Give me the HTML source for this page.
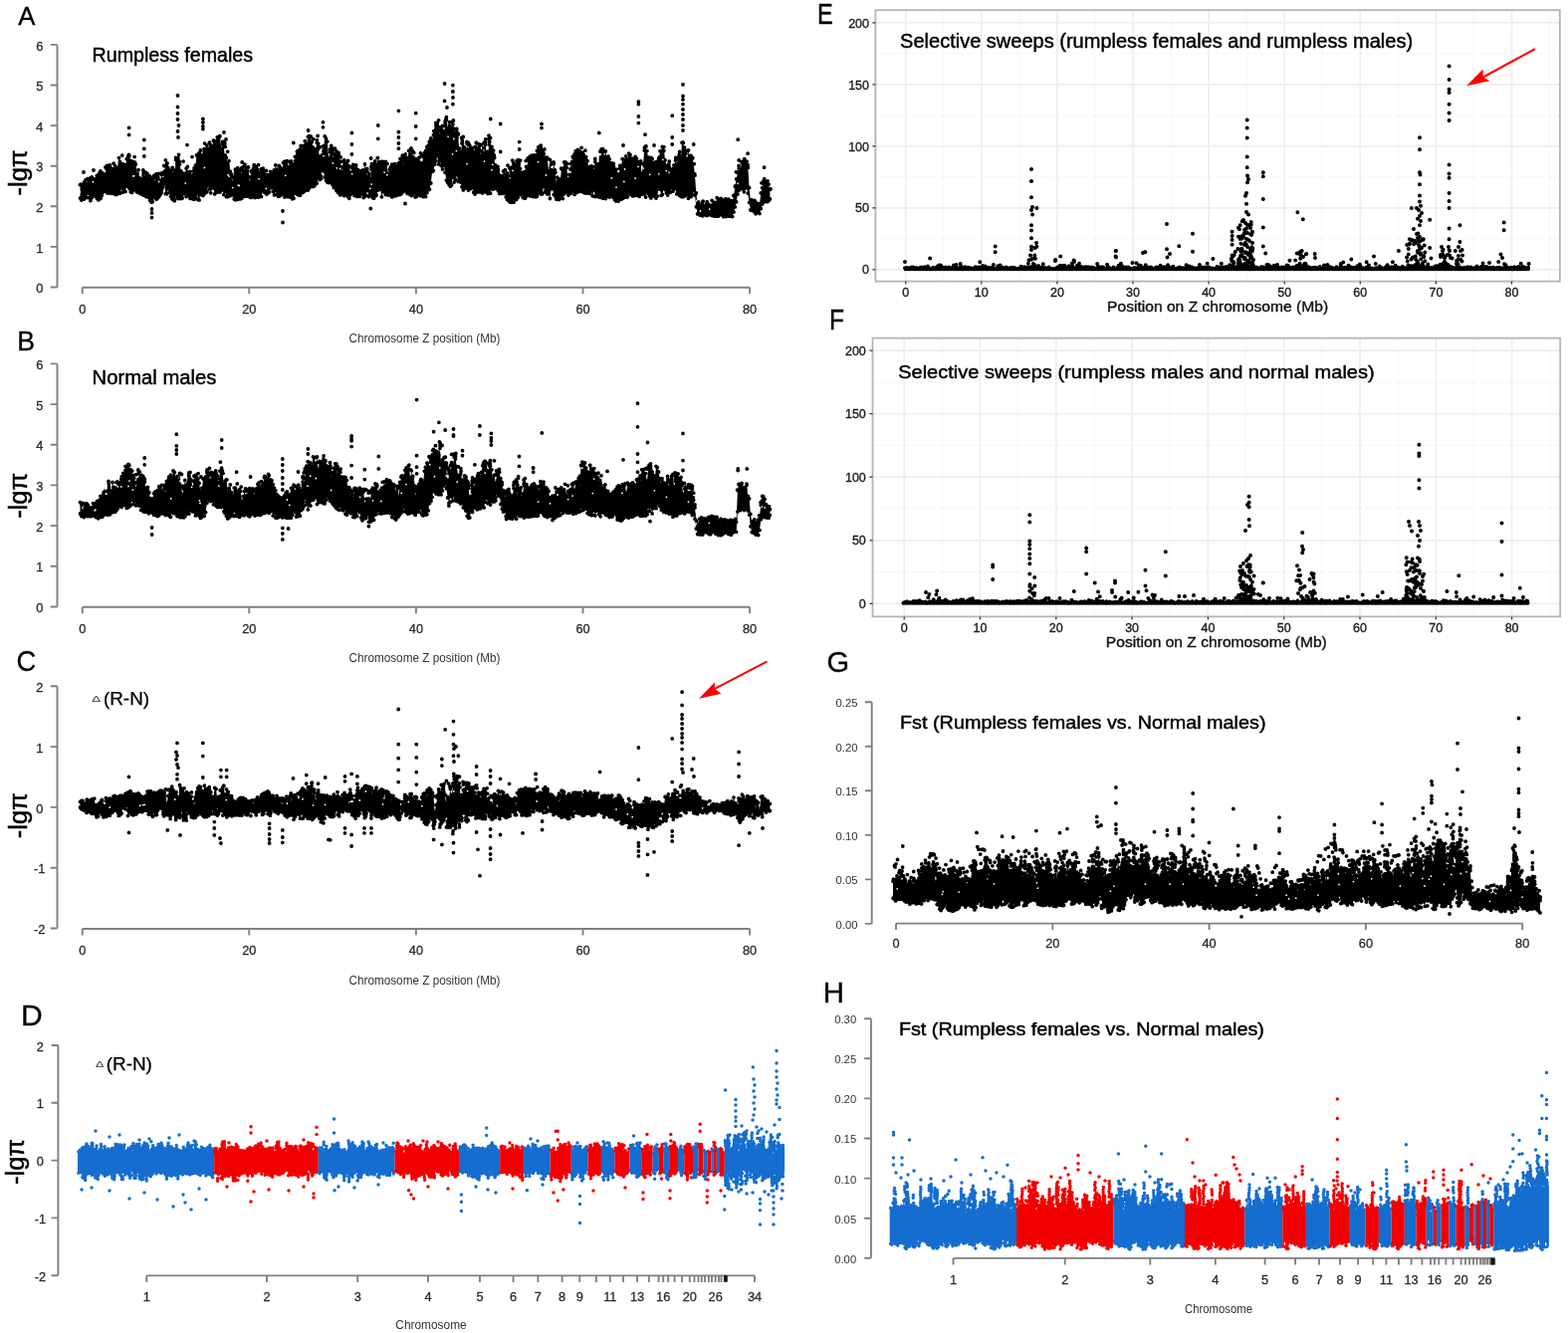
<!DOCTYPE html><html><head><meta charset="utf-8"><style>html,body{margin:0;padding:0;background:#fff}svg{display:block}text{font-family:"Liberation Sans",Arial,sans-serif}</style></head><body>
<svg width="1575" height="1339" viewBox="0 0 1575 1339">
<rect width="1575" height="1339" fill="#fff"/>
<text transform="translate(18.3 24.8) scale(0.971 1)" font-size="26.5" fill="#000" stroke="#000" stroke-width="0.3">A</text>
<text transform="translate(17.3 352.1) scale(0.982 1)" font-size="27.1" fill="#000" stroke="#000" stroke-width="0.3">B</text>
<text transform="translate(16.4 674.1) scale(0.906 1)" font-size="30.1" fill="#000" stroke="#000" stroke-width="0.3">C</text>
<text transform="translate(21 1029.5) scale(1.015 1)" font-size="29.6" fill="#000" stroke="#000" stroke-width="0.3">D</text>
<text transform="translate(821 23.5) scale(0.824 1)" font-size="28.6" fill="#000" stroke="#000" stroke-width="0.3">E</text>
<text transform="translate(832.9 330.5) scale(0.839 1)" font-size="29.4" fill="#000" stroke="#000" stroke-width="0.3">F</text>
<text transform="translate(830.5 675.4) scale(0.997 1)" font-size="29.2" fill="#000" stroke="#000" stroke-width="0.3">G</text>
<text transform="translate(826.8 1006.7) scale(0.997 1)" font-size="29.6" fill="#000" stroke="#000" stroke-width="0.3">H</text>
<path d="M57.5 44.9V288.5M57.5 44.9H50.7M57.5 85.5H50.7M57.5 126.1H50.7M57.5 166.7H50.7M57.5 207.3H50.7M57.5 247.9H50.7M57.5 288.5H50.7" stroke="#808080" stroke-width="1.9" fill="none"/><text x="39.8" y="50.5" font-size="12.8" fill="#2a2a2a" text-anchor="middle" stroke="#2a2a2a" stroke-width="0.3">6</text><text x="39.8" y="91.1" font-size="12.8" fill="#2a2a2a" text-anchor="middle" stroke="#2a2a2a" stroke-width="0.3">5</text><text x="39.8" y="131.7" font-size="12.8" fill="#2a2a2a" text-anchor="middle" stroke="#2a2a2a" stroke-width="0.3">4</text><text x="39.8" y="172.3" font-size="12.8" fill="#2a2a2a" text-anchor="middle" stroke="#2a2a2a" stroke-width="0.3">3</text><text x="39.8" y="212.9" font-size="12.8" fill="#2a2a2a" text-anchor="middle" stroke="#2a2a2a" stroke-width="0.3">2</text><text x="39.8" y="253.5" font-size="12.8" fill="#2a2a2a" text-anchor="middle" stroke="#2a2a2a" stroke-width="0.3">1</text><text x="39.8" y="294.1" font-size="12.8" fill="#2a2a2a" text-anchor="middle" stroke="#2a2a2a" stroke-width="0.3">0</text><path d="M82.7 288.8H753.1M82.7 288.8V295.3M250.3 288.8V295.3M417.9 288.8V295.3M585.5 288.8V295.3M753.1 288.8V295.3" stroke="#808080" stroke-width="1.9" fill="none"/><text x="82.7" y="314.6" font-size="12.8" fill="#2a2a2a" text-anchor="middle" stroke="#2a2a2a" stroke-width="0.3">0</text><text x="250.3" y="314.6" font-size="12.8" fill="#2a2a2a" text-anchor="middle" stroke="#2a2a2a" stroke-width="0.3">20</text><text x="417.9" y="314.6" font-size="12.8" fill="#2a2a2a" text-anchor="middle" stroke="#2a2a2a" stroke-width="0.3">40</text><text x="585.5" y="314.6" font-size="12.8" fill="#2a2a2a" text-anchor="middle" stroke="#2a2a2a" stroke-width="0.3">60</text><text x="753.1" y="314.6" font-size="12.8" fill="#2a2a2a" text-anchor="middle" stroke="#2a2a2a" stroke-width="0.3">80</text><text x="426.5" y="344.1" font-size="12.5" fill="#333" text-anchor="middle" textLength="152" lengthAdjust="spacingAndGlyphs">Chromosome Z position (Mb)</text><text transform="translate(27 173.5) rotate(-90)" font-size="25.5" text-anchor="middle" fill="#000" stroke="#000" stroke-width="0.5">-lgπ</text><polygon points="80.5,185.6 81.8,185.5 83.1,185.4 84.4,183.1 85.7,184 87,185.2 88.3,179.6 89.6,182 90.9,181.7 92.2,178 93.5,179.5 94.8,182.6 96.1,179.8 97.4,179.3 98.7,178.4 100,178.3 101.3,172.7 102.6,176.5 103.9,174.1 105.2,178.3 106.5,169 107.8,166.6 109.1,166.5 110.4,165.8 111.7,168.9 113,171.3 114.3,169.8 115.6,169.3 116.9,174.1 118.2,168.5 119.5,158.6 120.8,165.1 122.1,167.6 123.4,164.6 124.7,165.6 126,165.7 127.3,159.7 128.6,157.1 129.9,156.5 131.2,161.3 132.5,163.4 133.8,162.5 135.1,168.8 136.4,165.1 137.7,174.6 139,170.7 140.3,178.9 141.6,183.1 142.9,181.2 144.2,179.2 145.5,178.2 146.8,173.4 148.1,174.6 149.4,179.9 150.7,177.2 152,179.4 153.3,182.1 154.6,176.6 155.9,184.3 157.2,181.9 158.5,177.7 159.8,174.4 161.1,181.4 162.4,175.6 163.7,180 165,174.9 166.3,160.8 167.6,165.1 168.9,168.3 170.2,173.8 171.5,174.6 172.8,170.7 174.1,174.9 175.4,175.1 176.7,160.5 178,164.2 179.3,161.4 180.6,165.1 181.9,172 183.2,177.1 184.5,177.1 185.8,176.9 187.1,169.1 188.4,172.8 189.7,173.6 191,172.4 192.3,176.1 193.6,176.4 194.9,174.4 196.2,168.9 197.5,155.9 198.8,157.6 200.1,156.5 201.4,151 202.7,155.8 204,157.4 205.3,155.2 206.6,156.4 207.9,151.7 209.2,152.7 210.5,143.2 211.8,145.9 213.1,147.1 214.4,141.2 215.7,147.7 217,145.2 218.3,137.8 219.6,138.6 220.9,136.7 222.2,149.3 223.5,145.1 224.8,146.6 226.1,161.6 227.4,166.8 228.7,165 230,161.6 231.3,172.2 232.6,177.9 233.9,185.6 235.2,183 236.5,178.6 237.8,179.2 239.1,174.2 240.4,176.7 241.7,178.9 243,171.4 244.3,167.6 245.6,172.3 246.9,174.2 248.2,171.8 249.5,167.9 250.8,183.4 252.1,171.9 253.4,173.8 254.7,178 256,182.5 257.3,178.6 258.6,181.3 259.9,173.1 261.2,174.2 262.5,170.3 263.8,169.8 265.1,173.1 266.4,178.1 267.7,183.7 269,179 270.3,175.9 271.6,178 272.9,181.7 274.2,175.8 275.5,174.9 276.8,165.9 278.1,173.3 279.4,170.8 280.7,166.9 282,168.6 283.3,172.8 284.6,163.5 285.9,162.4 287.2,163.8 288.5,161.8 289.8,167.9 291.1,163 292.4,163.3 293.7,165.9 295,165.2 296.3,161.6 297.6,160.7 298.9,154.8 300.2,152.7 301.5,149.8 302.8,146.7 304.1,154.4 305.4,149.1 306.7,145.3 308,144.8 309.3,137.3 310.6,136.7 311.9,137.7 313.2,142.7 314.5,148.1 315.8,160 317.1,155.8 318.4,152 319.7,149.8 321,157.2 322.3,158.4 323.6,155.7 324.9,152.2 326.2,136.8 327.5,139.1 328.8,142.1 330.1,159.5 331.4,152.6 332.7,146.7 334,154.9 335.3,160.9 336.6,157.6 337.9,151.9 339.2,154.5 340.5,156.1 341.8,162.7 343.1,167.9 344.4,174.4 345.7,172 347,167.4 348.3,163.6 349.6,161.5 350.9,167.3 352.2,173.4 353.5,168 354.8,165.4 356.1,170 357.4,168.5 358.7,170.8 360,171.4 361.3,173.7 362.6,175.8 363.9,171.2 365.2,176.7 366.5,165 367.8,170.5 369.1,177.9 370.4,176.8 371.7,183.4 373,170.2 374.3,167.7 375.6,167.5 376.9,164.8 378.2,165.6 379.5,158.7 380.8,163.2 382.1,163.1 383.4,165.1 384.7,162.3 386,163.3 387.3,162.4 388.6,164.5 389.9,174.4 391.2,173.8 392.5,170.8 393.8,165.1 395.1,165.9 396.4,167.5 397.7,168.9 399,167.2 400.3,163.8 401.6,163.2 402.9,159.8 404.2,158.8 405.5,166.3 406.8,163 408.1,163.4 409.4,161.7 410.7,151.4 412,154.9 413.3,150.7 414.6,157.4 415.9,159 417.2,168.6 418.5,177.1 419.8,162.2 421.1,158.1 422.4,163.4 423.7,166.9 425,157.3 426.3,153.7 427.6,151.4 428.9,147.5 430.2,146.5 431.5,150 432.8,139 434.1,141.7 435.4,135.7 436.7,135.8 438,129.1 439.3,123.3 440.6,120.8 441.9,136.4 443.2,132.8 444.5,132.1 445.8,133.8 447.1,126.7 448.4,120.5 449.7,140.2 451,140.1 452.3,144.6 453.6,136.6 454.9,124.8 456.2,129.5 457.5,136.7 458.8,137.9 460.1,135.2 461.4,152 462.7,154.2 464,143.9 465.3,137.4 466.6,148.2 467.9,154.3 469.2,144.5 470.5,153 471.8,146.1 473.1,148.5 474.4,152.5 475.7,153.9 477,147.7 478.3,143.4 479.6,149.9 480.9,153.3 482.2,158.4 483.5,151.8 484.8,152.9 486.1,154.4 487.4,145.6 488.7,152.4 490,153.4 491.3,145.2 492.6,138.6 493.9,158.6 495.2,156.8 496.5,158.8 497.8,171.6 499.1,174.9 500.4,175.9 501.7,178.5 503,180.4 504.3,180.3 505.6,171.9 506.9,178.9 508.2,177 509.5,173.9 510.8,177 512.1,181.5 513.4,176.5 514.7,161.1 516,164.3 517.3,169.4 518.6,166.8 519.9,166.7 521.2,166.1 522.5,169.3 523.8,175.9 525.1,175.9 526.4,178.2 527.7,174.3 529,173 530.3,159.2 531.6,158.6 532.9,157 534.2,156.2 535.5,157.6 536.8,156.4 538.1,156 539.4,151.4 540.7,147.9 542,147.5 543.3,149 544.6,154.2 545.9,157.1 547.2,161.3 548.5,161.2 549.8,159 551.1,172.1 552.4,160.4 553.7,170.7 555,171.9 556.3,164.6 557.6,173.6 558.9,185.7 560.2,182.3 561.5,184.3 562.8,180.1 564.1,170.1 565.4,169.5 566.7,162.9 568,162.8 569.3,168.5 570.6,180.1 571.9,175.4 573.2,175.6 574.5,168.2 575.8,158.7 577.1,154.8 578.4,158.5 579.7,154.5 581,153 582.3,152 583.6,155.1 584.9,158.8 586.2,155.2 587.5,157.8 588.8,168.8 590.1,161.6 591.4,170.2 592.7,167.4 594,166.8 595.3,167.4 596.6,171.4 597.9,162.4 599.2,165.1 600.5,169.8 601.8,167.5 603.1,163.4 604.4,152.7 605.7,152.5 607,157.4 608.3,152 609.6,159.1 610.9,157.2 612.2,159.9 613.5,164.3 614.8,166.9 616.1,170.1 617.4,172.5 618.7,175.7 620,177.8 621.3,178 622.6,169.2 623.9,169.5 625.2,159.7 626.5,163.9 627.8,166.9 629.1,165.2 630.4,160.3 631.7,154.1 633,155.4 634.3,159.3 635.6,159.9 636.9,160.7 638.2,157.5 639.5,159.5 640.8,162.6 642.1,169 643.4,164.8 644.7,174.5 646,164.6 647.3,151.2 648.6,147 649.9,151.6 651.2,159 652.5,161.9 653.8,161.1 655.1,159.4 656.4,163.8 657.7,163.5 659,166.5 660.3,170.9 661.6,161.8 662.9,157.4 664.2,156.1 665.5,156.7 666.8,151.5 668.1,160.8 669.4,166.5 670.7,169.6 672,176.2 673.3,169.8 674.6,171.8 675.9,172.1 677.2,166.8 678.5,161.1 679.8,165.2 681.1,159.2 682.4,166.4 683.7,162.7 685,143.3 686.3,143.5 687.6,150.9 688.9,154.5 690.2,164.8 691.5,151 692.8,157.5 694.1,156.5 695.4,159.3 696.7,164.7 698,176.2 699.3,194 700.6,205.6 701.9,206.1 703.2,207.2 704.5,205.4 705.8,203 707.1,209.2 708.4,207.6 709.7,205 711,207.8 712.3,206 713.6,207.2 714.9,206.9 716.2,207.8 717.5,203.5 718.8,203.9 720.1,203.2 721.4,200.1 722.7,200.5 724,202.1 725.3,200.9 726.6,203 727.9,201.5 729.2,200 730.5,202.3 731.8,201.3 733.1,201.9 734.4,201.6 735.7,202.5 737,196.4 738.3,187.5 739.6,179.9 740.9,173.3 742.2,169.3 743.5,172.5 744.8,162.7 746.1,163.8 747.4,160.3 748.7,161.5 750,165.1 751.3,168.4 752.6,188.5 753.9,202.3 755.2,201 756.5,202.6 757.8,201.6 759.1,203.5 760.4,208.4 761.7,207.5 763,204.7 764.3,193.9 765.6,188.7 766.9,184 768.2,181.8 769.5,185.5 770.8,187.4 772.1,190.7 773.4,190.4 773.4,200 772.1,201.6 770.8,202.7 769.5,202.3 768.2,202.5 766.9,203.3 765.6,205.2 764.3,209.5 763,214.6 761.7,213.2 760.4,212.5 759.1,214.8 757.8,213.1 756.5,211.1 755.2,211.4 753.9,211 752.6,203.4 751.3,194.2 750,188.5 748.7,189 747.4,192.8 746.1,189.5 744.8,186.8 743.5,184.5 742.2,185.6 740.9,195 739.6,202.9 738.3,207.9 737,213 735.7,217.6 734.4,217.3 733.1,217.2 731.8,217.1 730.5,216.3 729.2,217.5 727.9,217.3 726.6,217.5 725.3,215.8 724,214.7 722.7,216 721.4,217.2 720.1,216.6 718.8,217.2 717.5,217.2 716.2,215.1 714.9,216.5 713.6,214.5 712.3,214.9 711,216.3 709.7,216.6 708.4,215.6 707.1,214.8 705.8,216.9 704.5,214.8 703.2,216.2 701.9,214.9 700.6,214.9 699.3,207.8 698,196 696.7,191.5 695.4,195.8 694.1,197.6 692.8,196.5 691.5,199.3 690.2,195.5 688.9,193.5 687.6,197 686.3,197.5 685,197.8 683.7,194.3 682.4,191 681.1,192.1 679.8,194.9 678.5,189.7 677.2,189.2 675.9,192.2 674.6,188.6 673.3,193.3 672,192.4 670.7,196.1 669.4,193.8 668.1,190.6 666.8,189 665.5,195.3 664.2,196.4 662.9,190.2 661.6,187.3 660.3,197 659,199.1 657.7,194.1 656.4,196.1 655.1,197 653.8,198.9 652.5,196.8 651.2,194.5 649.9,189.9 648.6,198.1 647.3,195.1 646,193.8 644.7,195.2 643.4,195 642.1,197.4 640.8,196.3 639.5,196 638.2,196.2 636.9,196.7 635.6,196.9 634.3,195.7 633,194.9 631.7,193.3 630.4,197.8 629.1,198.2 627.8,197.8 626.5,198.7 625.2,199.6 623.9,200.2 622.6,200.1 621.3,202.1 620,201.4 618.7,201.9 617.4,200.6 616.1,198.3 614.8,195.8 613.5,194.4 612.2,195.2 610.9,194.3 609.6,197.4 608.3,199.5 607,199.2 605.7,199.2 604.4,198.5 603.1,197.8 601.8,198 600.5,197.3 599.2,196.9 597.9,197.5 596.6,190.8 595.3,196.9 594,191.5 592.7,194.4 591.4,192.3 590.1,194.1 588.8,190.4 587.5,193.9 586.2,193.2 584.9,192.5 583.6,190.8 582.3,192.3 581,192.3 579.7,193.2 578.4,193.7 577.1,195.4 575.8,191.9 574.5,189.5 573.2,191.5 571.9,192.9 570.6,190.4 569.3,192.7 568,193 566.7,194.9 565.4,199.5 564.1,199.2 562.8,198.1 561.5,200.6 560.2,198.9 558.9,200.2 557.6,196.9 556.3,195.4 555,189.6 553.7,189.7 552.4,199.5 551.1,194.6 549.8,192.3 548.5,191.2 547.2,193 545.9,187.4 544.6,194.9 543.3,195.1 542,192.7 540.7,193.9 539.4,197.3 538.1,197.8 536.8,196.9 535.5,197.6 534.2,195.7 532.9,194.1 531.6,196.2 530.3,195.4 529,196.8 527.7,199 526.4,199.1 525.1,198.2 523.8,194.3 522.5,195.5 521.2,194.5 519.9,192.9 518.6,200.6 517.3,199.2 516,203.2 514.7,202.3 513.4,203.3 512.1,203 510.8,201.5 509.5,200.5 508.2,197.9 506.9,194 505.6,192.7 504.3,194.4 503,192.7 501.7,194.6 500.4,191.7 499.1,187.4 497.8,189.4 496.5,189.2 495.2,184.6 493.9,186 492.6,194.2 491.3,193.9 490,194.5 488.7,193 487.4,192.4 486.1,192.6 484.8,193.9 483.5,193.1 482.2,192.8 480.9,192.8 479.6,192.5 478.3,193.3 477,195.1 475.7,193.2 474.4,188.2 473.1,186.7 471.8,188.9 470.5,191.1 469.2,189.2 467.9,186.1 466.6,188.9 465.3,190.9 464,187.7 462.7,183 461.4,181.1 460.1,182.3 458.8,175.6 457.5,180.2 456.2,183 454.9,175.4 453.6,185.9 452.3,187.2 451,185.5 449.7,183.3 448.4,181.2 447.1,173.3 445.8,166.1 444.5,170.1 443.2,166.5 441.9,161.5 440.6,164.9 439.3,156.6 438,161.7 436.7,165.2 435.4,171.3 434.1,172.4 432.8,184 431.5,190.2 430.2,187.9 428.9,193.7 427.6,197.6 426.3,197.1 425,197.5 423.7,195.2 422.4,196.7 421.1,193.4 419.8,195.4 418.5,197.3 417.2,198.1 415.9,193.5 414.6,195.6 413.3,196.5 412,195.5 410.7,193 409.4,194.4 408.1,193.1 406.8,191.6 405.5,191.3 404.2,193 402.9,194.9 401.6,195.6 400.3,195.7 399,195.9 397.7,196.7 396.4,195.4 395.1,197.1 393.8,197.9 392.5,196.2 391.2,194.8 389.9,196.1 388.6,193.8 387.3,195.5 386,192.7 384.7,192.5 383.4,197.8 382.1,188.5 380.8,187.8 379.5,191.1 378.2,196.1 376.9,194 375.6,199.2 374.3,198.7 373,196.6 371.7,195.8 370.4,197.5 369.1,191.3 367.8,196.3 366.5,197.3 365.2,198.5 363.9,194.8 362.6,195.2 361.3,197.3 360,197 358.7,197.4 357.4,194 356.1,196.6 354.8,193.9 353.5,191 352.2,195.5 350.9,199.3 349.6,197.7 348.3,195.8 347,193.9 345.7,196.7 344.4,195.1 343.1,192.8 341.8,195.9 340.5,194 339.2,193.1 337.9,191.3 336.6,188.5 335.3,188.6 334,185.5 332.7,180.8 331.4,181.8 330.1,183.5 328.8,183 327.5,181.3 326.2,177.9 324.9,171.9 323.6,170.5 322.3,176.8 321,180.4 319.7,175.4 318.4,184.1 317.1,184.7 315.8,186.8 314.5,187.4 313.2,187.4 311.9,187.4 310.6,188.9 309.3,191.1 308,187.7 306.7,191.3 305.4,192.2 304.1,193.4 302.8,193.9 301.5,196.2 300.2,196.1 298.9,195.4 297.6,193.6 296.3,194 295,199.2 293.7,199.8 292.4,197.7 291.1,198.1 289.8,195.3 288.5,197.6 287.2,196.9 285.9,198 284.6,194.8 283.3,193.6 282,196.1 280.7,197 279.4,197.2 278.1,195.6 276.8,191.7 275.5,195.9 274.2,192.4 272.9,188.2 271.6,188.9 270.3,193 269,194.1 267.7,195.1 266.4,193.5 265.1,192.9 263.8,191.6 262.5,197.4 261.2,197.5 259.9,198 258.6,197.8 257.3,197.8 256,198.6 254.7,197.5 253.4,196.8 252.1,198.4 250.8,197.8 249.5,195 248.2,197.2 246.9,195.8 245.6,197.2 244.3,197.4 243,199 241.7,199.8 240.4,197.1 239.1,200.3 237.8,200.1 236.5,200.8 235.2,200 233.9,195.9 232.6,195.2 231.3,196.3 230,197.2 228.7,197.5 227.4,197.7 226.1,192.2 224.8,195.6 223.5,189.8 222.2,191.3 220.9,193.1 219.6,192.1 218.3,193.1 217,192.4 215.7,194.9 214.4,189 213.1,188.4 211.8,193.8 210.5,189.9 209.2,186.1 207.9,192.8 206.6,190.8 205.3,194.7 204,196.6 202.7,193.1 201.4,194.5 200.1,200.9 198.8,200.5 197.5,190.5 196.2,195.9 194.9,200.4 193.6,198.6 192.3,199.4 191,199.3 189.7,196.5 188.4,196.6 187.1,197.5 185.8,193.3 184.5,194.7 183.2,199 181.9,199.6 180.6,198.5 179.3,199.6 178,198.9 176.7,195.7 175.4,201.7 174.1,200.8 172.8,199.8 171.5,197.2 170.2,193.1 168.9,189.4 167.6,194.8 166.3,194.7 165,183.6 163.7,185.2 162.4,190.8 161.1,195.6 159.8,197.4 158.5,199.1 157.2,200.2 155.9,197.7 154.6,198.6 153.3,202.8 152,203.1 150.7,201.5 149.4,198.4 148.1,194.5 146.8,197.6 145.5,196.5 144.2,196 142.9,195.4 141.6,194.8 140.3,193 139,193.5 137.7,190 136.4,191.7 135.1,190 133.8,190.7 132.5,193.4 131.2,192.7 129.9,189.3 128.6,187.6 127.3,184.4 126,192.5 124.7,192.2 123.4,193 122.1,188.9 120.8,194 119.5,194.4 118.2,194.3 116.9,195.5 115.6,195.2 114.3,194.6 113,194.2 111.7,191 110.4,188.6 109.1,193.1 107.8,193.9 106.5,192.3 105.2,191.4 103.9,192.8 102.6,193.5 101.3,199.1 100,200.1 98.7,200.8 97.4,199.3 96.1,197.6 94.8,196.2 93.5,196.8 92.2,198.7 90.9,201.6 89.6,198.7 88.3,194.1 87,198.5 85.7,198.3 84.4,200 83.1,199.2 81.8,201 80.5,199.1" fill="#000"/><path d="M80.5 185.6h0M80.5 199.1h0M80.4 185.6h0M81.8 185.5h0M81.8 201h0M81.4 185.3h0M83.1 185.4h0M83.1 199.2h0M84.4 183.1h0M84.4 200h0M85.7 184h0M85.7 198.3h0M85.9 180.9h0M87 185.2h0M87 198.5h0M87.2 185.2h0M88.3 179.6h0M88.3 194.1h0M87.8 179.6h0M89.6 182h0M89.6 198.7h0M90.9 181.7h0M90.9 201.6h0M90.7 178.9h0M90.3 180.9h0M92.2 178h0M92.2 198.7h0M93.5 179.5h0M93.5 196.8h0M92.9 179.4h0M94.8 182.6h0M94.8 196.2h0M96.1 179.8h0M96.1 197.6h0M97.4 179.3h0M97.4 199.3h0M97.3 176.5h0M98.7 178.4h0M98.7 200.8h0M98.9 175.6h0M98.1 178.4h0M100 178.3h0M100 200.1h0M99.9 175.5h0M100.1 173.5h0M101.3 172.7h0M101.3 199.1h0M100.9 171.9h0M102.6 176.5h0M102.6 193.5h0M102.3 196.3h0M103.9 174.1h0M103.9 192.8h0M105.2 178.3h0M105.2 191.4h0M105.7 176.7h0M106.5 169h0M106.5 192.3h0M105.9 167.8h0M107.8 166.6h0M107.8 193.9h0M107.5 166.5h0M109.1 166.5h0M109.1 193.1h0M109.1 166.3h0M110.4 165.8h0M110.4 188.6h0M110.1 191.4h0M110.1 194.2h0M111.7 168.9h0M111.7 191h0M111.7 193.8h0M113 171.3h0M113 194.2h0M112.4 170.2h0M114.3 169.8h0M114.3 194.6h0M114.1 164.2h0M115.6 169.3h0M115.6 195.2h0M115.5 166.5h0M116.9 174.1h0M116.9 195.5h0M116.7 171.3h0M116.4 173.3h0M118.2 168.5h0M118.2 194.3h0M119.5 158.6h0M119.5 194.4h0M120.8 165.1h0M120.8 194h0M120.4 162.3h0M120.4 165h0M122.1 167.6h0M122.1 188.9h0M122.7 156.1h0M123.4 164.6h0M123.4 193h0M123.4 164.6h0M124.7 165.6h0M124.7 192.2h0M126 165.7h0M126 192.5h0M127.3 159.7h0M127.3 184.4h0M127.6 187.2h0M128.6 157.1h0M128.6 187.6h0M129.9 156.5h0M129.9 189.3h0M129.4 155.4h0M131.2 161.3h0M131.2 192.7h0M132.5 163.4h0M132.5 193.4h0M133.8 162.5h0M133.8 190.7h0M135.1 168.8h0M135.1 190h0M135.5 163.2h0M135.1 157.6h0M135.6 165.3h0M136.4 165.1h0M136.4 191.7h0M137.7 174.6h0M137.7 190h0M137.6 192.8h0M137.2 174.4h0M139 170.7h0M139 193.5h0M140.3 178.9h0M140.3 193h0M141.6 183.1h0M141.6 194.8h0M141.7 179.7h0M142.9 181.2h0M142.9 195.4h0M142.5 181h0M144.2 179.2h0M144.2 196h0M144.1 176.4h0M144.1 173.6h0M143.8 170.8h0M144.2 173.8h0M145.5 178.2h0M145.5 196.5h0M144.9 172.8h0M146.8 173.4h0M146.8 197.6h0M146.3 173.3h0M148.1 174.6h0M148.1 194.5h0M148.4 197.3h0M149.4 179.9h0M149.4 198.4h0M149.5 179.9h0M150.7 177.2h0M150.7 201.5h0M150.1 177.1h0M152 179.4h0M152 203.1h0M152.4 179.2h0M153.3 182.1h0M153.3 202.8h0M152.9 181.8h0M154.6 176.6h0M154.6 198.6h0M155.1 176.2h0M155.9 184.3h0M155.9 197.7h0M155.8 178.7h0M155.8 175.9h0M156.4 184.1h0M157.2 181.9h0M157.2 200.2h0M157.5 179.1h0M157.1 174.7h0M158.5 177.7h0M158.5 199.1h0M159.8 174.4h0M159.8 197.4h0M161.1 181.4h0M161.1 195.6h0M162.4 175.6h0M162.4 190.8h0M162.1 193.6h0M162.5 173.8h0M163.7 180h0M163.7 185.2h0M163.6 188h0M165 174.9h0M165 183.6h0M165.2 172.1h0M164.8 166.5h0M166.3 160.8h0M166.3 194.7h0M167.6 165.1h0M167.6 194.8h0M168 163.9h0M168.9 168.3h0M168.9 189.4h0M170.2 173.8h0M170.2 193.1h0M169.9 171h0M171.5 174.6h0M171.5 197.2h0M171.6 171.8h0M172.8 170.7h0M172.8 199.8h0M173.3 168.3h0M174.1 174.9h0M174.1 200.8h0M173.8 169.8h0M175.4 175.1h0M175.4 201.7h0M175.9 171.7h0M176.7 160.5h0M176.7 195.7h0M176.6 158.5h0M178 164.2h0M178 198.9h0M178.1 159.9h0M179.3 161.4h0M179.3 199.6h0M178.9 158.6h0M179.6 155.3h0M180.6 165.1h0M180.6 198.5h0M180.2 162.3h0M181.9 172h0M181.9 199.6h0M183.2 177.1h0M183.2 199h0M184.5 177.1h0M184.5 194.7h0M184.3 174.3h0M184.1 162.1h0M185.8 176.9h0M185.8 193.3h0M186.1 174.1h0M187.1 169.1h0M187.1 197.5h0M187.4 169.1h0M188.4 172.8h0M188.4 196.6h0M188.4 167.5h0M189.7 173.6h0M189.7 196.5h0M191 172.4h0M191 199.3h0M192.3 176.1h0M192.3 199.4h0M193.6 176.4h0M193.6 198.6h0M194.9 174.4h0M194.9 200.4h0M194.5 171.6h0M195.1 168.8h0M196.2 168.9h0M196.2 195.9h0M196.4 166.1h0M196.2 198.7h0M196.5 166.1h0M197.5 155.9h0M197.5 190.5h0M197.4 193.3h0M198.8 157.6h0M198.8 200.5h0M199.1 154.8h0M199.1 154.9h0M200.1 156.5h0M200.1 200.9h0M200 153.7h0M201.4 151h0M201.4 194.5h0M202.7 155.8h0M202.7 193.1h0M202.8 195.9h0M202.2 155.7h0M204 157.4h0M204 196.6h0M205.3 155.2h0M205.3 194.7h0M205.1 152.4h0M205 149.6h0M205.6 144.1h0M206.6 156.4h0M206.6 190.8h0M206.4 153.6h0M206.6 150.8h0M206.8 193.6h0M207.9 151.7h0M207.9 192.8h0M208.2 148.9h0M207.8 146.1h0M209.2 152.7h0M209.2 186.1h0M209.5 149.5h0M210.5 143.2h0M210.5 189.9h0M210.3 143.4h0M211.8 145.9h0M211.8 193.8h0M213.1 147.1h0M213.1 188.4h0M214.4 141.2h0M214.4 189h0M214.5 141.2h0M215.7 147.7h0M215.7 194.9h0M215.8 144.9h0M215.6 143h0M217 145.2h0M217 192.4h0M217.2 141.6h0M218.3 137.8h0M218.3 193.1h0M218.4 138.2h0M219.6 138.6h0M219.6 192.1h0M219.9 138.6h0M220.9 136.7h0M220.9 193.1h0M220.6 136.7h0M222.2 149.3h0M222.2 191.3h0M223.5 145.1h0M223.5 189.8h0M223.5 142.3h0M223.9 143.6h0M224.8 146.6h0M224.8 195.6h0M224.6 143.8h0M225 142.3h0M226.1 161.6h0M226.1 192.2h0M226.2 156h0M226.2 147.6h0M225.8 144.8h0M225.7 143.3h0M227.4 166.8h0M227.4 197.7h0M227.7 164h0M227.4 158.4h0M228.7 165h0M228.7 197.5h0M228.7 152.3h0M230 161.6h0M230 197.2h0M231.3 172.2h0M231.3 196.3h0M232.6 177.9h0M232.6 195.2h0M232.6 175.1h0M232.6 176.9h0M233.9 185.6h0M233.9 195.9h0M234.1 182.8h0M235.2 183h0M235.2 200h0M235.3 180.2h0M235.4 177.4h0M235.4 179.7h0M236.5 178.6h0M236.5 200.8h0M236.8 175.8h0M236.5 173h0M236.3 170.2h0M237.8 179.2h0M237.8 200.1h0M237.8 176.4h0M237.9 170.8h0M237.7 179h0M239.1 174.2h0M239.1 200.3h0M238.8 168.6h0M239.4 173.5h0M240.4 176.7h0M240.4 197.1h0M240.2 173.9h0M240.6 171.1h0M241.7 178.9h0M241.7 199.8h0M242.1 176h0M243 171.4h0M243 199h0M242.8 168.6h0M243.2 163h0M244.3 167.6h0M244.3 197.4h0M245.6 172.3h0M245.6 197.2h0M245.8 166.7h0M246 165.2h0M246.9 174.2h0M246.9 195.8h0M246.7 171.4h0M247 168.6h0M248.2 171.8h0M248.2 197.2h0M249.5 167.9h0M249.5 195h0M250.8 183.4h0M250.8 197.8h0M250.7 177.8h0M252.1 171.9h0M252.1 198.4h0M253.4 173.8h0M253.4 196.8h0M254.7 178h0M254.7 197.5h0M255.1 175.2h0M254.6 172.4h0M254.4 169.6h0M255.1 166.8h0M255.2 165.6h0M256 182.5h0M256 198.6h0M256.4 179.7h0M255.8 176.9h0M256.2 174.1h0M255.8 168.5h0M256.2 182.5h0M257.3 178.6h0M257.3 197.8h0M257 175.8h0M257 173h0M257.6 170.2h0M257.3 167.4h0M257.5 178.1h0M258.6 181.3h0M258.6 197.8h0M258.9 175.7h0M258.3 172.9h0M258.5 170.1h0M259.1 172.8h0M259.9 173.1h0M259.9 198h0M259.6 165.6h0M261.2 174.2h0M261.2 197.5h0M262.5 170.3h0M262.5 197.4h0M262.2 170h0M263.8 169.8h0M263.8 191.6h0M264.2 169.1h0M265.1 173.1h0M265.1 192.9h0M264.7 171.7h0M266.4 178.1h0M266.4 193.5h0M266.7 175.9h0M267.7 183.7h0M267.7 195.1h0M267.3 180.9h0M267.4 171.5h0M269 179h0M269 194.1h0M268.5 175.6h0M270.3 175.9h0M270.3 193h0M271.6 178h0M271.6 188.9h0M272 175.2h0M271.5 172.4h0M272.9 181.7h0M272.9 188.2h0M272.7 178.9h0M272.9 181.6h0M274.2 175.8h0M274.2 192.4h0M274.4 173h0M274.4 175h0M275.5 174.9h0M275.5 195.9h0M275.3 170.9h0M276.8 165.9h0M276.8 191.7h0M276.7 165.9h0M278.1 173.3h0M278.1 195.6h0M278.2 170.1h0M279.4 170.8h0M279.4 197.2h0M280.7 166.9h0M280.7 197h0M280.2 166.5h0M282 168.6h0M282 196.1h0M283.3 172.8h0M283.3 193.6h0M283.5 170h0M284.6 163.5h0M284.6 194.8h0M284.5 163.5h0M285.9 162.4h0M285.9 198h0M285.7 162.5h0M287.2 163.8h0M287.2 196.9h0M288.5 161.8h0M288.5 197.6h0M288.3 161.6h0M289.8 167.9h0M289.8 195.3h0M291.1 163h0M291.1 198.1h0M292.4 163.3h0M292.4 197.7h0M292.1 162h0M293.7 165.9h0M293.7 199.8h0M295 165.2h0M295 199.2h0M296.3 161.6h0M296.3 194h0M296.3 157.3h0M297.6 160.7h0M297.6 193.6h0M298.1 158h0M298.9 154.8h0M298.9 195.4h0M298.4 152.1h0M300.2 152.7h0M300.2 196.1h0M300.1 151.1h0M301.5 149.8h0M301.5 196.2h0M301.6 149.7h0M302.8 146.7h0M302.8 193.9h0M302.2 146.4h0M304.1 154.4h0M304.1 193.4h0M304.3 151.6h0M304.7 153.8h0M305.4 149.1h0M305.4 192.2h0M305.3 146.3h0M305.8 149h0M306.7 145.3h0M306.7 191.3h0M306.3 141.7h0M308 144.8h0M308 187.7h0M309.3 137.3h0M309.3 191.1h0M310.6 136.7h0M310.6 188.9h0M311.9 137.7h0M311.9 187.4h0M312.3 137.2h0M313.2 142.7h0M313.2 187.4h0M314.5 148.1h0M314.5 187.4h0M314.8 139.7h0M315.8 160h0M315.8 186.8h0M315.9 157.2h0M315.4 154.4h0M315.7 151.6h0M316.1 159.9h0M317.1 155.8h0M317.1 184.7h0M316.7 153h0M317 150.2h0M318.4 152h0M318.4 184.1h0M318.7 149.2h0M318.3 143.6h0M318.4 140.8h0M319.7 149.8h0M319.7 175.4h0M319.5 147h0M319.7 144.2h0M319.4 178.2h0M319.1 136.5h0M321 157.2h0M321 180.4h0M321.5 147.7h0M322.3 158.4h0M322.3 176.8h0M322.6 179.6h0M323.6 155.7h0M323.6 170.5h0M324.9 152.2h0M324.9 171.9h0M325.2 149.4h0M324.9 146.6h0M326.2 136.8h0M326.2 177.9h0M327.5 139.1h0M327.5 181.3h0M328.8 142.1h0M328.8 183h0M330.1 159.5h0M330.1 183.5h0M331.4 152.6h0M331.4 181.8h0M331.5 150h0M332.7 146.7h0M332.7 180.8h0M332.5 183.6h0M332.8 146.3h0M334 154.9h0M334 185.5h0M334 152.1h0M334.2 149.3h0M335.3 160.9h0M335.3 188.6h0M335.4 159.8h0M336.6 157.6h0M336.6 188.5h0M336.9 154.8h0M336.5 149.2h0M337.9 151.9h0M337.9 191.3h0M339.2 154.5h0M339.2 193.1h0M339.3 153.8h0M340.5 156.1h0M340.5 194h0M340.1 153.3h0M341.8 162.7h0M341.8 195.9h0M342.2 157.9h0M343.1 167.9h0M343.1 192.8h0M342.5 162.2h0M344.4 174.4h0M344.4 195.1h0M344.5 168.1h0M345.7 172h0M345.7 196.7h0M345.8 169.2h0M345.5 166.4h0M346 163.6h0M345.8 160.8h0M347 167.4h0M347 193.9h0M347 164.6h0M346.6 167.4h0M348.3 163.6h0M348.3 195.8h0M349.6 161.5h0M349.6 197.7h0M350.9 167.3h0M350.9 199.3h0M350.8 167h0M352.2 173.4h0M352.2 195.5h0M352.5 167.8h0M353.5 168h0M353.5 191h0M353 167.6h0M354.8 165.4h0M354.8 193.9h0M354.9 165.7h0M356.1 170h0M356.1 196.6h0M357.4 168.5h0M357.4 194h0M357.7 166h0M358.7 170.8h0M358.7 197.4h0M359.3 170.4h0M360 171.4h0M360 197h0M359.6 171.1h0M361.3 173.7h0M361.3 197.3h0M361.7 171.7h0M362.6 175.8h0M362.6 195.2h0M362.2 173h0M363.9 171.2h0M363.9 194.8h0M364.5 170.8h0M365.2 176.7h0M365.2 198.5h0M365.1 173.9h0M365.5 171.1h0M366.5 165h0M366.5 197.3h0M367.8 170.5h0M367.8 196.3h0M369.1 177.9h0M369.1 191.3h0M368.9 172.3h0M368.8 169.5h0M369.6 177.5h0M370.4 176.8h0M370.4 197.5h0M370.9 174.4h0M371.7 183.4h0M371.7 195.8h0M371.8 179.6h0M373 170.2h0M373 196.6h0M372.9 167.4h0M373.4 164.6h0M372.6 159h0M374.3 167.7h0M374.3 198.7h0M374.6 164.9h0M375.6 167.5h0M375.6 199.2h0M376.9 164.8h0M376.9 194h0M376.7 162h0M377.1 196.8h0M378.2 165.6h0M378.2 196.1h0M379.5 158.7h0M379.5 191.1h0M379.2 158.6h0M380.8 163.2h0M380.8 187.8h0M381 190.6h0M382.1 163.1h0M382.1 188.5h0M382.4 162.5h0M383.4 165.1h0M383.4 197.8h0M383.5 162.3h0M383.7 164.3h0M384.7 162.3h0M384.7 192.5h0M386 163.3h0M386 192.7h0M387.3 162.4h0M387.3 195.5h0M388.6 164.5h0M388.6 193.8h0M389 164.5h0M389.9 174.4h0M389.9 196.1h0M391.2 173.8h0M391.2 194.8h0M391.6 170.2h0M392.5 170.8h0M392.5 196.2h0M392.3 168h0M392.5 168.7h0M393.8 165.1h0M393.8 197.9h0M395.1 165.9h0M395.1 197.1h0M395.6 165.9h0M396.4 167.5h0M396.4 195.4h0M396.6 164.7h0M397.7 168.9h0M397.7 196.7h0M397.9 168.2h0M399 167.2h0M399 195.9h0M399.1 167h0M400.3 163.8h0M400.3 195.7h0M401.6 163.2h0M401.6 195.6h0M402.1 159.4h0M402.9 159.8h0M402.9 194.9h0M404.2 158.8h0M404.2 193h0M404.3 156.2h0M405.5 166.3h0M405.5 191.3h0M405.3 160.7h0M405.6 158.6h0M406.8 163h0M406.8 191.6h0M406.7 160.2h0M406.5 157.4h0M407.2 155h0M408.1 163.4h0M408.1 193.1h0M408.1 159.8h0M409.4 161.7h0M409.4 194.4h0M409.9 158.4h0M410.7 151.4h0M410.7 193h0M411.2 151.4h0M412 154.9h0M412 195.5h0M413.3 150.7h0M413.3 196.5h0M413 148.8h0M414.6 157.4h0M414.6 195.6h0M414.6 151.7h0M415.9 159h0M415.9 193.5h0M415.8 153.4h0M417.2 168.6h0M417.2 198.1h0M417.3 165.8h0M417.5 163h0M417.5 160.2h0M418.5 177.1h0M418.5 197.3h0M418.3 174.3h0M418.8 171.5h0M418.7 168.7h0M418.7 165.9h0M418.6 163.1h0M418.8 160.3h0M419.8 162.2h0M419.8 195.4h0M419.7 159.4h0M419.5 160.7h0M421.1 158.1h0M421.1 193.4h0M421.3 158.1h0M422.4 163.4h0M422.4 196.7h0M422.4 153.8h0M423.7 166.9h0M423.7 195.2h0M423.7 164.1h0M423.8 156.5h0M425 157.3h0M425 197.5h0M425.2 155.7h0M426.3 153.7h0M426.3 197.1h0M427.6 151.4h0M427.6 197.6h0M428.9 147.5h0M428.9 193.7h0M429 147.6h0M430.2 146.5h0M430.2 187.9h0M430.5 190.7h0M431.5 150h0M431.5 190.2h0M431.4 144.4h0M431.3 142.1h0M432.8 139h0M432.8 184h0M434.1 141.7h0M434.1 172.4h0M435.4 135.7h0M435.4 171.3h0M435.8 131.6h0M436.7 135.8h0M436.7 165.2h0M436.6 133h0M438 129.1h0M438 161.7h0M437.9 126.3h0M437.9 123.5h0M439.3 123.3h0M439.3 156.6h0M440.6 120.8h0M440.6 164.9h0M441.9 136.4h0M441.9 161.5h0M442.1 130.8h0M443.2 132.8h0M443.2 166.5h0M443.1 130h0M442.6 127.6h0M444.5 132.1h0M444.5 170.1h0M444.6 126.5h0M444.9 131.4h0M445.8 133.8h0M445.8 166.1h0M447.1 126.7h0M447.1 173.3h0M447.5 123.9h0M447.5 121.1h0M447 122.7h0M448.4 120.5h0M448.4 181.2h0M448.4 117.7h0M448.1 119h0M449.7 140.2h0M449.7 183.3h0M449.3 134.6h0M449.9 131.8h0M449.5 129h0M451 140.1h0M451 185.5h0M451 128.9h0M451.3 126.1h0M452.3 144.6h0M452.3 187.2h0M452.7 141.8h0M452.2 139h0M452.2 136.2h0M452.6 133.4h0M451.7 122.7h0M453.6 136.6h0M453.6 185.9h0M453.6 133.8h0M453.4 131h0M453.9 128.2h0M453.2 131.2h0M454.9 124.8h0M454.9 175.4h0M455 122h0M454.9 178.2h0M455.4 121h0M456.2 129.5h0M456.2 183h0M457.5 136.7h0M457.5 180.2h0M457.2 133.9h0M458.8 137.9h0M458.8 175.6h0M458.4 135.1h0M458.8 132.3h0M458.8 129.5h0M460.1 135.2h0M460.1 182.3h0M460.3 134.5h0M461.4 152h0M461.4 181.1h0M461.2 148.9h0M462.7 154.2h0M462.7 183h0M464 143.9h0M464 187.7h0M464.3 141.1h0M463.6 138.3h0M464.5 143.3h0M465.3 137.4h0M465.3 190.9h0M466.6 148.2h0M466.6 188.9h0M467.9 154.3h0M467.9 186.1h0M468 151.5h0M469.2 144.5h0M469.2 189.2h0M468.9 142.6h0M470.5 153h0M470.5 191.1h0M470.3 150.2h0M470.2 143.1h0M471.8 146.1h0M471.8 188.9h0M471.3 145.1h0M473.1 148.5h0M473.1 186.7h0M472.8 189.5h0M474.4 152.5h0M474.4 188.2h0M474.2 149.7h0M474.6 148.9h0M475.7 153.9h0M475.7 193.2h0M476.1 153.6h0M477 147.7h0M477 195.1h0M478.3 143.4h0M478.3 193.3h0M478.7 143.4h0M479.6 149.9h0M479.6 192.5h0M479.2 149.5h0M480.9 153.3h0M480.9 192.8h0M481.1 147.7h0M481.2 144.9h0M481.4 150h0M482.2 158.4h0M482.2 192.8h0M482.1 156.3h0M483.5 151.8h0M483.5 193.1h0M483.5 145.5h0M484.8 152.9h0M484.8 193.9h0M486.1 154.4h0M486.1 192.6h0M485.8 148.8h0M486.2 143.2h0M487.4 145.6h0M487.4 192.4h0M487.7 142.8h0M487.8 140h0M487.3 144.5h0M488.7 152.4h0M488.7 193h0M490 153.4h0M490 194.5h0M489.7 152.7h0M491.3 145.2h0M491.3 193.9h0M491.7 142.4h0M490.9 139.6h0M491 136.2h0M492.6 138.6h0M492.6 194.2h0M493.9 158.6h0M493.9 186h0M493.7 153h0M493.8 150.2h0M494 147.4h0M494 188.8h0M495.2 156.8h0M495.2 184.6h0M495 154h0M495.6 151.2h0M495.3 187.4h0M494.9 190.2h0M494.9 155.6h0M496.5 158.8h0M496.5 189.2h0M496.4 156h0M496.7 158.4h0M497.8 171.6h0M497.8 189.4h0M497.6 168.8h0M497.6 166h0M499.1 174.9h0M499.1 187.4h0M498.8 172.1h0M498.8 173.5h0M500.4 175.9h0M500.4 191.7h0M500.3 173.1h0M500.4 170.3h0M500 167.5h0M501.7 178.5h0M501.7 194.6h0M501.3 175.7h0M503 180.4h0M503 192.7h0M502.5 177.3h0M504.3 180.3h0M504.3 194.4h0M504.3 177.5h0M504 176.6h0M505.6 171.9h0M505.6 192.7h0M506.9 178.9h0M506.9 194h0M507.4 170.7h0M508.2 177h0M508.2 197.9h0M507.7 175.1h0M509.5 173.9h0M509.5 200.5h0M510 166.1h0M510.8 177h0M510.8 201.5h0M512.1 181.5h0M512.1 203h0M511.8 169.1h0M513.4 176.5h0M513.4 203.3h0M513.3 173.7h0M513.1 170.9h0M513.8 168.1h0M514.7 161.1h0M514.7 202.3h0M516 164.3h0M516 203.2h0M515.6 163.3h0M517.3 169.4h0M517.3 199.2h0M517.2 166.6h0M517.1 167.6h0M518.6 166.8h0M518.6 200.6h0M519.1 161.4h0M519.9 166.7h0M519.9 192.9h0M519.6 163.9h0M520.2 195.7h0M520.2 198.5h0M520.4 161.8h0M521.2 166.1h0M521.2 194.5h0M521.5 163.3h0M520.6 160.7h0M522.5 169.3h0M522.5 195.5h0M522.7 161.1h0M523.8 175.9h0M523.8 194.3h0M523.8 173.1h0M525.1 175.9h0M525.1 198.2h0M526.4 178.2h0M526.4 199.1h0M526.2 175.4h0M526.8 172.6h0M527.7 174.3h0M527.7 199h0M528.2 161.6h0M529 173h0M529 196.8h0M529.3 170.2h0M528.6 167.4h0M530.3 159.2h0M530.3 195.4h0M530 159.1h0M531.6 158.6h0M531.6 196.2h0M531.7 157.9h0M532.9 157h0M532.9 194.1h0M532.6 196.9h0M533.3 156.7h0M534.2 156.2h0M534.2 195.7h0M535.5 157.6h0M535.5 197.6h0M536.1 156.6h0M536.8 156.4h0M536.8 196.9h0M536.7 155.8h0M538.1 156h0M538.1 197.8h0M539.4 151.4h0M539.4 197.3h0M540.7 147.9h0M540.7 193.9h0M542 147.5h0M542 192.7h0M541.9 147.2h0M543.3 149h0M543.3 195.1h0M543.2 146.2h0M542.9 149h0M544.6 154.2h0M544.6 194.9h0M545 151.4h0M545.1 152.3h0M545.9 157.1h0M545.9 187.4h0M546.3 154.3h0M547.2 161.3h0M547.2 193h0M547.6 158.5h0M546.9 150h0M548.5 161.2h0M548.5 191.2h0M549.8 159h0M549.8 192.3h0M549.8 195.1h0M549.4 158.1h0M551.1 172.1h0M551.1 194.6h0M552.4 160.4h0M552.4 199.5h0M553.7 170.7h0M553.7 189.7h0M553.7 165.1h0M554.2 163.7h0M555 171.9h0M555 189.6h0M554.7 171.7h0M556.3 164.6h0M556.3 195.4h0M556.1 162.9h0M557.6 173.6h0M557.6 196.9h0M557.5 170.8h0M557.9 173.3h0M558.9 185.7h0M558.9 200.2h0M558.9 185.4h0M560.2 182.3h0M560.2 198.9h0M560.5 179.5h0M559.8 178.1h0M561.5 184.3h0M561.5 200.6h0M562.8 180.1h0M562.8 198.1h0M564.1 170.1h0M564.1 199.2h0M563.7 169.1h0M565.4 169.5h0M565.4 199.5h0M566.7 162.9h0M566.7 194.9h0M568 162.8h0M568 193h0M569.3 168.5h0M569.3 192.7h0M569.7 164.5h0M570.6 180.1h0M570.6 190.4h0M570.9 196h0M571.9 175.4h0M571.9 192.9h0M573.2 175.6h0M573.2 191.5h0M573 170h0M573.3 164.4h0M573.3 194.3h0M574.5 168.2h0M574.5 189.5h0M574.7 162.6h0M575.8 158.7h0M575.8 191.9h0M575.3 157.3h0M577.1 154.8h0M577.1 195.4h0M578.4 158.5h0M578.4 193.7h0M578.4 155.7h0M578.2 151.8h0M579.7 154.5h0M579.7 193.2h0M579.2 151.4h0M581 153h0M581 192.3h0M580.5 150.4h0M582.3 152h0M582.3 192.3h0M583.6 155.1h0M583.6 190.8h0M584.1 148.3h0M584.9 158.8h0M584.9 192.5h0M584.5 156h0M585.1 153.2h0M586.2 155.2h0M586.2 193.2h0M587.5 157.8h0M587.5 193.9h0M587.9 151.2h0M588.8 168.8h0M588.8 190.4h0M588.9 166h0M588.8 160.4h0M588.7 157.6h0M588.5 164.5h0M590.1 161.6h0M590.1 194.1h0M591.4 170.2h0M591.4 192.3h0M592.7 167.4h0M592.7 194.4h0M594 166.8h0M594 191.5h0M595.3 167.4h0M595.3 196.9h0M596.6 171.4h0M596.6 190.8h0M597.9 162.4h0M597.9 197.5h0M597.8 159.5h0M599.2 165.1h0M599.2 196.9h0M600.5 169.8h0M600.5 197.3h0M601.8 167.5h0M601.8 198h0M601.7 164.7h0M602.4 165.6h0M603.1 163.4h0M603.1 197.8h0M603.3 160.6h0M603.5 157.8h0M602.9 152.2h0M604.4 152.7h0M604.4 198.5h0M604.1 149.9h0M603.9 151.7h0M605.7 152.5h0M605.7 199.2h0M605.6 149.7h0M605.5 150.8h0M607 157.4h0M607 199.2h0M608.3 152h0M608.3 199.5h0M608 152.2h0M609.6 159.1h0M609.6 197.4h0M609.6 158.8h0M610.9 157.2h0M610.9 194.3h0M611 157.1h0M612.2 159.9h0M612.2 195.2h0M612.2 198h0M613.5 164.3h0M613.5 194.4h0M613.7 197.2h0M613.9 164h0M614.8 166.9h0M614.8 195.8h0M615.1 164.1h0M614.2 165.9h0M616.1 170.1h0M616.1 198.3h0M616.5 167.3h0M616.3 164.5h0M617.4 172.5h0M617.4 200.6h0M618.7 175.7h0M618.7 201.9h0M618.5 172.9h0M619.1 170.1h0M620 177.8h0M620 201.4h0M620 175h0M621.3 178h0M621.3 202.1h0M621.2 175.2h0M621.7 176.9h0M622.6 169.2h0M622.6 200.1h0M622.7 166.4h0M623.9 169.5h0M623.9 200.2h0M623.6 166.7h0M623.9 167.1h0M625.2 159.7h0M625.2 199.6h0M625.5 159.8h0M626.5 163.9h0M626.5 198.7h0M627.8 166.9h0M627.8 197.8h0M628.1 161.7h0M629.1 165.2h0M629.1 198.2h0M629 162.4h0M629 159.6h0M628.8 156.8h0M629 159.5h0M630.4 160.3h0M630.4 197.8h0M631.7 154.1h0M631.7 193.3h0M633 155.4h0M633 194.9h0M632.9 155.4h0M634.3 159.3h0M634.3 195.7h0M634.8 159.2h0M635.6 159.9h0M635.6 196.9h0M635.5 159.7h0M636.9 160.7h0M636.9 196.7h0M638.2 157.5h0M638.2 196.2h0M638.3 157.6h0M639.5 159.5h0M639.5 196h0M639.5 159.5h0M640.8 162.6h0M640.8 196.3h0M642.1 169h0M642.1 197.4h0M642.3 166.2h0M642.1 163.4h0M642.2 167.7h0M643.4 164.8h0M643.4 195h0M643.6 162h0M644.7 174.5h0M644.7 195.2h0M646 164.6h0M646 193.8h0M647.3 151.2h0M647.3 195.1h0M647.5 148.2h0M648.6 147h0M648.6 198.1h0M649 147h0M649.9 151.6h0M649.9 189.9h0M650.2 192.7h0M651.2 159h0M651.2 194.5h0M651.6 158.1h0M652.5 161.9h0M652.5 196.8h0M652.2 161.9h0M653.8 161.1h0M653.8 198.9h0M654.1 158.5h0M655.1 159.4h0M655.1 197h0M656.4 163.8h0M656.4 196.1h0M657.7 163.5h0M657.7 194.1h0M657.9 196.9h0M657.9 162.8h0M659 166.5h0M659 199.1h0M659.1 163.7h0M658.4 164.6h0M660.3 170.9h0M660.3 197h0M660.2 168.1h0M660.3 165.3h0M660.4 162.5h0M659.8 167.8h0M661.6 161.8h0M661.6 187.3h0M661.7 159h0M661.6 160.1h0M662.9 157.4h0M662.9 190.2h0M663 151.8h0M664.2 156.1h0M664.2 196.4h0M664.2 153.3h0M665.5 156.7h0M665.5 195.3h0M665.5 153.9h0M665.5 151.1h0M665.3 147.4h0M666.8 151.5h0M666.8 189h0M666.9 147.6h0M668.1 160.8h0M668.1 190.6h0M669.4 166.5h0M669.4 193.8h0M670.7 169.6h0M670.7 196.1h0M672 176.2h0M672 192.4h0M672.2 170.6h0M672.3 167.8h0M671.9 165h0M672.3 162.2h0M673.3 169.8h0M673.3 193.3h0M674.6 171.8h0M674.6 188.6h0M674.1 170.3h0M675.9 172.1h0M675.9 192.2h0M676.2 169.3h0M675.7 171.3h0M677.2 166.8h0M677.2 189.2h0M677 166h0M678.5 161.1h0M678.5 189.7h0M678.8 158.3h0M679.8 165.2h0M679.8 194.9h0M680 158.4h0M681.1 159.2h0M681.1 192.1h0M681.1 194.9h0M682.4 166.4h0M682.4 191h0M682.3 163.6h0M682.2 160.8h0M682.4 158h0M682.2 155.2h0M682.6 152.4h0M682.5 193.8h0M682.8 196.6h0M683.7 162.7h0M683.7 194.3h0M683.6 159.9h0M683.7 197.1h0M683.4 160.6h0M685 143.3h0M685 197.8h0M685.3 143.3h0M686.3 143.5h0M686.3 197.5h0M685.8 142.9h0M687.6 150.9h0M687.6 197h0M687.6 148.1h0M688.9 154.5h0M688.9 193.5h0M688.7 151.7h0M689 196.3h0M688.7 153.9h0M690.2 164.8h0M690.2 195.5h0M690 162h0M690.1 159.2h0M691.5 151h0M691.5 199.3h0M691.1 151.2h0M692.8 157.5h0M692.8 196.5h0M694.1 156.5h0M694.1 197.6h0M693.6 156.4h0M695.4 159.3h0M695.4 195.8h0M695.9 158.6h0M696.7 164.7h0M696.7 191.5h0M697.2 164.7h0M698 176.2h0M698 196h0M697.8 174.8h0M699.3 194h0M699.3 207.8h0M700.6 205.6h0M700.6 214.9h0M700.7 202.8h0M701.2 205.4h0M701.9 206.1h0M701.9 214.9h0M701.6 202.9h0M703.2 207.2h0M703.2 216.2h0M704.5 205.4h0M704.5 214.8h0M704.8 205.4h0M705.8 203h0M705.8 216.9h0M706.2 202.1h0M707.1 209.2h0M707.1 214.8h0M706.7 206.4h0M708.4 207.6h0M708.4 215.6h0M709.7 205h0M709.7 216.6h0M710.2 202.6h0M711 207.8h0M711 216.3h0M710.7 207.4h0M712.3 206h0M712.3 214.9h0M711.8 205.1h0M713.6 207.2h0M713.6 214.5h0M714.9 206.9h0M714.9 216.5h0M715.1 201.3h0M716.2 207.8h0M716.2 215.1h0M716.1 205.1h0M717.5 203.5h0M717.5 217.2h0M718.8 203.9h0M718.8 217.2h0M720.1 203.2h0M720.1 216.6h0M720.2 198.7h0M721.4 200.1h0M721.4 217.2h0M722.7 200.5h0M722.7 216h0M722.8 200.1h0M724 202.1h0M724 214.7h0M724.1 199.3h0M725.3 200.9h0M725.3 215.8h0M725.4 200.6h0M726.6 203h0M726.6 217.5h0M727.9 201.5h0M727.9 217.3h0M729.2 200h0M729.2 217.5h0M728.8 199.9h0M730.5 202.3h0M730.5 216.3h0M730.2 202h0M731.8 201.3h0M731.8 217.1h0M731.8 200.2h0M733.1 201.9h0M733.1 217.2h0M733.3 201.6h0M734.4 201.6h0M734.4 217.3h0M735 201.6h0M735.7 202.5h0M735.7 217.6h0M736.1 202.4h0M737 196.4h0M737 213h0M736.8 196.3h0M738.3 187.5h0M738.3 207.9h0M738.5 186.8h0M739.6 179.9h0M739.6 202.9h0M739.4 172.8h0M740.9 173.3h0M740.9 195h0M742.2 169.3h0M742.2 185.6h0M742.1 166.5h0M742.2 160.9h0M742.4 188.4h0M742.1 191.2h0M743.5 172.5h0M743.5 184.5h0M743.1 190.1h0M744.8 162.7h0M744.8 186.8h0M745 189.6h0M746.1 163.8h0M746.1 189.5h0M747.4 160.3h0M747.4 192.8h0M747.8 159.7h0M748.7 161.5h0M748.7 189h0M750 165.1h0M750 188.5h0M750.1 162.3h0M751.3 168.4h0M751.3 194.2h0M751.1 165.6h0M752.6 188.5h0M752.6 203.4h0M753.9 202.3h0M753.9 211h0M754.2 201.1h0M755.2 201h0M755.2 211.4h0M756.5 202.6h0M756.5 211.1h0M756.6 202.5h0M757.8 201.6h0M757.8 213.1h0M757.9 201.3h0M759.1 203.5h0M759.1 214.8h0M759.2 203.2h0M760.4 208.4h0M760.4 212.5h0M760.2 205.6h0M760.7 205.3h0M761.7 207.5h0M761.7 213.2h0M761.7 204.7h0M763 204.7h0M763 214.6h0M764.3 193.9h0M764.3 209.5h0M765.6 188.7h0M765.6 205.2h0M765 183.8h0M766.9 184h0M766.9 203.3h0M766.6 182.5h0M768.2 181.8h0M768.2 202.5h0M767.7 179.7h0M769.5 185.5h0M769.5 202.3h0M769.7 182.9h0M770.8 187.4h0M770.8 202.7h0M770.6 184.6h0M771 181.8h0M772.1 190.7h0M772.1 201.6h0M772.1 185.1h0M773.4 190.4h0M773.4 200h0M774 189.7h0" stroke="#000" stroke-width="3.8" stroke-linecap="round" fill="none"/><path d="M80.4 192.8h0M93.4 182.7h0M133.8 176.9h0M134.6 176.6h0M159.5 182.5h0M186.3 184.2h0M205.3 168.4h0M229 175.7h0M230.1 177.1h0M233.7 188.6h0M239.4 186.2h0M240.2 186.5h0M260.1 179.6h0M267.3 189.4h0M286.7 176.3h0M325.1 156.6h0M334.3 163.9h0M338.3 168.8h0M341.6 169.4h0M353.6 174.6h0M371.9 189.3h0M373.1 185.1h0M386.1 173.1h0M388.9 175.7h0M454.6 154.8h0M455.7 139.5h0M458.4 151.6h0M469 164.6h0M486.5 162.1h0M493.9 170.7h0M494.8 165.3h0M515 171.4h0M540.5 162.7h0M548.4 176h0M614.4 178.9h0M619 188.2h0M626.8 182.5h0M627.5 170h0M638.1 179h0M641 167.3h0M646.2 169.1h0M652.7 175.3h0M661.8 174.6h0M665.8 160.4h0M669.2 171.6h0M699.7 201.7h0M703.5 212h0M712.7 210.1h0M741.1 184.3h0" stroke="#fff" stroke-width="1.8" stroke-linecap="round" fill="none"/><path d="M84 173h0M94 171h0M129.6 128.4h0M129.6 135.4h0M144.8 140.5h0M144.8 149.4h0M144.8 157h0M152.5 210h0M152.5 214h0M152.5 218.6h0M178.5 96h0M178.5 107.5h0M178.5 114h0M178.5 120h0M179.5 126h0M178.5 132h0M179 138h0M188 145.6h0M193 157.6h0M203.9 119.5h0M203.9 123h0M203.9 127h0M203.9 129.7h0M225 133h0M227 140h0M284 212h0M284 223.5h0M294.8 143.5h0M309.6 131h0M324.5 122.8h0M324.5 127.8h0M353.4 133.5h0M353.4 145h0M353.4 155h0M372.3 209.5h0M379.8 126h0M379.8 139.3h0M400.4 111.3h0M400.4 132.7h0M400.4 138h0M400.4 144h0M400.4 149.2h0M407 204.5h0M417.7 113.7h0M417.7 127h0M417.7 139.3h0M446.6 84h0M446.6 101.4h0M454.9 85.7h0M454.9 92h0M455 98h0M454.9 104.7h0M449 108h0M492.8 119.5h0M502.7 124.5h0M502.7 152.5h0M521.7 142.6h0M521.7 150h0M544 124.5h0M544 128.6h0M601.8 133.5h0M626 146h0M641.4 102.2h0M641.4 104.7h0M641.4 117h0M641.4 123.6h0M648 135.2h0M657 146h0M675.2 116.2h0M675.2 138h0M675.2 145h0M686 84.9h0M686 96.4h0M686 100h0M686 104.7h0M686 110h0M686 115h0M686 120h0M686 126h0M686 131h0M696.7 145h0M741.2 140.2h0M751.1 154.2h0M767.6 168.2h0" stroke="#000" stroke-width="3.8" stroke-linecap="round" fill="none"/>
<text x="92.6" y="62" font-size="19.5" fill="#000" textLength="161.5" lengthAdjust="spacingAndGlyphs" stroke="#000" stroke-width="0.45">Rumpless females</text>
<path d="M57.5 365.4V609.5M57.5 365.4H50.7M57.5 406.1H50.7M57.5 446.8H50.7M57.5 487.4H50.7M57.5 528.1H50.7M57.5 568.8H50.7M57.5 609.5H50.7" stroke="#808080" stroke-width="1.9" fill="none"/><text x="39.8" y="371" font-size="12.8" fill="#2a2a2a" text-anchor="middle" stroke="#2a2a2a" stroke-width="0.3">6</text><text x="39.8" y="411.7" font-size="12.8" fill="#2a2a2a" text-anchor="middle" stroke="#2a2a2a" stroke-width="0.3">5</text><text x="39.8" y="452.4" font-size="12.8" fill="#2a2a2a" text-anchor="middle" stroke="#2a2a2a" stroke-width="0.3">4</text><text x="39.8" y="493" font-size="12.8" fill="#2a2a2a" text-anchor="middle" stroke="#2a2a2a" stroke-width="0.3">3</text><text x="39.8" y="533.7" font-size="12.8" fill="#2a2a2a" text-anchor="middle" stroke="#2a2a2a" stroke-width="0.3">2</text><text x="39.8" y="574.4" font-size="12.8" fill="#2a2a2a" text-anchor="middle" stroke="#2a2a2a" stroke-width="0.3">1</text><text x="39.8" y="615.1" font-size="12.8" fill="#2a2a2a" text-anchor="middle" stroke="#2a2a2a" stroke-width="0.3">0</text><path d="M82.7 609.8H753.1M82.7 609.8V616.3M250.3 609.8V616.3M417.9 609.8V616.3M585.5 609.8V616.3M753.1 609.8V616.3" stroke="#808080" stroke-width="1.9" fill="none"/><text x="82.7" y="635.6" font-size="12.8" fill="#2a2a2a" text-anchor="middle" stroke="#2a2a2a" stroke-width="0.3">0</text><text x="250.3" y="635.6" font-size="12.8" fill="#2a2a2a" text-anchor="middle" stroke="#2a2a2a" stroke-width="0.3">20</text><text x="417.9" y="635.6" font-size="12.8" fill="#2a2a2a" text-anchor="middle" stroke="#2a2a2a" stroke-width="0.3">40</text><text x="585.5" y="635.6" font-size="12.8" fill="#2a2a2a" text-anchor="middle" stroke="#2a2a2a" stroke-width="0.3">60</text><text x="753.1" y="635.6" font-size="12.8" fill="#2a2a2a" text-anchor="middle" stroke="#2a2a2a" stroke-width="0.3">80</text><text x="426.5" y="665.1" font-size="12.5" fill="#333" text-anchor="middle" textLength="152" lengthAdjust="spacingAndGlyphs">Chromosome Z position (Mb)</text><text transform="translate(27 497.9) rotate(-90)" font-size="25.5" text-anchor="middle" fill="#000" stroke="#000" stroke-width="0.5">-lgπ</text><polygon points="80.5,504.6 81.8,506.7 83.1,505.4 84.4,512.4 85.7,509.2 87,511.2 88.3,507.2 89.6,510.1 90.9,510 92.2,509.8 93.5,505.7 94.8,507.2 96.1,505.8 97.4,503.6 98.7,505 100,502.3 101.3,500.4 102.6,500.5 103.9,500.8 105.2,493.3 106.5,507.2 107.8,493.6 109.1,491.9 110.4,496.4 111.7,496.1 113,484.5 114.3,489.4 115.6,493.6 116.9,490.2 118.2,484.6 119.5,486.1 120.8,485 122.1,484.3 123.4,478.5 124.7,477.3 126,472.3 127.3,474.3 128.6,472 129.9,467.6 131.2,476.5 132.5,481.5 133.8,482.9 135.1,486 136.4,490.3 137.7,484.2 139,481.5 140.3,474.1 141.6,482.5 142.9,482.9 144.2,484.3 145.5,484.1 146.8,493.1 148.1,494.9 149.4,495.7 150.7,500.7 152,502.6 153.3,500.9 154.6,495.7 155.9,494 157.2,494.7 158.5,492.3 159.8,488.7 161.1,495.9 162.4,495.9 163.7,494.8 165,491 166.3,495.6 167.6,492 168.9,492.9 170.2,482.4 171.5,477.2 172.8,480.1 174.1,473 175.4,474.6 176.7,480.1 178,481.1 179.3,486.2 180.6,475.5 181.9,487.9 183.2,496.7 184.5,491.2 185.8,482.4 187.1,489.1 188.4,486.5 189.7,483.4 191,474.5 192.3,482.6 193.6,489.7 194.9,483.8 196.2,484.7 197.5,484.8 198.8,481.2 200.1,485.3 201.4,494.1 202.7,493 204,480.9 205.3,481.8 206.6,478.8 207.9,474.7 209.2,486.6 210.5,485.4 211.8,482.1 213.1,481.9 214.4,480.9 215.7,485.9 217,478.5 218.3,480.9 219.6,485 220.9,473.2 222.2,473 223.5,475.7 224.8,486.3 226.1,486 227.4,481.9 228.7,494.4 230,493.4 231.3,486.9 232.6,494.6 233.9,498.2 235.2,490.1 236.5,493 237.8,496.6 239.1,493.2 240.4,492 241.7,493.4 243,503.5 244.3,498.6 245.6,493.3 246.9,499.1 248.2,497.3 249.5,492.2 250.8,490.6 252.1,491.5 253.4,496.5 254.7,499.1 256,493.3 257.3,491.9 258.6,493.3 259.9,494.1 261.2,490.1 262.5,492.1 263.8,490.4 265.1,485.6 266.4,487.6 267.7,486.7 269,480.4 270.3,477.6 271.6,482 272.9,483.2 274.2,486.7 275.5,490.5 276.8,492.9 278.1,497 279.4,498.2 280.7,499.3 282,503.9 283.3,503 284.6,500.4 285.9,498.6 287.2,495 288.5,496.8 289.8,498.7 291.1,496.8 292.4,490.5 293.7,493.6 295,487.2 296.3,494.3 297.6,501.9 298.9,496.9 300.2,501.2 301.5,501.1 302.8,496.1 304.1,492.6 305.4,486.1 306.7,473.5 308,471 309.3,463.8 310.6,467.8 311.9,467.2 313.2,468.7 314.5,458.9 315.8,459.8 317.1,467.9 318.4,459.3 319.7,471.6 321,463.4 322.3,466.3 323.6,465.9 324.9,461.2 326.2,469.5 327.5,470.5 328.8,469.5 330.1,471.1 331.4,475.9 332.7,479.7 334,476.3 335.3,470.2 336.6,465.8 337.9,465.8 339.2,482.6 340.5,474 341.8,474.4 343.1,485.6 344.4,484.8 345.7,482.3 347,479.4 348.3,482.4 349.6,489.8 350.9,494.7 352.2,498.5 353.5,499.7 354.8,501.6 356.1,490.5 357.4,490.7 358.7,493.1 360,493.2 361.3,490.1 362.6,494.2 363.9,491.7 365.2,494.1 366.5,506.5 367.8,501.2 369.1,502.1 370.4,503.6 371.7,504.3 373,494.6 374.3,490.7 375.6,491.5 376.9,486 378.2,489.6 379.5,494.1 380.8,494 382.1,492.7 383.4,490.4 384.7,489.9 386,483.8 387.3,488.8 388.6,487.2 389.9,489.6 391.2,485.8 392.5,484.7 393.8,486.1 395.1,487.9 396.4,488 397.7,496.6 399,505.1 400.3,498.7 401.6,490 402.9,479.2 404.2,478.5 405.5,478.4 406.8,472.3 408.1,469.8 409.4,469.4 410.7,467.4 412,480.2 413.3,472.8 414.6,486.9 415.9,487.3 417.2,499.4 418.5,492.5 419.8,488.1 421.1,485.8 422.4,482.8 423.7,482.5 425,485.6 426.3,473.3 427.6,472.5 428.9,465.2 430.2,467.5 431.5,459.4 432.8,459.3 434.1,457 435.4,451.4 436.7,459.1 438,455.8 439.3,456.6 440.6,456.7 441.9,450.3 443.2,467 444.5,461.9 445.8,460.3 447.1,467.6 448.4,470.7 449.7,490.6 451,475.7 452.3,475.7 453.6,467.5 454.9,467.8 456.2,459.2 457.5,461 458.8,468.6 460.1,477.3 461.4,477.7 462.7,476.3 464,481.9 465.3,482.2 466.6,478.2 467.9,484.7 469.2,493.9 470.5,490.4 471.8,499.6 473.1,498.5 474.4,494 475.7,490.7 477,484.2 478.3,482.9 479.6,478.5 480.9,476.9 482.2,482.1 483.5,474.3 484.8,467.7 486.1,464.9 487.4,463.5 488.7,465.1 490,478 491.3,467.8 492.6,468.2 493.9,471.8 495.2,480.8 496.5,477.3 497.8,485.1 499.1,476.5 500.4,477.4 501.7,474.3 503,483.4 504.3,486.8 505.6,492.6 506.9,495.9 508.2,501.1 509.5,498.1 510.8,499.9 512.1,502 513.4,503 514.7,499 516,490.3 517.3,492 518.6,485 519.9,498.5 521.2,497.6 522.5,495.9 523.8,499.7 525.1,496.2 526.4,487.5 527.7,493 529,487 530.3,491 531.6,495.7 532.9,496.1 534.2,492.7 535.5,494.8 536.8,488.8 538.1,494.8 539.4,493.1 540.7,494.5 542,488.7 543.3,486.4 544.6,486.3 545.9,489.7 547.2,490.8 548.5,490.2 549.8,493.2 551.1,493.4 552.4,500.3 553.7,500.7 555,498.1 556.3,498.1 557.6,500.6 558.9,499.6 560.2,492.6 561.5,493.2 562.8,491.3 564.1,491.7 565.4,493.6 566.7,497.5 568,496.3 569.3,500 570.6,493.5 571.9,494.8 573.2,491.6 574.5,486.5 575.8,486.7 577.1,492.4 578.4,484.2 579.7,485.6 581,488.6 582.3,489.4 583.6,467.5 584.9,464.2 586.2,468.9 587.5,465 588.8,470.1 590.1,473.9 591.4,476 592.7,467.5 594,471 595.3,471.4 596.6,470.8 597.9,475.5 599.2,478.8 600.5,479.9 601.8,489.7 603.1,488.1 604.4,490.1 605.7,492.4 607,489.9 608.3,492.6 609.6,497.4 610.9,496.3 612.2,499.4 613.5,496.5 614.8,502.2 616.1,494.1 617.4,494 618.7,496.2 620,489.1 621.3,487.9 622.6,491.3 623.9,492.8 625.2,486.7 626.5,489 627.8,486.9 629.1,495.5 630.4,485.1 631.7,488.3 633,489.5 634.3,490.9 635.6,484.9 636.9,486.6 638.2,488.3 639.5,481.9 640.8,486.9 642.1,492.2 643.4,487.3 644.7,471.8 646,475.6 647.3,482.2 648.6,475.6 649.9,483.5 651.2,471.4 652.5,475.6 653.8,471.4 655.1,482.6 656.4,483.7 657.7,483 659,468.3 660.3,469.6 661.6,474 662.9,481.4 664.2,487.1 665.5,484 666.8,487.7 668.1,490.1 669.4,492 670.7,492.4 672,490.6 673.3,487.8 674.6,481.1 675.9,477.5 677.2,488.9 678.5,483.2 679.8,478.7 681.1,475.9 682.4,486.4 683.7,485.2 685,487.6 686.3,496.5 687.6,491.1 688.9,492.3 690.2,497.3 691.5,501 692.8,495.4 694.1,490.5 695.4,491.3 696.7,502.6 698,510 699.3,522.9 700.6,529 701.9,526 703.2,522.5 704.5,519.8 705.8,521 707.1,521.5 708.4,522.5 709.7,522.5 711,520.6 712.3,519.3 713.6,520 714.9,518.5 716.2,519 717.5,519.8 718.8,519.5 720.1,519.5 721.4,523 722.7,528.3 724,521.5 725.3,524.6 726.6,524.8 727.9,524.6 729.2,523 730.5,528 731.8,525.3 733.1,522.6 734.4,524.5 735.7,525.1 737,523.8 738.3,525 739.6,524.3 740.9,492.5 742.2,486.5 743.5,492.1 744.8,488.9 746.1,489.9 747.4,492.7 748.7,491.4 750,487.6 751.3,498.3 752.6,500.9 753.9,516.4 755.2,524 756.5,526.5 757.8,521.8 759.1,524.6 760.4,525.3 761.7,522.1 763,518.4 764.3,507.5 765.6,505.6 766.9,500.2 768.2,501.3 769.5,506.6 770.8,510.6 772.1,508.9 773.4,511.7 773.4,517.6 772.1,520.3 770.8,520.2 769.5,519 768.2,519.7 766.9,519.4 765.6,519.1 764.3,521.8 763,532.6 761.7,537.6 760.4,536.2 759.1,537 757.8,535.5 756.5,535.1 755.2,534.7 753.9,528.8 752.6,517.1 751.3,513.1 750,511.5 748.7,508.5 747.4,512.6 746.1,510.4 744.8,511.5 743.5,512.5 742.2,510.8 740.9,514.1 739.6,534.3 738.3,533.9 737,534.5 735.7,535.2 734.4,537.3 733.1,535.9 731.8,536.6 730.5,534.8 729.2,533.3 727.9,535.5 726.6,535.8 725.3,536.9 724,537.7 722.7,536.1 721.4,537.6 720.1,536 718.8,536.1 717.5,534 716.2,533.8 714.9,534.9 713.6,536.8 712.3,536.5 711,535.6 709.7,533.7 708.4,534.5 707.1,534 705.8,537 704.5,536 703.2,536.9 701.9,536.5 700.6,536.5 699.3,531.1 698,521.3 696.7,516.5 695.4,517.6 694.1,514.8 692.8,514.4 691.5,513.5 690.2,511.6 688.9,511.5 687.6,515.9 686.3,514.8 685,512.4 683.7,515.4 682.4,512.8 681.1,515.8 679.8,518.1 678.5,517.9 677.2,517.9 675.9,519.3 674.6,515.8 673.3,513.4 672,516 670.7,514.7 669.4,514.9 668.1,513.6 666.8,514.4 665.5,510.8 664.2,509.4 662.9,508.5 661.6,505.3 660.3,504.3 659,507.8 657.7,507.6 656.4,510.5 655.1,515.9 653.8,509.4 652.5,513.3 651.2,509.4 649.9,513.9 648.6,518.1 647.3,514.6 646,518.2 644.7,518 643.4,518.3 642.1,517.4 640.8,516 639.5,516.3 638.2,517.6 636.9,517.7 635.6,519.1 634.3,519.1 633,517.8 631.7,520 630.4,519.8 629.1,517.8 627.8,518.4 626.5,520.4 625.2,521.9 623.9,523.1 622.6,520.5 621.3,522.4 620,519.1 618.7,515.6 617.4,516.4 616.1,516 614.8,516.3 613.5,517.8 612.2,519.6 610.9,516.3 609.6,517.6 608.3,517.2 607,513.5 605.7,512.1 604.4,514.5 603.1,518.8 601.8,516.4 600.5,512.9 599.2,513.3 597.9,517.9 596.6,512.8 595.3,517.2 594,517.7 592.7,516 591.4,516.5 590.1,515.5 588.8,510.5 587.5,508.7 586.2,509.4 584.9,510 583.6,508.5 582.3,514 581,514.4 579.7,512 578.4,515.7 577.1,515 575.8,516.3 574.5,514.7 573.2,514.1 571.9,515.1 570.6,515.1 569.3,514.9 568,513.2 566.7,512.3 565.4,515.4 564.1,512.3 562.8,517.6 561.5,516.8 560.2,518.4 558.9,517.5 557.6,520.1 556.3,520.4 555,522.6 553.7,518.5 552.4,513.3 551.1,518.7 549.8,519.6 548.5,514.5 547.2,515.7 545.9,516.7 544.6,514.8 543.3,514.4 542,513.5 540.7,512.4 539.4,518.3 538.1,518 536.8,518.3 535.5,516 534.2,518.7 532.9,518.5 531.6,519 530.3,519 529,518.8 527.7,517 526.4,520 525.1,518.8 523.8,517.8 522.5,518.5 521.2,518.1 519.9,515.7 518.6,521.2 517.3,518.6 516,518.8 514.7,521.2 513.4,520.9 512.1,518.7 510.8,517.6 509.5,516.9 508.2,518.7 506.9,513.2 505.6,514.2 504.3,511.2 503,506.5 501.7,495.9 500.4,497.7 499.1,495.2 497.8,500.1 496.5,503.9 495.2,501.2 493.9,503 492.6,507.1 491.3,505.4 490,505.7 488.7,500.4 487.4,504.3 486.1,509.9 484.8,509.4 483.5,507.7 482.2,510.9 480.9,505.3 479.6,509.1 478.3,510.6 477,507 475.7,508.6 474.4,511.7 473.1,513.8 471.8,520 470.5,520.2 469.2,518.3 467.9,513 466.6,510.6 465.3,509.8 464,505.5 462.7,506.1 461.4,504.6 460.1,501.5 458.8,503.6 457.5,494.5 456.2,495.1 454.9,503 453.6,499 452.3,498.5 451,505.2 449.7,500 448.4,490.7 447.1,485.8 445.8,487.9 444.5,492.9 443.2,496.8 441.9,496.6 440.6,496.8 439.3,495.6 438,496 436.7,493.4 435.4,493.5 434.1,499.4 432.8,500.4 431.5,505.7 430.2,512.9 428.9,516.8 427.6,517.1 426.3,516.9 425,517.9 423.7,516.6 422.4,510.3 421.1,514.2 419.8,511.5 418.5,514.5 417.2,517.4 415.9,515.4 414.6,512.6 413.3,514.9 412,512.6 410.7,515.9 409.4,516 408.1,514.3 406.8,513.7 405.5,509.7 404.2,513.7 402.9,515.2 401.6,516.9 400.3,518.8 399,519.7 397.7,522 396.4,520.8 395.1,516.6 393.8,519.6 392.5,515.8 391.2,514 389.9,514.8 388.6,515.1 387.3,514.6 386,515.4 384.7,513.8 383.4,515.9 382.1,513 380.8,510.8 379.5,512.8 378.2,516.4 376.9,517.1 375.6,522.2 374.3,522.6 373,523.3 371.7,524.4 370.4,524.3 369.1,514.2 367.8,517.8 366.5,517.4 365.2,521.2 363.9,522.8 362.6,520.1 361.3,514.7 360,512 358.7,518.5 357.4,518 356.1,519.7 354.8,519.4 353.5,515.6 352.2,515.7 350.9,514.6 349.6,513.2 348.3,517.2 347,516.2 345.7,510.3 344.4,512.8 343.1,511.9 341.8,508.1 340.5,512.2 339.2,511.5 337.9,510.5 336.6,508.8 335.3,507.5 334,505.7 332.7,503.7 331.4,503.1 330.1,500.1 328.8,497.7 327.5,502.6 326.2,505.9 324.9,505.5 323.6,504.8 322.3,499.1 321,504.6 319.7,500.8 318.4,506.5 317.1,498.5 315.8,500.8 314.5,502.2 313.2,499.9 311.9,508 310.6,507.5 309.3,511.9 308,504 306.7,500.1 305.4,508.3 304.1,510.9 302.8,512.4 301.5,518.2 300.2,518.6 298.9,517.8 297.6,519 296.3,514.5 295,513.1 293.7,517.4 292.4,520.2 291.1,520.2 289.8,517.3 288.5,520.4 287.2,519.7 285.9,518.1 284.6,519.7 283.3,519.8 282,518.6 280.7,516.8 279.4,519.8 278.1,520.2 276.8,520 275.5,514.8 274.2,518.1 272.9,513.4 271.6,510.2 270.3,515.4 269,514.4 267.7,514.2 266.4,515 265.1,515.6 263.8,514.6 262.5,516.7 261.2,517.4 259.9,514.4 258.6,517 257.3,517.1 256,518.1 254.7,516.5 253.4,514.7 252.1,516.8 250.8,518.8 249.5,518.1 248.2,512.1 246.9,516.2 245.6,517.7 244.3,517.6 243,515.8 241.7,517.9 240.4,519.4 239.1,517.4 237.8,518.4 236.5,517.7 235.2,512.9 233.9,517.4 232.6,515.8 231.3,518.8 230,520 228.7,520.9 227.4,518.4 226.1,515.7 224.8,513.8 223.5,508.6 222.2,509.6 220.9,507.3 219.6,509.3 218.3,509.3 217,508 215.7,506.3 214.4,506.8 213.1,502.9 211.8,503.6 210.5,502.8 209.2,501.3 207.9,505.3 206.6,514.7 205.3,518.3 204,518.2 202.7,519.6 201.4,520.4 200.1,518.1 198.8,517.2 197.5,513.2 196.2,512.3 194.9,511.7 193.6,513.9 192.3,512.5 191,512.4 189.7,513.3 188.4,516.2 187.1,515.3 185.8,518.8 184.5,519.9 183.2,514.9 181.9,519.6 180.6,519.6 179.3,517.9 178,518.6 176.7,515.9 175.4,512.7 174.1,515.7 172.8,513.5 171.5,519.4 170.2,518.6 168.9,515.6 167.6,516.9 166.3,517.5 165,516.3 163.7,515.9 162.4,514.5 161.1,515.7 159.8,517.5 158.5,518.5 157.2,517.9 155.9,516.6 154.6,517.2 153.3,515.5 152,514.3 150.7,513.7 149.4,515.8 148.1,513 146.8,511.2 145.5,514.3 144.2,513.9 142.9,512.1 141.6,512.4 140.3,508 139,507.4 137.7,507.6 136.4,507.8 135.1,503.6 133.8,506.4 132.5,502.1 131.2,507.7 129.9,509 128.6,509.7 127.3,510.4 126,506.9 124.7,507.4 123.4,505.5 122.1,509.5 120.8,508.3 119.5,507.6 118.2,510.9 116.9,512.8 115.6,514.3 114.3,513.8 113,514.7 111.7,515 110.4,516.8 109.1,516.9 107.8,514.5 106.5,514.8 105.2,516.5 103.9,517.8 102.6,519.4 101.3,519.1 100,519.4 98.7,520.8 97.4,516.7 96.1,519.6 94.8,518.1 93.5,516.7 92.2,518.4 90.9,518.5 89.6,517.1 88.3,518.7 87,517.8 85.7,517.8 84.4,519.6 83.1,518.6 81.8,518.6 80.5,516" fill="#000"/><path d="M80.5 504.6h0M80.5 516h0M81.8 506.7h0M81.8 518.6h0M83.1 505.4h0M83.1 518.6h0M84.4 512.4h0M84.4 519.6h0M85.7 509.2h0M85.7 517.8h0M85.5 506.4h0M86.3 508.1h0M87 511.2h0M87 517.8h0M86.8 505.6h0M86.9 511h0M88.3 507.2h0M88.3 518.7h0M89.6 510.1h0M89.6 517.1h0M90.9 510h0M90.9 518.5h0M92.2 509.8h0M92.2 518.4h0M93.5 505.7h0M93.5 516.7h0M94.8 507.2h0M94.8 518.1h0M94.6 506.7h0M96.1 505.8h0M96.1 519.6h0M97.4 503.6h0M97.4 516.7h0M97.7 503.5h0M98.7 505h0M98.7 520.8h0M100 502.3h0M100 519.4h0M101.3 500.4h0M101.3 519.1h0M101 498.3h0M102.6 500.5h0M102.6 519.4h0M103.9 500.8h0M103.9 517.8h0M103.9 498h0M104 495.2h0M105.2 493.3h0M105.2 516.5h0M106.5 507.2h0M106.5 514.8h0M106.5 504.4h0M106.1 501.6h0M106.5 498.8h0M106.1 502.3h0M107.8 493.6h0M107.8 514.5h0M108 517.3h0M108.2 493.6h0M109.1 491.9h0M109.1 516.9h0M109.5 489.1h0M109.2 486.3h0M109 483.5h0M110.4 496.4h0M110.4 516.8h0M110.1 492.2h0M111.7 496.1h0M111.7 515h0M112.2 493.8h0M113 484.5h0M113 514.7h0M114.3 489.4h0M114.3 513.8h0M115.6 493.6h0M115.6 514.3h0M115.6 493.3h0M116.9 490.2h0M116.9 512.8h0M116.9 484.6h0M118.2 484.6h0M118.2 510.9h0M117.9 483.8h0M119.5 486.1h0M119.5 507.6h0M120.8 485h0M120.8 508.3h0M122.1 484.3h0M122.1 509.5h0M121.8 481.5h0M122.3 478.7h0M123.4 478.5h0M123.4 505.5h0M123.8 475.5h0M124.7 477.3h0M124.7 507.4h0M124.2 476.8h0M126 472.3h0M126 506.9h0M126.1 468.4h0M127.3 474.3h0M127.3 510.4h0M127.4 471.5h0M128.6 472h0M128.6 509.7h0M128.4 469.2h0M128.9 466.4h0M129.9 467.6h0M129.9 509h0M129.6 466.9h0M131.2 476.5h0M131.2 507.7h0M131.2 473.7h0M131.3 471.8h0M132.5 481.5h0M132.5 502.1h0M132.5 478.7h0M132.8 473.1h0M133.8 482.9h0M133.8 506.4h0M134 477.3h0M135.1 486h0M135.1 503.6h0M134.7 480.4h0M136.4 490.3h0M136.4 507.8h0M136.4 484.7h0M136.6 476.8h0M137.7 484.2h0M137.7 507.6h0M139 481.5h0M139 507.4h0M139.1 475.9h0M139.1 473.1h0M138.8 471.8h0M140.3 474.1h0M140.3 508h0M141.6 482.5h0M141.6 512.4h0M141.4 479.7h0M142.9 482.9h0M142.9 512.1h0M142.9 480.1h0M142.6 477.3h0M144.2 484.3h0M144.2 513.9h0M144 481.5h0M143.9 478.7h0M145.5 484.1h0M145.5 514.3h0M145.4 481.2h0M146.8 493.1h0M146.8 511.2h0M146.5 490.3h0M147.2 514h0M147 493h0M148.1 494.9h0M148.1 513h0M148.3 492.1h0M148.4 489.3h0M149.4 495.7h0M149.4 515.8h0M149.9 494.7h0M150.7 500.7h0M150.7 513.7h0M150.3 500.4h0M152 502.6h0M152 514.3h0M151.7 501.5h0M153.3 500.9h0M153.3 515.5h0M153.6 500.9h0M154.6 495.7h0M154.6 517.2h0M154.8 495.7h0M155.9 494h0M155.9 516.6h0M156.4 494h0M157.2 494.7h0M157.2 517.9h0M158.5 492.3h0M158.5 518.5h0M159.8 488.7h0M159.8 517.5h0M161.1 495.9h0M161.1 515.7h0M161.2 493.1h0M161 490.3h0M162.4 495.9h0M162.4 514.5h0M162.3 493.1h0M162.4 487.5h0M162.8 495h0M163.7 494.8h0M163.7 515.9h0M165 491h0M165 516.3h0M165.1 487.5h0M166.3 495.6h0M166.3 517.5h0M167.6 492h0M167.6 516.9h0M167.4 489.2h0M167.3 486.4h0M167.4 483.6h0M168.9 492.9h0M168.9 515.6h0M169 490.1h0M169.2 487.3h0M169.3 484.5h0M169.2 481.7h0M170.2 482.4h0M170.2 518.6h0M169.9 479.6h0M169.8 478.9h0M171.5 477.2h0M171.5 519.4h0M172.8 480.1h0M172.8 513.5h0M174.1 473h0M174.1 515.7h0M174 473h0M175.4 474.6h0M175.4 512.7h0M176.7 480.1h0M176.7 515.9h0M178 481.1h0M178 518.6h0M178.2 478.3h0M179.3 486.2h0M179.3 517.9h0M179.3 483.4h0M179.4 483.7h0M180.6 475.5h0M180.6 519.6h0M181.9 487.9h0M181.9 519.6h0M182.5 476.5h0M183.2 496.7h0M183.2 514.9h0M183.5 517.7h0M183.6 489.6h0M184.5 491.2h0M184.5 519.9h0M184.1 488.4h0M185.8 482.4h0M185.8 518.8h0M187.1 489.1h0M187.1 515.3h0M187.3 487.5h0M188.4 486.5h0M188.4 516.2h0M188.8 485.5h0M189.7 483.4h0M189.7 513.3h0M189.9 480.6h0M189.6 477.8h0M189.7 475h0M189.9 516.1h0M191 474.5h0M191 512.4h0M192.3 482.6h0M192.3 512.5h0M191.7 481.7h0M193.6 489.7h0M193.6 513.9h0M194.9 483.8h0M194.9 511.7h0M194.9 478.2h0M195.4 483.5h0M196.2 484.7h0M196.2 512.3h0M196 481.9h0M196.3 515.1h0M196.4 517.9h0M196.8 477.2h0M197.5 484.8h0M197.5 513.2h0M197.3 479.2h0M197.5 479.4h0M198.8 481.2h0M198.8 517.2h0M199.1 475.6h0M200.1 485.3h0M200.1 518.1h0M199.6 484.9h0M201.4 494.1h0M201.4 520.4h0M201.9 479h0M202.7 493h0M202.7 519.6h0M202.9 490.2h0M204 480.9h0M204 518.2h0M205.3 481.8h0M205.3 518.3h0M206.6 478.8h0M206.6 514.7h0M207.9 474.7h0M207.9 505.3h0M208.1 471.9h0M207.7 473.3h0M209.2 486.6h0M209.2 501.3h0M208.9 483.8h0M208.9 481h0M209.1 478.2h0M208.6 474.2h0M210.5 485.4h0M210.5 502.8h0M210.4 470.5h0M211.8 482.1h0M211.8 503.6h0M211.4 476.5h0M212.3 474.4h0M213.1 481.9h0M213.1 502.9h0M213.3 479.1h0M212.7 476.3h0M214.4 480.9h0M214.4 506.8h0M214.2 475.3h0M215.7 485.9h0M215.7 506.3h0M215.7 483.1h0M216 480.3h0M215.7 477.5h0M215.7 474.7h0M215.5 482.7h0M217 478.5h0M217 508h0M217.2 475.7h0M216.7 472.9h0M218.3 480.9h0M218.3 509.3h0M218.5 478.1h0M219.6 485h0M219.6 509.3h0M220.9 473.2h0M220.9 507.3h0M221.4 464.2h0M222.2 473h0M222.2 509.6h0M222.6 470.2h0M222.1 473h0M223.5 475.7h0M223.5 508.6h0M223.4 472.9h0M224.1 475.6h0M224.8 486.3h0M224.8 513.8h0M226.1 486h0M226.1 515.7h0M226 483.2h0M227.4 481.9h0M227.4 518.4h0M227.9 481.8h0M228.7 494.4h0M228.7 520.9h0M230 493.4h0M230 520h0M229.8 490.6h0M231.3 486.9h0M231.3 518.8h0M232.6 494.6h0M232.6 515.8h0M233.9 498.2h0M233.9 517.4h0M235.2 490.1h0M235.2 512.9h0M234.8 518.5h0M236.5 493h0M236.5 517.7h0M236.4 490.2h0M237.8 496.6h0M237.8 518.4h0M238.1 493.8h0M238.3 485.9h0M239.1 493.2h0M239.1 517.4h0M240.4 492h0M240.4 519.4h0M241.7 493.4h0M241.7 517.9h0M242.2 489.1h0M243 503.5h0M243 515.8h0M244.3 498.6h0M244.3 517.6h0M245.6 493.3h0M245.6 517.7h0M246.9 499.1h0M246.9 516.2h0M246.6 490.9h0M248.2 497.3h0M248.2 512.1h0M248.4 514.9h0M247.6 493.3h0M249.5 492.2h0M249.5 518.1h0M249.2 491.8h0M250.8 490.6h0M250.8 518.8h0M250.4 490.6h0M252.1 491.5h0M252.1 516.8h0M253.4 496.5h0M253.4 514.7h0M253.7 493.7h0M253.8 490.9h0M254.7 499.1h0M254.7 516.5h0M256 493.3h0M256 518.1h0M257.3 491.9h0M257.3 517.1h0M257 491.1h0M258.6 493.3h0M258.6 517h0M258.7 490.5h0M258.9 486.4h0M259.9 494.1h0M259.9 514.4h0M259.9 491.3h0M259.7 488.5h0M259.6 485.5h0M261.2 490.1h0M261.2 517.4h0M261 484.5h0M260.6 490h0M262.5 492.1h0M262.5 516.7h0M262.6 489.3h0M262.8 483.7h0M263.8 490.4h0M263.8 514.6h0M263.4 487.6h0M265.1 485.6h0M265.1 515.6h0M265.4 479.7h0M266.4 487.6h0M266.4 515h0M266.7 484.8h0M266.8 482h0M266.3 479.2h0M265.8 478.4h0M267.7 486.7h0M267.7 514.2h0M267.4 483.9h0M267.8 480.2h0M269 480.4h0M269 514.4h0M269.5 476.4h0M270.3 477.6h0M270.3 515.4h0M271.6 482h0M271.6 510.2h0M271.6 513h0M272.9 483.2h0M272.9 513.4h0M273 482.6h0M274.2 486.7h0M274.2 518.1h0M275.5 490.5h0M275.5 514.8h0M275.4 490.3h0M276.8 492.9h0M276.8 520h0M278.1 497h0M278.1 520.2h0M278.2 497h0M279.4 498.2h0M279.4 519.8h0M280.7 499.3h0M280.7 516.8h0M282 503.9h0M282 518.6h0M281.8 501.1h0M283.3 503h0M283.3 519.8h0M283.5 500.2h0M283.8 500.2h0M284.6 500.4h0M284.6 519.7h0M285.9 498.6h0M285.9 518.1h0M285.8 498h0M287.2 495h0M287.2 519.7h0M287.4 494.8h0M288.5 496.8h0M288.5 520.4h0M288.5 493.8h0M289.8 498.7h0M289.8 517.3h0M291.1 496.8h0M291.1 520.2h0M292.4 490.5h0M292.4 520.2h0M293.7 493.6h0M293.7 517.4h0M293.4 490.8h0M295 487.2h0M295 513.1h0M295 487.4h0M296.3 494.3h0M296.3 514.5h0M296.6 488.5h0M297.6 501.9h0M297.6 519h0M297.3 499.1h0M297.9 496.3h0M297.9 493.5h0M298.9 496.9h0M298.9 517.8h0M299.1 494.1h0M298.6 491.3h0M298.7 488.5h0M300.2 501.2h0M300.2 518.6h0M300.6 498.4h0M300.6 495.6h0M300.1 492.8h0M300.4 490h0M299.8 487.2h0M299.7 501.1h0M301.5 501.1h0M301.5 518.2h0M301.6 495.5h0M301.8 492.7h0M302.8 496.1h0M302.8 512.4h0M304.1 492.6h0M304.1 510.9h0M304.2 489.8h0M304.4 487h0M304.1 484.2h0M304.2 478.6h0M304 479.8h0M305.4 486.1h0M305.4 508.3h0M305 480.5h0M305.2 474.9h0M306.7 473.5h0M306.7 500.1h0M306.4 470.7h0M306.3 472.4h0M308 471h0M308 504h0M307.8 468.2h0M307.7 506.8h0M308.4 468.9h0M309.3 463.8h0M309.3 511.9h0M309.1 463.6h0M310.6 467.8h0M310.6 507.5h0M311.9 467.2h0M311.9 508h0M312 464.9h0M313.2 468.7h0M313.2 499.9h0M312.8 502.7h0M314.5 458.9h0M314.5 502.2h0M315.8 459.8h0M315.8 500.8h0M316.3 459.4h0M317.1 467.9h0M317.1 498.5h0M317.4 465.1h0M316.7 466.9h0M318.4 459.3h0M318.4 506.5h0M318.5 458.9h0M319.7 471.6h0M319.7 500.8h0M320 503.6h0M320.2 464.2h0M321 463.4h0M321 504.6h0M322.3 466.3h0M322.3 499.1h0M322.5 501.9h0M322.2 463.9h0M323.6 465.9h0M323.6 504.8h0M324.9 461.2h0M324.9 505.5h0M325.1 457.8h0M326.2 469.5h0M326.2 505.9h0M326.4 466.7h0M326.5 463.9h0M327.5 470.5h0M327.5 502.6h0M327.7 467.7h0M327 463h0M328.8 469.5h0M328.8 497.7h0M330.1 471.1h0M330.1 500.1h0M330 468.8h0M331.4 475.9h0M331.4 503.1h0M331.3 473.1h0M331.7 470.3h0M331.5 464.7h0M331.9 468h0M332.7 479.7h0M332.7 503.7h0M334 476.3h0M334 505.7h0M334 474.4h0M335.3 470.2h0M335.3 507.5h0M336.6 465.8h0M336.6 508.8h0M337.9 465.8h0M337.9 510.5h0M339.2 482.6h0M339.2 511.5h0M339.3 479.8h0M339.4 477h0M339 471.4h0M339.1 468.6h0M338.7 482.6h0M340.5 474h0M340.5 512.2h0M341.8 474.4h0M341.8 508.1h0M342.1 471.2h0M343.1 485.6h0M343.1 511.9h0M343.1 482.8h0M342.7 479h0M344.4 484.8h0M344.4 512.8h0M343.8 479.4h0M345.7 482.3h0M345.7 510.3h0M345.4 479.5h0M347 479.4h0M347 516.2h0M346.5 479.4h0M348.3 482.4h0M348.3 517.2h0M349.6 489.8h0M349.6 513.2h0M350.9 494.7h0M350.9 514.6h0M350.8 491.9h0M350.8 489.6h0M352.2 498.5h0M352.2 515.7h0M351.9 492h0M353.5 499.7h0M353.5 515.6h0M353.9 496.9h0M353.4 494.4h0M354.8 501.6h0M354.8 519.4h0M354.7 493.1h0M356.1 490.5h0M356.1 519.7h0M357.4 490.7h0M357.4 518h0M357.6 490.7h0M358.7 493.1h0M358.7 518.5h0M360 493.2h0M360 512h0M361.3 490.1h0M361.3 514.7h0M361.4 490.6h0M362.6 494.2h0M362.6 520.1h0M363.9 491.7h0M363.9 522.8h0M365.2 494.1h0M365.2 521.2h0M365.8 491.4h0M366.5 506.5h0M366.5 517.4h0M367.8 501.2h0M367.8 517.8h0M367.8 520.6h0M367.7 491.9h0M369.1 502.1h0M369.1 514.2h0M368.9 517h0M370.4 503.6h0M370.4 524.3h0M370.2 500.8h0M370.3 495.2h0M370 493.3h0M371.7 504.3h0M371.7 524.4h0M373 494.6h0M373 523.3h0M373.3 491.8h0M372.7 494.6h0M374.3 490.7h0M374.3 522.6h0M374.4 490.1h0M375.6 491.5h0M375.6 522.2h0M376.9 486h0M376.9 517.1h0M378.2 489.6h0M378.2 516.4h0M378.2 486.3h0M379.5 494.1h0M379.5 512.8h0M378.9 488h0M380.8 494h0M380.8 510.8h0M382.1 492.7h0M382.1 513h0M381.9 515.8h0M383.4 490.4h0M383.4 515.9h0M384.7 489.9h0M384.7 513.8h0M384.3 484.3h0M386 483.8h0M386 515.4h0M387.3 488.8h0M387.3 514.6h0M388.6 487.2h0M388.6 515.1h0M388.9 484.4h0M388.5 481.6h0M389.9 489.6h0M389.9 514.8h0M389.8 486.8h0M390 489.6h0M391.2 485.8h0M391.2 514h0M391.6 483h0M391.5 485.6h0M392.5 484.7h0M392.5 515.8h0M393.8 486.1h0M393.8 519.6h0M395.1 487.9h0M395.1 516.6h0M395.7 487h0M396.4 488h0M396.4 520.8h0M395.8 487.6h0M397.7 496.6h0M397.7 522h0M398 495.1h0M399 505.1h0M399 519.7h0M399.1 502.3h0M399.4 499.5h0M398.7 496.7h0M398.6 493.9h0M399.1 491.1h0M398.7 488.3h0M400.3 498.7h0M400.3 518.8h0M400.4 489.7h0M401.6 490h0M401.6 516.9h0M401.7 487.2h0M401.6 484.4h0M402.9 479.2h0M402.9 515.2h0M402.9 478.9h0M404.2 478.5h0M404.2 513.7h0M403.7 477.8h0M405.5 478.4h0M405.5 509.7h0M406.8 472.3h0M406.8 513.7h0M406.8 472.3h0M408.1 469.8h0M408.1 514.3h0M409.4 469.4h0M409.4 516h0M409.9 469h0M410.7 467.4h0M410.7 515.9h0M410.9 467.1h0M412 480.2h0M412 512.6h0M412.4 471.8h0M413.3 472.8h0M413.3 514.9h0M414.6 486.9h0M414.6 512.6h0M414.6 484.1h0M414.2 481.3h0M414.8 478.5h0M415.9 487.3h0M415.9 515.4h0M417.2 499.4h0M417.2 517.4h0M417.1 493.8h0M417 491h0M417.5 498.4h0M418.5 492.5h0M418.5 514.5h0M418.6 489.7h0M419.8 488.1h0M419.8 511.5h0M419.4 514.3h0M421.1 485.8h0M421.1 514.2h0M422.4 482.8h0M422.4 510.3h0M422.9 481.4h0M423.7 482.5h0M423.7 516.6h0M425 485.6h0M425 517.9h0M424.9 484.7h0M426.3 473.3h0M426.3 516.9h0M427.6 472.5h0M427.6 517.1h0M427.5 469.7h0M427.4 469.5h0M428.9 465.2h0M428.9 516.8h0M429.1 465.1h0M430.2 467.5h0M430.2 512.9h0M431.5 459.4h0M431.5 505.7h0M431 458.6h0M432.8 459.3h0M432.8 500.4h0M433 503.2h0M432.8 458.8h0M434.1 457h0M434.1 499.4h0M434.6 452.4h0M435.4 451.4h0M435.4 493.5h0M436.7 459.1h0M436.7 493.4h0M436.4 456.3h0M436.9 453.5h0M438 455.8h0M438 496h0M437.6 453h0M437.5 447.7h0M439.3 456.6h0M439.3 495.6h0M439.3 453.8h0M439.4 456.6h0M440.6 456.7h0M440.6 496.8h0M441.9 450.3h0M441.9 496.6h0M442 447.5h0M442.1 444.7h0M441.4 443.9h0M443.2 467h0M443.2 496.8h0M442.9 464.2h0M444.5 461.9h0M444.5 492.9h0M444.1 447.5h0M445.8 460.3h0M445.8 487.9h0M446.3 459.4h0M447.1 467.6h0M447.1 485.8h0M447.3 464.8h0M447.4 459.2h0M448.4 470.7h0M448.4 490.7h0M448.2 467.9h0M448.5 465.1h0M449.7 490.6h0M449.7 500h0M450.1 487.8h0M449.6 485h0M449.9 482.2h0M450.3 489.8h0M451 475.7h0M451 505.2h0M451 472.9h0M450.7 470.1h0M450.9 508h0M451.4 474.4h0M452.3 475.7h0M452.3 498.5h0M452.2 472.9h0M452.5 467.3h0M452.7 504.1h0M451.9 474.9h0M453.6 467.5h0M453.6 499h0M453.6 464.7h0M453.6 456.4h0M454.9 467.8h0M454.9 503h0M456.2 459.2h0M456.2 495.1h0M455.8 456.2h0M457.5 461h0M457.5 494.5h0M457.7 458.2h0M457.9 455.4h0M457.2 497.3h0M457.7 500.1h0M457.8 502.9h0M458.8 468.6h0M458.8 503.6h0M460.1 477.3h0M460.1 501.5h0M460.4 468.9h0M461.4 477.7h0M461.4 504.6h0M461.9 477.7h0M462.7 476.3h0M462.7 506.1h0M463 473.5h0M462.9 470.7h0M464 481.9h0M464 505.5h0M465.3 482.2h0M465.3 509.8h0M466.6 478.2h0M466.6 510.6h0M466.9 477.9h0M467.9 484.7h0M467.9 513h0M468.3 481.9h0M468 479.1h0M469.2 493.9h0M469.2 518.3h0M468.9 491.1h0M468.8 488.3h0M468.8 485.5h0M469.6 483.7h0M470.5 490.4h0M470.5 520.2h0M470.9 487.6h0M470.3 484.8h0M471.8 499.6h0M471.8 520h0M473.1 498.5h0M473.1 513.8h0M474.4 494h0M474.4 511.7h0M474.3 491.2h0M474.3 488.4h0M474.2 485.6h0M474.2 482.8h0M474.6 480h0M474.6 514.5h0M475.7 490.7h0M475.7 508.6h0M475.6 483.5h0M477 484.2h0M477 507h0M477.3 481.4h0M477.1 509.8h0M478.3 482.9h0M478.3 510.6h0M479.6 478.5h0M479.6 509.1h0M479.3 511.9h0M480 477.5h0M480.9 476.9h0M480.9 505.3h0M480.7 508.1h0M480.9 510.9h0M480.4 475.7h0M482.2 482.1h0M482.2 510.9h0M482.2 479.2h0M483.5 474.3h0M483.5 507.7h0M484.8 467.7h0M484.8 509.4h0M486.1 464.9h0M486.1 509.9h0M485.6 465h0M487.4 463.5h0M487.4 504.3h0M486.9 463.5h0M488.7 465.1h0M488.7 500.4h0M490 478h0M490 505.7h0M489.8 475.2h0M489.6 472.7h0M491.3 467.8h0M491.3 505.4h0M491.4 465h0M492.6 468.2h0M492.6 507.1h0M492.4 465.4h0M492.5 462.6h0M493.9 471.8h0M493.9 503h0M495.2 480.8h0M495.2 501.2h0M495.1 504h0M496.5 477.3h0M496.5 503.9h0M496.5 462.8h0M497.8 485.1h0M497.8 500.1h0M497.8 502.9h0M497.4 477h0M499.1 476.5h0M499.1 495.2h0M498.6 473h0M500.4 477.4h0M500.4 497.7h0M501.7 474.3h0M501.7 495.9h0M501.4 471.5h0M502.1 498.7h0M503 483.4h0M503 506.5h0M502.9 480.6h0M502.7 480.9h0M504.3 486.8h0M504.3 511.2h0M504.2 484.6h0M505.6 492.6h0M505.6 514.2h0M506.9 495.9h0M506.9 513.2h0M507.4 493.6h0M508.2 501.1h0M508.2 518.7h0M508.6 521.5h0M509.5 498.1h0M509.5 516.9h0M509.9 495.3h0M509.9 492.5h0M509.9 519.7h0M509.5 493.3h0M510.8 499.9h0M510.8 517.6h0M510.6 497.1h0M511.1 494.3h0M511 491.5h0M511 520.4h0M510.8 493h0M512.1 502h0M512.1 518.7h0M512.3 499.2h0M511.7 496.4h0M513.4 503h0M513.4 520.9h0M513.3 500.2h0M513.4 497.4h0M514.7 499h0M514.7 521.2h0M514.6 498.6h0M516 490.3h0M516 518.8h0M515.9 487.5h0M516.2 484.4h0M517.3 492h0M517.3 518.6h0M518.6 485h0M518.6 521.2h0M518.4 482.2h0M519.1 484.5h0M519.9 498.5h0M519.9 515.7h0M519.7 492.9h0M519.9 490.1h0M519.9 487.3h0M520.4 480.5h0M521.2 497.6h0M521.2 518.1h0M521.4 494.8h0M520.8 492h0M520.7 478.7h0M522.5 495.9h0M522.5 518.5h0M522.5 493.1h0M522.6 495.2h0M523.8 499.7h0M523.8 517.8h0M523.4 489.9h0M525.1 496.2h0M525.1 518.8h0M526.4 487.5h0M526.4 520h0M526.5 484.7h0M526.1 481.9h0M526.2 486h0M527.7 493h0M527.7 517h0M527.9 490.2h0M527.8 487.4h0M527.4 480.7h0M529 487h0M529 518.8h0M528.9 486.6h0M530.3 491h0M530.3 519h0M529.8 489.8h0M531.6 495.7h0M531.6 519h0M531.9 492.9h0M531.9 490.1h0M532.9 496.1h0M532.9 518.5h0M534.2 492.7h0M534.2 518.7h0M534.3 489.9h0M534.3 487.1h0M533.8 488.4h0M535.5 494.8h0M535.5 516h0M535.8 492h0M535.7 494.4h0M536.8 488.8h0M536.8 518.3h0M536.4 486h0M537 487.2h0M538.1 494.8h0M538.1 518h0M538.1 492h0M538.3 489.2h0M539.4 493.1h0M539.4 518.3h0M539.2 490.3h0M539.1 490.7h0M540.7 494.5h0M540.7 512.4h0M540.4 488.9h0M540.9 515.2h0M540.4 518h0M542 488.7h0M542 513.5h0M541.9 488.4h0M543.3 486.4h0M543.3 514.4h0M542.9 483.6h0M543.4 485.8h0M544.6 486.3h0M544.6 514.8h0M544.6 486h0M545.9 489.7h0M545.9 516.7h0M545.9 486.9h0M546.1 484.1h0M547.2 490.8h0M547.2 515.7h0M547.2 518.5h0M548.5 490.2h0M548.5 514.5h0M548.3 517.3h0M548.6 489.9h0M549.8 493.2h0M549.8 519.6h0M549.8 491.1h0M551.1 493.4h0M551.1 518.7h0M552.4 500.3h0M552.4 513.3h0M552.6 516.1h0M552.1 499.9h0M553.7 500.7h0M553.7 518.5h0M555 498.1h0M555 522.6h0M556.3 498.1h0M556.3 520.4h0M557.6 500.6h0M557.6 520.1h0M557.2 497.8h0M557.9 489.9h0M558.9 499.6h0M558.9 517.5h0M558.7 496.8h0M559.1 494h0M560.2 492.6h0M560.2 518.4h0M560 491.6h0M561.5 493.2h0M561.5 516.8h0M561.6 493.1h0M562.8 491.3h0M562.8 517.6h0M563 490.7h0M564.1 491.7h0M564.1 512.3h0M563.8 489.8h0M565.4 493.6h0M565.4 515.4h0M566.7 497.5h0M566.7 512.3h0M566.7 494.7h0M566.7 491.9h0M568 496.3h0M568 513.2h0M567.5 486.3h0M569.3 500h0M569.3 514.9h0M569.8 499h0M570.6 493.5h0M570.6 515.1h0M570.4 487.8h0M571.9 494.8h0M571.9 515.1h0M571.5 493.6h0M573.2 491.6h0M573.2 514.1h0M574.5 486.5h0M574.5 514.7h0M575.8 486.7h0M575.8 516.3h0M576.2 485.2h0M577.1 492.4h0M577.1 515h0M578.4 484.2h0M578.4 515.7h0M579.7 485.6h0M579.7 512h0M581 488.6h0M581 514.4h0M581.2 485.8h0M581 483h0M581.2 480.2h0M581.3 484.2h0M582.3 489.4h0M582.3 514h0M582.3 483.8h0M582 481h0M582.7 478.2h0M582.3 489.3h0M583.6 467.5h0M583.6 508.5h0M584.9 464.2h0M584.9 510h0M584.9 512.8h0M585.2 464.5h0M586.2 468.9h0M586.2 509.4h0M586.6 466.1h0M585.9 512.2h0M586.7 468.9h0M587.5 465h0M587.5 508.7h0M587.2 511.5h0M588.8 470.1h0M588.8 510.5h0M590.1 473.9h0M590.1 515.5h0M591.4 476h0M591.4 516.5h0M592.7 467.5h0M592.7 516h0M592.8 467.5h0M594 471h0M594 517.7h0M595.3 471.4h0M595.3 517.2h0M596.6 470.8h0M596.6 512.8h0M596.8 470.6h0M597.9 475.5h0M597.9 517.9h0M599.2 478.8h0M599.2 513.3h0M599 476h0M600.5 479.9h0M600.5 512.9h0M601 475.2h0M601.8 489.7h0M601.8 516.4h0M602.1 485.5h0M603.1 488.1h0M603.1 518.8h0M603.2 485.3h0M602.8 482.5h0M604.4 490.1h0M604.4 514.5h0M604 487.3h0M604 477.8h0M605.7 492.4h0M605.7 512.1h0M605.7 514.9h0M607 489.9h0M607 513.5h0M608.3 492.6h0M608.3 517.2h0M607.9 486.9h0M609.6 497.4h0M609.6 517.6h0M609.5 495.5h0M610.9 496.3h0M610.9 516.3h0M610.7 493.5h0M612.2 499.4h0M612.2 519.6h0M613.5 496.5h0M613.5 517.8h0M614 496.1h0M614.8 502.2h0M614.8 516.3h0M614.6 499.4h0M614.9 496.6h0M615 519.1h0M614.3 502.2h0M616.1 494.1h0M616.1 516h0M617.4 494h0M617.4 516.4h0M617.2 493.9h0M618.7 496.2h0M618.7 515.6h0M618.7 493.4h0M618.3 491.9h0M620 489.1h0M620 519.1h0M620.1 521.9h0M621.3 487.9h0M621.3 522.4h0M622.6 491.3h0M622.6 520.5h0M623.9 492.8h0M623.9 523.1h0M624.1 488.3h0M625.2 486.7h0M625.2 521.9h0M626.5 489h0M626.5 520.4h0M627.8 486.9h0M627.8 518.4h0M627.9 486h0M629.1 495.5h0M629.1 517.8h0M630.4 485.1h0M630.4 519.8h0M631.7 488.3h0M631.7 520h0M631.9 488.2h0M633 489.5h0M633 517.8h0M633.3 486.7h0M634.3 490.9h0M634.3 519.1h0M634.1 488.1h0M634.6 485.3h0M635.6 484.9h0M635.6 519.1h0M636.9 486.6h0M636.9 517.7h0M638.2 488.3h0M638.2 517.6h0M638.7 488.3h0M639.5 481.9h0M639.5 516.3h0M639.7 481.6h0M640.8 486.9h0M640.8 516h0M640.6 482.9h0M642.1 492.2h0M642.1 517.4h0M641.9 489.4h0M642.1 483.8h0M642.3 481h0M641.5 481h0M643.4 487.3h0M643.4 518.3h0M643.4 484.5h0M643.1 478.9h0M643.2 477.8h0M644.7 471.8h0M644.7 518h0M646 475.6h0M646 518.2h0M645.9 472.8h0M646.2 472h0M647.3 482.2h0M647.3 514.6h0M647 479.4h0M646.9 476.6h0M647.1 471.4h0M648.6 475.6h0M648.6 518.1h0M649 470.7h0M649.9 483.5h0M649.9 513.9h0M650.2 516.7h0M651.2 471.4h0M651.2 509.4h0M651 469.1h0M652.5 475.6h0M652.5 513.3h0M652.7 472.8h0M652.5 470h0M652.1 467.2h0M652.2 470.5h0M653.8 471.4h0M653.8 509.4h0M653.6 468.6h0M653.5 465.8h0M655.1 482.6h0M655.1 515.9h0M655.3 479.8h0M655 477h0M655.2 474.2h0M656.4 483.7h0M656.4 510.5h0M656.8 480.9h0M656.6 478.1h0M656.9 477.7h0M657.7 483h0M657.7 507.6h0M657.4 480.2h0M659 468.3h0M659 507.8h0M659.1 510.6h0M660.3 469.6h0M660.3 504.3h0M661.6 474h0M661.6 505.3h0M662.9 481.4h0M662.9 508.5h0M662.8 480.6h0M664.2 487.1h0M664.2 509.4h0M664.3 512.2h0M665.5 484h0M665.5 510.8h0M665 480.7h0M666.8 487.7h0M666.8 514.4h0M666.9 484.9h0M668.1 490.1h0M668.1 513.6h0M668.4 487.3h0M669.4 492h0M669.4 514.9h0M669.1 489.2h0M669.5 486.4h0M670.7 492.4h0M670.7 514.7h0M670.4 489.6h0M670.6 484h0M670.8 481.2h0M670.6 478.4h0M672 490.6h0M672 516h0M673.3 487.8h0M673.3 513.4h0M673.3 485h0M673.7 482.2h0M673.2 516.2h0M674.6 481.1h0M674.6 515.8h0M674.6 478.3h0M675.9 477.5h0M675.9 519.3h0M675.9 476.3h0M677.2 488.9h0M677.2 517.9h0M678.5 483.2h0M678.5 517.9h0M678.7 480.4h0M678.4 477.6h0M678.2 474.8h0M679.8 478.7h0M679.8 518.1h0M681.1 475.9h0M681.1 515.8h0M682.4 486.4h0M682.4 512.8h0M682.5 483.6h0M682.1 480.8h0M682.6 515.6h0M683.7 485.2h0M683.7 515.4h0M683.5 482.4h0M684 479.5h0M685 487.6h0M685 512.4h0M684.8 484.8h0M684.6 485h0M686.3 496.5h0M686.3 514.8h0M686.3 496.3h0M687.6 491.1h0M687.6 515.9h0M687.4 485.5h0M688.9 492.3h0M688.9 511.5h0M688.7 489.5h0M689.3 514.3h0M688.3 489.8h0M690.2 497.3h0M690.2 511.6h0M689.8 494.5h0M691.5 501h0M691.5 513.5h0M691.8 498.2h0M691.7 495.4h0M691.4 489.8h0M691.4 487h0M692.8 495.4h0M692.8 514.4h0M692.6 489.8h0M692.7 487h0M692.3 495h0M694.1 490.5h0M694.1 514.8h0M694.5 487.4h0M695.4 491.3h0M695.4 517.6h0M695.5 488.5h0M696.7 502.6h0M696.7 516.5h0M696.4 499.8h0M696.7 495.2h0M698 510h0M698 521.3h0M698 507h0M699.3 522.9h0M699.3 531.1h0M700.6 529h0M700.6 536.5h0M701.9 526h0M701.9 536.5h0M703.2 522.5h0M703.2 536.9h0M702.8 521.2h0M704.5 519.8h0M704.5 536h0M705.8 521h0M705.8 537h0M707.1 521.5h0M707.1 534h0M707.5 520.8h0M708.4 522.5h0M708.4 534.5h0M708.7 521.7h0M709.7 522.5h0M709.7 533.7h0M711 520.6h0M711 535.6h0M711.2 519.8h0M712.3 519.3h0M712.3 536.5h0M713.6 520h0M713.6 536.8h0M714.9 518.5h0M714.9 534.9h0M715.2 518.7h0M716.2 519h0M716.2 533.8h0M716 519h0M717.5 519.8h0M717.5 534h0M718.8 519.5h0M718.8 536.1h0M720.1 519.5h0M720.1 536h0M721.4 523h0M721.4 537.6h0M721 523h0M722.7 528.3h0M722.7 536.1h0M722.9 525.5h0M724 521.5h0M724 537.7h0M724.2 521.4h0M725.3 524.6h0M725.3 536.9h0M725 522.5h0M726.6 524.8h0M726.6 535.8h0M726.2 523.4h0M727.9 524.6h0M727.9 535.5h0M727.8 521.8h0M729.2 523h0M729.2 533.3h0M729.7 522.6h0M730.5 528h0M730.5 534.8h0M730.8 525.2h0M731.8 525.3h0M731.8 536.6h0M733.1 522.6h0M733.1 535.9h0M733.3 522.6h0M734.4 524.5h0M734.4 537.3h0M734 522.4h0M735.7 525.1h0M735.7 535.2h0M735.6 523.3h0M737 523.8h0M737 534.5h0M737.4 522.6h0M738.3 525h0M738.3 533.9h0M737.9 522.2h0M738.7 521.4h0M739.6 524.3h0M739.6 534.3h0M740.9 492.5h0M740.9 514.1h0M740.6 492.2h0M742.2 486.5h0M742.2 510.8h0M742 486.4h0M743.5 492.1h0M743.5 512.5h0M743.6 489.3h0M744.8 488.9h0M744.8 511.5h0M745.1 486.1h0M745 485.5h0M746.1 489.9h0M746.1 510.4h0M747.4 492.7h0M747.4 512.6h0M747.7 492.6h0M748.7 491.4h0M748.7 508.5h0M748.2 489.7h0M750 487.6h0M750 511.5h0M750 486.1h0M751.3 498.3h0M751.3 513.1h0M752.6 500.9h0M752.6 517.1h0M753.9 516.4h0M753.9 528.8h0M755.2 524h0M755.2 534.7h0M756.5 526.5h0M756.5 535.1h0M757.8 521.8h0M757.8 535.5h0M757.7 521.9h0M759.1 524.6h0M759.1 537h0M760.4 525.3h0M760.4 536.2h0M760.5 525.2h0M761.7 522.1h0M761.7 537.6h0M763 518.4h0M763 532.6h0M762.6 517.8h0M764.3 507.5h0M764.3 521.8h0M764.1 504.7h0M764.5 507.3h0M765.6 505.6h0M765.6 519.1h0M765.6 502.8h0M765.7 498.5h0M766.9 500.2h0M766.9 519.4h0M766.7 498.6h0M768.2 501.3h0M768.2 519.7h0M769.5 506.6h0M769.5 519h0M770.8 510.6h0M770.8 520.2h0M772.1 508.9h0M772.1 520.3h0M772.6 508.8h0M773.4 511.7h0M773.4 517.6h0" stroke="#000" stroke-width="3.8" stroke-linecap="round" fill="none"/><path d="M82.9 510.1h0M95.1 512.8h0M95.9 512.1h0M118.3 488.8h0M121.8 488.9h0M129 488.4h0M130 483.1h0M133.4 492.1h0M171.7 500.9h0M181.1 483.2h0M192.6 489.3h0M200.4 502.9h0M201 505.4h0M219.9 488.1h0M288.4 502h0M290.7 507.4h0M308.9 488.2h0M311.7 478.2h0M317.2 480.5h0M332.6 492.5h0M361.6 499.3h0M374.5 502.8h0M382.9 503.5h0M403.1 495.4h0M407.9 486.6h0M431.7 466.7h0M436.5 478.7h0M441.8 469.9h0M448.2 478.1h0M459.2 484.2h0M487.2 475.1h0M540.7 504.1h0M552.4 505.8h0M560.1 497h0M570.6 501.6h0M575 498.1h0M584.8 470.2h0M595.3 495.6h0M596.7 481.1h0M624.9 495.2h0M657.4 492.8h0M669.5 499.4h0M691.5 504.1h0M699.2 526.1h0M712.4 525.3h0M765.2 509.1h0M768.2 509.9h0" stroke="#fff" stroke-width="1.8" stroke-linecap="round" fill="none"/><path d="M145.2 460h0M145.2 466.8h0M152.6 530h0M152.6 537h0M177.3 436.2h0M177.3 447.8h0M177.3 452h0M177.3 456h0M222.7 442h0M222.7 450h0M237.6 474.2h0M251.6 479h0M283.8 461h0M283.8 467h0M283.8 473h0M283.8 480h0M283.8 486h0M283.8 492h0M283.8 530.3h0M283.8 536h0M283.8 541.9h0M289.6 531h0M299.5 474h0M309.4 451h0M309.4 456h0M353.1 437.9h0M353.1 441h0M353.1 442.8h0M353.1 448.6h0M353.1 467.6h0M353.1 480h0M366.3 471.7h0M366.3 481.6h0M370.4 528.7h0M380.3 458.5h0M380.3 470.9h0M418.6 401.6h0M418.6 457.7h0M418.6 469.2h0M418.6 475.8h0M435.6 433.7h0M440.9 424.3h0M447.2 432h0M455.5 431h0M455.5 437h0M455.5 438h0M464.5 452.7h0M464.5 457.7h0M476.9 466.8h0M481.9 428h0M481.9 437h0M493.4 435.4h0M493.4 440h0M493.4 443h0M493.4 447h0M521.5 458.5h0M521.5 468.4h0M535.5 470h0M544.3 434.9h0M535.7 470h0M535.7 474.2h0M610 473.4h0M626 461.8h0M640.5 405.2h0M640.5 428.8h0M640.5 456h0M640.5 464.3h0M640.5 474.2h0M650.5 444.5h0M653 523.7h0M686 435.4h0M686 462.6h0M686 472.5h0M741.2 470.9h0M741.2 472.5h0M750.3 470.9h0" stroke="#000" stroke-width="3.8" stroke-linecap="round" fill="none"/>
<text x="92.6" y="386.4" font-size="19.5" fill="#000" textLength="124.8" lengthAdjust="spacingAndGlyphs" stroke="#000" stroke-width="0.45">Normal males</text>
<path d="M57.5 689.3V932.5M57.5 689.3H50.7M57.5 750.1H50.7M57.5 810.9H50.7M57.5 871.7H50.7M57.5 932.5H50.7" stroke="#808080" stroke-width="1.9" fill="none"/><text x="39.8" y="694.9" font-size="12.8" fill="#2a2a2a" text-anchor="middle" stroke="#2a2a2a" stroke-width="0.3">2</text><text x="39.8" y="755.7" font-size="12.8" fill="#2a2a2a" text-anchor="middle" stroke="#2a2a2a" stroke-width="0.3">1</text><text x="39.8" y="816.5" font-size="12.8" fill="#2a2a2a" text-anchor="middle" stroke="#2a2a2a" stroke-width="0.3">0</text><text x="39.8" y="877.3" font-size="12.8" fill="#2a2a2a" text-anchor="middle" stroke="#2a2a2a" stroke-width="0.3">-1</text><text x="39.8" y="938.1" font-size="12.8" fill="#2a2a2a" text-anchor="middle" stroke="#2a2a2a" stroke-width="0.3">-2</text><path d="M82.7 933H753.1M82.7 933V939.5M250.3 933V939.5M417.9 933V939.5M585.5 933V939.5M753.1 933V939.5" stroke="#808080" stroke-width="1.9" fill="none"/><text x="82.7" y="959.2" font-size="12.8" fill="#2a2a2a" text-anchor="middle" stroke="#2a2a2a" stroke-width="0.3">0</text><text x="250.3" y="959.2" font-size="12.8" fill="#2a2a2a" text-anchor="middle" stroke="#2a2a2a" stroke-width="0.3">20</text><text x="417.9" y="959.2" font-size="12.8" fill="#2a2a2a" text-anchor="middle" stroke="#2a2a2a" stroke-width="0.3">40</text><text x="585.5" y="959.2" font-size="12.8" fill="#2a2a2a" text-anchor="middle" stroke="#2a2a2a" stroke-width="0.3">60</text><text x="753.1" y="959.2" font-size="12.8" fill="#2a2a2a" text-anchor="middle" stroke="#2a2a2a" stroke-width="0.3">80</text><text x="426.5" y="989.1" font-size="12.5" fill="#333" text-anchor="middle" textLength="152" lengthAdjust="spacingAndGlyphs">Chromosome Z position (Mb)</text><text transform="translate(27 819.3) rotate(-90)" font-size="25.5" text-anchor="middle" fill="#000" stroke="#000" stroke-width="0.5">-lgπ</text><polygon points="80.5,805.5 81.8,804.5 83.1,804.5 84.4,808.2 85.7,808.2 87,806 88.3,803.8 89.6,805.2 90.9,803.8 92.2,803 93.5,803.1 94.8,802.2 96.1,810.8 97.4,808.4 98.7,808.7 100,806.7 101.3,806.9 102.6,804.9 103.9,811.7 105.2,809.8 106.5,804.5 107.8,802.5 109.1,802.4 110.4,803.3 111.7,805.5 113,803.9 114.3,808.2 115.6,802.1 116.9,805.7 118.2,806.4 119.5,805.4 120.8,802.3 122.1,802 123.4,799.6 124.7,800.6 126,797.5 127.3,799.4 128.6,798.8 129.9,798.3 131.2,794.9 132.5,801 133.8,800.9 135.1,800.6 136.4,798 137.7,800.9 139,799.8 140.3,800.7 141.6,801.1 142.9,801.5 144.2,802.4 145.5,803.1 146.8,799.1 148.1,795.2 149.4,794.9 150.7,797.9 152,797.8 153.3,799.3 154.6,797.7 155.9,799.9 157.2,804.2 158.5,802 159.8,797.4 161.1,797.7 162.4,795.9 163.7,798.2 165,796.4 166.3,792.8 167.6,807.4 168.9,799.5 170.2,793.2 171.5,807.7 172.8,801.4 174.1,799 175.4,799.3 176.7,798.5 178,800.4 179.3,803.7 180.6,788.6 181.9,794.1 183.2,796.1 184.5,792.1 185.8,800 187.1,798.4 188.4,799.9 189.7,808.4 191,806.4 192.3,800.1 193.6,805.5 194.9,809.5 196.2,803.7 197.5,798.2 198.8,791.9 200.1,789.9 201.4,790.7 202.7,795.6 204,797.6 205.3,789.2 206.6,792.6 207.9,795.2 209.2,797.9 210.5,793.5 211.8,795.9 213.1,800.1 214.4,801.3 215.7,791.4 217,792.5 218.3,803.2 219.6,800.5 220.9,800 222.2,794.3 223.5,791.2 224.8,789.2 226.1,803.6 227.4,792.8 228.7,795.4 230,798.9 231.3,803.9 232.6,805.2 233.9,804.6 235.2,807.6 236.5,805.9 237.8,807.2 239.1,806.3 240.4,802.2 241.7,801.4 243,801.6 244.3,801.6 245.6,804.1 246.9,803.6 248.2,806.7 249.5,810.8 250.8,810.5 252.1,807.4 253.4,803.8 254.7,809.2 256,805.5 257.3,803.5 258.6,801 259.9,802.3 261.2,806.1 262.5,801.8 263.8,799.6 265.1,797.9 266.4,797.9 267.7,795.8 269,794.8 270.3,796.5 271.6,801.4 272.9,799.3 274.2,802.1 275.5,808.1 276.8,807.5 278.1,803.7 279.4,804.4 280.7,802.2 282,804.7 283.3,809.2 284.6,805 285.9,808.6 287.2,806.4 288.5,804.1 289.8,804.4 291.1,806.3 292.4,806.4 293.7,800.6 295,805.1 296.3,809.8 297.6,800.8 298.9,803.6 300.2,804 301.5,798.5 302.8,794 304.1,794.8 305.4,796.3 306.7,799.4 308,795.1 309.3,790.9 310.6,790.9 311.9,793.9 313.2,794.9 314.5,800.9 315.8,795.9 317.1,804.6 318.4,800.3 319.7,799.5 321,806.3 322.3,804.2 323.6,803.9 324.9,798.9 326.2,802.2 327.5,805.3 328.8,802 330.1,801.8 331.4,800.4 332.7,801.7 334,803.8 335.3,798.1 336.6,800.8 337.9,802.7 339.2,799.5 340.5,804.7 341.8,805.9 343.1,802.6 344.4,798.7 345.7,802.1 347,798.4 348.3,799.2 349.6,801.8 350.9,809.2 352.2,807.7 353.5,807.8 354.8,807.4 356.1,803.6 357.4,799.2 358.7,799.9 360,795.9 361.3,797.7 362.6,800.2 363.9,799.6 365.2,793 366.5,789.6 367.8,789.6 369.1,793.4 370.4,790.5 371.7,790.7 373,793.8 374.3,799.6 375.6,802.2 376.9,805.1 378.2,802.4 379.5,798.2 380.8,794.8 382.1,793.8 383.4,793.2 384.7,799.2 386,804.7 387.3,796.6 388.6,795.5 389.9,795.7 391.2,798.4 392.5,801.5 393.8,805.8 395.1,804.9 396.4,807.3 397.7,807.9 399,805.4 400.3,804.5 401.6,805.2 402.9,810.8 404.2,805.7 405.5,809.1 406.8,804 408.1,800 409.4,804.4 410.7,801.1 412,797.7 413.3,797.7 414.6,802.5 415.9,806.2 417.2,800.7 418.5,801.2 419.8,808.5 421.1,805.5 422.4,806.8 423.7,800.9 425,800.4 426.3,799.8 427.6,802.8 428.9,796.6 430.2,800.5 431.5,797.4 432.8,793.5 434.1,799.3 435.4,799.8 436.7,815.6 438,808.4 439.3,801.6 440.6,798.4 441.9,797.6 443.2,788.3 444.5,796.4 445.8,795.7 447.1,798.1 448.4,810.5 449.7,808.8 451,802.5 452.3,792.6 453.6,801.2 454.9,789.8 456.2,782.9 457.5,787.9 458.8,785.3 460.1,789.9 461.4,787 462.7,801.3 464,801.1 465.3,793.8 466.6,792.9 467.9,786.6 469.2,786.3 470.5,786.9 471.8,795.9 473.1,793.1 474.4,791.1 475.7,792.1 477,796.1 478.3,800.7 479.6,799.4 480.9,801.7 482.2,802.6 483.5,805.1 484.8,804 486.1,798.5 487.4,800.3 488.7,803 490,805.6 491.3,801.6 492.6,806.5 493.9,811.8 495.2,801.4 496.5,798 497.8,799 499.1,800.4 500.4,794.3 501.7,800.6 503,800.3 504.3,802.1 505.6,801.7 506.9,801.5 508.2,801.7 509.5,798.8 510.8,802.3 512.1,802.7 513.4,806.3 514.7,806 516,804 517.3,804.6 518.6,811.9 519.9,810.6 521.2,798.9 522.5,798.5 523.8,793.1 525.1,794.1 526.4,793.5 527.7,791.4 529,795.7 530.3,794.3 531.6,798 532.9,798 534.2,799.3 535.5,800 536.8,792.9 538.1,796.9 539.4,799.1 540.7,798.5 542,796.4 543.3,797.2 544.6,796.4 545.9,792.4 547.2,793.1 548.5,796.1 549.8,799.5 551.1,797.9 552.4,799 553.7,798.2 555,804.6 556.3,803.4 557.6,805 558.9,806.6 560.2,802.9 561.5,806.6 562.8,800 564.1,794.2 565.4,794.7 566.7,798.8 568,804 569.3,804.2 570.6,799 571.9,798 573.2,802 574.5,799.4 575.8,798.3 577.1,801.1 578.4,800 579.7,796.9 581,799.1 582.3,803 583.6,801.9 584.9,805.6 586.2,801.5 587.5,795 588.8,796.7 590.1,798.6 591.4,798.1 592.7,799.7 594,800.5 595.3,797.4 596.6,797.5 597.9,797.2 599.2,801.3 600.5,796.9 601.8,805.9 603.1,807.8 604.4,805.4 605.7,803.2 607,804.7 608.3,806.3 609.6,802 610.9,799.7 612.2,802.5 613.5,799.7 614.8,799.2 616.1,803.8 617.4,803.9 618.7,802.5 620,802.2 621.3,799 622.6,799.4 623.9,803.1 625.2,803.7 626.5,809.5 627.8,811.3 629.1,814.1 630.4,810.6 631.7,808.4 633,810 634.3,813.8 635.6,814.8 636.9,808.4 638.2,811.6 639.5,810.7 640.8,814.1 642.1,818.6 643.4,815 644.7,813.8 646,814.9 647.3,808.9 648.6,801.7 649.9,802.9 651.2,803.5 652.5,802.6 653.8,808.6 655.1,805.8 656.4,808 657.7,806 659,811.1 660.3,806.5 661.6,806.3 662.9,807 664.2,808.4 665.5,810.9 666.8,811 668.1,800.5 669.4,801.3 670.7,803.9 672,802.1 673.3,810.5 674.6,804.2 675.9,801.2 677.2,800.1 678.5,803.5 679.8,803.9 681.1,802.9 682.4,804.7 683.7,804.9 685,803.3 686.3,802.7 687.6,805.7 688.9,808.1 690.2,796 691.5,803.5 692.8,805.6 694.1,799.3 695.4,794.9 696.7,801.7 698,796.5 699.3,799.1 700.6,800.6 701.9,807 703.2,806.7 704.5,808.1 705.8,807.8 707.1,809 708.4,806.9 709.7,806.6 711,810.9 712.3,811.1 713.6,810.7 714.9,811.8 716.2,810.4 717.5,810.7 718.8,808.7 720.1,808 721.4,808.3 722.7,809.6 724,812 725.3,812.3 726.6,809.1 727.9,806.7 729.2,806.2 730.5,807.4 731.8,806.6 733.1,808 734.4,807.8 735.7,808.2 737,801.1 738.3,808.1 739.6,810.7 740.9,812.1 742.2,804.8 743.5,809.9 744.8,806 746.1,807.3 747.4,806.1 748.7,806 750,804 751.3,802.6 752.6,806 753.9,801.9 755.2,803.4 756.5,808.5 757.8,805.6 759.1,812.7 760.4,808.9 761.7,806.2 763,814.7 764.3,800.4 765.6,802.7 766.9,809.1 768.2,805.5 769.5,805 770.8,804.6 772.1,807.4 773.4,807.3 773.4,814.5 772.1,814.6 770.8,813.3 769.5,816.1 768.2,813.4 766.9,814.1 765.6,815.1 764.3,811.8 763,817.6 761.7,819 760.4,817 759.1,818.6 757.8,818.9 756.5,821.3 755.2,814.3 753.9,816.4 752.6,819.7 751.3,816 750,816.5 748.7,815.5 747.4,816.7 746.1,819.6 744.8,818 743.5,820.5 742.2,819.1 740.9,821.5 739.6,817.5 738.3,815.7 737,818.1 735.7,815.4 734.4,816.1 733.1,814 731.8,816 730.5,814.9 729.2,815.7 727.9,817 726.6,815.7 725.3,814 724,813.8 722.7,814.4 721.4,813.2 720.1,812.6 718.8,814.8 717.5,816.3 716.2,814.2 714.9,812.7 713.6,813.4 712.3,814.6 711,814.2 709.7,813.7 708.4,813.2 707.1,814.8 705.8,816.4 704.5,815.5 703.2,815.2 701.9,814.7 700.6,817.7 699.3,815.8 698,816.9 696.7,813.7 695.4,813.3 694.1,809.7 692.8,810.8 691.5,807.1 690.2,807.5 688.9,808.1 687.6,809.8 686.3,813.5 685,812.7 683.7,813.8 682.4,813.9 681.1,812.6 679.8,815.1 678.5,819.5 677.2,819.6 675.9,814.8 674.6,819.5 673.3,815.5 672,814.8 670.7,820.2 669.4,821.7 668.1,820.6 666.8,822.9 665.5,825.4 664.2,819.3 662.9,819.3 661.6,824.9 660.3,825.7 659,829.7 657.7,826.4 656.4,831.3 655.1,831.1 653.8,826.1 652.5,828.9 651.2,830.4 649.9,826.7 648.6,826.3 647.3,826.3 646,827.9 644.7,830.3 643.4,829.6 642.1,825.5 640.8,828 639.5,827 638.2,831.9 636.9,831.1 635.6,827.6 634.3,828.5 633,831.2 631.7,831.2 630.4,826.3 629.1,823.7 627.8,825.9 626.5,823.9 625.2,827.6 623.9,826.8 622.6,822.6 621.3,821 620,822.8 618.7,823.4 617.4,821.9 616.1,820 614.8,820.4 613.5,820.7 612.2,820.5 610.9,817 609.6,815.2 608.3,816.1 607,818 605.7,815.4 604.4,816.5 603.1,815.2 601.8,813.7 600.5,814.7 599.2,813.8 597.9,812.9 596.6,811.3 595.3,813.3 594,816.1 592.7,814.2 591.4,814 590.1,814.4 588.8,815.4 587.5,818 586.2,819.2 584.9,816 583.6,817 582.3,817.2 581,817 579.7,816.4 578.4,816.4 577.1,812.5 575.8,817.4 574.5,816.4 573.2,818.2 571.9,821.9 570.6,822.4 569.3,821.1 568,817.7 566.7,817.7 565.4,817.4 564.1,821.2 562.8,817.7 561.5,816.2 560.2,816.9 558.9,814.3 557.6,816.6 556.3,815.7 555,813.8 553.7,809.3 552.4,808.9 551.1,807.7 549.8,808 548.5,807.5 547.2,811.7 545.9,816.3 544.6,812.3 543.3,814.1 542,814.6 540.7,812.8 539.4,813.6 538.1,811.6 536.8,809.7 535.5,809.9 534.2,810.8 532.9,815.7 531.6,815.9 530.3,816.3 529,819.4 527.7,818.1 526.4,818.5 525.1,817.1 523.8,816.1 522.5,814.9 521.2,810.6 519.9,811.4 518.6,818.6 517.3,818.5 516,815.4 514.7,813.5 513.4,815.5 512.1,814 510.8,814.4 509.5,815.3 508.2,821.3 506.9,820 505.6,818.5 504.3,818.9 503,819 501.7,819.7 500.4,815.9 499.1,818.2 497.8,821.2 496.5,819.6 495.2,817.2 493.9,820.2 492.6,812.8 491.3,817.1 490,814 488.7,812.7 487.4,819.8 486.1,819.5 484.8,822.5 483.5,815.8 482.2,816 480.9,815.2 479.6,815.8 478.3,819.1 477,814.9 475.7,811.3 474.4,818 473.1,815.8 471.8,812.1 470.5,815.6 469.2,822.7 467.9,821.1 466.6,816.9 465.3,815.7 464,821.7 462.7,823.3 461.4,828.1 460.1,823.1 458.8,825.2 457.5,818.1 456.2,822 454.9,826.3 453.6,819.2 452.3,819.8 451,828.3 449.7,831 448.4,830.9 447.1,820.8 445.8,823.9 444.5,825.7 443.2,824.9 441.9,819.7 440.6,821.1 439.3,820.4 438,816.3 436.7,822.5 435.4,823.7 434.1,823.1 432.8,820.9 431.5,820.5 430.2,822.7 428.9,828.2 427.6,827.7 426.3,817.9 425,816.1 423.7,819.9 422.4,819.4 421.1,819.2 419.8,816.9 418.5,819.2 417.2,816.9 415.9,818.3 414.6,817 413.3,820.9 412,821.7 410.7,817.4 409.4,817.8 408.1,816.2 406.8,814.9 405.5,813.5 404.2,814.5 402.9,811.5 401.6,817.6 400.3,823.3 399,821.7 397.7,816.4 396.4,817.9 395.1,816.7 393.8,811.9 392.5,818.5 391.2,816.9 389.9,815.5 388.6,817.4 387.3,817.6 386,821.4 384.7,817.7 383.4,822 382.1,819.9 380.8,820.2 379.5,817.2 378.2,817.5 376.9,819 375.6,816.3 374.3,813.6 373,816.5 371.7,814.6 370.4,813.7 369.1,813 367.8,814.5 366.5,815.9 365.2,815 363.9,810.3 362.6,813.1 361.3,817 360,816.5 358.7,816.2 357.4,819.4 356.1,820.2 354.8,818.8 353.5,815.7 352.2,815 350.9,813.6 349.6,814.8 348.3,811.9 347,812.9 345.7,813.3 344.4,815.6 343.1,814.8 341.8,815.1 340.5,817.1 339.2,818.4 337.9,813.1 336.6,813.9 335.3,814.1 334,817.7 332.7,820.4 331.4,820 330.1,815.2 328.8,817.7 327.5,817.3 326.2,822.1 324.9,826.8 323.6,819.9 322.3,825.7 321,822.2 319.7,819.5 318.4,817.4 317.1,816.8 315.8,815.1 314.5,819.2 313.2,820.6 311.9,821.2 310.6,822.1 309.3,819.4 308,820.1 306.7,816.8 305.4,814.7 304.1,816.6 302.8,816.9 301.5,822 300.2,818.1 298.9,817.7 297.6,818.1 296.3,817.8 295,823.2 293.7,818.8 292.4,818.7 291.1,813.4 289.8,815.9 288.5,818 287.2,812.3 285.9,816.2 284.6,816.4 283.3,813.8 282,815.6 280.7,814.7 279.4,814.5 278.1,814.7 276.8,815.7 275.5,814.7 274.2,810.3 272.9,808.5 271.6,810.8 270.3,809.1 269,817.6 267.7,813.6 266.4,813.8 265.1,814.7 263.8,815.6 262.5,814.4 261.2,814.2 259.9,815 258.6,815.4 257.3,818.8 256,815.9 254.7,813.9 253.4,815.1 252.1,813.9 250.8,814.1 249.5,816.3 248.2,818.7 246.9,815.2 245.6,815.5 244.3,815.9 243,816.2 241.7,814 240.4,816.1 239.1,817.8 237.8,815.9 236.5,815.1 235.2,816.1 233.9,816.8 232.6,814.2 231.3,814.5 230,816.2 228.7,814.2 227.4,815.2 226.1,816.5 224.8,812.7 223.5,813.5 222.2,814.4 220.9,813.1 219.6,814.6 218.3,810.7 217,815 215.7,813.3 214.4,817.4 213.1,811.9 211.8,812.1 210.5,813.4 209.2,816.6 207.9,817.7 206.6,819.7 205.3,820.7 204,819.4 202.7,818 201.4,816 200.1,816.8 198.8,813.1 197.5,813.5 196.2,815.5 194.9,815.9 193.6,821 192.3,820.8 191,817.6 189.7,813.3 188.4,813.5 187.1,818.5 185.8,823.6 184.5,821.1 183.2,819.4 181.9,813.5 180.6,813 179.3,817.8 178,819 176.7,815.1 175.4,815.3 174.1,816.2 172.8,812.2 171.5,814.2 170.2,813.3 168.9,816 167.6,815.8 166.3,815.5 165,814.2 163.7,809.6 162.4,812 161.1,810.7 159.8,812.3 158.5,814 157.2,815.8 155.9,815.9 154.6,815.5 153.3,820.3 152,815.1 150.7,814 149.4,815.3 148.1,812.4 146.8,811.2 145.5,812.6 144.2,813.9 142.9,815.7 141.6,814.4 140.3,815.3 139,813 137.7,811.5 136.4,809.5 135.1,814.1 133.8,813.2 132.5,818.4 131.2,815.9 129.9,816.4 128.6,814 127.3,809.2 126,809.9 124.7,807.7 123.4,811.3 122.1,817 120.8,815.8 119.5,813.8 118.2,813.4 116.9,813.6 115.6,814.2 114.3,810.8 113,813.4 111.7,813.4 110.4,819.2 109.1,818.8 107.8,819.5 106.5,820.4 105.2,819.3 103.9,820.8 102.6,815.5 101.3,816.5 100,816 98.7,819.9 97.4,818 96.1,818.2 94.8,817.1 93.5,816.2 92.2,817.4 90.9,816.1 89.6,815.1 88.3,811.5 87,813.6 85.7,813.7 84.4,814 83.1,813.3 81.8,812.7 80.5,811" fill="#000"/><path d="M80.5 805.5h0M80.5 811h0M81.8 804.5h0M81.8 812.7h0M82 804.4h0M83.1 804.5h0M83.1 813.3h0M84.4 808.2h0M84.4 814h0M85.7 808.2h0M85.7 813.7h0M85.5 807.5h0M87 806h0M87 813.6h0M87.3 803.2h0M87 816.4h0M88.3 803.8h0M88.3 811.5h0M89.6 805.2h0M89.6 815.1h0M90.9 803.8h0M90.9 816.1h0M92.2 803h0M92.2 817.4h0M92.4 802.9h0M93.5 803.1h0M93.5 816.2h0M93.3 802.9h0M94.8 802.2h0M94.8 817.1h0M94.3 802.4h0M96.1 810.8h0M96.1 818.2h0M95.9 808.9h0M97.4 808.4h0M97.4 818h0M97 820.8h0M98.7 808.7h0M98.7 819.9h0M100 806.7h0M100 816h0M101.3 806.9h0M101.3 816.5h0M101.6 804.1h0M102.6 804.9h0M102.6 815.5h0M102.7 818.3h0M102.4 803.4h0M103.9 811.7h0M103.9 820.8h0M103.5 808.9h0M105.2 809.8h0M105.2 819.3h0M106.5 804.5h0M106.5 820.4h0M106.4 801.7h0M107.8 802.5h0M107.8 819.5h0M109.1 802.4h0M109.1 818.8h0M110.4 803.3h0M110.4 819.2h0M110.6 802.2h0M111.7 805.5h0M111.7 813.4h0M111.9 816.2h0M113 803.9h0M113 813.4h0M112.9 816.2h0M113 802.9h0M114.3 808.2h0M114.3 810.8h0M114.4 805.4h0M114.1 802.6h0M114 799.8h0M115.6 802.1h0M115.6 814.2h0M115.5 799.3h0M116.9 805.7h0M116.9 813.6h0M118.2 806.4h0M118.2 813.4h0M118.5 803.6h0M117.9 800.8h0M118.4 816.2h0M119.5 805.4h0M119.5 813.8h0M119.7 802.6h0M119.8 799.8h0M119.4 816.6h0M119.2 819.4h0M119.9 802.6h0M120.8 802.3h0M120.8 815.8h0M120.4 799.5h0M120.8 818.6h0M121.1 802.1h0M122.1 802h0M122.1 817h0M122 799.2h0M122.3 800.6h0M123.4 799.6h0M123.4 811.3h0M124.7 800.6h0M124.7 807.7h0M126 797.5h0M126 809.9h0M125.8 812.7h0M127.3 799.4h0M127.3 809.2h0M127.4 796.6h0M127.5 799.4h0M128.6 798.8h0M128.6 814h0M128.9 796h0M128.5 819.6h0M129.9 798.3h0M129.9 816.4h0M129.6 796.5h0M131.2 794.9h0M131.2 815.9h0M130.9 794.6h0M132.5 801h0M132.5 818.4h0M132.4 800.2h0M133.8 800.9h0M133.8 813.2h0M133.9 816h0M134.1 818.8h0M133.8 797.6h0M135.1 800.6h0M135.1 814.1h0M135.1 797.8h0M134.9 816.9h0M134.6 800.5h0M136.4 798h0M136.4 809.5h0M136.6 812.3h0M136.4 815.1h0M136.6 817.9h0M137.7 800.9h0M137.7 811.5h0M137.5 798.1h0M137.5 814.3h0M137.5 817.1h0M137.3 800.6h0M139 799.8h0M139 813h0M138.9 797h0M139.4 799.8h0M140.3 800.7h0M140.3 815.3h0M140 797.9h0M141.6 801.1h0M141.6 814.4h0M142.9 801.5h0M142.9 815.7h0M142.4 800.2h0M144.2 802.4h0M144.2 813.9h0M144.7 802.1h0M145.5 803.1h0M145.5 812.6h0M145.3 800.3h0M146.8 799.1h0M146.8 811.2h0M146.7 814h0M148.1 795.2h0M148.1 812.4h0M149.4 794.9h0M149.4 815.3h0M149.2 818.1h0M150.7 797.9h0M150.7 814h0M150.7 795.1h0M152 797.8h0M152 815.1h0M151.6 795h0M151.9 817.9h0M153.3 799.3h0M153.3 820.3h0M152.8 798.1h0M154.6 797.7h0M154.6 815.5h0M155.1 796.1h0M155.9 799.9h0M155.9 815.9h0M156 818.7h0M156.1 797.5h0M157.2 804.2h0M157.2 815.8h0M157 801.4h0M157.5 818.6h0M156.9 803.9h0M158.5 802h0M158.5 814h0M158.5 799.2h0M158.7 795.9h0M159.8 797.4h0M159.8 812.3h0M159.9 796.3h0M161.1 797.7h0M161.1 810.7h0M160.7 794.9h0M160.6 794.5h0M162.4 795.9h0M162.4 812h0M162 794.2h0M163.7 798.2h0M163.7 809.6h0M163.8 795.4h0M163.6 812.4h0M164 815.2h0M164 818h0M165 796.4h0M165 814.2h0M164.6 817h0M164.8 819.8h0M166.3 792.8h0M166.3 815.5h0M166.6 818.3h0M167.6 807.4h0M167.6 815.8h0M168.9 799.5h0M168.9 816h0M168.8 818.8h0M168.9 793.5h0M170.2 793.2h0M170.2 813.3h0M169.9 816.1h0M170.3 818.9h0M171.5 807.7h0M171.5 814.2h0M171.6 804.9h0M171.7 799.3h0M171.5 796.5h0M171.8 793.7h0M171.7 817h0M171.2 819.8h0M171.1 822.6h0M171 802.5h0M172.8 801.4h0M172.8 812.2h0M172.8 798.6h0M172.4 795.8h0M172.7 790.2h0M172.7 815h0M172.8 817.8h0M172.2 798.6h0M174.1 799h0M174.1 816.2h0M174.4 796.2h0M173.9 793.4h0M175.4 799.3h0M175.4 815.3h0M175.7 818.1h0M175.5 796.4h0M176.7 798.5h0M176.7 815.1h0M177 795.7h0M177 817.9h0M176.5 820.7h0M176.6 823.5h0M177.1 796.1h0M178 800.4h0M178 819h0M179.3 803.7h0M179.3 817.8h0M179.7 800.9h0M178.9 820.6h0M179 801.6h0M180.6 788.6h0M180.6 813h0M180.3 815.8h0M180.8 818.6h0M180.7 821.4h0M180.5 788.7h0M181.9 794.1h0M181.9 813.5h0M181.5 791.6h0M183.2 796.1h0M183.2 819.4h0M184.5 792.1h0M184.5 821.1h0M184.4 823.9h0M185 791.8h0M185.8 800h0M185.8 823.6h0M186 797.2h0M185.7 799.6h0M187.1 798.4h0M187.1 818.5h0M187.4 795.6h0M186.9 821.3h0M187.3 824.1h0M187.7 798.2h0M188.4 799.9h0M188.4 813.5h0M189.7 808.4h0M189.7 813.3h0M190.1 805.6h0M189.5 802.8h0M189.8 800h0M189.6 797.2h0M189.9 816.1h0M191 806.4h0M191 817.6h0M190.8 803.6h0M191 800.8h0M192.3 800.1h0M192.3 820.8h0M192.4 795.9h0M193.6 805.5h0M193.6 821h0M194.9 809.5h0M194.9 815.9h0M194.5 818.7h0M194.7 821.5h0M196.2 803.7h0M196.2 815.5h0M196.2 800.9h0M196.5 818.3h0M196.4 821.1h0M197.5 798.2h0M197.5 813.5h0M197.8 795.4h0M197.9 816.3h0M197.6 796.5h0M198.8 791.9h0M198.8 813.1h0M199.1 815.9h0M198.8 818.7h0M198.8 791.6h0M200.1 789.9h0M200.1 816.8h0M201.4 790.7h0M201.4 816h0M202.7 795.6h0M202.7 818h0M202.5 794.1h0M204 797.6h0M204 819.4h0M203.8 794.8h0M203.5 797.5h0M205.3 789.2h0M205.3 820.7h0M206.6 792.6h0M206.6 819.7h0M207.9 795.2h0M207.9 817.7h0M208.2 792.4h0M207.6 820.5h0M209.2 797.9h0M209.2 816.6h0M209.5 819.4h0M210.5 793.5h0M210.5 813.4h0M210.2 790.7h0M210.7 816.2h0M210.5 793.5h0M211.8 795.9h0M211.8 812.1h0M211.7 814.9h0M212 817.7h0M213.1 800.1h0M213.1 811.9h0M214.4 801.3h0M214.4 817.4h0M214.1 800.7h0M215.7 791.4h0M215.7 813.3h0M217 792.5h0M217 815h0M216.6 817.8h0M218.3 803.2h0M218.3 810.7h0M218.4 816.3h0M218.4 819.1h0M219.6 800.5h0M219.6 814.6h0M219.5 817.4h0M220.9 800h0M220.9 813.1h0M221.2 793.8h0M222.2 794.3h0M222.2 814.4h0M223.5 791.2h0M223.5 813.5h0M223.8 819.1h0M224.8 789.2h0M224.8 812.7h0M225 815.5h0M224.9 818.3h0M224.8 789.4h0M226.1 803.6h0M226.1 816.5h0M226.3 800.8h0M225.7 798h0M226.1 800.2h0M227.4 792.8h0M227.4 815.2h0M227 818h0M227.8 820.8h0M228.7 795.4h0M228.7 814.2h0M229.2 795.4h0M230 798.9h0M230 816.2h0M229.7 819h0M231.3 803.9h0M231.3 814.5h0M231.6 817.3h0M231.7 800.5h0M232.6 805.2h0M232.6 814.2h0M232.9 802.4h0M232.6 799.6h0M232.4 817h0M232.9 819.8h0M233.9 804.6h0M233.9 816.8h0M235.2 807.6h0M235.2 816.1h0M235.5 804.8h0M235.4 818.9h0M235.5 806.2h0M236.5 805.9h0M236.5 815.1h0M237.8 807.2h0M237.8 815.9h0M238 818.7h0M239.1 806.3h0M239.1 817.8h0M239.2 803.5h0M240.4 802.2h0M240.4 816.1h0M240.2 818.9h0M241.7 801.4h0M241.7 814h0M241.5 816.8h0M241.2 802.2h0M243 801.6h0M243 816.2h0M243 819h0M244.3 801.6h0M244.3 815.9h0M244.2 801.6h0M245.6 804.1h0M245.6 815.5h0M246.9 803.6h0M246.9 815.2h0M246.9 818h0M246.7 803h0M248.2 806.7h0M248.2 818.7h0M249.5 810.8h0M249.5 816.3h0M249.8 808h0M249.6 805.2h0M249.3 809.4h0M250.8 810.5h0M250.8 814.1h0M250.7 807.7h0M251.2 804.6h0M252.1 807.4h0M252.1 813.9h0M252.4 804.6h0M251.9 819.5h0M252.2 807h0M253.4 803.8h0M253.4 815.1h0M254.7 809.2h0M254.7 813.9h0M256 805.5h0M256 815.9h0M257.3 803.5h0M257.3 818.8h0M256.7 803.3h0M258.6 801h0M258.6 815.4h0M259.9 802.3h0M259.9 815h0M260.4 802.2h0M261.2 806.1h0M261.2 814.2h0M261.7 803.8h0M262.5 801.8h0M262.5 814.4h0M262.5 799h0M263.8 799.6h0M263.8 815.6h0M263.5 818.4h0M263.4 797.8h0M265.1 797.9h0M265.1 814.7h0M264.8 817.5h0M265.1 796.9h0M266.4 797.9h0M266.4 813.8h0M266.3 796.3h0M267.7 795.8h0M267.7 813.6h0M269 794.8h0M269 817.6h0M270.3 796.5h0M270.3 809.1h0M270.3 811.9h0M270.7 814.7h0M270.5 817.5h0M271.6 801.4h0M271.6 810.8h0M271.4 813.6h0M271.9 816.4h0M271.4 819.2h0M272 799.3h0M272.9 799.3h0M272.9 808.5h0M273.2 811.3h0M274.2 802.1h0M274.2 810.3h0M273.9 799.3h0M274.5 813.1h0M274.1 799.5h0M275.5 808.1h0M275.5 814.7h0M275.5 805.3h0M275.8 802.5h0M276.8 807.5h0M276.8 815.7h0M278.1 803.7h0M278.1 814.7h0M278.4 800.9h0M278 799.3h0M279.4 804.4h0M279.4 814.5h0M279.3 817.3h0M278.9 804.4h0M280.7 802.2h0M280.7 814.7h0M282 804.7h0M282 815.6h0M283.3 809.2h0M283.3 813.8h0M283 801.9h0M284.6 805h0M284.6 816.4h0M284.4 802.2h0M284.8 804.7h0M285.9 808.6h0M285.9 816.2h0M286.2 819h0M287.2 806.4h0M287.2 812.3h0M287.1 803.6h0M287.3 815.1h0M287.7 800.2h0M288.5 804.1h0M288.5 818h0M288.3 820.8h0M289.8 804.4h0M289.8 815.9h0M289.6 802.2h0M291.1 806.3h0M291.1 813.4h0M291 803.5h0M291.2 816.2h0M290.8 819h0M291.3 800h0M292.4 806.4h0M292.4 818.7h0M292.2 796.9h0M293.7 800.6h0M293.7 818.8h0M295 805.1h0M295 823.2h0M295.1 802.3h0M294.9 799.5h0M295.3 804.6h0M296.3 809.8h0M296.3 817.8h0M296.4 807h0M296.1 804.2h0M296.1 801.4h0M295.9 798.6h0M296.5 820.6h0M297.6 800.8h0M297.6 818.1h0M298.9 803.6h0M298.9 817.7h0M299.1 797.2h0M300.2 804h0M300.2 818.1h0M301.5 798.5h0M301.5 822h0M301.6 795.7h0M302.8 794h0M302.8 816.9h0M304.1 794.8h0M304.1 816.6h0M303.9 792h0M304.3 822.2h0M305.4 796.3h0M305.4 814.7h0M305.4 793.5h0M305.2 817.5h0M305.2 820.3h0M305.6 795.6h0M306.7 799.4h0M306.7 816.8h0M306.9 796.6h0M306.4 793.8h0M306.8 819.6h0M308 795.1h0M308 820.1h0M307.7 787.2h0M309.3 790.9h0M309.3 819.4h0M309.1 822.2h0M310.6 790.9h0M310.6 822.1h0M310.4 790.7h0M311.9 793.9h0M311.9 821.2h0M311.5 791.1h0M313.2 794.9h0M313.2 820.6h0M313 792.1h0M313.1 789.3h0M313 786.5h0M313.6 823.4h0M313.5 786.2h0M314.5 800.9h0M314.5 819.2h0M314.7 822h0M314.6 799.1h0M315.8 795.9h0M315.8 815.1h0M315.7 793.1h0M315.6 817.9h0M316.1 820.7h0M317.1 804.6h0M317.1 816.8h0M317.1 819.6h0M318.4 800.3h0M318.4 817.4h0M318.7 797.5h0M319.7 799.5h0M319.7 819.5h0M319.7 796.7h0M319.7 793.9h0M319.5 787.2h0M321 806.3h0M321 822.2h0M321 803.5h0M321.2 800.7h0M320.6 802h0M322.3 804.2h0M322.3 825.7h0M321.9 801.4h0M322.5 798.6h0M323.6 803.9h0M323.6 819.9h0M323.5 801.1h0M323.9 822.7h0M324.9 798.9h0M324.9 826.8h0M326.2 802.2h0M326.2 822.1h0M326.1 799.4h0M326.1 800.6h0M327.5 805.3h0M327.5 817.3h0M327.5 802.5h0M328.8 802h0M328.8 817.7h0M328.4 799.2h0M328.5 801.6h0M330.1 801.8h0M330.1 815.2h0M329.9 818h0M331.4 800.4h0M331.4 820h0M332.7 801.7h0M332.7 820.4h0M334 803.8h0M334 817.7h0M333.7 801h0M334.3 820.5h0M333.5 801.9h0M335.3 798.1h0M335.3 814.1h0M335.5 816.9h0M335.4 819.7h0M336.6 800.8h0M336.6 813.9h0M337.9 802.7h0M337.9 813.1h0M338.5 802.7h0M339.2 799.5h0M339.2 818.4h0M339 795.6h0M340.5 804.7h0M340.5 817.1h0M340.7 819.9h0M341.8 805.9h0M341.8 815.1h0M341.7 801.5h0M343.1 802.6h0M343.1 814.8h0M344.4 798.7h0M344.4 815.6h0M344 798.7h0M345.7 802.1h0M345.7 813.3h0M345.8 799.3h0M346 796.5h0M347 798.4h0M347 812.9h0M348.3 799.2h0M348.3 811.9h0M348.7 814.7h0M349.6 801.8h0M349.6 814.8h0M349.8 799h0M349.2 801.1h0M350.9 809.2h0M350.9 813.6h0M350.9 803.6h0M351.4 797.2h0M352.2 807.7h0M352.2 815h0M352.2 802.1h0M352 799.3h0M352 796.5h0M351.8 793.1h0M353.5 807.8h0M353.5 815.7h0M353.3 802.2h0M353.8 799.4h0M353.6 818.5h0M354.8 807.4h0M354.8 818.8h0M356.1 803.6h0M356.1 820.2h0M357.4 799.2h0M357.4 819.4h0M357.2 822.2h0M358.7 799.9h0M358.7 816.2h0M358.9 797.1h0M360 795.9h0M360 816.5h0M359.9 819.3h0M359.5 791.2h0M361.3 797.7h0M361.3 817h0M360.7 794.6h0M362.6 800.2h0M362.6 813.1h0M362.4 797.4h0M362.7 794.6h0M363.9 799.6h0M363.9 810.3h0M363.5 796.8h0M364.3 813.1h0M364.1 792.2h0M365.2 793h0M365.2 815h0M365.5 817.8h0M366.5 789.6h0M366.5 815.9h0M366.8 818.7h0M366.3 821.5h0M367.8 789.6h0M367.8 814.5h0M368 817.3h0M367.5 820.1h0M367.9 789.4h0M369.1 793.4h0M369.1 813h0M370.4 790.5h0M370.4 813.7h0M370.4 790.5h0M371.7 790.7h0M371.7 814.6h0M373 793.8h0M373 816.5h0M373 819.3h0M372.9 822.1h0M373.4 791.8h0M374.3 799.6h0M374.3 813.6h0M374.2 816.4h0M375.6 802.2h0M375.6 816.3h0M375.2 799.4h0M375.3 796.6h0M376.1 795.1h0M376.9 805.1h0M376.9 819h0M376.6 802.3h0M377.2 793.9h0M378.2 802.4h0M378.2 817.5h0M378 799.6h0M378 796.8h0M378.1 791.2h0M378.5 820.3h0M377.9 799.4h0M379.5 798.2h0M379.5 817.2h0M379.5 795.4h0M380.8 794.8h0M380.8 820.2h0M382.1 793.8h0M382.1 819.9h0M383.4 793.2h0M383.4 822h0M383.2 793h0M384.7 799.2h0M384.7 817.7h0M384.7 796.4h0M384.8 793.6h0M384.6 820.5h0M384.6 793.8h0M386 804.7h0M386 821.4h0M387.3 796.6h0M387.3 817.6h0M388.6 795.5h0M388.6 817.4h0M388.7 820.2h0M388.2 794.9h0M389.9 795.7h0M389.9 815.5h0M391.2 798.4h0M391.2 816.9h0M391.8 798.3h0M392.5 801.5h0M392.5 818.5h0M392.6 801.5h0M393.8 805.8h0M393.8 811.9h0M394 814.7h0M393.5 817.5h0M393.8 801.4h0M395.1 804.9h0M395.1 816.7h0M394.8 802.1h0M394.9 799.3h0M396.4 807.3h0M396.4 817.9h0M396.9 806.1h0M397.7 807.9h0M397.7 816.4h0M397.5 805.1h0M397.3 802.3h0M397.4 819.2h0M399 805.4h0M399 821.7h0M399.5 803.9h0M400.3 804.5h0M400.3 823.3h0M401.6 805.2h0M401.6 817.6h0M401.8 820.4h0M401.3 823.2h0M401.8 805.2h0M402.9 810.8h0M402.9 811.5h0M403.2 817.1h0M404.2 805.7h0M404.2 814.5h0M404 805.6h0M405.5 809.1h0M405.5 813.5h0M405.1 809h0M406.8 804h0M406.8 814.9h0M406.5 801.2h0M406.8 798.4h0M408.1 800h0M408.1 816.2h0M407.9 819h0M409.4 804.4h0M409.4 817.8h0M409.4 803h0M410.7 801.1h0M410.7 817.4h0M412 797.7h0M412 821.7h0M413.3 797.7h0M413.3 820.9h0M413.2 797.7h0M414.6 802.5h0M414.6 817h0M415.9 806.2h0M415.9 818.3h0M416.2 800.6h0M415.8 805h0M417.2 800.7h0M417.2 816.9h0M417.8 800.5h0M418.5 801.2h0M418.5 819.2h0M418.3 801h0M419.8 808.5h0M419.8 816.9h0M419.8 819.7h0M420.3 805.2h0M421.1 805.5h0M421.1 819.2h0M422.4 806.8h0M422.4 819.4h0M423.7 800.9h0M423.7 819.9h0M423.9 822.7h0M424.2 800.7h0M425 800.4h0M425 816.1h0M425.2 797.6h0M426.3 799.8h0M426.3 817.9h0M426.1 797h0M426.4 820.7h0M426.3 823.5h0M426.2 826.3h0M426.7 797.4h0M427.6 802.8h0M427.6 827.7h0M427.4 797.2h0M428 796.9h0M428.9 796.6h0M428.9 828.2h0M429 793.8h0M430.2 800.5h0M430.2 822.7h0M430.6 825.5h0M431.5 797.4h0M431.5 820.5h0M431.6 794.6h0M431.2 791.8h0M432.8 793.5h0M432.8 820.9h0M432.6 793.1h0M434.1 799.3h0M434.1 823.1h0M434.5 796.5h0M435.4 799.8h0M435.4 823.7h0M435.7 826.5h0M435.2 829.3h0M435.7 832.1h0M436.7 815.6h0M436.7 822.5h0M436.9 825.3h0M436.4 828.1h0M438 808.4h0M438 816.3h0M438 800h0M438.1 819.1h0M439.3 801.6h0M439.3 820.4h0M439.4 798.8h0M440.6 798.4h0M440.6 821.1h0M440.9 795.6h0M440.6 792.8h0M441.9 797.6h0M441.9 819.7h0M441.7 822.5h0M442.2 828.1h0M441.8 830.9h0M443.2 788.3h0M443.2 824.9h0M442.9 827.7h0M444.5 796.4h0M444.5 825.7h0M444.9 789.5h0M445.8 795.7h0M445.8 823.9h0M445.5 792.9h0M445.5 790.1h0M446.1 787.3h0M447.1 798.1h0M447.1 820.8h0M448.4 810.5h0M448.4 830.9h0M448.6 807.7h0M448.4 784.4h0M449.7 808.8h0M449.7 831h0M449.8 806h0M449.8 803.2h0M449.5 800.4h0M451 802.5h0M451 828.3h0M450.9 831.1h0M450.6 787.1h0M452.3 792.6h0M452.3 819.8h0M451.9 789.8h0M452.2 822.6h0M452.4 825.4h0M452.1 828.2h0M452.4 831h0M452.1 790.9h0M453.6 801.2h0M453.6 819.2h0M453.2 822h0M453.5 824.8h0M454 827.6h0M453.6 798.4h0M454.9 789.8h0M454.9 826.3h0M454.9 787h0M455.2 829.1h0M455.1 834.7h0M454.9 837.5h0M456.2 782.9h0M456.2 822h0M456 780.1h0M455.8 777.3h0M455.8 824.8h0M457.5 787.9h0M457.5 818.1h0M457.6 785.1h0M457.1 820.9h0M457.4 823.7h0M457.8 826.5h0M457.4 829.3h0M457.7 832.1h0M458.8 785.3h0M458.8 825.2h0M459 782.5h0M459.1 779.7h0M460.1 789.9h0M460.1 823.1h0M461.4 787h0M461.4 828.1h0M461.4 830.9h0M461.5 780.2h0M462.7 801.3h0M462.7 823.3h0M462.1 790.8h0M464 801.1h0M464 821.7h0M463.8 798.3h0M463.8 824.5h0M465.3 793.8h0M465.3 815.7h0M465.5 788.2h0M465.1 785.4h0M465.8 787.7h0M466.6 792.9h0M466.6 816.9h0M467.9 786.6h0M467.9 821.1h0M467.8 823.9h0M467.5 786.6h0M469.2 786.3h0M469.2 822.7h0M469.1 825.5h0M470.5 786.9h0M470.5 815.6h0M470.6 818.4h0M470.3 824h0M471 786.9h0M471.8 795.9h0M471.8 812.1h0M471.9 793.1h0M471.7 790.3h0M472.3 795.1h0M473.1 793.1h0M473.1 815.8h0M473.2 818.6h0M474.4 791.1h0M474.4 818h0M475.7 792.1h0M475.7 811.3h0M475.7 814.1h0M475.4 816.9h0M477 796.1h0M477 814.9h0M477.1 817.7h0M477.1 790.1h0M478.3 800.7h0M478.3 819.1h0M477.9 821.9h0M479.6 799.4h0M479.6 815.8h0M479.5 818.6h0M479.9 821.4h0M479.1 791.8h0M480.9 801.7h0M480.9 815.2h0M480.9 798.9h0M480.8 796.1h0M480.8 820.8h0M481.4 796.6h0M482.2 802.6h0M482.2 816h0M482.1 818.8h0M482.4 821.6h0M483.5 805.1h0M483.5 815.8h0M483.5 802.3h0M483.9 796.7h0M483.2 818.6h0M483.2 821.4h0M484.8 804h0M484.8 822.5h0M484.8 801.2h0M484.5 798.4h0M484.4 795.6h0M486.1 798.5h0M486.1 819.5h0M486 792.3h0M487.4 800.3h0M487.4 819.8h0M487.4 797.5h0M487.1 794.7h0M487.5 822.6h0M488.7 803h0M488.7 812.7h0M488.4 815.5h0M489.1 791.8h0M490 805.6h0M490 814h0M489.7 802.8h0M489.6 797.2h0M490.1 816.8h0M491.3 801.6h0M491.3 817.1h0M491.3 819.9h0M492.6 806.5h0M492.6 812.8h0M492.6 815.6h0M493 821.2h0M493.2 799.3h0M493.9 811.8h0M493.9 820.2h0M493.5 809h0M494 823h0M495.2 801.4h0M495.2 817.2h0M495.6 820h0M494.9 822.8h0M496.5 798h0M496.5 819.6h0M497.1 797.9h0M497.8 799h0M497.8 821.2h0M497.9 798.7h0M499.1 800.4h0M499.1 818.2h0M498.6 799.7h0M500.4 794.3h0M500.4 815.9h0M501.7 800.6h0M501.7 819.7h0M501.9 822.5h0M501.8 795.9h0M503 800.3h0M503 819h0M502.9 800.2h0M504.3 802.1h0M504.3 818.9h0M503.8 795.2h0M505.6 801.7h0M505.6 818.5h0M505.2 798.9h0M505.6 796.1h0M505.6 801.4h0M506.9 801.5h0M506.9 820h0M508.2 801.7h0M508.2 821.3h0M508 799.3h0M509.5 798.8h0M509.5 815.3h0M509.8 818.1h0M509.1 820.9h0M510.8 802.3h0M510.8 814.4h0M510.9 817.2h0M511.1 820h0M510.7 801.2h0M512.1 802.7h0M512.1 814h0M512.1 816.8h0M512.4 819.6h0M512.3 802.4h0M513.4 806.3h0M513.4 815.5h0M514.7 806h0M514.7 813.5h0M514.5 803.2h0M516 804h0M516 815.4h0M517.3 804.6h0M517.3 818.5h0M517.1 801.5h0M518.6 811.9h0M518.6 818.6h0M518.2 811.5h0M519.9 810.6h0M519.9 811.4h0M519.9 807.8h0M520.1 805h0M520.3 802.2h0M519.5 796.6h0M521.2 798.9h0M521.2 810.6h0M521.5 796.1h0M521.1 813.4h0M520.7 797.9h0M522.5 798.5h0M522.5 814.9h0M522.2 794.5h0M523.8 793.1h0M523.8 816.1h0M524.1 818.9h0M523.2 793.2h0M525.1 794.1h0M525.1 817.1h0M524.9 793.3h0M526.4 793.5h0M526.4 818.5h0M525.9 793.2h0M527.7 791.4h0M527.7 818.1h0M528.2 791.8h0M529 795.7h0M529 819.4h0M530.3 794.3h0M530.3 816.3h0M531.6 798h0M531.6 815.9h0M531.2 795.2h0M531.6 792.4h0M532 818.7h0M532.1 797.7h0M532.9 798h0M532.9 815.7h0M533 795.2h0M533.3 792.9h0M534.2 799.3h0M534.2 810.8h0M534 796.5h0M535.5 800h0M535.5 809.9h0M535.3 797.2h0M535.4 812.7h0M535.9 815.5h0M535.2 794.7h0M536.8 792.9h0M536.8 809.7h0M536.4 792.8h0M538.1 796.9h0M538.1 811.6h0M539.4 799.1h0M539.4 813.6h0M539.7 790.7h0M540.7 798.5h0M540.7 812.8h0M542 796.4h0M542 814.6h0M542.1 796.2h0M543.3 797.2h0M543.3 814.1h0M544.6 796.4h0M544.6 812.3h0M545.9 792.4h0M545.9 816.3h0M547.2 793.1h0M547.2 811.7h0M547.7 790.7h0M548.5 796.1h0M548.5 807.5h0M548.5 810.3h0M548.9 813.1h0M548.9 815.9h0M548.5 794.7h0M549.8 799.5h0M549.8 808h0M550.2 796.7h0M550 793.9h0M550 792.6h0M551.1 797.9h0M551.1 807.7h0M550.9 797.9h0M552.4 799h0M552.4 808.9h0M552.5 811.7h0M552.1 814.5h0M552.6 798.2h0M553.7 798.2h0M553.7 809.3h0M553.4 812.1h0M553.7 814.9h0M555 804.6h0M555 813.8h0M555.3 801.8h0M554.7 798.7h0M556.3 803.4h0M556.3 815.7h0M556.3 800.6h0M556 818.5h0M557.6 805h0M557.6 816.6h0M557.6 802.2h0M558 803h0M558.9 806.6h0M558.9 814.3h0M559 817.1h0M558.7 804.2h0M560.2 802.9h0M560.2 816.9h0M560.6 800.1h0M560.6 801.6h0M561.5 806.6h0M561.5 816.2h0M561.4 819h0M561.6 797.2h0M562.8 800h0M562.8 817.7h0M564.1 794.2h0M564.1 821.2h0M564.7 794.6h0M565.4 794.7h0M565.4 817.4h0M565.4 820.2h0M566.7 798.8h0M566.7 817.7h0M566.6 795.6h0M568 804h0M568 817.7h0M568.1 801.2h0M568.2 820.5h0M567.8 804h0M569.3 804.2h0M569.3 821.1h0M569.2 801.4h0M570.6 799h0M570.6 822.4h0M571.9 798h0M571.9 821.9h0M571.5 797.3h0M573.2 802h0M573.2 818.2h0M573 799.2h0M574.5 799.4h0M574.5 816.4h0M575.8 798.3h0M575.8 817.4h0M575.7 820.2h0M575.9 796.5h0M577.1 801.1h0M577.1 812.5h0M578.4 800h0M578.4 816.4h0M578.1 796.2h0M579.7 796.9h0M579.7 816.4h0M581 799.1h0M581 817h0M580.8 796.3h0M582.3 803h0M582.3 817.2h0M582.4 800.2h0M582.4 797.4h0M583.6 801.9h0M583.6 817h0M583.3 796.5h0M584.9 805.6h0M584.9 816h0M584.6 818.8h0M585 804.7h0M586.2 801.5h0M586.2 819.2h0M586.1 798.7h0M587.5 795h0M587.5 818h0M588.8 796.7h0M588.8 815.4h0M590.1 798.6h0M590.1 814.4h0M590.5 817.2h0M590.2 797.7h0M591.4 798.1h0M591.4 814h0M591.3 816.8h0M591.5 798.1h0M592.7 799.7h0M592.7 814.2h0M592.8 817h0M592.9 795.4h0M594 800.5h0M594 816.1h0M594.2 818.9h0M594 799.8h0M595.3 797.4h0M595.3 813.3h0M595.1 816.1h0M595 818.9h0M596.6 797.5h0M596.6 811.3h0M596.6 814.1h0M596.9 797.1h0M597.9 797.2h0M597.9 812.9h0M597.6 818.5h0M599.2 801.3h0M599.2 813.8h0M598.8 816.6h0M598.8 800h0M600.5 796.9h0M600.5 814.7h0M601.8 805.9h0M601.8 813.7h0M602.2 804.2h0M603.1 807.8h0M603.1 815.2h0M603.6 807.7h0M604.4 805.4h0M604.4 816.5h0M604.4 802.6h0M604.6 799.8h0M605.7 803.2h0M605.7 815.4h0M607 804.7h0M607 818h0M607.1 801.9h0M607.3 799.1h0M606.6 820.8h0M608.3 806.3h0M608.3 816.1h0M608.4 803.5h0M608.1 800.7h0M609.6 802h0M609.6 815.2h0M609.8 818h0M609.8 802h0M610.9 799.7h0M610.9 817h0M610.9 799.5h0M612.2 802.5h0M612.2 820.5h0M612.1 802.5h0M613.5 799.7h0M613.5 820.7h0M614.8 799.2h0M614.8 820.4h0M614.3 799.1h0M616.1 803.8h0M616.1 820h0M616.2 803.3h0M617.4 803.9h0M617.4 821.9h0M617.8 803.7h0M618.7 802.5h0M618.7 823.4h0M620 802.2h0M620 822.8h0M621.3 799h0M621.3 821h0M622.6 799.4h0M622.6 822.6h0M622.6 799.8h0M623.9 803.1h0M623.9 826.8h0M623.8 801.7h0M625.2 803.7h0M625.2 827.6h0M626.5 809.5h0M626.5 823.9h0M626.3 806.7h0M626.3 826.7h0M627.8 811.3h0M627.8 825.9h0M629.1 814.1h0M629.1 823.7h0M629.3 809.3h0M630.4 810.6h0M630.4 826.3h0M630.3 807.8h0M631.7 808.4h0M631.7 831.2h0M631.6 802.5h0M633 810h0M633 831.2h0M632.7 804.4h0M634.3 813.8h0M634.3 828.5h0M633.7 813.3h0M635.6 814.8h0M635.6 827.6h0M636.9 808.4h0M636.9 831.1h0M637 805.6h0M638.2 811.6h0M638.2 831.9h0M639.5 810.7h0M639.5 827h0M639.5 807.9h0M640.8 814.1h0M640.8 828h0M642.1 818.6h0M642.1 825.5h0M642.1 815.8h0M642.3 813h0M641.7 810.2h0M641.8 809h0M643.4 815h0M643.4 829.6h0M643.4 812.2h0M644.7 813.8h0M644.7 830.3h0M645.1 811h0M644.8 808.2h0M646 814.9h0M646 827.9h0M645.8 809.3h0M646.4 813.4h0M647.3 808.9h0M647.3 826.3h0M647.2 829.1h0M647 804.8h0M648.6 801.7h0M648.6 826.3h0M648.3 829.1h0M649.9 802.9h0M649.9 826.7h0M650.2 802.2h0M651.2 803.5h0M651.2 830.4h0M650.9 833.2h0M651.1 803.5h0M652.5 802.6h0M652.5 828.9h0M653.8 808.6h0M653.8 826.1h0M654.1 828.9h0M655.1 805.8h0M655.1 831.1h0M656.4 808h0M656.4 831.3h0M657.7 806h0M657.7 826.4h0M659 811.1h0M659 829.7h0M659.4 808.3h0M660.3 806.5h0M660.3 825.7h0M661.6 806.3h0M661.6 824.9h0M661.5 827.7h0M661.6 805.6h0M662.9 807h0M662.9 819.3h0M662.8 824.9h0M662.8 827.7h0M664.2 808.4h0M664.2 819.3h0M665.5 810.9h0M665.5 825.4h0M665.7 808.1h0M666.8 811h0M666.8 822.9h0M666.9 808.2h0M668.1 800.5h0M668.1 820.6h0M667.8 823.4h0M668.5 800.5h0M669.4 801.3h0M669.4 821.7h0M669.1 824.5h0M669.6 800.7h0M670.7 803.9h0M670.7 820.2h0M670.9 801.1h0M670.6 802.4h0M672 802.1h0M672 814.8h0M671.4 797.8h0M673.3 810.5h0M673.3 815.5h0M673.3 807.7h0M673.4 804.9h0M673.3 802.1h0M673.1 805.3h0M674.6 804.2h0M674.6 819.5h0M674.8 801.4h0M675.9 801.2h0M675.9 814.8h0M675.8 798.4h0M676 817.6h0M676 820.4h0M676.3 823.2h0M676 797.3h0M677.2 800.1h0M677.2 819.6h0M677.5 797.3h0M677.5 797.8h0M678.5 803.5h0M678.5 819.5h0M678.3 800.7h0M678 793.7h0M679.8 803.9h0M679.8 815.1h0M679.4 801.1h0M679.5 817.9h0M680 820.7h0M680.2 802h0M681.1 802.9h0M681.1 812.6h0M681 815.4h0M680.9 818.2h0M680.5 795.9h0M682.4 804.7h0M682.4 813.9h0M682.7 799.1h0M683.7 804.9h0M683.7 813.8h0M683.7 819.4h0M683.6 790.3h0M685 803.3h0M685 812.7h0M684.4 788.8h0M686.3 802.7h0M686.3 813.5h0M685.9 799.9h0M686 797.1h0M686.1 794.3h0M686.2 800.7h0M687.6 805.7h0M687.6 809.8h0M687.8 800.1h0M687.6 797.3h0M687.3 812.6h0M687.5 815.4h0M688.9 808.1h0M688.9 808.1h0M688.7 805.3h0M688.7 802.5h0M688.5 799.7h0M688.9 810.9h0M689.1 816.5h0M688.5 804.3h0M690.2 796h0M690.2 807.5h0M690.2 793.2h0M690.3 813.1h0M691.5 803.5h0M691.5 807.1h0M691.1 800.7h0M691.7 797.9h0M691.3 809.9h0M691.7 812.7h0M691.9 792.8h0M692.8 805.6h0M692.8 810.8h0M692.7 802.8h0M692.5 797.2h0M693 813.6h0M694.1 799.3h0M694.1 809.7h0M694 796.5h0M694.1 812.5h0M694.5 798.5h0M695.4 794.9h0M695.4 813.3h0M696.7 801.7h0M696.7 813.7h0M696.7 816.5h0M696.2 799.9h0M698 796.5h0M698 816.9h0M698.1 794.8h0M699.3 799.1h0M699.3 815.8h0M699.7 797.5h0M700.6 800.6h0M700.6 817.7h0M700.8 800.2h0M701.9 807h0M701.9 814.7h0M701.7 804.2h0M701.7 801.4h0M703.2 806.7h0M703.2 815.2h0M703 801.1h0M703.3 804.2h0M704.5 808.1h0M704.5 815.5h0M704.7 805.3h0M705.8 807.8h0M705.8 816.4h0M705.4 805h0M707.1 809h0M707.1 814.8h0M706.9 806.2h0M707.2 805.4h0M708.4 806.9h0M708.4 813.2h0M708.2 806.8h0M709.7 806.6h0M709.7 813.7h0M710 816.5h0M709.6 806h0M711 810.9h0M711 814.2h0M712.3 811.1h0M712.3 814.6h0M712.9 804.7h0M713.6 810.7h0M713.6 813.4h0M714.9 811.8h0M714.9 812.7h0M714.6 809h0M716.2 810.4h0M716.2 814.2h0M716.6 807.6h0M717.5 810.7h0M717.5 816.3h0M718.8 808.7h0M718.8 814.8h0M719.2 808.4h0M720.1 808h0M720.1 812.6h0M721.4 808.3h0M721.4 813.2h0M722.7 809.6h0M722.7 814.4h0M724 812h0M724 813.8h0M723.9 809.2h0M723.8 808.7h0M725.3 812.3h0M725.3 814h0M725.1 809.5h0M725.4 806.7h0M726.6 809.1h0M726.6 815.7h0M727.9 806.7h0M727.9 817h0M727.8 806.7h0M729.2 806.2h0M729.2 815.7h0M730.5 807.4h0M730.5 814.9h0M730.8 804.6h0M730.8 817.7h0M731.8 806.6h0M731.8 816h0M733.1 808h0M733.1 814h0M733 816.8h0M734.4 807.8h0M734.4 816.1h0M734.7 805h0M734.1 818.9h0M735.7 808.2h0M735.7 815.4h0M735.5 805.4h0M735.4 818.2h0M737 801.1h0M737 818.1h0M738.3 808.1h0M738.3 815.7h0M738 806.6h0M739.6 810.7h0M739.6 817.5h0M739.1 807.5h0M740.9 812.1h0M740.9 821.5h0M740.6 809.3h0M742.2 804.8h0M742.2 819.1h0M742 802h0M742.5 824.7h0M743.5 809.9h0M743.5 820.5h0M743.7 807.1h0M743.4 804.3h0M743.8 823.3h0M743.3 826.1h0M743.1 802.4h0M744.8 806h0M744.8 818h0M744.7 803.2h0M744.9 823.6h0M745.4 798.2h0M746.1 807.3h0M746.1 819.6h0M746 822.4h0M746.5 800h0M747.4 806.1h0M747.4 816.7h0M747.5 819.5h0M747 803.3h0M748.7 806h0M748.7 815.5h0M749 818.3h0M750 804h0M750 816.5h0M750.3 801.2h0M751.3 802.6h0M751.3 816h0M750.7 799.6h0M752.6 806h0M752.6 819.7h0M752.7 803.2h0M753.1 800.8h0M753.9 801.9h0M753.9 816.4h0M753.7 819.2h0M755.2 803.4h0M755.2 814.3h0M755 800.9h0M756.5 808.5h0M756.5 821.3h0M756.4 805.7h0M756.8 802.9h0M756.9 800.1h0M757.8 805.6h0M757.8 818.9h0M757.6 802.8h0M757.6 800h0M757.8 821.7h0M759.1 812.7h0M759.1 818.6h0M759.3 807.1h0M759.4 804.3h0M760.4 808.9h0M760.4 817h0M761.7 806.2h0M761.7 819h0M763 814.7h0M763 817.6h0M764.3 800.4h0M764.3 811.8h0M764.7 814.6h0M765.6 802.7h0M765.6 815.1h0M765.5 817.9h0M765.7 820.7h0M765.9 800h0M766.9 809.1h0M766.9 814.1h0M767 806.3h0M768.2 805.5h0M768.2 813.4h0M768.3 802.7h0M768.7 804.6h0M769.5 805h0M769.5 816.1h0M770.8 804.6h0M770.8 813.3h0M771.2 804.7h0M772.1 807.4h0M772.1 814.6h0M772.1 807.4h0M773.4 807.3h0M773.4 814.5h0" stroke="#000" stroke-width="3.8" stroke-linecap="round" fill="none"/><path d="M110.3 810.9h0M140.8 809.2h0M143.7 808.6h0M145.4 808.4h0M175.7 803h0M227.2 803.6h0M288.4 807.2h0M304 802.7h0M314.6 808.8h0M326.6 808.3h0M361.3 804h0M367.4 794.9h0M384.5 807.9h0M410.4 805.5h0M423.9 809.7h0M448.4 822.5h0M455.9 794.9h0M469.6 794.6h0M499.4 809.3h0M539.1 804.9h0M619 812.9h0M630.3 817.9h0M635.2 820.7h0M665.3 817.4h0M705.7 811.8h0" stroke="#fff" stroke-width="1.8" stroke-linecap="round" fill="none"/><path d="M129.5 780.3h0M129.5 836.4h0M168.3 833.9h0M178 746.4h0M177 755.5h0M178 759h0M177 763h0M178 768h0M179 771.2h0M178 777.8h0M178 782.7h0M181 838.9h0M203.8 746.4h0M203.8 759.6h0M203.8 781h0M215.3 825.6h0M215.3 832h0M215.3 838.9h0M221.9 773.6h0M221.9 780.3h0M221.9 847h0M221 842h0M227.7 773.6h0M227.7 780.3h0M270.6 827.3h0M270.6 832h0M270.6 838h0M270.6 843h0M270.6 847h0M283.8 833.9h0M283.8 841h0M283.8 846.3h0M294.5 781.9h0M307.8 778.6h0M326.7 781h0M331.7 843.8h0M330 843.4h0M346.5 779.9h0M346.5 784.8h0M346.5 831.9h0M346.5 836.8h0M353.1 777.4h0M353.1 838.5h0M353.1 850h0M358.9 779.9h0M358.9 787.3h0M358.9 793.9h0M366 831.9h0M366 836.8h0M373 831.9h0M373 836.8h0M400.2 712.5h0M400.2 747.7h0M400.2 761.7h0M400.2 773.3h0M400.2 785.6h0M418.3 747.7h0M418.3 760.9h0M418.3 775.7h0M418.3 788.1h0M435.6 843.4h0M443.9 769.1h0M443.9 762.5h0M443.9 848.4h0M447.2 732.8h0M455.5 724.6h0M455.5 737.8h0M455.5 747.7h0M456 752h0M455.5 759.2h0M456 765h0M455.5 846.7h0M455.5 856.6h0M460.4 759.2h0M458 750h0M478.6 770h0M478.6 778h0M478.6 789h0M478.6 836h0M480 853.3h0M482 879.7h0M492.6 774h0M492.6 780h0M492.6 787h0M492.6 833h0M492.6 840h0M492.6 852h0M492.6 858h0M492.6 863.2h0M502.5 782.3h0M502.5 838.5h0M511.6 787.3h0M521.5 793.9h0M538 777.4h0M544.6 825h0M544.6 833.5h0M525 836.8h0M538.2 777.4h0M538.2 783h0M602.6 775.4h0M641.4 751h0M641.4 783.2h0M641.4 846.7h0M641.4 850h0M641.4 855h0M641.4 859.9h0M650.5 843h0M650.5 858.3h0M650.5 878.9h0M657 855.8h0M675.2 741.9h0M675.2 785.6h0M675.2 835h0M675.2 840h0M675.2 845h0M685.1 695.2h0M685.1 708.4h0M685.1 718h0M685.1 722h0M685.1 727h0M685.1 732h0M685.1 737h0M685.1 741h0M685.1 746h0M685.1 752.6h0M685.1 762.5h0M685.1 767h0M685.1 772.4h0M686 776h0M696.7 762h0M695 773h0M697 780h0M742.1 755.4h0M742.1 767.5h0M742.1 780h0M742.1 849.2h0M752.8 836.8h0M766 831.9h0" stroke="#000" stroke-width="3.8" stroke-linecap="round" fill="none"/>
<text x="104" y="708" font-size="18" fill="#000" textLength="46" lengthAdjust="spacingAndGlyphs" stroke="#000" stroke-width="0.25">(R-N)</text>
<text transform="translate(92.3 704.5) scale(1.37 1)" font-size="9.7" fill="#333">Δ</text>
<path d="M58.4 1050V1281.2M58.4 1050H51.6M58.4 1107.8H51.6M58.4 1165.6H51.6M58.4 1223.4H51.6M58.4 1281.2H51.6" stroke="#808080" stroke-width="1.9" fill="none"/><text x="40.4" y="1055.6" font-size="12.8" fill="#2a2a2a" text-anchor="middle" stroke="#2a2a2a" stroke-width="0.3">2</text><text x="40.4" y="1113.4" font-size="12.8" fill="#2a2a2a" text-anchor="middle" stroke="#2a2a2a" stroke-width="0.3">1</text><text x="40.4" y="1171.2" font-size="12.8" fill="#2a2a2a" text-anchor="middle" stroke="#2a2a2a" stroke-width="0.3">0</text><text x="40.4" y="1229" font-size="12.8" fill="#2a2a2a" text-anchor="middle" stroke="#2a2a2a" stroke-width="0.3">-1</text><text x="40.4" y="1286.8" font-size="12.8" fill="#2a2a2a" text-anchor="middle" stroke="#2a2a2a" stroke-width="0.3">-2</text>
<path d="M147.3 1281.4H758M147.3 1281.4V1287.9M268 1281.4V1287.9M359.2 1281.4V1287.9M430 1281.4V1287.9M482 1281.4V1287.9M515.6 1281.4V1287.9M540.4 1281.4V1287.9M564.6 1281.4V1287.9M582.3 1281.4V1287.9M598.9 1281.4V1287.9M612.8 1281.4V1287.9M626 1281.4V1287.9M640 1281.4V1287.9M651.9 1281.4V1287.9M661.6 1281.4V1287.9M666.2 1281.4V1287.9M671.2 1281.4V1287.9M677.6 1281.4V1287.9M685 1281.4V1287.9M692.8 1281.4V1287.9M697.5 1281.4V1287.9M701.5 1281.4V1287.9M704.8 1281.4V1287.9M708 1281.4V1287.9M711.9 1281.4V1287.9M715 1281.4V1287.9M718.7 1281.4V1287.9M722 1281.4V1287.9M724.5 1281.4V1287.9M727.8 1281.4V1287.9M728.6 1281.4V1287.9M729.4 1281.4V1287.9M730.2 1281.4V1287.9M758 1281.4V1287.9" stroke="#808080" stroke-width="1.9" fill="none"/><text x="147.3" y="1307.1" font-size="12.8" fill="#2a2a2a" text-anchor="middle" stroke="#2a2a2a" stroke-width="0.3">1</text><text x="268" y="1307.1" font-size="12.8" fill="#2a2a2a" text-anchor="middle" stroke="#2a2a2a" stroke-width="0.3">2</text><text x="359.2" y="1307.1" font-size="12.8" fill="#2a2a2a" text-anchor="middle" stroke="#2a2a2a" stroke-width="0.3">3</text><text x="430" y="1307.1" font-size="12.8" fill="#2a2a2a" text-anchor="middle" stroke="#2a2a2a" stroke-width="0.3">4</text><text x="482" y="1307.1" font-size="12.8" fill="#2a2a2a" text-anchor="middle" stroke="#2a2a2a" stroke-width="0.3">5</text><text x="515.6" y="1307.1" font-size="12.8" fill="#2a2a2a" text-anchor="middle" stroke="#2a2a2a" stroke-width="0.3">6</text><text x="540.4" y="1307.1" font-size="12.8" fill="#2a2a2a" text-anchor="middle" stroke="#2a2a2a" stroke-width="0.3">7</text><text x="564.6" y="1307.1" font-size="12.8" fill="#2a2a2a" text-anchor="middle" stroke="#2a2a2a" stroke-width="0.3">8</text><text x="582.3" y="1307.1" font-size="12.8" fill="#2a2a2a" text-anchor="middle" stroke="#2a2a2a" stroke-width="0.3">9</text><text x="612.8" y="1307.1" font-size="12.8" fill="#2a2a2a" text-anchor="middle" stroke="#2a2a2a" stroke-width="0.3">11</text><text x="640" y="1307.1" font-size="12.8" fill="#2a2a2a" text-anchor="middle" stroke="#2a2a2a" stroke-width="0.3">13</text><text x="666.2" y="1307.1" font-size="12.8" fill="#2a2a2a" text-anchor="middle" stroke="#2a2a2a" stroke-width="0.3">16</text><text x="692.8" y="1307.1" font-size="12.8" fill="#2a2a2a" text-anchor="middle" stroke="#2a2a2a" stroke-width="0.3">20</text><text x="718.7" y="1307.1" font-size="12.8" fill="#2a2a2a" text-anchor="middle" stroke="#2a2a2a" stroke-width="0.3">26</text><text x="758" y="1307.1" font-size="12.8" fill="#2a2a2a" text-anchor="middle" stroke="#2a2a2a" stroke-width="0.3">34</text>
<rect x="727.2" y="1281" width="3.2" height="6.5" fill="#111"/>
<text x="433" y="1334.6" font-size="12.5" fill="#333" text-anchor="middle" textLength="71.3" lengthAdjust="spacingAndGlyphs">Chromosome</text>
<text transform="translate(24 1167) rotate(-90)" font-size="25.5" text-anchor="middle" fill="#000" stroke="#000" stroke-width="0.5">-lgπ</text>
<polygon points="78,1157.1 78.9,1157.1 80.1,1155.2 81.3,1154.9 82.5,1155.5 83.7,1152.5 84.9,1153.2 86.1,1153.7 87.3,1154.2 88.5,1151.6 89.7,1153.2 90.9,1154.5 92.1,1153.4 93.3,1153.7 94.5,1154.7 95.7,1156 96.9,1156.2 98.1,1156.7 99.3,1156.8 100.5,1154.6 101.7,1154.6 102.9,1157.1 104.1,1156.3 105.3,1154.4 106.5,1157.6 107.7,1158.6 108.9,1156.6 110.1,1158.1 111.3,1154.9 112.5,1153.5 113.7,1153.4 114.9,1156.2 116.1,1157.1 117.3,1157.4 118.5,1152.3 119.7,1153 120.9,1155.2 122.1,1151.1 123.3,1152.9 124.5,1152.6 125.7,1155.9 126.9,1156.8 128.1,1155.4 129.3,1156.1 130.5,1156.7 131.7,1156.7 132.9,1157.5 134.1,1153.8 135.3,1153.3 136.5,1153.3 137.7,1154.8 138.9,1156 140.1,1157.1 141.3,1156.1 142.5,1153 143.7,1153.1 144.9,1155.8 146.1,1152.2 147.3,1154.2 148.5,1156.5 149.7,1157.9 150.9,1156.4 152.1,1157.2 153.3,1156 154.5,1153.1 155.7,1154.1 156.9,1157.7 158.1,1157.7 159.3,1157.2 160.5,1157.6 161.7,1153.2 162.9,1155.2 164.1,1153.1 165.3,1156.8 166.5,1156.3 167.7,1154.8 168.9,1153.5 170.1,1154.1 171.3,1153.1 172.5,1154.7 173.7,1153.7 174.9,1154.5 176.1,1156.9 177.3,1155.6 178.5,1155.9 179.7,1155.2 180.9,1155.9 182.1,1156 183.3,1158.6 184.5,1157.4 185.7,1156.5 186.9,1154.7 188.1,1155.8 189.3,1153.1 190.5,1151.7 191.7,1153.6 192.9,1150.5 194.1,1155.3 195.3,1155.3 196.5,1154.9 197.7,1154.9 198.9,1154.5 200.1,1155.6 201.3,1158.3 202.5,1157.4 203.7,1158.4 204.9,1153.7 206.1,1155.8 207.3,1154.2 208.5,1152.7 209.7,1152.4 210.9,1155.5 212.1,1156.2 213.3,1154.6 215.2,1154.6 215.2,1180.2 213.3,1180.2 212.1,1177.8 210.9,1177.1 209.7,1176.6 208.5,1177.4 207.3,1178.4 206.1,1177.7 204.9,1177.9 203.7,1178.2 202.5,1176.7 201.3,1177.8 200.1,1177.3 198.9,1176.6 197.7,1175.5 196.5,1175.2 195.3,1178.5 194.1,1177.4 192.9,1179.1 191.7,1177.6 190.5,1179.9 189.3,1179.1 188.1,1177.5 186.9,1179 185.7,1177 184.5,1178.3 183.3,1179.9 182.1,1175.7 180.9,1177.2 179.7,1179 178.5,1178.8 177.3,1175.5 176.1,1178.1 174.9,1178.8 173.7,1179.6 172.5,1178.7 171.3,1177.8 170.1,1178.1 168.9,1177.9 167.7,1179 166.5,1180 165.3,1178.5 164.1,1176.7 162.9,1177.1 161.7,1178.4 160.5,1176.8 159.3,1177.2 158.1,1177.4 156.9,1178.9 155.7,1176.3 154.5,1176.8 153.3,1176.7 152.1,1178 150.9,1179.1 149.7,1178 148.5,1180.5 147.3,1180.9 146.1,1178.4 144.9,1179.6 143.7,1179.2 142.5,1177.3 141.3,1178.2 140.1,1178.8 138.9,1176.7 137.7,1176.4 136.5,1178.2 135.3,1178 134.1,1177.3 132.9,1175.3 131.7,1172.6 130.5,1175.5 129.3,1172.8 128.1,1174.7 126.9,1175.9 125.7,1177.5 124.5,1175.1 123.3,1176.7 122.1,1182 120.9,1180 119.7,1178.2 118.5,1177.5 117.3,1175.6 116.1,1177.7 114.9,1176.9 113.7,1177.3 112.5,1178.2 111.3,1177.7 110.1,1178.5 108.9,1179.5 107.7,1180 106.5,1179.5 105.3,1181.2 104.1,1178 102.9,1179.1 101.7,1177.4 100.5,1176.6 99.3,1178.2 98.1,1176.7 96.9,1175.9 95.7,1177.8 94.5,1177.5 93.3,1178.4 92.1,1178 90.9,1178.4 89.7,1178.2 88.5,1176.5 87.3,1178.7 86.1,1180.3 84.9,1177.9 83.7,1178.4 82.5,1177.3 81.3,1177.8 80.1,1175.7 78.9,1178.3 78,1178.3" fill="#156dcf"/><path d="M78.9 1157.1h0M78.9 1178.3h0M80.1 1155.2h0M80.1 1175.7h0M81.3 1154.9h0M81.3 1177.8h0M82.5 1155.5h0M82.5 1177.3h0M82.6 1152.9h0M82.8 1182.5h0M83.7 1152.5h0M83.7 1178.4h0M83.5 1181h0M83.9 1183.6h0M84.9 1153.2h0M84.9 1177.9h0M86.1 1153.7h0M86.1 1180.3h0M86.4 1151.1h0M85.7 1182.9h0M85.8 1185.5h0M87.3 1154.2h0M87.3 1178.7h0M87 1149h0M88.5 1151.6h0M88.5 1176.5h0M88.3 1179.1h0M89.7 1153.2h0M89.7 1178.2h0M90.9 1154.5h0M90.9 1178.4h0M92.1 1153.4h0M92.1 1178h0M92.1 1150.8h0M92.2 1148.2h0M92.2 1180.6h0M93.3 1153.7h0M93.3 1178.4h0M92.9 1151.1h0M92.9 1148.5h0M94.5 1154.7h0M94.5 1177.5h0M95.7 1156h0M95.7 1177.8h0M95.5 1180.4h0M95.6 1183h0M96.9 1156.2h0M96.9 1175.9h0M96.8 1153.6h0M97.1 1151h0M97 1178.5h0M98.1 1156.7h0M98.1 1176.7h0M98.2 1179.3h0M97.9 1181.9h0M98.3 1184.5h0M99.3 1156.8h0M99.3 1178.2h0M99 1180.8h0M100.5 1154.6h0M100.5 1176.6h0M101.7 1154.6h0M101.7 1177.4h0M101.8 1152h0M101.4 1149.4h0M102.9 1157.1h0M102.9 1179.1h0M104.1 1156.3h0M104.1 1178h0M105.3 1154.4h0M105.3 1181.2h0M105.1 1151.8h0M106.5 1157.6h0M106.5 1179.5h0M106.4 1155h0M107.7 1158.6h0M107.7 1180h0M107.8 1156h0M108.9 1156.6h0M108.9 1179.5h0M108.7 1154h0M110.1 1158.1h0M110.1 1178.5h0M111.3 1154.9h0M111.3 1177.7h0M112.5 1153.5h0M112.5 1178.2h0M112.6 1180.8h0M112.8 1183.4h0M113.7 1153.4h0M113.7 1177.3h0M113.8 1179.9h0M114.9 1156.2h0M114.9 1176.9h0M114.9 1153.6h0M115.2 1179.5h0M115.1 1182.1h0M114.7 1184.7h0M116.1 1157.1h0M116.1 1177.7h0M115.8 1154.5h0M116.1 1151.9h0M116 1149.3h0M117.3 1157.4h0M117.3 1175.6h0M117.5 1154.8h0M117.6 1152.2h0M118.5 1152.3h0M118.5 1177.5h0M118.6 1149.7h0M119.7 1153h0M119.7 1178.2h0M120.9 1155.2h0M120.9 1180h0M121.1 1152.6h0M121.2 1150h0M122.1 1151.1h0M122.1 1182h0M122.3 1184.6h0M123.3 1152.9h0M123.3 1176.7h0M123.2 1181.9h0M123.4 1184.5h0M124.5 1152.6h0M124.5 1175.1h0M124.9 1150h0M124.9 1177.7h0M125.7 1155.9h0M125.7 1177.5h0M125.8 1180.1h0M126.9 1156.8h0M126.9 1175.9h0M127 1178.5h0M128.1 1155.4h0M128.1 1174.7h0M129.3 1156.1h0M129.3 1172.8h0M129 1153.5h0M129 1178h0M129.6 1180.6h0M130.5 1156.7h0M130.5 1175.5h0M130.5 1154.1h0M130.3 1178.1h0M130.5 1180.7h0M130.6 1183.3h0M131.7 1156.7h0M131.7 1172.6h0M131.6 1154.1h0M132 1151.5h0M131.3 1175.2h0M131.8 1180.4h0M132.9 1157.5h0M132.9 1175.3h0M134.1 1153.8h0M134.1 1177.3h0M134.4 1151.2h0M133.9 1148.6h0M135.3 1153.3h0M135.3 1178h0M134.9 1180.6h0M134.9 1183.2h0M136.5 1153.3h0M136.5 1178.2h0M136.7 1150.7h0M136.4 1180.8h0M136.1 1183.4h0M137.7 1154.8h0M137.7 1176.4h0M137.5 1149.6h0M138.9 1156h0M138.9 1176.7h0M138.9 1153.4h0M138.8 1150.8h0M140.1 1157.1h0M140.1 1178.8h0M140.4 1154.5h0M139.8 1151.9h0M140 1149.3h0M139.8 1181.4h0M140.4 1184h0M141.3 1156.1h0M141.3 1178.2h0M141.3 1180.8h0M142.5 1153h0M142.5 1177.3h0M142.1 1179.9h0M142.3 1182.5h0M142.4 1185.1h0M143.7 1153.1h0M143.7 1179.2h0M144 1150.5h0M143.4 1181.8h0M143.9 1184.4h0M144.9 1155.8h0M144.9 1179.6h0M145.2 1150.6h0M145.1 1148h0M146.1 1152.2h0M146.1 1178.4h0M146 1149.6h0M146.5 1181h0M147.3 1154.2h0M147.3 1180.9h0M147 1151.6h0M147.5 1149h0M147.1 1183.5h0M147.3 1186.1h0M148.5 1156.5h0M148.5 1180.5h0M148.5 1153.9h0M148.6 1151.3h0M149.7 1157.9h0M149.7 1178h0M149.9 1180.6h0M150.9 1156.4h0M150.9 1179.1h0M151.3 1181.7h0M152.1 1157.2h0M152.1 1178h0M152.3 1154.6h0M151.9 1146.8h0M153.3 1156h0M153.3 1176.7h0M153.4 1153.4h0M153.6 1150.8h0M153.2 1179.3h0M154.5 1153.1h0M154.5 1176.8h0M155.7 1154.1h0M155.7 1176.3h0M156.9 1157.7h0M156.9 1178.9h0M158.1 1157.7h0M158.1 1177.4h0M157.7 1155.1h0M157.9 1152.5h0M159.3 1157.2h0M159.3 1177.2h0M159.1 1154.6h0M159 1152h0M159 1149.4h0M160.5 1157.6h0M160.5 1176.8h0M160.1 1155h0M160.6 1152.4h0M161.7 1153.2h0M161.7 1178.4h0M162 1150.6h0M162 1148h0M162.9 1155.2h0M162.9 1177.1h0M162.6 1152.6h0M162.7 1150h0M164.1 1153.1h0M164.1 1176.7h0M165.3 1156.8h0M165.3 1178.5h0M166.5 1156.3h0M166.5 1180h0M166.6 1153.7h0M167.7 1154.8h0M167.7 1179h0M167.4 1181.6h0M167.4 1184.2h0M168.9 1153.5h0M168.9 1177.9h0M168.6 1150.9h0M169 1148.3h0M170.1 1154.1h0M170.1 1178.1h0M170 1151.5h0M170.3 1180.7h0M171.3 1153.1h0M171.3 1177.8h0M172.5 1154.7h0M172.5 1178.7h0M172.2 1152.1h0M172.4 1181.3h0M173.7 1153.7h0M173.7 1179.6h0M174.9 1154.5h0M174.9 1178.8h0M176.1 1156.9h0M176.1 1178.1h0M176.1 1154.3h0M176.1 1180.7h0M177.3 1155.6h0M177.3 1175.5h0M177.3 1153h0M177.2 1150.4h0M178.5 1155.9h0M178.5 1178.8h0M178.8 1181.4h0M178.7 1184h0M179.7 1155.2h0M179.7 1179h0M180.9 1155.9h0M180.9 1177.2h0M182.1 1156h0M182.1 1175.7h0M182.3 1178.3h0M183.3 1158.6h0M183.3 1179.9h0M184.5 1157.4h0M184.5 1178.3h0M184.8 1154.8h0M184.3 1152.2h0M185.7 1156.5h0M185.7 1177h0M186.9 1154.7h0M186.9 1179h0M188.1 1155.8h0M188.1 1177.5h0M188.1 1153.2h0M188.4 1150.6h0M189.3 1153.1h0M189.3 1179.1h0M189.3 1150.5h0M189 1147.9h0M190.5 1151.7h0M190.5 1179.9h0M191.7 1153.6h0M191.7 1177.6h0M191.9 1151h0M192.9 1150.5h0M192.9 1179.1h0M194.1 1155.3h0M194.1 1177.4h0M195.3 1155.3h0M195.3 1178.5h0M196.5 1154.9h0M196.5 1175.2h0M196.3 1152.3h0M196.1 1149.7h0M196.4 1147.1h0M196.3 1177.8h0M197.7 1154.9h0M197.7 1175.5h0M197.3 1149.7h0M198 1178.1h0M198.9 1154.5h0M198.9 1176.6h0M198.8 1179.2h0M200.1 1155.6h0M200.1 1177.3h0M201.3 1158.3h0M201.3 1177.8h0M201.1 1180.4h0M202.5 1157.4h0M202.5 1176.7h0M202.6 1154.8h0M202.4 1152.2h0M203.7 1158.4h0M203.7 1178.2h0M203.4 1155.8h0M203.3 1153.2h0M204.9 1153.7h0M204.9 1177.9h0M206.1 1155.8h0M206.1 1177.7h0M207.3 1154.2h0M207.3 1178.4h0M206.9 1181h0M208.5 1152.7h0M208.5 1177.4h0M209.7 1152.4h0M209.7 1176.6h0M209.3 1179.2h0M210.9 1155.5h0M210.9 1177.1h0M211.2 1152.9h0M210.9 1150.3h0M211 1179.7h0M212.1 1156.2h0M212.1 1177.8h0M212.2 1153.6h0M212.2 1180.4h0M213.3 1154.6h0M213.3 1180.2h0M213.6 1182.8h0" stroke="#156dcf" stroke-width="3.5" stroke-linecap="round" fill="none"/><polygon points="215.2,1158.8 216.1,1158.8 217.3,1158.7 218.5,1156.6 219.7,1157.8 220.9,1154.3 222.1,1154.2 223.3,1152.1 224.5,1150.7 225.7,1154.6 226.9,1155.4 228.1,1156 229.3,1153.1 230.5,1155.8 231.7,1152.2 232.9,1152.3 234.1,1153.8 235.3,1158.1 236.5,1158.6 237.7,1154.8 238.9,1154.3 240.1,1155.1 241.3,1157.4 242.5,1155.4 243.7,1156.3 244.9,1156 246.1,1156.7 247.3,1156 248.5,1154 249.7,1155.5 250.9,1157.6 252.1,1155.6 253.3,1153.4 254.5,1155.8 255.7,1156 256.9,1153.5 258.1,1152 259.3,1154.5 260.5,1154.6 261.7,1158.4 262.9,1156.6 264.1,1156.4 265.3,1156.2 266.5,1154.2 267.7,1155 268.9,1155.5 270.1,1155.8 271.3,1155.6 272.5,1157.9 273.7,1155.7 274.9,1158.5 276.1,1157.4 277.3,1153.8 278.5,1155.4 279.7,1157.1 280.9,1156 282.1,1155.4 283.3,1156.9 284.5,1155.2 285.7,1154.7 286.9,1158.1 288.1,1153.5 289.3,1154.8 290.5,1154.2 291.7,1156.6 292.9,1156.6 294.1,1153.3 295.3,1154.3 296.5,1154 297.7,1154 298.9,1156.7 300.1,1157.8 301.3,1154.2 302.5,1153.5 303.7,1153.9 304.9,1152.4 306.1,1152.8 307.3,1154 308.5,1155.3 309.7,1153 310.9,1154.5 312.1,1156.3 313.3,1159.1 314.5,1157 315.7,1157.5 316.9,1155.1 318.1,1153.5 319.8,1153.5 319.8,1177.2 318.1,1177.2 316.9,1177.4 315.7,1175.4 314.5,1174.9 313.3,1175.9 312.1,1176.9 310.9,1174.8 309.7,1174.6 308.5,1179.1 307.3,1177.7 306.1,1179.6 304.9,1179.4 303.7,1180.6 302.5,1178.5 301.3,1176.6 300.1,1176.9 298.9,1175 297.7,1177.6 296.5,1177.6 295.3,1179.7 294.1,1176.2 292.9,1177.7 291.7,1179.5 290.5,1177.6 289.3,1175.5 288.1,1175.1 286.9,1175.3 285.7,1176.4 284.5,1175.6 283.3,1178.5 282.1,1179.1 280.9,1179.7 279.7,1180 278.5,1179.3 277.3,1178.8 276.1,1177.5 274.9,1179.1 273.7,1179.7 272.5,1179.7 271.3,1178.2 270.1,1180 268.9,1179 267.7,1179.5 266.5,1177.6 265.3,1176.6 264.1,1175.3 262.9,1176.6 261.7,1176 260.5,1176.1 259.3,1176.5 258.1,1174.9 256.9,1175.7 255.7,1177.8 254.5,1176.5 253.3,1178.7 252.1,1178.6 250.9,1177.8 249.7,1178.4 248.5,1178.4 247.3,1178.5 246.1,1176.4 244.9,1178.1 243.7,1177.5 242.5,1178.9 241.3,1178.3 240.1,1181 238.9,1180.3 237.7,1179.4 236.5,1178.3 235.3,1179.8 234.1,1180.7 232.9,1178.4 231.7,1177.2 230.5,1178.1 229.3,1176.3 228.1,1178 226.9,1176.9 225.7,1176.5 224.5,1176.9 223.3,1179.2 222.1,1178.2 220.9,1178.6 219.7,1179.7 218.5,1178.5 217.3,1177.1 216.1,1178.1 215.2,1178.1" fill="#f20000"/><path d="M216.1 1158.8h0M216.1 1178.1h0M215.8 1156.2h0M216 1153.6h0M217.3 1158.7h0M217.3 1177.1h0M216.9 1156.1h0M217.3 1153.5h0M218.5 1156.6h0M218.5 1178.5h0M218.7 1183.7h0M218.6 1186.3h0M219.7 1157.8h0M219.7 1179.7h0M220.9 1154.3h0M220.9 1178.6h0M222.1 1154.2h0M222.1 1178.2h0M222.1 1183.4h0M223.3 1152.1h0M223.3 1179.2h0M223 1149.5h0M223.6 1146.9h0M223.3 1181.8h0M223.4 1184.4h0M224.5 1150.7h0M224.5 1176.9h0M224.4 1148.1h0M225.7 1154.6h0M225.7 1176.5h0M225.3 1152h0M225.3 1149.4h0M225.4 1146.8h0M225.3 1179.1h0M226 1181.7h0M226.9 1155.4h0M226.9 1176.9h0M227 1179.5h0M228.1 1156h0M228.1 1178h0M229.3 1153.1h0M229.3 1176.3h0M229.3 1178.9h0M229.4 1181.5h0M230.5 1155.8h0M230.5 1178.1h0M231.7 1152.2h0M231.7 1177.2h0M231.6 1179.8h0M232.9 1152.3h0M232.9 1178.4h0M234.1 1153.8h0M234.1 1180.7h0M234.3 1183.3h0M234.3 1185.9h0M235.3 1158.1h0M235.3 1179.8h0M235.2 1152.9h0M236.5 1158.6h0M236.5 1178.3h0M236.6 1156h0M236.1 1180.9h0M236.3 1183.5h0M236.2 1186.1h0M237.7 1154.8h0M237.7 1179.4h0M237.5 1152.2h0M237.3 1149.6h0M238.9 1154.3h0M238.9 1180.3h0M239 1151.7h0M238.9 1185.5h0M240.1 1155.1h0M240.1 1181h0M241.3 1157.4h0M241.3 1178.3h0M242.5 1155.4h0M242.5 1178.9h0M243.7 1156.3h0M243.7 1177.5h0M244.9 1156h0M244.9 1178.1h0M246.1 1156.7h0M246.1 1176.4h0M247.3 1156h0M247.3 1178.5h0M248.5 1154h0M248.5 1178.4h0M248.9 1181h0M248.8 1186.2h0M249.7 1155.5h0M249.7 1178.4h0M250.9 1157.6h0M250.9 1177.8h0M250.5 1155h0M250.9 1152.4h0M252.1 1155.6h0M252.1 1178.6h0M253.3 1153.4h0M253.3 1178.7h0M253.5 1181.3h0M254.5 1155.8h0M254.5 1176.5h0M254.6 1153.2h0M255.7 1156h0M255.7 1177.8h0M255.8 1153.4h0M256.9 1153.5h0M256.9 1175.7h0M256.8 1150.9h0M257 1178.3h0M258.1 1152h0M258.1 1174.9h0M259.3 1154.5h0M259.3 1176.5h0M259.7 1151.9h0M259.5 1149.3h0M260.5 1154.6h0M260.5 1176.1h0M261.7 1158.4h0M261.7 1176h0M261.3 1155.8h0M262 1150.6h0M262.1 1148h0M262.9 1156.6h0M262.9 1176.6h0M263.2 1154h0M263.2 1151.4h0M262.8 1179.2h0M264.1 1156.4h0M264.1 1175.3h0M264.5 1153.8h0M265.3 1156.2h0M265.3 1176.6h0M266.5 1154.2h0M266.5 1177.6h0M266.2 1180.2h0M267.7 1155h0M267.7 1179.5h0M268.9 1155.5h0M268.9 1179h0M270.1 1155.8h0M270.1 1180h0M269.9 1153.2h0M271.3 1155.6h0M271.3 1178.2h0M271.6 1153h0M271.7 1180.8h0M272.5 1157.9h0M272.5 1179.7h0M273.7 1155.7h0M273.7 1179.7h0M274 1153.1h0M273.7 1182.3h0M274.9 1158.5h0M274.9 1179.1h0M276.1 1157.4h0M276.1 1177.5h0M277.3 1153.8h0M277.3 1178.8h0M277.3 1151.2h0M278.5 1155.4h0M278.5 1179.3h0M278.5 1152.8h0M278.3 1150.2h0M278.5 1147.6h0M279.7 1157.1h0M279.7 1180h0M279.7 1154.5h0M279.9 1151.9h0M279.7 1149.3h0M280.9 1156h0M280.9 1179.7h0M281.2 1153.4h0M282.1 1155.4h0M282.1 1179.1h0M283.3 1156.9h0M283.3 1178.5h0M284.5 1155.2h0M284.5 1175.6h0M284.5 1178.2h0M285.7 1154.7h0M285.7 1176.4h0M286.9 1158.1h0M286.9 1175.3h0M288.1 1153.5h0M288.1 1175.1h0M287.8 1150.9h0M288 1148.3h0M289.3 1154.8h0M289.3 1175.5h0M288.9 1152.2h0M289.5 1180.7h0M290.5 1154.2h0M290.5 1177.6h0M290.4 1151.6h0M291.7 1156.6h0M291.7 1179.5h0M292 1154h0M292.9 1156.6h0M292.9 1177.7h0M292.7 1154h0M292.6 1151.4h0M292.6 1180.3h0M294.1 1153.3h0M294.1 1176.2h0M295.3 1154.3h0M295.3 1179.7h0M296.5 1154h0M296.5 1177.6h0M296.4 1151.4h0M297.7 1154h0M297.7 1177.6h0M297.3 1151.4h0M297.5 1180.2h0M298.9 1156.7h0M298.9 1175h0M298.7 1177.6h0M298.6 1180.2h0M300.1 1157.8h0M300.1 1176.9h0M300.1 1179.5h0M299.9 1182.1h0M301.3 1154.2h0M301.3 1176.6h0M301 1151.6h0M301.2 1179.2h0M302.5 1153.5h0M302.5 1178.5h0M302.1 1150.9h0M303.7 1153.9h0M303.7 1180.6h0M304.9 1152.4h0M304.9 1179.4h0M306.1 1152.8h0M306.1 1179.6h0M307.3 1154h0M307.3 1177.7h0M307.4 1151.4h0M308.5 1155.3h0M308.5 1179.1h0M309.7 1153h0M309.7 1174.6h0M309.5 1150.4h0M309.7 1147.8h0M309.8 1179.8h0M309.4 1182.4h0M309.4 1185h0M310.9 1154.5h0M310.9 1174.8h0M310.5 1151.9h0M311 1149.3h0M312.1 1156.3h0M312.1 1176.9h0M312.3 1153.7h0M311.7 1151.1h0M312.1 1148.5h0M313.3 1159.1h0M313.3 1175.9h0M313.2 1156.5h0M313.4 1178.5h0M313.6 1181.1h0M314.5 1157h0M314.5 1174.9h0M314.8 1151.8h0M314.5 1149.2h0M314.4 1177.5h0M314.1 1180.1h0M315.7 1157.5h0M315.7 1175.4h0M316.9 1155.1h0M316.9 1177.4h0M316.8 1152.5h0M318.1 1153.5h0M318.1 1177.2h0" stroke="#f20000" stroke-width="3.5" stroke-linecap="round" fill="none"/><polygon points="319.8,1155.9 320.7,1155.9 321.9,1153 323.1,1152.9 324.3,1157.4 325.5,1155.1 326.7,1154.5 327.9,1156.8 329.1,1155.7 330.3,1156.7 331.5,1155.1 332.7,1153.9 333.9,1152.4 335.1,1155.4 336.3,1158.2 337.5,1159.5 338.7,1158.2 339.9,1158.6 341.1,1154.5 342.3,1155.5 343.5,1155.5 344.7,1155.8 345.9,1154.8 347.1,1157.6 348.3,1158.1 349.5,1156.3 350.7,1153.9 351.9,1157.2 353.1,1155 354.3,1152.9 355.5,1154.3 356.7,1151.3 357.9,1154 359.1,1154.3 360.3,1153.4 361.5,1151.9 362.7,1152.4 363.9,1152.1 365.1,1154 366.3,1156.2 367.5,1157.2 368.7,1156 369.9,1155.6 371.1,1154.3 372.3,1157 373.5,1155 374.7,1153.5 375.9,1157.8 377.1,1155.5 378.3,1154.6 379.5,1159 380.7,1159.1 381.9,1156.1 383.1,1156.3 384.3,1157.8 385.5,1157.1 386.7,1155 387.9,1150.6 389.1,1156.8 390.3,1155.3 391.5,1153.6 392.7,1153.3 393.9,1152.4 395.1,1153.4 396.6,1153.4 396.6,1176.4 395.1,1176.4 393.9,1175.4 392.7,1175.6 391.5,1178 390.3,1177.9 389.1,1177.8 387.9,1177.7 386.7,1177.5 385.5,1179.2 384.3,1178.2 383.1,1179 381.9,1179.1 380.7,1177.6 379.5,1176.7 378.3,1176.6 377.1,1177.5 375.9,1177.4 374.7,1178.6 373.5,1176.6 372.3,1176.1 371.1,1176.2 369.9,1180 368.7,1179.4 367.5,1175.9 366.3,1177.5 365.1,1177.4 363.9,1176.8 362.7,1177.3 361.5,1178.1 360.3,1175.1 359.1,1175.5 357.9,1176.6 356.7,1177.4 355.5,1178.6 354.3,1179.7 353.1,1178.7 351.9,1180.2 350.7,1179.1 349.5,1174.9 348.3,1173.3 347.1,1176.1 345.9,1177.9 344.7,1177.9 343.5,1178.5 342.3,1178.1 341.1,1177.3 339.9,1174.9 338.7,1175.7 337.5,1175.7 336.3,1174.4 335.1,1175 333.9,1174.9 332.7,1175.5 331.5,1177 330.3,1175.9 329.1,1174.6 327.9,1174.9 326.7,1176.1 325.5,1175 324.3,1176.6 323.1,1176.4 321.9,1177.6 320.7,1176.2 319.8,1176.2" fill="#156dcf"/><path d="M320.7 1155.9h0M320.7 1176.2h0M320.7 1153.3h0M320.9 1178.8h0M321.9 1153h0M321.9 1177.6h0M323.1 1152.9h0M323.1 1176.4h0M324.3 1157.4h0M324.3 1176.6h0M325.5 1155.1h0M325.5 1175h0M325.2 1149.9h0M325.2 1147.3h0M325.2 1177.6h0M325.7 1180.2h0M325.6 1182.8h0M326.7 1154.5h0M326.7 1176.1h0M326.8 1178.7h0M326.3 1181.3h0M326.7 1183.9h0M327.9 1156.8h0M327.9 1174.9h0M327.7 1154.2h0M327.9 1151.6h0M328.1 1177.5h0M328.2 1180.1h0M327.6 1182.7h0M328.2 1185.3h0M329.1 1155.7h0M329.1 1174.6h0M330.3 1156.7h0M330.3 1175.9h0M331.5 1155.1h0M331.5 1177h0M332.7 1153.9h0M332.7 1175.5h0M333.9 1152.4h0M333.9 1174.9h0M334 1149.8h0M334.2 1177.5h0M333.8 1180.1h0M335.1 1155.4h0M335.1 1175h0M335.3 1152.8h0M335 1150.2h0M335.1 1177.6h0M335.4 1180.2h0M334.9 1182.8h0M336.3 1158.2h0M336.3 1174.4h0M336 1155.6h0M335.9 1153h0M336.2 1177h0M336 1179.6h0M337.5 1159.5h0M337.5 1175.7h0M337.6 1156.9h0M337.6 1154.3h0M337.7 1151.7h0M337.8 1149.1h0M337.6 1180.9h0M338.7 1158.2h0M338.7 1175.7h0M338.3 1155.6h0M338.9 1178.3h0M339.9 1158.6h0M339.9 1174.9h0M339.9 1156h0M339.7 1153.4h0M339.9 1150.8h0M339.5 1148.2h0M339.6 1177.5h0M341.1 1154.5h0M341.1 1177.3h0M342.3 1155.5h0M342.3 1178.1h0M343.5 1155.5h0M343.5 1178.5h0M344.7 1155.8h0M344.7 1177.9h0M345.9 1154.8h0M345.9 1177.9h0M345.7 1180.5h0M345.6 1183.1h0M345.8 1185.7h0M347.1 1157.6h0M347.1 1176.1h0M347.2 1178.7h0M346.9 1181.3h0M348.3 1158.1h0M348.3 1173.3h0M348.4 1175.9h0M348.2 1178.5h0M349.5 1156.3h0M349.5 1174.9h0M349.8 1177.5h0M350.7 1153.9h0M350.7 1179.1h0M350.8 1151.3h0M350.4 1148.7h0M350.4 1181.7h0M350.7 1184.3h0M350.5 1186.9h0M351.9 1157.2h0M351.9 1180.2h0M351.5 1154.6h0M351.7 1152h0M351.6 1149.4h0M353.1 1155h0M353.1 1178.7h0M352.7 1152.4h0M353.2 1149.8h0M354.3 1152.9h0M354.3 1179.7h0M354.5 1150.3h0M354.1 1147.7h0M354.1 1182.3h0M355.5 1154.3h0M355.5 1178.6h0M356.7 1151.3h0M356.7 1177.4h0M357.9 1154h0M357.9 1176.6h0M359.1 1154.3h0M359.1 1175.5h0M359.3 1180.7h0M359.1 1185.9h0M360.3 1153.4h0M360.3 1175.1h0M360.1 1177.7h0M360.7 1180.3h0M360.3 1182.9h0M361.5 1151.9h0M361.5 1178.1h0M362.7 1152.4h0M362.7 1177.3h0M363 1179.9h0M362.5 1182.5h0M363.9 1152.1h0M363.9 1176.8h0M363.9 1149.5h0M363.9 1146.9h0M365.1 1154h0M365.1 1177.4h0M365 1151.4h0M365.3 1148.8h0M366.3 1156.2h0M366.3 1177.5h0M367.5 1157.2h0M367.5 1175.9h0M368.7 1156h0M368.7 1179.4h0M369 1153.4h0M369.9 1155.6h0M369.9 1180h0M371.1 1154.3h0M371.1 1176.2h0M371.2 1151.7h0M370.8 1149.1h0M372.3 1157h0M372.3 1176.1h0M372.2 1154.4h0M372.3 1151.8h0M372.2 1178.7h0M373.5 1155h0M373.5 1176.6h0M373.5 1152.4h0M373.6 1179.2h0M374.7 1153.5h0M374.7 1178.6h0M375.9 1157.8h0M375.9 1177.4h0M375.8 1155.2h0M376.2 1180h0M377.1 1155.5h0M377.1 1177.5h0M376.8 1152.9h0M377.4 1150.3h0M378.3 1154.6h0M378.3 1176.6h0M377.9 1152h0M378.6 1149.4h0M379.5 1159h0M379.5 1176.7h0M379.7 1156.4h0M379.6 1181.9h0M380.7 1159.1h0M380.7 1177.6h0M380.3 1180.2h0M381 1182.8h0M381.9 1156.1h0M381.9 1179.1h0M383.1 1156.3h0M383.1 1179h0M384.3 1157.8h0M384.3 1178.2h0M384.4 1155.2h0M385.5 1157.1h0M385.5 1179.2h0M386.7 1155h0M386.7 1177.5h0M387.9 1150.6h0M387.9 1177.7h0M389.1 1156.8h0M389.1 1177.8h0M389.4 1154.2h0M388.7 1180.4h0M390.3 1155.3h0M390.3 1177.9h0M390.1 1152.7h0M391.5 1153.6h0M391.5 1178h0M391.5 1180.6h0M392.7 1153.3h0M392.7 1175.6h0M393.9 1152.4h0M393.9 1175.4h0M395.1 1153.4h0M395.1 1176.4h0M395.2 1148.2h0M395.3 1179h0" stroke="#156dcf" stroke-width="3.5" stroke-linecap="round" fill="none"/><polygon points="396.6,1156.8 397.5,1156.8 398.7,1153.3 399.9,1151.7 401.1,1154 402.3,1153.9 403.5,1155 404.7,1153.9 405.9,1159.3 407.1,1154.3 408.3,1153.4 409.5,1153.6 410.7,1154.9 411.9,1152.8 413.1,1154.7 414.3,1152.9 415.5,1151.4 416.7,1151 417.9,1152.8 419.1,1152.4 420.3,1152.8 421.5,1151.7 422.7,1150.8 423.9,1156.7 425.1,1157.1 426.3,1158.8 427.5,1156.9 428.7,1154.9 429.9,1154.6 431.1,1156.4 432.3,1155.8 433.5,1155.3 434.7,1156.3 435.9,1153.2 437.1,1154.8 438.3,1153.8 439.5,1155.4 440.7,1153.5 441.9,1155.6 443.1,1153.8 444.3,1157.8 445.5,1157.1 446.7,1154.3 447.9,1156 449.1,1153 450.3,1157.2 451.5,1160.7 452.7,1158 453.9,1157.2 455.1,1154.2 456.3,1154.5 457.5,1154.2 458.7,1155.9 459.9,1157.3 461,1157.3 461,1179.9 459.9,1179.9 458.7,1180.3 457.5,1179.4 456.3,1177 455.1,1175.2 453.9,1174.4 452.7,1173 451.5,1174.8 450.3,1175.6 449.1,1178.8 447.9,1177.9 446.7,1179.8 445.5,1179 444.3,1181 443.1,1179.9 441.9,1177 440.7,1177 439.5,1176.7 438.3,1173.8 437.1,1175.7 435.9,1177.8 434.7,1176.2 433.5,1176.8 432.3,1179.6 431.1,1179.5 429.9,1177 428.7,1178 427.5,1176.9 426.3,1174.9 425.1,1173.9 423.9,1174.3 422.7,1174.4 421.5,1178.3 420.3,1181.2 419.1,1179.5 417.9,1180.1 416.7,1179.7 415.5,1180.1 414.3,1179.1 413.1,1179.2 411.9,1176.6 410.7,1176.4 409.5,1178.5 408.3,1176.1 407.1,1177.3 405.9,1180 404.7,1179.3 403.5,1176.7 402.3,1176.9 401.1,1176.7 399.9,1177.7 398.7,1176.4 397.5,1176.6 396.6,1176.6" fill="#f20000"/><path d="M397.5 1156.8h0M397.5 1176.6h0M398.7 1153.3h0M398.7 1176.4h0M398.7 1150.7h0M399 1148.1h0M399.9 1151.7h0M399.9 1177.7h0M400 1149.1h0M401.1 1154h0M401.1 1176.7h0M401.1 1151.4h0M402.3 1153.9h0M402.3 1176.9h0M402.5 1179.5h0M403.5 1155h0M403.5 1176.7h0M403.1 1152.4h0M404.7 1153.9h0M404.7 1179.3h0M405.9 1159.3h0M405.9 1180h0M405.6 1182.6h0M407.1 1154.3h0M407.1 1177.3h0M407.2 1151.7h0M408.3 1153.4h0M408.3 1176.1h0M409.5 1153.6h0M409.5 1178.5h0M410.7 1154.9h0M410.7 1176.4h0M410.9 1152.3h0M411.9 1152.8h0M411.9 1176.6h0M412.2 1150.2h0M413.1 1154.7h0M413.1 1179.2h0M414.3 1152.9h0M414.3 1179.1h0M413.9 1181.7h0M413.9 1184.3h0M415.5 1151.4h0M415.5 1180.1h0M415.3 1148.8h0M415.5 1182.7h0M416.7 1151h0M416.7 1179.7h0M417.9 1152.8h0M417.9 1180.1h0M417.9 1182.7h0M417.8 1185.3h0M419.1 1152.4h0M419.1 1179.5h0M420.3 1152.8h0M420.3 1181.2h0M421.5 1151.7h0M421.5 1178.3h0M421.2 1180.9h0M422.7 1150.8h0M422.7 1174.4h0M422.7 1177h0M423.9 1156.7h0M423.9 1174.3h0M424 1176.9h0M423.6 1179.5h0M425.1 1157.1h0M425.1 1173.9h0M425 1179.1h0M426.3 1158.8h0M426.3 1174.9h0M426 1177.5h0M425.9 1180.1h0M426.4 1182.7h0M426.7 1185.3h0M427.5 1156.9h0M427.5 1176.9h0M427.3 1154.3h0M428.7 1154.9h0M428.7 1178h0M428.6 1152.3h0M428.3 1149.7h0M429.1 1147.1h0M429.9 1154.6h0M429.9 1177h0M430 1179.6h0M431.1 1156.4h0M431.1 1179.5h0M431.3 1182.1h0M432.3 1155.8h0M432.3 1179.6h0M432.6 1182.2h0M433.5 1155.3h0M433.5 1176.8h0M433.4 1152.7h0M433.8 1179.4h0M433.6 1182h0M434.7 1156.3h0M434.7 1176.2h0M434.3 1178.8h0M435.9 1153.2h0M435.9 1177.8h0M435.9 1150.6h0M436.2 1180.4h0M436.3 1183h0M437.1 1154.8h0M437.1 1175.7h0M437 1152.2h0M438.3 1153.8h0M438.3 1173.8h0M439.5 1155.4h0M439.5 1176.7h0M440.7 1153.5h0M440.7 1177h0M441.9 1155.6h0M441.9 1177h0M442.2 1153h0M443.1 1153.8h0M443.1 1179.9h0M443.2 1151.2h0M443.2 1148.6h0M444.3 1157.8h0M444.3 1181h0M444.3 1155.2h0M444.1 1152.6h0M444.3 1150h0M445.5 1157.1h0M445.5 1179h0M445.7 1154.5h0M445.7 1151.9h0M446.7 1154.3h0M446.7 1179.8h0M446.9 1151.7h0M447.9 1156h0M447.9 1177.9h0M449.1 1153h0M449.1 1178.8h0M450.3 1157.2h0M450.3 1175.6h0M449.9 1178.2h0M450.2 1180.8h0M451.5 1160.7h0M451.5 1174.8h0M451.1 1155.5h0M451.8 1150.3h0M452.7 1158h0M452.7 1173h0M453.9 1157.2h0M453.9 1174.4h0M453.9 1177h0M454.1 1179.6h0M455.1 1154.2h0M455.1 1175.2h0M455.4 1151.6h0M456.3 1154.5h0M456.3 1177h0M456 1179.6h0M457.5 1154.2h0M457.5 1179.4h0M457.6 1151.6h0M457.2 1149h0M457.2 1182h0M458.7 1155.9h0M458.7 1180.3h0M459.9 1157.3h0M459.9 1179.9h0" stroke="#f20000" stroke-width="3.5" stroke-linecap="round" fill="none"/><polygon points="461,1154.5 461.9,1154.5 463.1,1154.5 464.3,1154.3 465.5,1152.9 466.7,1155.1 467.9,1156.5 469.1,1157.5 470.3,1153.8 471.5,1155 472.7,1156.7 473.9,1155 475.1,1155.5 476.3,1155.7 477.5,1153.4 478.7,1153.3 479.9,1155.6 481.1,1153.3 482.3,1154.1 483.5,1155.1 484.7,1155.8 485.9,1155.1 487.1,1155.5 488.3,1156.6 489.5,1153.9 490.7,1151.4 491.9,1155 493.1,1152.3 494.3,1150.6 495.5,1153.6 496.7,1154.4 497.9,1152 499.1,1154.6 500.3,1155.5 502.2,1155.5 502.2,1179.3 500.3,1179.3 499.1,1176.8 497.9,1176.1 496.7,1175 495.5,1175.8 494.3,1176.6 493.1,1177.3 491.9,1174.2 490.7,1178.1 489.5,1177.8 488.3,1177.2 487.1,1177.2 485.9,1178.2 484.7,1178 483.5,1179 482.3,1178.6 481.1,1179.7 479.9,1179 478.7,1177.7 477.5,1178.8 476.3,1181.5 475.1,1179.6 473.9,1179.1 472.7,1178.7 471.5,1177.6 470.3,1178.3 469.1,1176.7 467.9,1177.2 466.7,1176.5 465.5,1174.3 464.3,1175.3 463.1,1174.9 461.9,1176.7 461,1176.7" fill="#156dcf"/><path d="M461.9 1154.5h0M461.9 1176.7h0M462.2 1151.9h0M463.1 1154.5h0M463.1 1174.9h0M464.3 1154.3h0M464.3 1175.3h0M464.4 1151.7h0M464.5 1177.9h0M465.5 1152.9h0M465.5 1174.3h0M465.5 1150.3h0M466.7 1155.1h0M466.7 1176.5h0M466.5 1149.9h0M467.9 1156.5h0M467.9 1177.2h0M467.6 1153.9h0M467.9 1151.3h0M469.1 1157.5h0M469.1 1176.7h0M470.3 1153.8h0M470.3 1178.3h0M470.5 1180.9h0M471.5 1155h0M471.5 1177.6h0M472.7 1156.7h0M472.7 1178.7h0M473.9 1155h0M473.9 1179.1h0M473.9 1181.7h0M475.1 1155.5h0M475.1 1179.6h0M475.3 1152.9h0M475.1 1150.3h0M475.2 1182.2h0M476.3 1155.7h0M476.3 1181.5h0M477.5 1153.4h0M477.5 1178.8h0M478.7 1153.3h0M478.7 1177.7h0M478.4 1180.3h0M478.5 1182.9h0M479.9 1155.6h0M479.9 1179h0M480 1181.6h0M479.9 1184.2h0M481.1 1153.3h0M481.1 1179.7h0M481.4 1182.3h0M481 1184.9h0M482.3 1154.1h0M482.3 1178.6h0M483.5 1155.1h0M483.5 1179h0M484.7 1155.8h0M484.7 1178h0M484.9 1153.2h0M485.9 1155.1h0M485.9 1178.2h0M487.1 1155.5h0M487.1 1177.2h0M488.3 1156.6h0M488.3 1177.2h0M488.3 1154h0M488.5 1179.8h0M489.5 1153.9h0M489.5 1177.8h0M490.7 1151.4h0M490.7 1178.1h0M490.5 1180.7h0M490.3 1183.3h0M491.9 1155h0M491.9 1174.2h0M493.1 1152.3h0M493.1 1177.3h0M493.3 1149.7h0M493.2 1179.9h0M494.3 1150.6h0M494.3 1176.6h0M494.3 1148h0M495.5 1153.6h0M495.5 1175.8h0M495.8 1151h0M495.3 1178.4h0M496.7 1154.4h0M496.7 1175h0M496.7 1151.8h0M496.7 1177.6h0M496.5 1180.2h0M497.1 1182.8h0M497.9 1152h0M497.9 1176.1h0M498.2 1178.7h0M497.6 1181.3h0M499.1 1154.6h0M499.1 1176.8h0M500.3 1155.5h0M500.3 1179.3h0" stroke="#156dcf" stroke-width="3.5" stroke-linecap="round" fill="none"/><polygon points="502.2,1151.9 503.1,1151.9 504.3,1151.3 505.5,1154.8 506.7,1154.7 507.9,1157.9 509.1,1158.6 510.3,1158.4 511.5,1157.2 512.7,1153.8 513.9,1154.8 515.1,1153.1 516.3,1155.7 517.5,1156.6 518.7,1159 519.9,1156.7 521.1,1157.9 522.3,1157.8 523.5,1156.4 524.7,1157.3 526.1,1157.3 526.1,1177.7 524.7,1177.7 523.5,1175.4 522.3,1177.5 521.1,1178.1 519.9,1177.3 518.7,1177.2 517.5,1179 516.3,1178.8 515.1,1181 513.9,1178.4 512.7,1175.6 511.5,1177.2 510.3,1176 509.1,1176.9 507.9,1176.9 506.7,1177.3 505.5,1177.6 504.3,1175.9 503.1,1177.8 502.2,1177.8" fill="#f20000"/><path d="M503.1 1151.9h0M503.1 1177.8h0M504.3 1151.3h0M504.3 1175.9h0M505.5 1154.8h0M505.5 1177.6h0M506.7 1154.7h0M506.7 1177.3h0M507 1152.1h0M507.9 1157.9h0M507.9 1176.9h0M507.8 1155.3h0M509.1 1158.6h0M509.1 1176.9h0M509.4 1156h0M509.3 1179.5h0M510.3 1158.4h0M510.3 1176h0M511.5 1157.2h0M511.5 1177.2h0M511.4 1154.6h0M512.7 1153.8h0M512.7 1175.6h0M513.9 1154.8h0M513.9 1178.4h0M515.1 1153.1h0M515.1 1181h0M514.7 1150.5h0M516.3 1155.7h0M516.3 1178.8h0M517.5 1156.6h0M517.5 1179h0M518.7 1159h0M518.7 1177.2h0M518.9 1156.4h0M518.7 1153.8h0M518.8 1151.2h0M518.9 1179.8h0M519.9 1156.7h0M519.9 1177.3h0M521.1 1157.9h0M521.1 1178.1h0M521.2 1155.3h0M521 1152.7h0M521.2 1180.7h0M522.3 1157.8h0M522.3 1177.5h0M522.5 1182.7h0M523.5 1156.4h0M523.5 1175.4h0M524.7 1157.3h0M524.7 1177.7h0M524.6 1154.7h0M524.5 1152.1h0M524.4 1180.3h0M525 1182.9h0M524.7 1185.5h0" stroke="#f20000" stroke-width="3.5" stroke-linecap="round" fill="none"/><polygon points="526.1,1153.3 527,1153.3 528.2,1153.7 529.4,1154.1 530.6,1153.8 531.8,1158.1 533,1155.1 534.2,1156.4 535.4,1157.1 536.6,1152.8 537.8,1153.2 539,1153.2 540.2,1156.4 541.4,1154.5 542.6,1159.1 543.8,1155.7 545,1155.5 546.2,1151.8 547.4,1152.1 548.6,1151.2 549.8,1152.4 551,1151 552.6,1151 552.6,1178.7 551,1178.7 549.8,1178.4 548.6,1178.4 547.4,1179 546.2,1179.3 545,1178.8 543.8,1176.1 542.6,1176.9 541.4,1174.1 540.2,1173.2 539,1175.1 537.8,1175 536.6,1176.3 535.4,1178.5 534.2,1177 533,1177.5 531.8,1178.8 530.6,1177.7 529.4,1177.8 528.2,1176.4 527,1177.5 526.1,1177.5" fill="#156dcf"/><path d="M527 1153.3h0M527 1177.5h0M528.2 1153.7h0M528.2 1176.4h0M528.2 1179h0M528.2 1181.6h0M529.4 1154.1h0M529.4 1177.8h0M530.6 1153.8h0M530.6 1177.7h0M530.6 1151.2h0M531.8 1158.1h0M531.8 1178.8h0M532 1155.5h0M531.6 1152.9h0M531.8 1181.4h0M533 1155.1h0M533 1177.5h0M534.2 1156.4h0M534.2 1177h0M535.4 1157.1h0M535.4 1178.5h0M535.7 1154.5h0M535.1 1151.9h0M535.1 1149.3h0M536.6 1152.8h0M536.6 1176.3h0M537.8 1153.2h0M537.8 1175h0M537.8 1150.6h0M539 1153.2h0M539 1175.1h0M540.2 1156.4h0M540.2 1173.2h0M539.8 1175.8h0M540.4 1178.4h0M541.4 1154.5h0M541.4 1174.1h0M542.6 1159.1h0M542.6 1176.9h0M542.4 1156.5h0M543.8 1155.7h0M543.8 1176.1h0M543.5 1153.1h0M543.8 1178.7h0M544 1183.9h0M545 1155.5h0M545 1178.8h0M546.2 1151.8h0M546.2 1179.3h0M546.2 1181.9h0M546 1184.5h0M547.4 1152.1h0M547.4 1179h0M547.6 1181.6h0M548.6 1151.2h0M548.6 1178.4h0M549.8 1152.4h0M549.8 1178.4h0M551 1151h0M551 1178.7h0" stroke="#156dcf" stroke-width="3.5" stroke-linecap="round" fill="none"/><polygon points="552.6,1155.3 553.5,1155.3 554.7,1159 555.9,1155.8 557.1,1157.8 558.3,1157.9 559.5,1157.2 560.7,1153.4 561.9,1152.7 563.1,1152.2 564.3,1153.5 565.5,1154.1 566.7,1152.2 567.9,1149.6 569.1,1152.5 570.3,1154.5 571.5,1153.3 572.7,1156.3 573.8,1156.3 573.8,1177.5 572.7,1177.5 571.5,1175.4 570.3,1176.8 569.1,1177.9 567.9,1180.1 566.7,1178.2 565.5,1178 564.3,1179.6 563.1,1178.7 561.9,1179.6 560.7,1180.4 559.5,1180.4 558.3,1179.6 557.1,1177.1 555.9,1179.5 554.7,1178 553.5,1179.7 552.6,1179.7" fill="#f20000"/><path d="M553.5 1155.3h0M553.5 1179.7h0M553.6 1182.3h0M553.9 1184.9h0M554.7 1159h0M554.7 1178h0M554.3 1180.6h0M555.9 1155.8h0M555.9 1179.5h0M556.2 1153.2h0M557.1 1157.8h0M557.1 1177.1h0M557.4 1179.7h0M557.3 1182.3h0M558.3 1157.9h0M558.3 1179.6h0M558.4 1182.2h0M559.5 1157.2h0M559.5 1180.4h0M560.7 1153.4h0M560.7 1180.4h0M560.9 1183h0M561.9 1152.7h0M561.9 1179.6h0M563.1 1152.2h0M563.1 1178.7h0M562.8 1149.6h0M563 1181.3h0M563.4 1183.9h0M562.8 1186.5h0M564.3 1153.5h0M564.3 1179.6h0M564.4 1150.9h0M564.4 1182.2h0M565.5 1154.1h0M565.5 1178h0M566.7 1152.2h0M566.7 1178.2h0M567 1149.6h0M567.9 1149.6h0M567.9 1180.1h0M569.1 1152.5h0M569.1 1177.9h0M569.1 1180.5h0M568.8 1183.1h0M570.3 1154.5h0M570.3 1176.8h0M571.5 1153.3h0M571.5 1175.4h0M571.8 1150.7h0M571.1 1148.1h0M572.7 1156.3h0M572.7 1177.5h0M572.9 1153.7h0M573 1151.1h0" stroke="#f20000" stroke-width="3.5" stroke-linecap="round" fill="none"/><polygon points="573.8,1156.3 574.7,1156.3 575.9,1152.2 577.1,1152.5 578.3,1151.4 579.5,1152.7 580.7,1153.6 581.9,1154.4 583.1,1156.6 584.3,1156.7 585.5,1155.7 586.7,1154.8 587.9,1153.3 589.1,1154.3 590.5,1154.3 590.5,1175.3 589.1,1175.3 587.9,1178.1 586.7,1177.7 585.5,1179.1 584.3,1178.1 583.1,1179.7 581.9,1176.7 580.7,1174.6 579.5,1175.5 578.3,1177 577.1,1178.7 575.9,1179.1 574.7,1179.9 573.8,1179.9" fill="#156dcf"/><path d="M574.7 1156.3h0M574.7 1179.9h0M574.8 1182.5h0M574.9 1185.1h0M575.9 1152.2h0M575.9 1179.1h0M576.2 1181.7h0M577.1 1152.5h0M577.1 1178.7h0M577.4 1181.3h0M578.3 1151.4h0M578.3 1177h0M578.7 1179.6h0M579.5 1152.7h0M579.5 1175.5h0M579.3 1178.1h0M580.7 1153.6h0M580.7 1174.6h0M580.9 1177.2h0M581.9 1154.4h0M581.9 1176.7h0M581.8 1151.8h0M583.1 1156.6h0M583.1 1179.7h0M582.7 1154h0M583 1151.4h0M582.9 1182.3h0M584.3 1156.7h0M584.3 1178.1h0M584.1 1180.7h0M584.4 1185.9h0M585.5 1155.7h0M585.5 1179.1h0M585.2 1181.7h0M585.8 1184.3h0M586.7 1154.8h0M586.7 1177.7h0M587.9 1153.3h0M587.9 1178.1h0M589.1 1154.3h0M589.1 1175.3h0M589.3 1151.7h0" stroke="#156dcf" stroke-width="3.5" stroke-linecap="round" fill="none"/><polygon points="590.5,1156.1 591.4,1156.1 592.6,1155.8 593.8,1155.4 595,1153.9 596.2,1153.6 597.4,1151.7 598.6,1154.7 599.8,1154.4 601,1153.4 602.2,1152 604,1152 604,1179.1 602.2,1179.1 601,1179.8 599.8,1176.7 598.6,1177.9 597.4,1176.8 596.2,1179.9 595,1178.4 593.8,1176 592.6,1176.3 591.4,1179.3 590.5,1179.3" fill="#f20000"/><path d="M591.4 1156.1h0M591.4 1179.3h0M592.6 1155.8h0M592.6 1176.3h0M592.2 1153.2h0M592.6 1150.6h0M593.8 1155.4h0M593.8 1176h0M593.7 1152.8h0M593.4 1150.2h0M593.6 1178.6h0M593.7 1181.2h0M593.5 1183.8h0M595 1153.9h0M595 1178.4h0M596.2 1153.6h0M596.2 1179.9h0M597.4 1151.7h0M597.4 1176.8h0M597.3 1149.1h0M598.6 1154.7h0M598.6 1177.9h0M599.8 1154.4h0M599.8 1176.7h0M599.5 1151.8h0M599.7 1149.2h0M601 1153.4h0M601 1179.8h0M601.3 1150.8h0M602.2 1152h0M602.2 1179.1h0" stroke="#f20000" stroke-width="3.5" stroke-linecap="round" fill="none"/><polygon points="604,1153.2 604.9,1153.2 606.1,1154.5 607.3,1154.1 608.5,1154.2 609.7,1152.9 610.9,1153.8 612.1,1153.4 613.3,1153.9 614.5,1154.2 615.7,1156 617.5,1156 617.5,1177.5 615.7,1177.5 614.5,1176.8 613.3,1178.7 612.1,1178.1 610.9,1177.1 609.7,1177.8 608.5,1177.6 607.3,1178.9 606.1,1177.5 604.9,1175.7 604,1175.7" fill="#156dcf"/><path d="M604.9 1153.2h0M604.9 1175.7h0M606.1 1154.5h0M606.1 1177.5h0M605.7 1151.9h0M606.1 1146.7h0M605.7 1182.7h0M606.4 1185.3h0M607.3 1154.1h0M607.3 1178.9h0M607 1151.5h0M607.2 1148.9h0M607.5 1181.5h0M608.5 1154.2h0M608.5 1177.6h0M609.7 1152.9h0M609.7 1177.8h0M609.9 1180.4h0M610.9 1153.8h0M610.9 1177.1h0M610.8 1179.7h0M610.9 1182.3h0M610.8 1184.9h0M612.1 1153.4h0M612.1 1178.1h0M612.3 1150.8h0M611.8 1148.2h0M613.3 1153.9h0M613.3 1178.7h0M614.5 1154.2h0M614.5 1176.8h0M614.8 1179.4h0M615.7 1156h0M615.7 1177.5h0M615.8 1182.7h0" stroke="#156dcf" stroke-width="3.5" stroke-linecap="round" fill="none"/><polygon points="617.5,1155.9 618.4,1155.9 619.6,1158.8 620.8,1158.2 622,1156.6 623.2,1156.3 624.4,1153.7 625.6,1152.4 626.8,1155.9 628,1155.4 629.2,1157.5 630.4,1158.1 631.6,1153.9 632.5,1153.9 632.5,1175.8 631.6,1175.8 630.4,1177.5 629.2,1178.7 628,1179.2 626.8,1179.5 625.6,1175.8 624.4,1177.4 623.2,1177.3 622,1177.7 620.8,1176.6 619.6,1177.5 618.4,1176 617.5,1176" fill="#f20000"/><path d="M618.4 1155.9h0M618.4 1176h0M618.1 1153.3h0M619.6 1158.8h0M619.6 1177.5h0M620.8 1158.2h0M620.8 1176.6h0M620.7 1155.6h0M620.5 1153h0M620.6 1179.2h0M622 1156.6h0M622 1177.7h0M621.6 1154h0M622.1 1151.4h0M621.6 1148.8h0M623.2 1156.3h0M623.2 1177.3h0M623.4 1153.7h0M623.4 1151.1h0M622.8 1179.9h0M624.4 1153.7h0M624.4 1177.4h0M624 1151.1h0M624.7 1180h0M625.6 1152.4h0M625.6 1175.8h0M625.2 1149.8h0M625.7 1178.4h0M626.8 1155.9h0M626.8 1179.5h0M626.9 1150.7h0M626.5 1182.1h0M628 1155.4h0M628 1179.2h0M629.2 1157.5h0M629.2 1178.7h0M630.4 1158.1h0M630.4 1177.5h0M631.6 1153.9h0M631.6 1175.8h0" stroke="#f20000" stroke-width="3.5" stroke-linecap="round" fill="none"/><polygon points="632.5,1150.4 633.4,1150.4 634.6,1152.5 635.8,1152.6 637,1154.8 638.2,1153.5 639.4,1154.1 640.6,1153.4 641.8,1152.7 643,1153.3 644.9,1153.3 644.9,1179.6 643,1179.6 641.8,1181.1 640.6,1179.3 639.4,1177 638.2,1175.8 637,1178 635.8,1177.9 634.6,1175.3 633.4,1175.6 632.5,1175.6" fill="#156dcf"/><path d="M633.4 1150.4h0M633.4 1175.6h0M634.6 1152.5h0M634.6 1175.3h0M634.3 1177.9h0M635.8 1152.6h0M635.8 1177.9h0M635.8 1150h0M637 1154.8h0M637 1178h0M638.2 1153.5h0M638.2 1175.8h0M639.4 1154.1h0M639.4 1177h0M639.4 1148.9h0M639.6 1179.6h0M639.7 1182.2h0M640.6 1153.4h0M640.6 1179.3h0M640.5 1150.8h0M640.3 1148.2h0M640.4 1181.9h0M641.8 1152.7h0M641.8 1181.1h0M642 1150.1h0M643 1153.3h0M643 1179.6h0M643 1148.1h0" stroke="#156dcf" stroke-width="3.5" stroke-linecap="round" fill="none"/><polygon points="644.9,1157 645.8,1157 647,1156.8 648.2,1154.3 649.4,1156.8 650.6,1155.4 651.8,1157.3 653,1152.7 654.2,1151.8 655.6,1151.8 655.6,1175.2 654.2,1175.2 653,1177.3 651.8,1177.4 650.6,1178.5 649.4,1178.7 648.2,1177.5 647,1176.4 645.8,1177 644.9,1177" fill="#f20000"/><path d="M645.8 1157h0M645.8 1177h0M645.4 1154.4h0M645.7 1179.6h0M647 1156.8h0M647 1176.4h0M646.8 1179h0M647 1181.6h0M648.2 1154.3h0M648.2 1177.5h0M647.8 1151.7h0M648 1182.7h0M649.4 1156.8h0M649.4 1178.7h0M650.6 1155.4h0M650.6 1178.5h0M650.6 1152.8h0M650.4 1150.2h0M651.8 1157.3h0M651.8 1177.4h0M653 1152.7h0M653 1177.3h0M653.3 1179.9h0M654.2 1151.8h0M654.2 1175.2h0" stroke="#f20000" stroke-width="3.5" stroke-linecap="round" fill="none"/><polygon points="655.6,1158.6 656.5,1158.6 657.7,1157.1 658.9,1155 660.1,1153.8 661.9,1153.8 661.9,1175.1 660.1,1175.1 658.9,1176 657.7,1179.1 656.5,1178.1 655.6,1178.1" fill="#156dcf"/><path d="M656.5 1158.6h0M656.5 1178.1h0M657.7 1157.1h0M657.7 1179.1h0M657.4 1154.5h0M658 1151.9h0M657.6 1184.3h0M658.9 1155h0M658.9 1176h0M660.1 1153.8h0M660.1 1175.1h0" stroke="#156dcf" stroke-width="3.5" stroke-linecap="round" fill="none"/><polygon points="661.9,1157.2 662.8,1157.2 664,1153.1 665.2,1154.9 666.7,1154.9 666.7,1177.6 665.2,1177.6 664,1176.1 662.8,1178.8 661.9,1178.8" fill="#f20000"/><path d="M662.8 1157.2h0M662.8 1178.8h0M662.5 1154.6h0M664 1153.1h0M664 1176.1h0M664.4 1183.9h0M665.2 1154.9h0M665.2 1177.6h0M665.1 1152.3h0M665 1149.7h0" stroke="#f20000" stroke-width="3.5" stroke-linecap="round" fill="none"/><polygon points="666.7,1156.7 667.6,1156.7 668.8,1154.3 670,1156 671.2,1153.6 672.2,1153.6 672.2,1177 671.2,1177 670,1175.3 668.8,1175.8 667.6,1175.3 666.7,1175.3" fill="#156dcf"/><path d="M667.6 1156.7h0M667.6 1175.3h0M667.8 1154.1h0M667.3 1148.9h0M667.7 1177.9h0M668.8 1154.3h0M668.8 1175.8h0M669.1 1151.7h0M669.1 1149.1h0M670 1156h0M670 1175.3h0M670 1177.9h0M669.9 1180.5h0M669.6 1183.1h0M671.2 1153.6h0M671.2 1177h0M671.4 1179.6h0M671.4 1182.2h0M670.9 1184.8h0" stroke="#156dcf" stroke-width="3.5" stroke-linecap="round" fill="none"/><polygon points="672.2,1151.6 673.1,1151.6 674.3,1153.7 675.5,1150.9 676.7,1152.8 677.9,1153.8 679.1,1152.4 681,1152.4 681,1177.2 679.1,1177.2 677.9,1176.5 676.7,1176 675.5,1174.7 674.3,1176.4 673.1,1175.9 672.2,1175.9" fill="#f20000"/><path d="M673.1 1151.6h0M673.1 1175.9h0M673 1178.5h0M673.2 1181.1h0M674.3 1153.7h0M674.3 1176.4h0M674.3 1179h0M675.5 1150.9h0M675.5 1174.7h0M675.6 1177.3h0M676.7 1152.8h0M676.7 1176h0M676.7 1150.2h0M677 1147.6h0M676.6 1178.6h0M677.9 1153.8h0M677.9 1176.5h0M677.9 1151.2h0M677.6 1148.6h0M677.9 1179.1h0M679.1 1152.4h0M679.1 1177.2h0" stroke="#f20000" stroke-width="3.5" stroke-linecap="round" fill="none"/><polygon points="681,1155.8 681.9,1155.8 683.1,1153.6 684.3,1153.9 685.5,1155.8 687.3,1155.8 687.3,1178.1 685.5,1178.1 684.3,1175.5 683.1,1175.9 681.9,1174.6 681,1174.6" fill="#156dcf"/><path d="M681.9 1155.8h0M681.9 1174.6h0M683.1 1153.6h0M683.1 1175.9h0M684.3 1153.9h0M684.3 1175.5h0M683.9 1151.3h0M684 1178.1h0M684.6 1180.7h0M685.5 1155.8h0M685.5 1178.1h0" stroke="#156dcf" stroke-width="3.5" stroke-linecap="round" fill="none"/><polygon points="687.3,1157.1 688.2,1157.1 689.4,1154.8 690.6,1152.3 691.8,1152.4 693,1154.7 694.2,1153.4 696,1153.4 696,1177.9 694.2,1177.9 693,1178 691.8,1175.6 690.6,1179.7 689.4,1179.6 688.2,1178.6 687.3,1178.6" fill="#f20000"/><path d="M688.2 1157.1h0M688.2 1178.6h0M688 1154.5h0M687.8 1151.9h0M689.4 1154.8h0M689.4 1179.6h0M690.6 1152.3h0M690.6 1179.7h0M690.4 1149.7h0M690.6 1182.3h0M690.3 1184.9h0M691.8 1152.4h0M691.8 1175.6h0M692 1149.8h0M693 1154.7h0M693 1178h0M693.1 1152.1h0M692.8 1149.5h0M694.2 1153.4h0M694.2 1177.9h0M694.5 1183.1h0" stroke="#f20000" stroke-width="3.5" stroke-linecap="round" fill="none"/><polygon points="696,1154.5 696.9,1154.5 698.1,1153 699.3,1151.6 700.5,1151.5 701.6,1151.5 701.6,1175.1 700.5,1175.1 699.3,1177 698.1,1177.2 696.9,1177.6 696,1177.6" fill="#156dcf"/><path d="M696.9 1154.5h0M696.9 1177.6h0M696.6 1151.9h0M697.3 1180.2h0M696.6 1182.8h0M698.1 1153h0M698.1 1177.2h0M697.7 1179.8h0M699.3 1151.6h0M699.3 1177h0M699 1149h0M699.6 1179.6h0M699.1 1182.2h0M700.5 1151.5h0M700.5 1175.1h0M700.8 1148.9h0" stroke="#156dcf" stroke-width="3.5" stroke-linecap="round" fill="none"/><polygon points="701.6,1152.2 702.5,1152.2 703.7,1153.1 704.9,1152.1 706.3,1152.1 706.3,1177.9 704.9,1177.9 703.7,1177.5 702.5,1179.8 701.6,1179.8" fill="#f20000"/><path d="M702.5 1152.2h0M702.5 1179.8h0M702.2 1149.6h0M703.7 1153.1h0M703.7 1177.5h0M703.8 1150.5h0M704.9 1152.1h0M704.9 1177.9h0M704.5 1149.5h0" stroke="#f20000" stroke-width="3.5" stroke-linecap="round" fill="none"/><polygon points="706.3,1155.5 707.2,1155.5 708.4,1157.1 710.3,1157.1 710.3,1176.7 708.4,1176.7 707.2,1176.2 706.3,1176.2" fill="#156dcf"/><path d="M707.2 1155.5h0M707.2 1176.2h0M706.9 1181.4h0M708.4 1157.1h0M708.4 1176.7h0M708.3 1179.3h0M708.5 1181.9h0M708.6 1184.5h0" stroke="#156dcf" stroke-width="3.5" stroke-linecap="round" fill="none"/><polygon points="710.3,1156.4 711.2,1156.4 712.4,1156.9 714.3,1156.9 714.3,1176.9 712.4,1176.9 711.2,1177.3 710.3,1177.3" fill="#f20000"/><path d="M711.2 1156.4h0M711.2 1177.3h0M710.9 1179.9h0M711.1 1185.1h0M712.4 1156.9h0M712.4 1176.9h0" stroke="#f20000" stroke-width="3.5" stroke-linecap="round" fill="none"/><polygon points="714.3,1156.6 715.5,1156.6 716.7,1156.6 716.7,1177 715.5,1177 714.3,1177" fill="#156dcf"/><path d="M715.5 1156.6h0M715.5 1177h0M715.1 1154h0" stroke="#156dcf" stroke-width="3.5" stroke-linecap="round" fill="none"/><polygon points="716.7,1155.8 717.6,1155.8 718.8,1155.2 719.8,1155.2 719.8,1175.8 718.8,1175.8 717.6,1177.6 716.7,1177.6" fill="#f20000"/><path d="M717.6 1155.8h0M717.6 1177.6h0M717.3 1150.6h0M717.8 1148h0M717.2 1180.2h0M718.8 1155.2h0M718.8 1175.8h0M718.5 1152.6h0M718.7 1178.4h0" stroke="#f20000" stroke-width="3.5" stroke-linecap="round" fill="none"/><polygon points="719.8,1154.3 720.7,1154.3 721.9,1155.6 723,1155.6 723,1176.4 721.9,1176.4 720.7,1177.1 719.8,1177.1" fill="#156dcf"/><path d="M720.7 1154.3h0M720.7 1177.1h0M721.9 1155.6h0M721.9 1176.4h0" stroke="#156dcf" stroke-width="3.5" stroke-linecap="round" fill="none"/><polygon points="723,1153.8 723.9,1153.8 725.1,1157.1 726.3,1157.4 727.8,1157.4 727.8,1177.3 726.3,1177.3 725.1,1177.2 723.9,1180.1 723,1180.1" fill="#f20000"/><path d="M723.9 1153.8h0M723.9 1180.1h0M725.1 1157.1h0M725.1 1177.2h0M724.9 1154.5h0M726.3 1157.4h0M726.3 1177.3h0M726.1 1179.9h0" stroke="#f20000" stroke-width="3.5" stroke-linecap="round" fill="none"/><polygon points="727.8,1150.9 728.7,1150.9 729.9,1153.3 731.1,1153.6 732.3,1153.9 733.5,1155.2 734.7,1156.6 735.9,1153.1 737.1,1150 738.3,1151.2 739.5,1151.7 740.7,1154.1 741.9,1157.8 743.1,1152.3 744.3,1152.1 745.5,1150.2 746.7,1148.6 747.9,1153.4 749.1,1154.5 750.3,1155.6 751.5,1151.7 752.7,1156 753.9,1152 755.1,1153.7 756.3,1154.8 757.5,1156.9 758.7,1159.7 759.9,1157.5 761.1,1156.6 762.3,1152.4 763.5,1151.1 764.7,1154.9 765.9,1158.2 767.1,1152.5 768.3,1155.3 769.5,1155.6 770.7,1156.2 771.9,1154.6 773.1,1155.3 774.3,1155.5 775.5,1155.6 776.7,1159.9 777.9,1159.6 779.1,1159.6 780.3,1156.5 781.5,1153.2 782.7,1155.2 783.9,1153.3 785.1,1154.2 786.3,1150.4 788.1,1150.4 788.1,1176.5 786.3,1176.5 785.1,1178.2 783.9,1179.9 782.7,1177.7 781.5,1178.5 780.3,1178.2 779.1,1178.8 777.9,1177.4 776.7,1178.7 775.5,1180.3 774.3,1180.2 773.1,1179.6 771.9,1179.3 770.7,1175.9 769.5,1175.2 768.3,1178.4 767.1,1181.3 765.9,1180.5 764.7,1179.3 763.5,1178.8 762.3,1178.9 761.1,1178.6 759.9,1179.9 758.7,1179.1 757.5,1179.4 756.3,1176.7 755.1,1177.4 753.9,1177.3 752.7,1175.4 751.5,1175.2 750.3,1177.8 749.1,1176.1 747.9,1172.2 746.7,1174.3 745.5,1178.7 744.3,1179.4 743.1,1177.4 741.9,1176.2 740.7,1178.1 739.5,1177.3 738.3,1174 737.1,1176.5 735.9,1177.3 734.7,1178.7 733.5,1174.8 732.3,1176.1 731.1,1177.6 729.9,1176.4 728.7,1177.6 727.8,1177.6" fill="#156dcf"/><path d="M728.7 1150.9h0M728.7 1177.6h0M728.6 1148.3h0M728.3 1145.7h0M728.9 1180.2h0M728.5 1182.8h0M728.7 1185.4h0M729 1188h0M728.8 1190.6h0M729.9 1153.3h0M729.9 1176.4h0M729.6 1150.7h0M730.2 1148.1h0M731.1 1153.6h0M731.1 1177.6h0M731.1 1148.4h0M731.2 1145.8h0M731.1 1143.2h0M731.1 1140.6h0M730.9 1182.8h0M731.1 1185.4h0M731.1 1188h0M730.9 1190.6h0M731 1193.2h0M732.3 1153.9h0M732.3 1176.1h0M732.2 1151.3h0M732.4 1148.7h0M732.1 1146.1h0M732 1140.9h0M732.1 1178.7h0M732.2 1181.3h0M732 1189.1h0M732.2 1191.7h0M732.2 1194.3h0M733.5 1155.2h0M733.5 1174.8h0M734.7 1156.6h0M734.7 1178.7h0M735 1154h0M734.7 1181.3h0M734.4 1183.9h0M735.9 1153.1h0M735.9 1177.3h0M737.1 1150h0M737.1 1176.5h0M737.3 1147.4h0M737.4 1144.8h0M737 1179.1h0M737 1181.7h0M736.8 1186.9h0M738.3 1151.2h0M738.3 1174h0M738.1 1148.6h0M738.6 1146h0M738.1 1143.4h0M738.1 1140.8h0M738 1179.2h0M738.1 1181.8h0M738 1187h0M739.5 1151.7h0M739.5 1177.3h0M739.2 1149.1h0M739.6 1146.5h0M739.4 1143.9h0M739.3 1141.3h0M739.6 1179.9h0M739.2 1182.5h0M739.6 1185.1h0M739.2 1187.7h0M739.7 1190.3h0M739.7 1192.9h0M740.7 1154.1h0M740.7 1178.1h0M741 1151.5h0M740.6 1180.7h0M740.7 1183.3h0M741 1185.9h0M740.7 1188.5h0M741.9 1157.8h0M741.9 1176.2h0M742.3 1152.6h0M741.9 1150h0M742.3 1147.4h0M741.9 1144.8h0M741.6 1142.2h0M742.2 1139.6h0M742 1178.8h0M743.1 1152.3h0M743.1 1177.4h0M743.3 1147.1h0M743.1 1144.5h0M742.7 1180h0M744.3 1152.1h0M744.3 1179.4h0M744.5 1144.3h0M744.6 1182h0M744 1184.6h0M743.9 1189.8h0M744.4 1195h0M745.5 1150.2h0M745.5 1178.7h0M745.8 1147.6h0M745.4 1145h0M745.6 1139.8h0M745.5 1186.5h0M745.4 1189.1h0M746.7 1148.6h0M746.7 1174.3h0M747.9 1153.4h0M747.9 1172.2h0M748 1150.8h0M747.9 1145.6h0M747.6 1143h0M747.6 1140.4h0M747.6 1137.8h0M749.1 1154.5h0M749.1 1176.1h0M749.3 1144.1h0M748.9 1141.5h0M749.5 1138.9h0M748.7 1181.3h0M748.8 1186.5h0M749.2 1189.1h0M750.3 1155.6h0M750.3 1177.8h0M750.4 1180.4h0M750.6 1183h0M750.4 1185.6h0M751.5 1151.7h0M751.5 1175.2h0M751.1 1149.1h0M751.8 1146.5h0M752.7 1156h0M752.7 1175.4h0M752.7 1153.4h0M753 1150.8h0M753 1148.2h0M753.9 1152h0M753.9 1177.3h0M753.5 1179.9h0M754.1 1182.5h0M755.1 1153.7h0M755.1 1177.4h0M754.9 1151.1h0M755.3 1148.5h0M755 1145.9h0M755.2 1143.3h0M755.1 1140.7h0M755.4 1138.1h0M756.3 1154.8h0M756.3 1176.7h0M756.4 1147h0M757.5 1156.9h0M757.5 1179.4h0M757.8 1154.3h0M757.8 1151.7h0M757.5 1149.1h0M757.1 1182h0M757.3 1184.6h0M757.8 1187.2h0M758.7 1159.7h0M758.7 1179.1h0M758.7 1181.7h0M758.4 1184.3h0M759.9 1157.5h0M759.9 1179.9h0M760.1 1154.9h0M760.2 1182.5h0M759.5 1187.7h0M761.1 1156.6h0M761.1 1178.6h0M761.2 1154h0M760.7 1151.4h0M760.8 1143.6h0M760.9 1138.4h0M762.3 1152.4h0M762.3 1178.9h0M761.9 1149.8h0M762.1 1181.5h0M763.5 1151.1h0M763.5 1178.8h0M763.6 1145.9h0M763.4 1143.3h0M764.7 1154.9h0M764.7 1179.3h0M764.5 1152.3h0M765 1149.7h0M764.5 1147.1h0M765.9 1158.2h0M765.9 1180.5h0M765.5 1155.6h0M766 1153h0M766 1150.4h0M766.2 1183.1h0M765.6 1185.7h0M767.1 1152.5h0M767.1 1181.3h0M766.7 1149.9h0M766.9 1147.3h0M767 1144.7h0M767.1 1142.1h0M767.2 1183.9h0M768.3 1155.3h0M768.3 1178.4h0M769.5 1155.6h0M769.5 1175.2h0M769.8 1177.8h0M769.7 1180.4h0M769.2 1183h0M770.7 1156.2h0M770.7 1175.9h0M770.7 1178.5h0M770.5 1181.1h0M771.9 1154.6h0M771.9 1179.3h0M772.2 1181.9h0M773.1 1155.3h0M773.1 1179.6h0M773 1152.7h0M773.4 1150.1h0M773 1147.5h0M774.3 1155.5h0M774.3 1180.2h0M774.3 1152.9h0M774.2 1147.7h0M774.1 1145.1h0M774.6 1142.5h0M774.3 1139.9h0M775.5 1155.6h0M775.5 1180.3h0M775.6 1153h0M775.4 1150.4h0M775.7 1147.8h0M775.6 1142.6h0M775.5 1182.9h0M775.3 1185.5h0M775.3 1188.1h0M775.8 1190.7h0M775.1 1195.9h0M776.7 1159.9h0M776.7 1178.7h0M776.6 1186.5h0M776.9 1189.1h0M777.9 1159.6h0M777.9 1177.4h0M778.1 1157h0M778.1 1154.4h0M777.8 1151.8h0M777.5 1149.2h0M778.2 1146.6h0M777.8 1182.6h0M778.1 1185.2h0M777.6 1187.8h0M779.1 1159.6h0M779.1 1178.8h0M779.3 1157h0M780.3 1156.5h0M780.3 1178.2h0M780.2 1151.3h0M780.3 1180.8h0M780.4 1183.4h0M779.9 1186h0M779.9 1188.6h0M780.5 1191.2h0M780.1 1193.8h0M781.5 1153.2h0M781.5 1178.5h0M781.8 1150.6h0M781.8 1148h0M781.2 1142.8h0M781.4 1140.2h0M781.4 1181.1h0M781.6 1183.7h0M781.2 1186.3h0M782.7 1155.2h0M782.7 1177.7h0M782.9 1152.6h0M782.9 1139.6h0M782.4 1180.3h0M782.4 1185.5h0M783.9 1153.3h0M783.9 1179.9h0M783.5 1150.7h0M783.9 1182.5h0M785.1 1154.2h0M785.1 1178.2h0M785.2 1151.6h0M785 1180.8h0M786.3 1150.4h0M786.3 1176.5h0M786.3 1179.1h0M786.5 1181.7h0M785.9 1189.5h0" stroke="#156dcf" stroke-width="3.5" stroke-linecap="round" fill="none"/><path d="M96 1136h0M110 1142h0M120 1140h0M140 1145h0M150 1144h0M170 1143h0M180 1140h0M195 1146h0M82 1195h0M92 1193h0M110 1196h0M130 1204h0M145 1198h0M158 1205h0M174 1212h0M184 1200h0M192 1214.9h0M186 1208h0M207 1205h0M200 1194h0M335.5 1124h0M335.5 1138h0M350 1146h0M370 1147h0M385 1148h0M336 1195.7h0M340 1192h0M356 1193h0M380 1190h0M463.4 1200h0M463.4 1207.3h0M463.4 1216.4h0M488.7 1133h0M488.7 1140.4h0M478 1192h0M490 1195h0M498 1198h0M529.4 1195.7h0M533 1144h0M540 1146h0M545 1190h0M582.5 1201.4h0M582.5 1209.4h0M582.5 1228.4h0M580 1148h0M610 1148h0M636.5 1141h0M660 1150h0M727.8 1201.4h0M727.8 1214.9h0M728.6 1095h0M739 1104.6h0M739 1110h0M739 1116h0M739 1122h0M739 1126h0M739 1131.6h0M745 1131h0M748 1138h0M756.3 1072h0M757 1084h0M758 1090h0M757 1096h0M758 1102h0M757 1108h0M758 1114h0M757 1120h0M756 1125h0M760 1132h0M762 1136h0M780 1055.4h0M780 1068h0M780 1076h0M780 1082h0M781 1088h0M780 1094h0M781 1100h0M780 1105h0M780 1109h0M783 1112.5h0M783 1124.4h0M778 1130h0M765 1134h0M770 1137h0M750 1136h0M733 1140h0M763.5 1204.6h0M763.5 1209h0M763.5 1215.7h0M763.5 1230h0M776.8 1196h0M777 1202h0M777 1208h0M777 1214h0M777 1220h0M777 1230h0M785 1204h0M735 1195h0M742 1197h0M750 1199h0M756 1198h0M768 1197h0M772 1200h0M786 1196h0" stroke="#156dcf" stroke-width="3.5" stroke-linecap="round" fill="none"/><path d="M252 1131.7h0M252 1138h0M230 1148h0M268 1146h0M280 1147h0M305 1145h0M318 1132.2h0M318 1139.6h0M228 1192h0M252 1207h0M255 1197h0M270 1195h0M290 1196h0M315 1199h0M315 1203h0M305 1192h0M410 1146h0M425 1146h0M440 1147h0M410.6 1195.7h0M413 1200h0M415.5 1204h0M430 1192h0M450 1194h0M512 1148h0M515 1194h0M558.3 1136.3h0M560.3 1136.3h0M560.3 1145h0M560.3 1206h0M556 1198h0M566 1195h0M596 1196h0M600 1149h0M624 1150h0M628 1193h0M646 1198h0M646 1204.6h0M650 1139.5h0M673.8 1139.5h0M673.8 1146h0M673 1203.8h0M673 1196h0M690 1150h0M703.2 1129.2h0M703.2 1136.3h0M710.3 1196h0M710.3 1202h0M710.3 1208h0M717 1147.5h0M724 1196h0" stroke="#f20000" stroke-width="3.5" stroke-linecap="round" fill="none"/>
<text x="106.7" y="1075.2" font-size="18" fill="#000" textLength="46.2" lengthAdjust="spacingAndGlyphs" stroke="#000" stroke-width="0.25">(R-N)</text>
<text transform="translate(96.1 1072.1) scale(1.41 1)" font-size="8.84" fill="#333">Δ</text>
<path d="M947.8 10.2V282.6M1023.9 10.2V282.6M1100 10.2V282.6M1176.1 10.2V282.6M1252.2 10.2V282.6M1328.2 10.2V282.6M1404.4 10.2V282.6M1480.5 10.2V282.6M1556.6 10.2V282.6M879.4 239.8H1566.8M879.4 177.8H1566.8M879.4 115.9H1566.8M879.4 53.9H1566.8" stroke="#f7f7f7" stroke-width="1" fill="none"/><path d="M909.7 10.2V282.6M985.8 10.2V282.6M1061.9 10.2V282.6M1138 10.2V282.6M1214.1 10.2V282.6M1290.2 10.2V282.6M1366.3 10.2V282.6M1442.4 10.2V282.6M1518.5 10.2V282.6M879.4 270.8H1566.8M879.4 208.8H1566.8M879.4 146.9H1566.8M879.4 84.9H1566.8M879.4 22.9H1566.8" stroke="#eeeeee" stroke-width="1.7" fill="none"/><rect x="879.4" y="10.2" width="687.4" height="272.4" fill="none" stroke="#b4b4b4" stroke-width="1.8"/><text x="873" y="275.4" font-size="12.5" fill="#1a1a1a" text-anchor="end" stroke="#1a1a1a" stroke-width="0.35">0</text><text x="873" y="213.4" font-size="12.5" fill="#1a1a1a" text-anchor="end" stroke="#1a1a1a" stroke-width="0.35">50</text><text x="873" y="151.5" font-size="12.5" fill="#1a1a1a" text-anchor="end" stroke="#1a1a1a" stroke-width="0.35">100</text><text x="873" y="89.5" font-size="12.5" fill="#1a1a1a" text-anchor="end" stroke="#1a1a1a" stroke-width="0.35">150</text><text x="873" y="27.5" font-size="12.5" fill="#1a1a1a" text-anchor="end" stroke="#1a1a1a" stroke-width="0.35">200</text><text x="909.7" y="298.1" font-size="12.5" fill="#1a1a1a" text-anchor="middle" stroke="#1a1a1a" stroke-width="0.35">0</text><text x="985.8" y="298.1" font-size="12.5" fill="#1a1a1a" text-anchor="middle" stroke="#1a1a1a" stroke-width="0.35">10</text><text x="1061.9" y="298.1" font-size="12.5" fill="#1a1a1a" text-anchor="middle" stroke="#1a1a1a" stroke-width="0.35">20</text><text x="1138" y="298.1" font-size="12.5" fill="#1a1a1a" text-anchor="middle" stroke="#1a1a1a" stroke-width="0.35">30</text><text x="1214.1" y="298.1" font-size="12.5" fill="#1a1a1a" text-anchor="middle" stroke="#1a1a1a" stroke-width="0.35">40</text><text x="1290.2" y="298.1" font-size="12.5" fill="#1a1a1a" text-anchor="middle" stroke="#1a1a1a" stroke-width="0.35">50</text><text x="1366.3" y="298.1" font-size="12.5" fill="#1a1a1a" text-anchor="middle" stroke="#1a1a1a" stroke-width="0.35">60</text><text x="1442.4" y="298.1" font-size="12.5" fill="#1a1a1a" text-anchor="middle" stroke="#1a1a1a" stroke-width="0.35">70</text><text x="1518.5" y="298.1" font-size="12.5" fill="#1a1a1a" text-anchor="middle" stroke="#1a1a1a" stroke-width="0.35">80</text><path d="M876.4 270.8H879.4M876.4 208.8H879.4M876.4 146.9H879.4M876.4 84.9H879.4M876.4 22.9H879.4M909.7 282.6V285.6M985.8 282.6V285.6M1061.9 282.6V285.6M1138 282.6V285.6M1214.1 282.6V285.6M1290.2 282.6V285.6M1366.3 282.6V285.6M1442.4 282.6V285.6M1518.5 282.6V285.6" stroke="#333" stroke-width="1.2" fill="none"/><text x="1223.1" y="313.3" font-size="14" fill="#111" text-anchor="middle" textLength="222" lengthAdjust="spacingAndGlyphs" stroke="#111" stroke-width="0.35">Position on Z chromosome (Mb)</text>
<text x="904.1" y="47.6" font-size="20" fill="#000" textLength="515" lengthAdjust="spacingAndGlyphs" stroke="#000" stroke-width="0.45">Selective sweeps (rumpless females and rumpless males)</text>
<rect x="909.5" y="269" width="626" height="1.2" fill="#000"/><path d="M909.5 270.2h0M909 269.3h0M909 262.9h0M911 270.2h0M911.2 269h0M912.5 270.2h0M913.3 269.3h0M914 270.2h0M914.3 269.6h0M915.5 270.2h0M914.9 269.1h0M915.7 268.4h0M917 270.2h0M917.3 268.5h0M918.5 270.2h0M918.8 269.3h0M920 270.2h0M920.4 269h0M921.5 270.2h0M921 269.9h0M923 270.2h0M923.7 270h0M924.5 270.2h0M924 268.9h0M926 270.2h0M925.9 269.6h0M925.7 268.4h0M927.5 270.2h0M927.7 269.5h0M929 270.2h0M928.7 268.3h0M930.5 270.2h0M929.8 269.6h0M932 270.2h0M931.4 269.6h0M932 267.5h0M933.5 270.2h0M933.3 270h0M934.1 259.6h0M935 270.2h0M935.6 269.8h0M936.5 270.2h0M937.1 268.8h0M937 268.9h0M938 270.2h0M938.3 270h0M939.5 270.2h0M938.8 270.1h0M941 270.2h0M940.7 268.7h0M941.5 267.8h0M942.5 270.2h0M943.3 269.7h0M943.1 266.6h0M944 270.2h0M944 268.6h0M945.5 270.2h0M945.1 269.2h0M944.8 266.5h0M947 270.2h0M946.8 268.6h0M948.5 270.2h0M948.9 269.9h0M950 270.2h0M949.8 268.6h0M951.5 270.2h0M950.8 269.3h0M953 270.2h0M953.2 268.4h0M954.5 270.2h0M954.1 269.4h0M956 270.2h0M955.3 269.2h0M957.5 270.2h0M957.8 269.3h0M958 266.5h0M959 270.2h0M958.5 269.9h0M960.5 270.2h0M960.2 268.7h0M960.6 266.1h0M962 270.2h0M961.3 269.8h0M963.5 270.2h0M963 269.6h0M965 270.2h0M964.5 268.4h0M964.7 265h0M966.5 270.2h0M966.8 268.6h0M966.3 268.6h0M968 270.2h0M967.8 270.2h0M969.5 270.2h0M969.9 269.1h0M969.5 268.3h0M971 270.2h0M971.4 269.8h0M972.5 270.2h0M972.4 268.8h0M974 270.2h0M974.4 269.8h0M975.5 270.2h0M975.2 269.3h0M977 270.2h0M976.3 269.8h0M978.5 270.2h0M979 269.1h0M980 270.2h0M980 268.3h0M981.5 270.2h0M981 270h0M983 270.2h0M983.4 268.4h0M983.3 268.6h0M984.5 270.2h0M984.2 269.1h0M984.3 263.3h0M986 270.2h0M986.4 269.9h0M986.3 268.8h0M987.5 270.2h0M987.4 270h0M986.9 266.9h0M989 270.2h0M989.7 269.6h0M989.4 267.5h0M990.5 270.2h0M989.9 269.9h0M992 270.2h0M991.6 268.7h0M993.5 270.2h0M993.8 269.1h0M995 270.2h0M995.5 269.9h0M996.5 270.2h0M996.6 268.7h0M998 270.2h0M997.2 270.1h0M997.9 266h0M999.5 270.2h0M999.5 270.1h0M1001 270.2h0M1001.3 270.2h0M1002.5 270.2h0M1002 269.1h0M1002.3 267.3h0M1004 270.2h0M1004.6 269.8h0M1004.7 266.4h0M1005.5 270.2h0M1004.9 270.1h0M1007 270.2h0M1007.1 268.7h0M1008.5 270.2h0M1008.9 269.8h0M1010 270.2h0M1010.5 268.8h0M1011.5 270.2h0M1010.8 268.5h0M1013 270.2h0M1013.2 269.4h0M1014.5 270.2h0M1014.8 269.7h0M1016 270.2h0M1016.6 269.6h0M1015.8 268.7h0M1017.5 270.2h0M1018.2 270h0M1017.1 269h0M1019 270.2h0M1018.9 268.9h0M1020.5 270.2h0M1020.8 270.1h0M1022 270.2h0M1022.1 270h0M1023.5 270.2h0M1023.6 269.9h0M1025 270.2h0M1025.1 269.1h0M1025.5 267.7h0M1026.5 270.2h0M1026.6 268.4h0M1028 270.2h0M1028.6 268.2h0M1029.5 270.2h0M1030 268.4h0M1031 270.2h0M1031.1 269.9h0M1032.5 270.2h0M1033.1 269.3h0M1032.8 264.8h0M1034 270.2h0M1033.4 268.6h0M1034.5 268.8h0M1035.5 270.2h0M1035.4 268.3h0M1037 270.2h0M1037.6 269.4h0M1037.7 268.4h0M1038.5 270.2h0M1038.1 268.5h0M1040 270.2h0M1039.8 268.4h0M1041.5 270.2h0M1041.1 270h0M1043 270.2h0M1042.8 268.6h0M1043.1 267h0M1044.5 270.2h0M1045.2 269.9h0M1046 270.2h0M1045.5 269.5h0M1046.6 268.4h0M1047.5 270.2h0M1047.3 269.7h0M1047.8 265.2h0M1049 270.2h0M1048.5 270.2h0M1050.5 270.2h0M1051.3 270.1h0M1049.8 269h0M1052 270.2h0M1051.6 270h0M1053.5 270.2h0M1053.5 268.6h0M1055 270.2h0M1054.6 269.5h0M1056.5 270.2h0M1057 270h0M1058 270.2h0M1057.2 269.9h0M1059.5 270.2h0M1059.7 269.9h0M1061 270.2h0M1061.2 269.3h0M1060.2 261h0M1062.5 270.2h0M1062.7 270.1h0M1062.9 268.2h0M1064 270.2h0M1063.7 268.3h0M1065.5 270.2h0M1065.7 269h0M1065 266.7h0M1067 270.2h0M1067.2 269.3h0M1067.7 267h0M1068.5 270.2h0M1069.2 270.1h0M1070 270.2h0M1069.5 268.6h0M1069.3 266.8h0M1071.5 270.2h0M1071.4 268.8h0M1073 270.2h0M1073.3 269.4h0M1073.6 267.2h0M1074.5 270.2h0M1074.1 269.3h0M1076 270.2h0M1075.7 268.3h0M1077.5 270.2h0M1076.9 269.5h0M1077.2 266.8h0M1076.9 264.6h0M1079 270.2h0M1079.5 269.2h0M1078.7 261.5h0M1080.5 270.2h0M1079.8 269.5h0M1082 270.2h0M1081.8 268.3h0M1082 266.7h0M1083.5 270.2h0M1083.6 269.7h0M1084 264.8h0M1085 270.2h0M1085.4 269.1h0M1085.5 267.7h0M1086.5 270.2h0M1086.7 269.8h0M1088 270.2h0M1087.6 268.4h0M1089.5 270.2h0M1089.7 268.6h0M1091 270.2h0M1090.7 268.3h0M1092.5 270.2h0M1093.1 268.3h0M1094 270.2h0M1094.5 269h0M1095.5 270.2h0M1096.2 268.4h0M1097 270.2h0M1097.1 268.9h0M1098.5 270.2h0M1098.1 268.8h0M1100 270.2h0M1100.5 270h0M1101.5 270.2h0M1101.1 269.4h0M1103 270.2h0M1102.8 268.3h0M1103.8 268.2h0M1102.2 265.1h0M1104.5 270.2h0M1104.8 268.5h0M1106 270.2h0M1106.7 268.6h0M1107.5 270.2h0M1106.8 268.6h0M1109 270.2h0M1108.4 268.5h0M1110.5 270.2h0M1110.8 270.1h0M1112 270.2h0M1112 269.6h0M1112.1 265.7h0M1113.5 270.2h0M1114 269.6h0M1112.9 268.1h0M1115 270.2h0M1114.5 269.3h0M1116.5 270.2h0M1117.2 269.5h0M1118 270.2h0M1118.6 268.4h0M1119.5 270.2h0M1120.3 269.9h0M1121 270.2h0M1121.3 269.8h0M1122.5 270.2h0M1122.9 268.4h0M1124 270.2h0M1124.3 269.8h0M1123.7 268.3h0M1123.7 266.7h0M1125.5 270.2h0M1125.8 268.4h0M1125.9 264.7h0M1127 270.2h0M1127.3 268.5h0M1127.4 267.4h0M1128.5 270.2h0M1128.6 269.7h0M1128.9 268.5h0M1130 270.2h0M1129.7 269.1h0M1130.7 269h0M1131.5 270.2h0M1131.2 268.6h0M1133 270.2h0M1133.3 268.6h0M1134.5 270.2h0M1134.6 269.6h0M1136 270.2h0M1136.3 269.9h0M1137.5 270.2h0M1137.8 270h0M1137.5 263.9h0M1139 270.2h0M1139.6 269.1h0M1140.5 270.2h0M1140.6 269.4h0M1142 270.2h0M1142.3 269.5h0M1141.5 264.3h0M1143.5 270.2h0M1143.4 270h0M1144 266.6h0M1145 270.2h0M1145.6 270.1h0M1145.1 268.9h0M1146.5 270.2h0M1146.2 268.6h0M1145.8 266.7h0M1148 270.2h0M1148.1 269h0M1149.5 270.2h0M1149.3 269.6h0M1151 270.2h0M1150.8 269.3h0M1150.7 266.2h0M1152.5 270.2h0M1151.9 270h0M1151.9 268h0M1154 270.2h0M1154.7 268.7h0M1155.5 270.2h0M1156.2 268.4h0M1154.9 269h0M1157 270.2h0M1157.1 269.4h0M1158.5 270.2h0M1158.9 270.1h0M1160 270.2h0M1159.9 269.5h0M1161.5 270.2h0M1161.4 268.4h0M1162.3 268.5h0M1163 270.2h0M1163 269.5h0M1164.5 270.2h0M1164.3 269.9h0M1166 270.2h0M1165.4 269.8h0M1165.6 266.7h0M1167.5 270.2h0M1167.4 268.3h0M1169 270.2h0M1169.6 270.1h0M1169.7 268.2h0M1170.5 270.2h0M1170.4 269.1h0M1172 270.2h0M1171.6 269.7h0M1173.5 270.2h0M1173.5 269.5h0M1173.1 266.2h0M1175 270.2h0M1175 268.6h0M1176.5 270.2h0M1176.4 269.9h0M1178 270.2h0M1178.1 270.1h0M1178.4 267.7h0M1179.5 270.2h0M1179.7 270.1h0M1181 270.2h0M1181.1 270h0M1182.5 270.2h0M1182.6 270h0M1184 270.2h0M1183.6 268.9h0M1184.3 247.3h0M1185.5 270.2h0M1185.2 269.7h0M1184.8 268.6h0M1187 270.2h0M1186.9 269.5h0M1188.5 270.2h0M1187.7 269.2h0M1190 270.2h0M1190.2 269.3h0M1191.5 270.2h0M1190.8 269.9h0M1191.6 266.2h0M1193 270.2h0M1192.2 269h0M1194.5 270.2h0M1194.8 269.8h0M1194.7 267.4h0M1196 270.2h0M1196.4 270.1h0M1197.5 270.2h0M1197.3 268.5h0M1199 270.2h0M1198.4 269.3h0M1200.5 270.2h0M1200.7 269.6h0M1202 270.2h0M1202.7 269.2h0M1203.5 270.2h0M1203.5 269.8h0M1205 270.2h0M1204.3 269.1h0M1205 265.9h0M1206.5 270.2h0M1207 269.1h0M1208 270.2h0M1207.6 268.8h0M1209.5 270.2h0M1209.2 269.9h0M1209.1 268.4h0M1211 270.2h0M1210.4 268.7h0M1212.5 270.2h0M1211.8 268.9h0M1212.6 264.7h0M1214 270.2h0M1214.3 268.6h0M1215.5 270.2h0M1215.5 269.3h0M1217 270.2h0M1217.1 269.4h0M1218.5 270.2h0M1218.5 269.8h0M1220 270.2h0M1220.4 269.9h0M1221.5 270.2h0M1222.3 269h0M1223 270.2h0M1223.3 269.6h0M1222.4 268.1h0M1224.5 270.2h0M1224.4 268.6h0M1226 270.2h0M1226 269.5h0M1226.8 264.8h0M1227.5 270.2h0M1227 268.5h0M1229 270.2h0M1229.7 269h0M1229.1 268.5h0M1230.5 270.2h0M1230.8 269.1h0M1232 270.2h0M1231.3 268.6h0M1231.9 268h0M1233.5 270.2h0M1233.9 269.3h0M1235 270.2h0M1235.1 268.8h0M1236.5 270.2h0M1235.8 269.3h0M1237.2 266.5h0M1238 270.2h0M1237.8 269.3h0M1239.5 270.2h0M1239.7 270.1h0M1241 270.2h0M1240.9 268.3h0M1242.5 270.2h0M1243.1 270.2h0M1244 270.2h0M1244.3 269.3h0M1245.5 270.2h0M1245.3 269.8h0M1244.8 260.8h0M1247 270.2h0M1247.3 269.3h0M1246.2 266.3h0M1248.5 270.2h0M1249 269.7h0M1250 270.2h0M1250.1 269.8h0M1251.5 270.2h0M1251.6 269.3h0M1253 270.2h0M1253.3 269.6h0M1252.9 265.3h0M1254.5 270.2h0M1253.9 269.5h0M1254 268.5h0M1256 270.2h0M1255.4 270.2h0M1257.5 270.2h0M1258.1 269.5h0M1259 270.2h0M1258.2 269.7h0M1260.5 270.2h0M1259.9 268.3h0M1262 270.2h0M1262.6 268.4h0M1263.5 270.2h0M1263.4 269.5h0M1265 270.2h0M1264.8 270.1h0M1266.5 270.2h0M1266.8 268.3h0M1268 270.2h0M1268.5 268.3h0M1269.5 270.2h0M1268.7 268.9h0M1269.9 269h0M1271 270.2h0M1271.3 269.7h0M1271.2 254.4h0M1272.5 270.2h0M1273.2 268.6h0M1272.5 266h0M1274 270.2h0M1274.4 268.5h0M1274 265.9h0M1275.5 270.2h0M1275.7 269h0M1276 267.6h0M1277 270.2h0M1276.5 269h0M1278.5 270.2h0M1279.1 268.5h0M1280 270.2h0M1280.7 269.1h0M1279.8 266.8h0M1281.5 270.2h0M1280.7 269.3h0M1283 270.2h0M1283.6 269.2h0M1283 265.9h0M1284.5 270.2h0M1284 269.7h0M1286 270.2h0M1285.4 268.9h0M1287.5 270.2h0M1287.6 268.6h0M1289 270.2h0M1289.5 269.2h0M1289.5 269h0M1290.5 270.2h0M1289.9 268.4h0M1292 270.2h0M1292.5 269.7h0M1293.5 270.2h0M1294 268.3h0M1293.9 267.1h0M1292.7 266.4h0M1295 270.2h0M1294.5 269.8h0M1295.4 261.7h0M1296.5 270.2h0M1296.3 269.8h0M1298 270.2h0M1297.4 268.7h0M1299.5 270.2h0M1298.9 268.4h0M1299.8 268.8h0M1301 270.2h0M1300.6 268.7h0M1300.8 269h0M1301.2 261.4h0M1302.5 270.2h0M1301.9 269.2h0M1302.1 267.6h0M1304 270.2h0M1304.3 269h0M1303.4 267.7h0M1305.5 270.2h0M1305.2 269.7h0M1306.1 267.1h0M1305.6 264.8h0M1307 270.2h0M1306.5 269.8h0M1308.5 270.2h0M1308.5 270.1h0M1310 270.2h0M1309.8 268.2h0M1309.8 266.1h0M1311.5 270.2h0M1311.9 269.2h0M1310.9 264.8h0M1313 270.2h0M1313.2 268.5h0M1313.3 268.5h0M1314.5 270.2h0M1314.5 268.3h0M1314 268.4h0M1316 270.2h0M1315.9 269h0M1317.5 270.2h0M1317.3 269.9h0M1319 270.2h0M1318.4 269.1h0M1320.5 270.2h0M1320.8 268.7h0M1322 270.2h0M1322.8 269.1h0M1323.5 270.2h0M1323.7 269.4h0M1325 270.2h0M1324.6 269.9h0M1326.5 270.2h0M1327.2 269.9h0M1325.8 268h0M1328 270.2h0M1327.7 270h0M1329.5 270.2h0M1329.7 268.4h0M1330 266.6h0M1331 270.2h0M1330.8 269.7h0M1332.5 270.2h0M1332.3 269.7h0M1334 270.2h0M1333.6 268.7h0M1333.4 265.9h0M1335.5 270.2h0M1335.8 269.3h0M1337 270.2h0M1336.2 268.3h0M1338.5 270.2h0M1338.2 269h0M1340 270.2h0M1339.3 269.5h0M1341.5 270.2h0M1341.4 269.5h0M1343 270.2h0M1342.6 268.3h0M1344.5 270.2h0M1345.2 270.1h0M1346 270.2h0M1346 268.9h0M1346.7 265h0M1347.5 270.2h0M1347.7 268.5h0M1346.7 265.8h0M1349 270.2h0M1348.4 269.5h0M1349.2 263.6h0M1350.5 270.2h0M1350.2 268.7h0M1352 270.2h0M1352.3 268.7h0M1353.5 270.2h0M1353.4 268.4h0M1355 270.2h0M1354.3 270.1h0M1354.6 266.8h0M1356.5 270.2h0M1356.5 270h0M1357.3 268.6h0M1357.3 260.5h0M1358 270.2h0M1357.3 269.2h0M1359.5 270.2h0M1359 268.7h0M1361 270.2h0M1360.6 268.9h0M1362.5 270.2h0M1362 269.4h0M1364 270.2h0M1363.7 268.7h0M1363.4 267.3h0M1365.5 270.2h0M1366 268.8h0M1365.9 265.4h0M1367 270.2h0M1367.2 269.6h0M1366.3 267.6h0M1368.5 270.2h0M1368.1 268.8h0M1370 270.2h0M1370.4 270.1h0M1371.5 270.2h0M1370.7 270h0M1373 270.2h0M1372.4 268.4h0M1372.6 263.2h0M1374.5 270.2h0M1374.7 269.7h0M1374.9 266.5h0M1376 270.2h0M1376.8 270.1h0M1377.5 270.2h0M1377 269.5h0M1379 270.2h0M1378.2 269.4h0M1380.5 270.2h0M1380.6 269.8h0M1382 270.2h0M1382.5 269.3h0M1381.7 265h0M1383.5 270.2h0M1382.9 269.4h0M1385 270.2h0M1384.2 269.8h0M1386.5 270.2h0M1386.7 270h0M1385.7 267.5h0M1388 270.2h0M1387.7 269.1h0M1389.5 270.2h0M1389.7 270h0M1391 270.2h0M1391.6 268.4h0M1392.5 270.2h0M1392.7 268.4h0M1394 270.2h0M1393.3 269.6h0M1393.6 266.2h0M1395.5 270.2h0M1395.7 268.7h0M1397 270.2h0M1397.7 269.3h0M1397.3 268.8h0M1398.5 270.2h0M1397.8 268.3h0M1398.9 263.3h0M1400 270.2h0M1400.5 268.5h0M1401.5 270.2h0M1401.3 268.6h0M1401.6 266.7h0M1403 270.2h0M1403.4 269.6h0M1404.5 270.2h0M1403.8 268.6h0M1406 270.2h0M1405.7 269.2h0M1407.5 270.2h0M1406.9 270.2h0M1409 270.2h0M1408.8 268.4h0M1408.7 267.7h0M1410.5 270.2h0M1410 268.9h0M1412 270.2h0M1411.6 270.2h0M1413.5 270.2h0M1413.4 268.6h0M1415 270.2h0M1414.3 269.3h0M1416.5 270.2h0M1417.3 268.8h0M1417.2 267.2h0M1418 270.2h0M1417.4 269.3h0M1419.5 270.2h0M1418.8 268.6h0M1419.6 267.7h0M1421 270.2h0M1420.8 270h0M1422.5 270.2h0M1421.8 269.6h0M1423.3 269h0M1424 270.2h0M1424.7 268.3h0M1423.8 268h0M1425.5 270.2h0M1424.9 268.5h0M1427 270.2h0M1427 268.7h0M1428.5 270.2h0M1428.5 268.4h0M1428.9 266.5h0M1430 270.2h0M1429.7 268.7h0M1430.7 268.1h0M1431.5 270.2h0M1432 268.4h0M1433 270.2h0M1432.5 269.2h0M1434.5 270.2h0M1434.8 268.6h0M1434.3 265.5h0M1436 270.2h0M1436.5 269.1h0M1437.5 270.2h0M1437.3 269.1h0M1437.5 259.4h0M1439 270.2h0M1439 269.5h0M1440.5 270.2h0M1440.5 268.2h0M1440.7 268.7h0M1442 270.2h0M1442.7 270h0M1442.5 267.2h0M1443.5 270.2h0M1443.4 269.2h0M1443.9 267.3h0M1445 270.2h0M1445.4 268.3h0M1446.5 270.2h0M1445.9 269.6h0M1446.7 265.7h0M1448 270.2h0M1448.2 269.6h0M1449.5 270.2h0M1448.9 269.5h0M1449.3 266.8h0M1451 270.2h0M1451.3 270.2h0M1450.4 269h0M1452.5 270.2h0M1453.2 268.4h0M1452.4 264.9h0M1454 270.2h0M1454 268.8h0M1453.9 267.2h0M1455.5 270.2h0M1456.2 270.1h0M1457 270.2h0M1457.5 268.5h0M1457 268h0M1458.5 270.2h0M1458.1 268.2h0M1460 270.2h0M1459.4 268.7h0M1461.5 270.2h0M1461.6 269.5h0M1463 270.2h0M1462.4 270h0M1463.2 268.3h0M1463.3 261.9h0M1464.5 270.2h0M1464.7 269.2h0M1466 270.2h0M1465.5 268.7h0M1466.3 268.7h0M1467.5 270.2h0M1466.9 268.6h0M1469 270.2h0M1468.3 269.9h0M1470.5 270.2h0M1471.3 270.1h0M1470.9 268.8h0M1472 270.2h0M1471.6 269.2h0M1473.5 270.2h0M1473 269.4h0M1474.1 268.2h0M1475 270.2h0M1474.7 270h0M1476.5 270.2h0M1476.9 268.4h0M1478 270.2h0M1477.8 268.6h0M1479.5 270.2h0M1479.1 270.1h0M1481 270.2h0M1481.7 268.9h0M1482.5 270.2h0M1482.9 269.9h0M1484 270.2h0M1483.7 269h0M1483.5 267.5h0M1485.5 270.2h0M1485.4 269.3h0M1487 270.2h0M1487.5 268.3h0M1488.5 270.2h0M1488.5 269.9h0M1488.5 267.7h0M1490 270.2h0M1490 269.4h0M1489.5 264.6h0M1491.5 270.2h0M1491.7 268.9h0M1490.8 268h0M1493 270.2h0M1492.2 270h0M1493.1 267.9h0M1494.5 270.2h0M1494 268.6h0M1496 270.2h0M1496.5 268.8h0M1496 264.1h0M1497.5 270.2h0M1498.1 269.5h0M1499 270.2h0M1499.8 269.3h0M1500.5 270.2h0M1499.8 268.5h0M1502 270.2h0M1501.9 269.6h0M1503.5 270.2h0M1503.8 269.1h0M1505 270.2h0M1505.1 269h0M1505.2 263h0M1506.5 270.2h0M1506.4 268.8h0M1508 270.2h0M1507.5 269.5h0M1509.5 270.2h0M1508.9 269.5h0M1511 270.2h0M1510.9 269.1h0M1511.1 265.3h0M1512.5 270.2h0M1512.6 268.5h0M1512.5 266.2h0M1514 270.2h0M1514.2 269.9h0M1515.5 270.2h0M1515 269.1h0M1517 270.2h0M1516.9 269.8h0M1518.5 270.2h0M1518 268.7h0M1520 270.2h0M1519.4 270.2h0M1521.5 270.2h0M1521.3 268.3h0M1523 270.2h0M1523.2 269.3h0M1524.5 270.2h0M1524.5 269.1h0M1525.2 267.9h0M1526 270.2h0M1525.8 268.5h0M1527.5 270.2h0M1528 269.1h0M1527.7 264.7h0M1529 270.2h0M1529.4 269.3h0M1530.5 270.2h0M1530.3 268.4h0M1529.9 267.9h0M1532 270.2h0M1531.3 268.4h0M1533.5 270.2h0M1533.1 269.8h0M1535 270.2h0M1535 268.8h0M1535.6 264.9h0" stroke="#000" stroke-width="4" stroke-linecap="round" fill="none"/>
<path d="M999.7 247.4h0M999.7 253.2h0M1036 170.1h0M1036 182h0M1036 198.2h0M1037 207.9h0M1036 211h0M1037 215.4h0M1036 226.2h0M1036 231.6h0M1036 239.2h0M1036 247.8h0M1036 251h0M1035 256.5h0M1036 260.8h0M1041.4 209h0M1041.4 247.8h0M1041 244h0M1065.2 257.5h0M1060 262h0M1079 263h0M1121 251.9h0M1121 258.6h0M1120.6 252.1h0M1120.6 257.5h0M1150 253.2h0M1148 254h0M1150.4 253.2h0M1172 225h0M1172 250.3h0M1172.5 258.6h0M1175 255h0M1198 234.8h0M1198 252.8h0M1218.4 260h0M1237.6 232.7h0M1237.6 237h0M1237.6 241h0M1237.6 245.7h0M1237.6 256.5h0M1252.7 120.4h0M1252.7 128.6h0M1252.7 138.5h0M1252.7 157.5h0M1252.7 168.3h0M1253 176.6h0M1254 180h0M1253 183.3h0M1252 194h0M1251 196.8h0M1252 204.8h0M1252 212.9h0M1254 215.6h0M1249 221h0M1251 224h0M1254 226h0M1256 229h0M1250 231h0M1253 234h0M1257 236h0M1249 238h0M1252 240h0M1255 242h0M1258 244h0M1250 246h0M1253 248h0M1256 250h0M1248 252h0M1251 254h0M1254 256h0M1257 258h0M1250 260h0M1253 262h0M1256 264h0M1246 257h0M1259 261h0M1244 262h0M1268.8 173.3h0M1268.8 177.3h0M1268.8 199.9h0M1268.8 228.4h0M1268.8 247.4h0M1303.4 213.3h0M1308.8 220.2h0M1307.7 252h0M1306 256h0M1309 258h0M1320.7 255h0M1321 259h0M1380 257.5h0M1404.9 252h0M1426 138.2h0M1426 150.2h0M1426 173.3h0M1426.5 175.5h0M1426 185.2h0M1426 196.4h0M1426 202.5h0M1427 206.8h0M1423 209h0M1425 211h0M1428 214h0M1426 217h0M1424 219.8h0M1427 222h0M1426 226.2h0M1423 235h0M1426 238h0M1429 241h0M1422 244h0M1425 246h0M1428 249h0M1424 252h0M1427 254.3h0M1417.8 209h0M1420 230h0M1430 257h0M1436.2 220.8h0M1436.2 248.9h0M1455.6 66.5h0M1455.6 79.9h0M1455.6 89.8h0M1455.6 93h0M1455.6 104.7h0M1455.6 113.5h0M1455.6 120.9h0M1455.6 165.4h0M1455.6 174.4h0M1455.6 178.7h0M1455.6 193.9h0M1455.6 202h0M1455.6 209h0M1455.6 229.5h0M1455.6 240.3h0M1455 248h0M1456 252h0M1454 256h0M1457 259h0M1466.4 226.2h0M1466.4 243h0M1465 248h0M1467 252h0M1448 248h0M1449 252h0M1447 256h0M1451 259h0M1510.7 223.4h0M1510.7 231.2h0M1507.5 255.4h0M1509 259h0M1244.1 266.7h0M1256.7 222.9h0M1253.7 255.6h0M1258.9 261h0M1253.8 267.9h0M1247.5 250.3h0M1256.9 267.4h0M1251.9 245.8h0M1248.7 236.8h0M1251.2 260.3h0M1258 251.4h0M1246.5 244.7h0M1247.1 249.7h0M1243.6 267.6h0M1247.7 222.2h0M1244 228.7h0M1248.3 267.7h0M1251.9 229.7h0M1247.6 257.3h0M1245.9 267.1h0M1246.3 252.4h0M1256.7 225.6h0M1250.5 264.8h0M1244 237.7h0M1257.7 259.9h0M1243.4 250h0M1257.7 233.7h0M1255.4 255.3h0M1253.9 241.1h0M1247.7 239.6h0M1258.9 266.7h0M1258.3 249.5h0M1244.1 265.5h0M1245.8 240.1h0M1249.5 235.1h0M1251.5 234h0M1244.4 260.2h0M1249.7 259.3h0M1247.7 266.3h0M1251.3 253.3h0M1253.1 267.9h0M1243.8 267.9h0M1245.7 263.9h0M1256.1 235.2h0M1248.9 266.6h0M1256.5 256.7h0M1257.7 252.4h0M1247.4 255.9h0M1243.6 264.7h0M1253.3 254.6h0M1245.7 226.2h0M1246.3 256.7h0M1255.9 259.4h0M1250.4 258.7h0M1257.4 248.2h0M1250.9 224.1h0M1245.4 261.2h0M1250.7 266.1h0M1257.9 232.8h0M1244.9 230.2h0M1243.9 261h0M1253.4 254.6h0M1258.3 264.5h0M1244.1 265.9h0M1254.3 263h0M1253.2 226.4h0M1247.5 267.1h0M1247.2 237.3h0M1250.8 244h0M1256.1 252.3h0M1421.1 267.6h0M1413.2 246.1h0M1424.6 265.6h0M1426.8 255.8h0M1418 240.9h0M1415.9 240.2h0M1424 238.9h0M1426.9 267.8h0M1418.8 258.9h0M1420.2 242.8h0M1420.3 241.8h0M1426.1 248.1h0M1414.7 255.5h0M1429.8 240.3h0M1413.7 262.6h0M1424.6 267.7h0M1414.8 249.9h0M1423.8 264.1h0M1420.1 267.8h0M1417.5 260.5h0M1431.3 253.5h0M1424.5 264.4h0M1424 253.7h0M1431.3 262.2h0M1424.7 266.9h0M1422.9 268h0M1413.1 258.6h0M1417.9 267.8h0M1423.4 242.2h0M1424 239.3h0M1421.8 257.6h0M1426.4 242.2h0M1430.2 258h0M1427.9 267.6h0M1421.8 266h0M1427.8 267.2h0M1422.3 260.9h0M1419.6 267.4h0M1415.2 267.9h0M1416 244.6h0M1425.6 247.4h0M1420.1 245.2h0M1419.1 258.4h0M1424.4 234.5h0M1427.3 260.2h0M1422.4 267.1h0M1415.8 268h0M1418.7 267.6h0M1423.8 262.5h0M1414.6 266.6h0M1429 264.2h0M1430.7 246.4h0M1426.2 250h0M1429 240.6h0M1415.7 245.5h0M1454.7 255.9h0M1453.6 265.5h0M1454.7 265.9h0M1451.4 258.8h0M1468.6 251h0M1451.3 257.6h0M1467.2 260.7h0M1449.3 255.4h0M1463.6 261.6h0M1464.6 265.2h0M1451.4 264h0M1447.1 258.1h0M1462.9 265h0M1469 256.4h0M1449.6 250.7h0M1451.9 265.7h0M1456 256.5h0M1464.3 260.9h0M1468.5 262.4h0M1464.9 257.1h0M1451 262.6h0M1461.8 251.9h0M1455.7 251.2h0M1449.4 264.8h0M1458.6 259.4h0M1304.2 267.9h0M1311.7 266h0M1303 267.1h0M1304.5 267.2h0M1305.9 253h0M1306.2 259.8h0M1311.6 265.2h0M1311.9 255.3h0M1312.3 255.1h0M1302.8 254.4h0M1310.6 265.1h0M1311 265.6h0M1306.4 254.2h0M1306.5 255.2h0M1039.2 259.6h0M1039.6 249h0M1039.2 266.1h0M1039.3 256.6h0M1036.9 259.9h0M1037.9 264.9h0M1038.6 267.5h0M1039.9 268h0M1033.5 261.2h0M1040 259.8h0M1240.8 253.1h0M1237.2 262.1h0M1237.7 262.3h0M1235.1 266.2h0M1239.3 264.3h0M1239.6 256.2h0M1238.5 257.4h0M1236.8 259.9h0M1239.1 262.9h0M1238.6 267.8h0" stroke="#000" stroke-width="4" stroke-linecap="round" fill="none"/>
<path d="M946.4 339.6V619.4M1022.7 339.6V619.4M1099 339.6V619.4M1175.2 339.6V619.4M1251.6 339.6V619.4M1327.8 339.6V619.4M1404.2 339.6V619.4M1480.5 339.6V619.4M1556.8 339.6V619.4M876.5 574.5H1567.2M876.5 511H1567.2M876.5 447.4H1567.2M876.5 383.9H1567.2" stroke="#f7f7f7" stroke-width="1" fill="none"/><path d="M908.2 339.6V619.4M984.5 339.6V619.4M1060.8 339.6V619.4M1137.1 339.6V619.4M1213.4 339.6V619.4M1289.7 339.6V619.4M1366 339.6V619.4M1442.3 339.6V619.4M1518.6 339.6V619.4M876.5 606.3H1567.2M876.5 542.8H1567.2M876.5 479.2H1567.2M876.5 415.6H1567.2M876.5 352.1H1567.2" stroke="#eeeeee" stroke-width="1.7" fill="none"/><rect x="876.5" y="339.6" width="690.7" height="279.8" fill="none" stroke="#b4b4b4" stroke-width="1.8"/><text x="869.8" y="610.9" font-size="12.5" fill="#1a1a1a" text-anchor="end" stroke="#1a1a1a" stroke-width="0.35">0</text><text x="869.8" y="547.4" font-size="12.5" fill="#1a1a1a" text-anchor="end" stroke="#1a1a1a" stroke-width="0.35">50</text><text x="869.8" y="483.8" font-size="12.5" fill="#1a1a1a" text-anchor="end" stroke="#1a1a1a" stroke-width="0.35">100</text><text x="869.8" y="420.2" font-size="12.5" fill="#1a1a1a" text-anchor="end" stroke="#1a1a1a" stroke-width="0.35">150</text><text x="869.8" y="356.7" font-size="12.5" fill="#1a1a1a" text-anchor="end" stroke="#1a1a1a" stroke-width="0.35">200</text><text x="908.2" y="635.1" font-size="12.5" fill="#1a1a1a" text-anchor="middle" stroke="#1a1a1a" stroke-width="0.35">0</text><text x="984.5" y="635.1" font-size="12.5" fill="#1a1a1a" text-anchor="middle" stroke="#1a1a1a" stroke-width="0.35">10</text><text x="1060.8" y="635.1" font-size="12.5" fill="#1a1a1a" text-anchor="middle" stroke="#1a1a1a" stroke-width="0.35">20</text><text x="1137.1" y="635.1" font-size="12.5" fill="#1a1a1a" text-anchor="middle" stroke="#1a1a1a" stroke-width="0.35">30</text><text x="1213.4" y="635.1" font-size="12.5" fill="#1a1a1a" text-anchor="middle" stroke="#1a1a1a" stroke-width="0.35">40</text><text x="1289.7" y="635.1" font-size="12.5" fill="#1a1a1a" text-anchor="middle" stroke="#1a1a1a" stroke-width="0.35">50</text><text x="1366" y="635.1" font-size="12.5" fill="#1a1a1a" text-anchor="middle" stroke="#1a1a1a" stroke-width="0.35">60</text><text x="1442.3" y="635.1" font-size="12.5" fill="#1a1a1a" text-anchor="middle" stroke="#1a1a1a" stroke-width="0.35">70</text><text x="1518.6" y="635.1" font-size="12.5" fill="#1a1a1a" text-anchor="middle" stroke="#1a1a1a" stroke-width="0.35">80</text><path d="M873.5 606.3H876.5M873.5 542.8H876.5M873.5 479.2H876.5M873.5 415.6H876.5M873.5 352.1H876.5M908.2 619.4V622.4M984.5 619.4V622.4M1060.8 619.4V622.4M1137.1 619.4V622.4M1213.4 619.4V622.4M1289.7 619.4V622.4M1366 619.4V622.4M1442.3 619.4V622.4M1518.6 619.4V622.4" stroke="#333" stroke-width="1.2" fill="none"/><text x="1221.8" y="649.5" font-size="14" fill="#111" text-anchor="middle" textLength="222" lengthAdjust="spacingAndGlyphs" stroke="#111" stroke-width="0.35">Position on Z chromosome (Mb)</text>
<text x="902.2" y="380.3" font-size="18.5" fill="#000" textLength="478.5" lengthAdjust="spacingAndGlyphs" stroke="#000" stroke-width="0.45">Selective sweeps (rumpless males and normal males)</text>
<rect x="907.5" y="604.6" width="628" height="1.2" fill="#000"/><path d="M907.5 605.8h0M908.3 605.2h0M909 605.8h0M908.5 605.2h0M910.5 605.8h0M911 604.3h0M912 605.8h0M911.8 605.3h0M913.5 605.8h0M914 605.2h0M915 605.8h0M915.6 605.2h0M916.5 605.8h0M916.4 605.4h0M918 605.8h0M917.7 604.1h0M917.8 604.4h0M919.5 605.8h0M920 605.2h0M921 605.8h0M920.3 604.1h0M920.5 604.2h0M922.5 605.8h0M922.5 604h0M924 605.8h0M923.3 604.9h0M923.6 603.2h0M925.5 605.8h0M925.3 604.5h0M927 605.8h0M927.3 605h0M928.5 605.8h0M927.7 604.9h0M930 605.8h0M929.5 604.4h0M931.5 605.8h0M931.2 605.7h0M933 605.8h0M933.1 604.7h0M932.3 600.3h0M933.4 596.9h0M934.5 605.8h0M934.3 604.3h0M936 605.8h0M935.5 605h0M937.5 605.8h0M937.8 604.1h0M937.8 602.2h0M939 605.8h0M938.8 605.6h0M940.5 605.8h0M941.1 605.3h0M940.4 597.2h0M941.2 593.4h0M942 605.8h0M941.4 604.2h0M942.4 604.3h0M943.5 605.8h0M943.1 605.4h0M942.9 601.7h0M943.4 600.7h0M945 605.8h0M944.9 603.9h0M945.1 603.9h0M946.5 605.8h0M946.6 604h0M948 605.8h0M947.6 604.4h0M949.5 605.8h0M948.8 605.1h0M949.6 602.5h0M951 605.8h0M951.7 604h0M951.3 604.4h0M952.5 605.8h0M952.7 605.2h0M954 605.8h0M954.1 605h0M955.5 605.8h0M955.6 605.7h0M957 605.8h0M956.4 605.3h0M957.5 604.1h0M958.5 605.8h0M958 605.3h0M960 605.8h0M959.3 604.5h0M960.7 603.3h0M961.5 605.8h0M960.7 605.4h0M963 605.8h0M962.5 604.1h0M964.5 605.8h0M965.2 605.5h0M965.1 602.5h0M966 605.8h0M966 604.3h0M967.5 605.8h0M967.5 603.9h0M967.1 602.9h0M967.3 602.4h0M969 605.8h0M968.9 605.5h0M970.5 605.8h0M970.3 605.4h0M971 604.2h0M972 605.8h0M972.7 605h0M971.8 603.3h0M973.5 605.8h0M973.9 605.2h0M974.2 601.9h0M975 605.8h0M975.5 604.9h0M976.5 605.8h0M976.4 604.1h0M976.9 601.2h0M978 605.8h0M978.8 603.9h0M979.5 605.8h0M979.4 605.3h0M980.2 604.5h0M981 605.8h0M981.3 604.1h0M982.5 605.8h0M983.1 605.3h0M982.8 604.1h0M984 605.8h0M984.4 604.7h0M985.5 605.8h0M985.3 604.5h0M984.8 604.3h0M987 605.8h0M987.8 605.4h0M988.5 605.8h0M989.1 604.8h0M989.1 604.3h0M990 605.8h0M990.3 604.3h0M991.5 605.8h0M992.3 603.9h0M993 605.8h0M992.8 605.7h0M994.5 605.8h0M994.6 605.5h0M996 605.8h0M996 603.8h0M997.5 605.8h0M997.4 604.9h0M999 605.8h0M998.3 604.2h0M998.4 604.1h0M1000.5 605.8h0M1000.6 603.9h0M999.7 604.5h0M1002 605.8h0M1002.8 605.1h0M1003.5 605.8h0M1003.6 605.5h0M1003 604.5h0M1005 605.8h0M1004.7 605.7h0M1006.5 605.8h0M1006.4 604.9h0M1008 605.8h0M1007.3 605.5h0M1007.4 604.5h0M1009.5 605.8h0M1010 605.1h0M1011 605.8h0M1010.8 604h0M1012.5 605.8h0M1012.5 604.4h0M1014 605.8h0M1014.6 605.7h0M1015.5 605.8h0M1015.5 604.2h0M1014.9 604.2h0M1017 605.8h0M1017.5 605.7h0M1018.5 605.8h0M1018.4 604.3h0M1018 604.6h0M1020 605.8h0M1020.2 604.4h0M1021.5 605.8h0M1021.7 604.1h0M1021.4 604.6h0M1023 605.8h0M1022.4 605.5h0M1022.7 603.8h0M1024.5 605.8h0M1024.4 603.9h0M1026 605.8h0M1025.6 604.6h0M1027.5 605.8h0M1028.1 604.3h0M1028.1 603.9h0M1029 605.8h0M1029.6 605.6h0M1030.5 605.8h0M1029.8 604.2h0M1030.9 602.9h0M1032 605.8h0M1031.8 604.4h0M1032.1 604.1h0M1033.5 605.8h0M1033.6 605.5h0M1032.7 604.4h0M1035 605.8h0M1035.1 604.8h0M1036.5 605.8h0M1037.3 604h0M1038 605.8h0M1038.6 605.6h0M1037.6 604.2h0M1039.5 605.8h0M1039 604h0M1041 605.8h0M1040.9 603.9h0M1042.5 605.8h0M1042.6 604.2h0M1044 605.8h0M1044.1 604.6h0M1045.5 605.8h0M1045.5 604.1h0M1047 605.8h0M1047.8 603.9h0M1048.5 605.8h0M1048.1 604.6h0M1047.7 603.4h0M1050 605.8h0M1049.9 604.3h0M1049.3 602.6h0M1051.5 605.8h0M1051.1 605.4h0M1050.7 601h0M1053 605.8h0M1052.6 605.4h0M1053.5 601.1h0M1054.5 605.8h0M1054.5 604.5h0M1056 605.8h0M1056.6 604.1h0M1057.5 605.8h0M1057 605.2h0M1057.7 604.4h0M1059 605.8h0M1059.3 604.8h0M1060.5 605.8h0M1061 605.4h0M1062 605.8h0M1061.4 605.2h0M1061.4 604.3h0M1063.5 605.8h0M1064.2 604.9h0M1065 605.8h0M1065.8 605.6h0M1064.5 601h0M1066.5 605.8h0M1066.1 605.4h0M1068 605.8h0M1067.3 604.4h0M1069.5 605.8h0M1068.7 604.3h0M1071 605.8h0M1070.6 604.2h0M1072.5 605.8h0M1071.9 604.8h0M1074 605.8h0M1073.7 605.8h0M1075.5 605.8h0M1075.9 605.3h0M1077 605.8h0M1076.6 604.5h0M1076.4 602.8h0M1078.5 605.8h0M1078.9 604.5h0M1080 605.8h0M1080 605.5h0M1081.5 605.8h0M1081.5 604.9h0M1083 605.8h0M1082.6 605.5h0M1084.5 605.8h0M1084.7 605.2h0M1086 605.8h0M1085.4 604.5h0M1087.5 605.8h0M1086.7 604.4h0M1089 605.8h0M1089.6 604.2h0M1090.5 605.8h0M1091.1 605h0M1092 605.8h0M1092 605.6h0M1093.5 605.8h0M1093.9 604.9h0M1093.7 602.9h0M1095 605.8h0M1094.6 604.4h0M1095.1 603.4h0M1096.5 605.8h0M1096.8 603.8h0M1098 605.8h0M1097.6 605.3h0M1099.5 605.8h0M1100.3 605.6h0M1100 604.5h0M1101 605.8h0M1100.9 605.5h0M1101.8 601.8h0M1102.5 605.8h0M1101.9 605.7h0M1104 605.8h0M1104.2 604.4h0M1104.7 599.2h0M1105.5 605.8h0M1105.3 605.3h0M1104.7 604.1h0M1107 605.8h0M1107.7 604.4h0M1107.6 604.1h0M1108.5 605.8h0M1108.5 605h0M1110 605.8h0M1109.8 605.6h0M1111.5 605.8h0M1111.1 605.7h0M1111.4 604.2h0M1113 605.8h0M1112.7 605.8h0M1114.5 605.8h0M1114.8 604.4h0M1116 605.8h0M1115.6 605.5h0M1117.5 605.8h0M1116.7 605.5h0M1119 605.8h0M1118.7 604.9h0M1120.5 605.8h0M1120.6 604.7h0M1120.2 599.5h0M1122 605.8h0M1122.7 604.9h0M1123.5 605.8h0M1122.9 605h0M1125 605.8h0M1124.8 603.9h0M1125.5 602h0M1126.5 605.8h0M1127.2 605.5h0M1126.7 600.7h0M1126.2 601.6h0M1128 605.8h0M1128.7 605.5h0M1129.5 605.8h0M1129.7 605h0M1131 605.8h0M1130.8 604.2h0M1132.5 605.8h0M1131.9 605h0M1133.2 594.9h0M1134 605.8h0M1133.4 604.4h0M1133.6 602.9h0M1135.5 605.8h0M1134.9 605.6h0M1137 605.8h0M1137 604.3h0M1138.5 605.8h0M1138.2 604.8h0M1138.7 600.4h0M1140 605.8h0M1139.7 605.7h0M1139.8 604.3h0M1141.5 605.8h0M1141.4 605h0M1143 605.8h0M1142.5 605.7h0M1143.4 594.7h0M1144.5 605.8h0M1145.2 604.7h0M1146 605.8h0M1145.9 604.6h0M1147.5 605.8h0M1147 604.5h0M1149 605.8h0M1149.3 604.9h0M1150.5 605.8h0M1150.5 605.8h0M1152 605.8h0M1152 605.8h0M1151.5 593.3h0M1153.5 605.8h0M1153.5 605.3h0M1153.4 600.9h0M1155 605.8h0M1154.4 605.5h0M1155.3 603.6h0M1156.5 605.8h0M1156.8 604.7h0M1158 605.8h0M1157.9 604.8h0M1158.6 599.3h0M1157.5 597.5h0M1159.5 605.8h0M1159.9 604.2h0M1158.8 600.9h0M1161 605.8h0M1160.5 604.8h0M1162.5 605.8h0M1161.7 604.2h0M1164 605.8h0M1163.3 604.7h0M1165.5 605.8h0M1165.2 605.1h0M1167 605.8h0M1167.1 604h0M1166.7 602.6h0M1168.5 605.8h0M1168.5 604.7h0M1170 605.8h0M1170.5 604.6h0M1171.5 605.8h0M1171.6 604.6h0M1173 605.8h0M1172.9 605.1h0M1174.5 605.8h0M1174 605.3h0M1176 605.8h0M1176 605.2h0M1176.3 604h0M1177.5 605.8h0M1177.1 604.3h0M1179 605.8h0M1178.4 604.8h0M1180.5 605.8h0M1180.4 605.8h0M1182 605.8h0M1181.7 605.2h0M1183.5 605.8h0M1183.9 603.9h0M1185 605.8h0M1184.3 605.4h0M1184.4 598.9h0M1186.5 605.8h0M1186.8 604.5h0M1188 605.8h0M1187.5 605.4h0M1189.5 605.8h0M1190 605.1h0M1191 605.8h0M1190.6 605.6h0M1192.5 605.8h0M1192.7 604.8h0M1193 604.2h0M1194 605.8h0M1194.5 605.3h0M1195.5 605.8h0M1196 605.3h0M1197 605.8h0M1197.6 605.1h0M1197.4 604.3h0M1198.5 605.8h0M1197.8 604.2h0M1200 605.8h0M1200.5 605.7h0M1201.5 605.8h0M1201.7 603.9h0M1203 605.8h0M1203.3 604.8h0M1202.9 604.4h0M1204.5 605.8h0M1205 604.8h0M1206 605.8h0M1205.7 604.9h0M1207.5 605.8h0M1207.9 603.9h0M1209 605.8h0M1208.8 603.9h0M1209 601.8h0M1210.5 605.8h0M1210.9 605.2h0M1212 605.8h0M1212.1 604.2h0M1213.5 605.8h0M1213 605h0M1212.9 604.3h0M1215 605.8h0M1215.5 605.4h0M1216.5 605.8h0M1217.2 604.7h0M1217.3 604.5h0M1218 605.8h0M1218.2 604.3h0M1219.5 605.8h0M1219.2 605.6h0M1221 605.8h0M1221.7 604.2h0M1220.6 601.7h0M1222.5 605.8h0M1223.2 605.3h0M1224 605.8h0M1223.6 604.4h0M1225.5 605.8h0M1224.8 605.2h0M1226 603.8h0M1227 605.8h0M1226.8 605.5h0M1228.5 605.8h0M1228.4 604.6h0M1230 605.8h0M1229.3 605.6h0M1229.7 601h0M1231.5 605.8h0M1231.4 605.2h0M1233 605.8h0M1233.4 605.5h0M1232.9 604.2h0M1234.5 605.8h0M1235.2 604.8h0M1234.1 603.7h0M1236 605.8h0M1235.7 604.5h0M1237.5 605.8h0M1238.2 605h0M1239 605.8h0M1239 605.5h0M1239 603.4h0M1240.5 605.8h0M1240.4 605.3h0M1242 605.8h0M1242.4 604.6h0M1241.8 600.6h0M1243.5 605.8h0M1244.1 605.1h0M1245 605.8h0M1245.1 605.5h0M1245.2 600.3h0M1246.5 605.8h0M1246.4 605h0M1248 605.8h0M1247.6 605.2h0M1249.5 605.8h0M1249 604.8h0M1251 605.8h0M1251.1 605.1h0M1252.5 605.8h0M1253.2 604h0M1254 605.8h0M1254.5 604.9h0M1255.5 605.8h0M1255.2 604.1h0M1257 605.8h0M1256.6 603.9h0M1258.5 605.8h0M1257.8 605.8h0M1259 603.4h0M1260 605.8h0M1259.7 605.6h0M1259.6 604.1h0M1261.5 605.8h0M1261.9 604.4h0M1262.1 604h0M1263 605.8h0M1262.3 605.5h0M1264.5 605.8h0M1264.2 605.3h0M1263.9 596.9h0M1266 605.8h0M1265.3 604.5h0M1265.8 603.9h0M1267.5 605.8h0M1267 604.6h0M1269 605.8h0M1268.6 603.9h0M1269.3 602.3h0M1270.5 605.8h0M1270.9 604.7h0M1272 605.8h0M1271.5 605.4h0M1271.9 603.9h0M1273.5 605.8h0M1272.8 605.7h0M1275 605.8h0M1274.2 603.9h0M1275 601.1h0M1276.5 605.8h0M1276.9 604.9h0M1278 605.8h0M1277.6 604.7h0M1279.5 605.8h0M1279.1 603.9h0M1281 605.8h0M1281.3 604.7h0M1282.5 605.8h0M1282.7 605.5h0M1282.5 604.4h0M1284 605.8h0M1283.7 605.5h0M1283.4 600.8h0M1285.5 605.8h0M1285.2 604.5h0M1287 605.8h0M1287.4 604.9h0M1286.6 601.2h0M1288.5 605.8h0M1289.1 604.2h0M1290 605.8h0M1289.6 605.4h0M1290.3 603.8h0M1291.5 605.8h0M1291.3 603.9h0M1293 605.8h0M1292.6 605.1h0M1293.4 601.4h0M1294.5 605.8h0M1294 604h0M1296 605.8h0M1295.6 604.8h0M1297.5 605.8h0M1297.7 604.8h0M1299 605.8h0M1298.5 604.7h0M1300.5 605.8h0M1299.7 604.4h0M1302 605.8h0M1302 604.7h0M1303.5 605.8h0M1303.1 605.7h0M1305 605.8h0M1305.1 605.4h0M1306.5 605.8h0M1305.8 605.6h0M1308 605.8h0M1308 604.2h0M1307.6 603.9h0M1309.5 605.8h0M1309.5 604.8h0M1308.8 601h0M1311 605.8h0M1310.3 604.7h0M1312.5 605.8h0M1312.1 603.8h0M1314 605.8h0M1314.2 605.2h0M1314.5 602.2h0M1315.5 605.8h0M1315.1 605.8h0M1317 605.8h0M1316.8 603.9h0M1318.5 605.8h0M1318.4 605h0M1318.4 601.1h0M1320 605.8h0M1319.8 605.1h0M1319.6 604.6h0M1321.5 605.8h0M1321.1 604.1h0M1323 605.8h0M1322.8 605.1h0M1324.5 605.8h0M1325.1 604.6h0M1326 605.8h0M1325.5 605.3h0M1327.5 605.8h0M1326.7 605.7h0M1327.7 602.7h0M1329 605.8h0M1328.5 605h0M1330.5 605.8h0M1330.6 605.7h0M1330.3 604.4h0M1332 605.8h0M1332.4 604.6h0M1331.3 603.8h0M1333.5 605.8h0M1334.2 604.5h0M1333.7 603.9h0M1335 605.8h0M1334.7 605.1h0M1335.5 603.4h0M1336.5 605.8h0M1337 604.9h0M1338 605.8h0M1337.2 605.2h0M1339.5 605.8h0M1340.1 604.1h0M1341 605.8h0M1340.8 605.7h0M1342.5 605.8h0M1343.2 604.6h0M1342.3 604.3h0M1344 605.8h0M1343.3 605.2h0M1345.5 605.8h0M1344.8 604.9h0M1346.2 601.9h0M1347 605.8h0M1347.4 605.4h0M1348.5 605.8h0M1348.5 604.3h0M1348.8 601.9h0M1350 605.8h0M1349.8 605.2h0M1351.5 605.8h0M1351.1 604.7h0M1353 605.8h0M1352.6 604.6h0M1354.5 605.8h0M1354.5 604.8h0M1353.9 599.5h0M1356 605.8h0M1356.1 604.4h0M1357.5 605.8h0M1357.1 604.6h0M1359 605.8h0M1358.2 604.1h0M1358.7 604h0M1360.5 605.8h0M1360.3 604.4h0M1362 605.8h0M1362.6 604.1h0M1363.5 605.8h0M1363.7 605.3h0M1365 605.8h0M1365.8 605.5h0M1366.5 605.8h0M1367.1 605.6h0M1368 605.8h0M1368.3 605.3h0M1368.7 597.4h0M1369.5 605.8h0M1370 604.1h0M1371 605.8h0M1370.9 605.1h0M1372.5 605.8h0M1373.3 603.9h0M1374 605.8h0M1374.4 604.4h0M1375.5 605.8h0M1375.9 605.5h0M1377 605.8h0M1376.5 605.3h0M1378.5 605.8h0M1378.8 603.8h0M1380 605.8h0M1380 604.1h0M1380 604.5h0M1381.5 605.8h0M1381.2 603.9h0M1381.4 604.3h0M1383 605.8h0M1382.5 605.7h0M1384.5 605.8h0M1384 604.1h0M1383.8 599.1h0M1386 605.8h0M1386.6 604.9h0M1386.3 603.4h0M1387.5 605.8h0M1386.7 605.6h0M1389 605.8h0M1389.2 605.1h0M1390.5 605.8h0M1389.7 604.6h0M1391.1 604.4h0M1392 605.8h0M1391.9 604.2h0M1393.5 605.8h0M1393.1 605.4h0M1395 605.8h0M1394.2 603.9h0M1394.4 604h0M1396.5 605.8h0M1395.8 604.4h0M1397.1 601.9h0M1398 605.8h0M1398.3 605.4h0M1399.5 605.8h0M1400 604.3h0M1399.5 604.5h0M1401 605.8h0M1400.5 603.9h0M1401.7 603.5h0M1402.5 605.8h0M1402.9 604.2h0M1402.3 603.4h0M1404 605.8h0M1403.5 605.4h0M1405.5 605.8h0M1404.9 605.6h0M1407 605.8h0M1407.6 605.2h0M1406.2 604.5h0M1408.5 605.8h0M1408.1 605.4h0M1407.8 604.2h0M1410 605.8h0M1410.7 604h0M1409.9 601.4h0M1411.5 605.8h0M1411.3 605h0M1413 605.8h0M1413.7 605.5h0M1413.2 601.1h0M1414.5 605.8h0M1414.2 604.3h0M1415.1 603.5h0M1416 605.8h0M1415.9 604.9h0M1415.8 603h0M1417.5 605.8h0M1417.4 604.4h0M1419 605.8h0M1418.4 604h0M1418.7 604.1h0M1420.5 605.8h0M1420.2 604.5h0M1420.8 603.7h0M1422 605.8h0M1422.1 604.4h0M1423.5 605.8h0M1423 603.9h0M1425 605.8h0M1424.6 604.3h0M1426.5 605.8h0M1426.9 605.4h0M1428 605.8h0M1428.7 605.6h0M1429.5 605.8h0M1430.3 603.9h0M1431 605.8h0M1431.4 604.7h0M1432.5 605.8h0M1433 604.3h0M1431.9 604.3h0M1434 605.8h0M1433.6 604h0M1435.5 605.8h0M1435.8 605h0M1437 605.8h0M1437.2 604.3h0M1438.5 605.8h0M1438.6 603.8h0M1438.7 604.2h0M1440 605.8h0M1440.1 604.3h0M1439.7 604.3h0M1441.5 605.8h0M1441.9 604h0M1443 605.8h0M1443 605.4h0M1444.5 605.8h0M1444 604.9h0M1446 605.8h0M1446.6 605.6h0M1447.5 605.8h0M1447.3 605.3h0M1449 605.8h0M1448.2 605.1h0M1449.8 603.2h0M1450.5 605.8h0M1450.7 605.4h0M1452 605.8h0M1452.4 605.5h0M1452.4 603.5h0M1453.5 605.8h0M1453.4 604.6h0M1455 605.8h0M1455.4 605.1h0M1456.5 605.8h0M1456.8 603.9h0M1458 605.8h0M1457.6 604.7h0M1458.1 604.4h0M1459.5 605.8h0M1458.9 604.9h0M1461 605.8h0M1461.3 604.8h0M1462.5 605.8h0M1462.4 605.6h0M1463.1 599.3h0M1462.8 594.9h0M1464 605.8h0M1463.4 604.9h0M1465.5 605.8h0M1465.4 605.5h0M1467 605.8h0M1466.9 605.4h0M1466.6 602.4h0M1468.5 605.8h0M1468 604.5h0M1470 605.8h0M1469.9 605.2h0M1471.5 605.8h0M1471.8 604.3h0M1472 602.4h0M1473 605.8h0M1473.5 605.6h0M1473.4 601.1h0M1474.5 605.8h0M1475.1 604.5h0M1476 605.8h0M1476 604.3h0M1476 603.6h0M1477.5 605.8h0M1478.1 604.5h0M1479 605.8h0M1479.2 604.4h0M1480.5 605.8h0M1480 605.6h0M1480.2 599.6h0M1482 605.8h0M1482.5 605.5h0M1483.5 605.8h0M1482.8 605h0M1485 605.8h0M1485.2 605.7h0M1486.5 605.8h0M1486 605.7h0M1486.7 602.2h0M1488 605.8h0M1487.9 604.6h0M1487.6 604.1h0M1489.5 605.8h0M1489.7 604.8h0M1489.1 603.9h0M1491 605.8h0M1491.6 604.5h0M1490.3 604.4h0M1491.4 602.6h0M1492.5 605.8h0M1492.6 605.5h0M1494 605.8h0M1494.2 604h0M1495.5 605.8h0M1495.4 605.2h0M1495.3 603.3h0M1497 605.8h0M1496.8 605.3h0M1498.5 605.8h0M1497.9 605h0M1498.7 603.8h0M1500 605.8h0M1500.3 605.6h0M1500.2 600h0M1501.5 605.8h0M1502.2 605h0M1503 605.8h0M1503.6 604.9h0M1503.8 604.4h0M1504.5 605.8h0M1503.9 604.7h0M1506 605.8h0M1505.2 604.6h0M1507.5 605.8h0M1507.2 605.3h0M1509 605.8h0M1509.3 605.6h0M1509.2 602.4h0M1510.5 605.8h0M1509.7 604h0M1512 605.8h0M1511.9 605.5h0M1512.1 603.6h0M1513.5 605.8h0M1513.2 604.3h0M1515 605.8h0M1514.5 603.8h0M1516.5 605.8h0M1516 605.6h0M1518 605.8h0M1517.6 604h0M1519.5 605.8h0M1519.5 605.4h0M1519.5 604.5h0M1521 605.8h0M1520.4 604.5h0M1520.6 601.1h0M1522.5 605.8h0M1522.2 605.7h0M1524 605.8h0M1524.6 604h0M1525.5 605.8h0M1525.9 604.1h0M1525.3 604.3h0M1527 605.8h0M1527.8 605.8h0M1526.8 603.9h0M1528.5 605.8h0M1528.7 604.5h0M1530 605.8h0M1529.3 604h0M1529.9 599.9h0M1531.5 605.8h0M1531.2 605.5h0M1533 605.8h0M1532.6 604.8h0M1533.4 603.6h0M1534.5 605.8h0M1534.3 603.9h0" stroke="#000" stroke-width="4" stroke-linecap="round" fill="none"/>
<path d="M930 595h0M997.2 567.4h0M997.2 569.5h0M997.2 582h0M1034.3 517.3h0M1034.3 524.6h0M1034.3 543.6h0M1034.3 546.9h0M1034.3 551.2h0M1034.3 556.6h0M1034.3 560.9h0M1034.3 566.3h0M1034.3 576.4h0M1034.3 589h0M1034.3 593.7h0M1039.2 580h0M1039.2 596h0M1078.8 594h0M1091.2 550.5h0M1091.2 554.3h0M1091.2 576.5h0M1099.7 585.4h0M1103 594.4h0M1117 595h0M1120 583.5h0M1120 585.4h0M1117 593h0M1150.5 572.7h0M1150.5 588.6h0M1160 598h0M1170.8 554.3h0M1170.8 578.4h0M1190 599h0M1199 598h0M1254.6 498.8h0M1254.6 504.8h0M1253 507h0M1254.6 509.2h0M1254.6 521.9h0M1255 528.3h0M1251 533.1h0M1256 558h0M1254 561h0M1252 563.2h0M1255 572.7h0M1246 569h0M1248 573h0M1250 576h0M1253 579h0M1256 582h0M1249 585h0M1252 588h0M1255 591h0M1258 594h0M1247 597h0M1250 599h0M1253 600.6h0M1244 598h0M1268.6 585.4h0M1268.9 585.4h0M1266 598h0M1308.2 535.1h0M1308 548.7h0M1309 552h0M1308.2 555.2h0M1303 568.2h0M1305 572.5h0M1306 577.9h0M1302.3 583.3h0M1306.6 590.8h0M1304 596h0M1307 599h0M1319.6 576.4h0M1319.6 584.4h0M1319.6 594h0M1318 598h0M1388.7 595h0M1425.4 446.8h0M1425.4 455.5h0M1425.4 458h0M1425.4 482.2h0M1425.4 490.4h0M1415 523.9h0M1416 528h0M1418 533.6h0M1425 523.9h0M1426 528h0M1427 533h0M1424 538h0M1426 543h0M1425 548.7h0M1424 560.6h0M1426 564h0M1423 568.2h0M1420 570.3h0M1423 573h0M1426 576h0M1429 579h0M1418 582h0M1421 585h0M1424 588h0M1427 591h0M1430 594h0M1417 596h0M1420 598.4h0M1423 600h0M1413 590h0M1414 600h0M1430.8 600h0M1453.4 594h0M1465.3 578.3h0M1508.5 525.6h0M1508.5 544h0M1508.5 577.5h0M1508.5 598.4h0M1526.8 590.8h0M1250 591.8h0M1254.2 592.6h0M1256.1 573.7h0M1257.2 597.2h0M1248 573.5h0M1247.6 603.4h0M1251.1 596.1h0M1256.8 588.4h0M1254.7 579.3h0M1255.9 598.6h0M1245.2 573.6h0M1255.9 601.9h0M1245.4 583h0M1256.3 591.6h0M1247.6 596.9h0M1246.3 587.2h0M1248.5 584.7h0M1248.9 588.5h0M1257.9 584.8h0M1247.9 588.1h0M1256.3 600.2h0M1250.4 588.2h0M1249.1 591.9h0M1248.4 597.8h0M1254.8 602h0M1249.7 590.3h0M1244.1 603.9h0M1255.5 603.7h0M1256.7 574.6h0M1245.8 580.3h0M1259.9 604h0M1251.4 592.4h0M1247 590h0M1257.7 595h0M1254 567.2h0M1253.6 603.8h0M1255.6 569.4h0M1247.3 577.3h0M1246.1 575.2h0M1253.1 599.2h0M1251.1 578.4h0M1259.5 591.9h0M1248.9 566h0M1250.4 602.1h0M1254 590.1h0M1252.6 569.1h0M1249.9 601.4h0M1254.2 594.2h0M1246.3 597.6h0M1255 574.6h0M1259.6 578.4h0M1257 590.8h0M1255.7 567.4h0M1259.9 596.5h0M1247.1 601.8h0M1413.4 603.9h0M1422.2 587h0M1423 579.5h0M1419.2 584.6h0M1415.8 573h0M1422 567.3h0M1415.5 583.5h0M1418.6 561.4h0M1419.7 581.9h0M1419.9 574.6h0M1419.3 596h0M1417.5 570.2h0M1428.2 600h0M1423.6 567.7h0M1421.6 572.4h0M1413.5 595.9h0M1422.8 603.6h0M1416.1 602.2h0M1423.8 602.5h0M1412.9 574.3h0M1428 587.1h0M1412.7 591.8h0M1431.1 602.6h0M1412.3 598h0M1419 565.4h0M1417.1 593.5h0M1428.4 603.3h0M1425.7 561.8h0M1418.4 597.2h0M1413.6 577h0M1429.7 593.8h0M1429 583.5h0M1427 601.7h0M1424.3 585.4h0M1414.2 583.5h0M1426.6 586.8h0M1425.8 573.2h0M1420.7 590.2h0M1426.1 563.9h0M1412.7 560.2h0M1417.2 564.4h0M1421.3 580.9h0M1419 601.5h0M1412.7 593.9h0M1416.7 603.8h0M1415.8 591.9h0M1422.2 583.8h0M1426.8 598.3h0M1413.6 564.5h0M1412.1 601.4h0M1420.7 593.9h0M1416.7 604h0M1412.4 567.3h0M1428.9 600.8h0M1424 603.8h0M1430.2 576.7h0M1414.1 590.4h0M1426 604h0M1422.1 589.9h0M1414.4 601.7h0M1303.5 603.6h0M1317.5 575.9h0M1315.5 581.9h0M1316.1 595h0M1305.9 592.2h0M1308.1 590.3h0M1304.7 582.9h0M1318.7 577.7h0M1320.8 595.7h0M1321.9 601.9h0M1312.5 598.8h0M1318.4 597.8h0M1310.8 602.7h0M1304.1 578.3h0M1322 602.5h0M1320.4 586.6h0M1305 583.7h0M1319.4 580.2h0M1306.4 585.7h0M1310.5 588.9h0M1319.5 593.5h0M1313.7 599.4h0M1038.8 598.2h0M1037.2 596h0M1034.5 587.3h0M1030.5 603.6h0M1036.6 591.3h0M1034.1 600.5h0M1036.3 601.9h0M1039.4 588.6h0" stroke="#000" stroke-width="4" stroke-linecap="round" fill="none"/>
<path d="M875.7 705.3V927.9M875.7 705.3H868.9M875.7 749.8H868.9M875.7 794.3H868.9M875.7 838.9H868.9M875.7 883.4H868.9M875.7 927.9H868.9" stroke="#808080" stroke-width="1.9" fill="none"/><text x="850.5" y="710.2" font-size="10.8" fill="#333" text-anchor="middle" textLength="22" lengthAdjust="spacingAndGlyphs">0.25</text><text x="850.5" y="754.7" font-size="10.8" fill="#333" text-anchor="middle" textLength="22" lengthAdjust="spacingAndGlyphs">0.20</text><text x="850.5" y="799.2" font-size="10.8" fill="#333" text-anchor="middle" textLength="22" lengthAdjust="spacingAndGlyphs">0.15</text><text x="850.5" y="843.7" font-size="10.8" fill="#333" text-anchor="middle" textLength="22" lengthAdjust="spacingAndGlyphs">0.10</text><text x="850.5" y="888.3" font-size="10.8" fill="#333" text-anchor="middle" textLength="22" lengthAdjust="spacingAndGlyphs">0.05</text><text x="850.5" y="932.8" font-size="10.8" fill="#333" text-anchor="middle" textLength="22" lengthAdjust="spacingAndGlyphs">0.00</text>
<path d="M900 927.6H1529.2M900 927.6V934.1M1057.3 927.6V934.1M1214.6 927.6V934.1M1371.9 927.6V934.1M1529.2 927.6V934.1" stroke="#808080" stroke-width="1.9" fill="none"/><text x="900" y="952" font-size="12.8" fill="#2a2a2a" text-anchor="middle" stroke="#2a2a2a" stroke-width="0.3">0</text><text x="1057.3" y="952" font-size="12.8" fill="#2a2a2a" text-anchor="middle" stroke="#2a2a2a" stroke-width="0.3">20</text><text x="1214.6" y="952" font-size="12.8" fill="#2a2a2a" text-anchor="middle" stroke="#2a2a2a" stroke-width="0.3">40</text><text x="1371.9" y="952" font-size="12.8" fill="#2a2a2a" text-anchor="middle" stroke="#2a2a2a" stroke-width="0.3">60</text><text x="1529.2" y="952" font-size="12.8" fill="#2a2a2a" text-anchor="middle" stroke="#2a2a2a" stroke-width="0.3">80</text>
<text x="904" y="731.6" font-size="19" fill="#000" textLength="367.5" lengthAdjust="spacingAndGlyphs" stroke="#000" stroke-width="0.45">Fst (Rumpless females vs. Normal males)</text>
<polygon points="897,885.3 898.3,883.9 899.6,883.6 900.9,887.1 902.2,883.9 903.5,881.6 904.8,878.3 906.1,874.9 907.4,881.4 908.7,887.7 910,887.4 911.3,890.2 912.6,888.4 913.9,890.9 915.2,890.4 916.5,892.9 917.8,891.9 919.1,887.8 920.4,887.6 921.7,886.2 923,882.1 924.3,880.6 925.6,879.1 926.9,879.6 928.2,876.1 929.5,874.1 930.8,878.7 932.1,873 933.4,871.8 934.7,873.3 936,873.7 937.3,870.8 938.6,877.9 939.9,886.1 941.2,879.8 942.5,882.3 943.8,879.8 945.1,885.3 946.4,889.3 947.7,889.9 949,885 950.3,887 951.6,888.1 952.9,890.2 954.2,887.8 955.5,882.4 956.8,876.6 958.1,878.7 959.4,884.3 960.7,881.9 962,879.7 963.3,883.5 964.6,877.8 965.9,887.3 967.2,886.2 968.5,887.3 969.8,889.9 971.1,888.9 972.4,884.2 973.7,885 975,883.6 976.3,874.3 977.6,876.9 978.9,876 980.2,868.5 981.5,875.5 982.8,876.5 984.1,875.4 985.4,874.9 986.7,877.1 988,873.9 989.3,876 990.6,880.7 991.9,885.3 993.2,880.8 994.5,876.7 995.8,881.7 997.1,876.1 998.4,878.7 999.7,875.5 1001,876.1 1002.3,869.6 1003.6,867.1 1004.9,869.8 1006.2,866.2 1007.5,863.9 1008.8,871.8 1010.1,871.4 1011.4,861.2 1012.7,866.5 1014,875 1015.3,874.7 1016.6,874.3 1017.9,876.6 1019.2,879.3 1020.5,883.3 1021.8,881.5 1023.1,883.9 1024.4,881.9 1025.7,876.8 1027,881.7 1028.3,878.1 1029.6,879.6 1030.9,884.7 1032.2,879.6 1033.5,880.6 1034.8,878.5 1036.1,883.6 1037.4,875.9 1038.7,877.7 1040,883.4 1041.3,879.2 1042.6,874.4 1043.9,871.3 1045.2,876.4 1046.5,874.6 1047.8,874.8 1049.1,876.3 1050.4,875.5 1051.7,874 1053,875.3 1054.3,880 1055.6,880.7 1056.9,884.4 1058.2,884.2 1059.5,878.9 1060.8,874.9 1062.1,884 1063.4,880.6 1064.7,876.9 1066,878.3 1067.3,876.1 1068.6,869.2 1069.9,873.7 1071.2,881.4 1072.5,870.1 1073.8,876.7 1075.1,873.9 1076.4,874.3 1077.7,874.8 1079,869.5 1080.3,870.5 1081.6,875.8 1082.9,880 1084.2,880.3 1085.5,879.6 1086.8,884.8 1088.1,884.2 1089.4,888.5 1090.7,888.8 1092,884.6 1093.3,886 1094.6,877.9 1095.9,880.2 1097.2,877.5 1098.5,873.5 1099.8,878.4 1101.1,875.2 1102.4,868.4 1103.7,860.7 1105,866.9 1106.3,874.3 1107.6,878 1108.9,881.8 1110.2,873.8 1111.5,882.8 1112.8,880.6 1114.1,884.9 1115.4,878.7 1116.7,873.1 1118,868.8 1119.3,869 1120.6,868.4 1121.9,874.3 1123.2,865.7 1124.5,875.1 1125.8,871.2 1127.1,868.6 1128.4,868 1129.7,866.9 1131,860.1 1132.3,867.8 1133.6,861.8 1134.9,869.4 1136.2,870.2 1137.5,874.1 1138.8,870.9 1140.1,864.4 1141.4,871.3 1142.7,869.8 1144,864.8 1145.3,871.8 1146.6,870.8 1147.9,870.7 1149.2,874.7 1150.5,873.3 1151.8,866.7 1153.1,873.5 1154.4,875.3 1155.7,879.7 1157,875.2 1158.3,879.1 1159.6,874.7 1160.9,874.7 1162.2,879.3 1163.5,881.7 1164.8,883.7 1166.1,880.4 1167.4,883.6 1168.7,879.6 1170,877.9 1171.3,877.1 1172.6,878.8 1173.9,881.5 1175.2,876.7 1176.5,878.2 1177.8,871.6 1179.1,875.7 1180.4,880.7 1181.7,882.6 1183,877.8 1184.3,874.5 1185.6,873.1 1186.9,870.6 1188.2,871.7 1189.5,877.6 1190.8,876.8 1192.1,878.1 1193.4,875.7 1194.7,880.6 1196,871.9 1197.3,873.8 1198.6,881.9 1199.9,878.2 1201.2,879.5 1202.5,871.1 1203.8,877.7 1205.1,884.5 1206.4,878.4 1207.7,880.5 1209,882.1 1210.3,883.7 1211.6,882.7 1212.9,885.9 1214.2,885.1 1215.5,878.5 1216.8,882.8 1218.1,885.9 1219.4,884.2 1220.7,886.6 1222,892.6 1223.3,888.8 1224.6,887.4 1225.9,887.8 1227.2,886.4 1228.5,886.5 1229.8,887.2 1231.1,886.1 1232.4,884.6 1233.7,888.1 1235,890.4 1236.3,892.1 1237.6,891.5 1238.9,893.5 1240.2,887 1241.5,888.5 1242.8,895 1244.1,889.7 1245.4,888.6 1246.7,892 1248,890.5 1249.3,890.4 1250.6,886.6 1251.9,880.8 1253.2,885.6 1254.5,885.7 1255.8,888.8 1257.1,885.9 1258.4,889.8 1259.7,883.4 1261,884.9 1262.3,889.9 1263.6,894.4 1264.9,894.7 1266.2,889.7 1267.5,897.9 1268.8,900 1270.1,898.3 1271.4,898.6 1272.7,895.5 1274,895 1275.3,895.8 1276.6,896.7 1277.9,893.2 1279.2,893.6 1280.5,890.8 1281.8,886.6 1283.1,885.1 1284.4,890.1 1285.7,887 1287,886.8 1288.3,886.6 1289.6,880.7 1290.9,887.6 1292.2,894.5 1293.5,894.1 1294.8,893.7 1296.1,895.4 1297.4,892.9 1298.7,890.8 1300,894.9 1301.3,895.5 1302.6,892.1 1303.9,896.9 1305.2,894.7 1306.5,896.2 1307.8,893.6 1309.1,895.2 1310.4,896 1311.7,891.8 1313,889.3 1314.3,892 1315.6,893.3 1316.9,886.4 1318.2,884.2 1319.5,887.5 1320.8,881.3 1322.1,879.1 1323.4,879.9 1324.7,880.4 1326,884.4 1327.3,888.3 1328.6,883.8 1329.9,883.4 1331.2,888.2 1332.5,879 1333.8,887.6 1335.1,879.5 1336.4,872.6 1337.7,874.1 1339,871.1 1340.3,865.9 1341.6,863.4 1342.9,868.7 1344.2,866.7 1345.5,873 1346.8,875.3 1348.1,878.8 1349.4,877.3 1350.7,881.7 1352,879.5 1353.3,884.8 1354.6,881.5 1355.9,883.4 1357.2,882.5 1358.5,883 1359.8,877 1361.1,873.8 1362.4,879.2 1363.7,884.8 1365,876 1366.3,880.1 1367.6,881.2 1368.9,879.4 1370.2,874.4 1371.5,873.7 1372.8,866.1 1374.1,866.6 1375.4,872.7 1376.7,878.2 1378,879 1379.3,875.9 1380.6,873.5 1381.9,872.6 1383.2,869.9 1384.5,872.7 1385.8,875.8 1387.1,875.8 1388.4,885.8 1389.7,882.7 1391,882.7 1392.3,880.1 1393.6,873.4 1394.9,871.8 1396.2,877 1397.5,878.1 1398.8,881.3 1400.1,874.9 1401.4,873.4 1402.7,873.3 1404,868.8 1405.3,872.1 1406.6,878.5 1407.9,877.6 1409.2,881.9 1410.5,880.2 1411.8,882 1413.1,880.9 1414.4,877.9 1415.7,873.7 1417,882.5 1418.3,877.1 1419.6,864.7 1420.9,859.1 1422.2,869 1423.5,862.1 1424.8,862.6 1426.1,864.1 1427.4,867.9 1428.7,869.8 1430,876.1 1431.3,868.2 1432.6,861.1 1433.9,860.7 1435.2,860.7 1436.5,855.6 1437.8,857.6 1439.1,867.2 1440.4,860.1 1441.7,852.1 1443,853 1444.3,851.3 1445.6,855.9 1446.9,853.7 1448.2,860.8 1449.5,861.7 1450.8,869.7 1452.1,864 1453.4,874.7 1454.7,869.9 1456,862.7 1457.3,857 1458.6,852.6 1459.9,859.3 1461.2,873.4 1462.5,861.2 1463.8,852.6 1465.1,857.5 1466.4,855.3 1467.7,858.2 1469,860.4 1470.3,867.9 1471.6,864.7 1472.9,863.2 1474.2,865.8 1475.5,873 1476.8,874.7 1478.1,891.6 1479.4,901.1 1480.7,900.2 1482,899.6 1483.3,899.2 1484.6,900 1485.9,900.5 1487.2,900.6 1488.5,898.9 1489.8,901 1491.1,899.7 1492.4,899.5 1493.7,899.8 1495,900.8 1496.3,901.4 1497.6,899.1 1498.9,900.9 1500.2,900.6 1501.5,900.1 1502.8,900.8 1504.1,899.5 1505.4,897.6 1506.7,898.5 1508,900.2 1509.3,899.6 1510.6,896.7 1511.9,898.1 1513.2,900.5 1514.5,894.9 1515.8,892.9 1517.1,883.9 1518.4,874.4 1519.7,875.3 1521,873.2 1522.3,874 1523.6,873 1524.9,873.9 1526.2,883.4 1527.5,885.4 1528.8,889.3 1530.1,896.4 1531.4,900.8 1532.7,895.9 1534,895.9 1535.3,891.2 1536.6,888.5 1537.9,887 1539.2,885.2 1540.5,890.6 1541.8,888.1 1543.1,892.9 1544.4,898.6 1545.7,900.2 1547,904.7 1547,916.9 1545.7,915.2 1544.4,914 1543.1,913.1 1541.8,912.2 1540.5,912 1539.2,913.1 1537.9,912.6 1536.6,912.9 1535.3,913.2 1534,914.2 1532.7,912.5 1531.4,910.3 1530.1,912.7 1528.8,910.4 1527.5,908.3 1526.2,904.3 1524.9,907.5 1523.6,908.6 1522.3,915 1521,908.5 1519.7,909.9 1518.4,911.5 1517.1,913.5 1515.8,910.2 1514.5,912.5 1513.2,912.1 1511.9,915.3 1510.6,913.2 1509.3,913.6 1508,915.6 1506.7,914.8 1505.4,911.3 1504.1,912.8 1502.8,913 1501.5,910.7 1500.2,911 1498.9,912.7 1497.6,914.3 1496.3,911.8 1495,912.5 1493.7,912.1 1492.4,909.7 1491.1,910.4 1489.8,910.4 1488.5,911.9 1487.2,912.9 1485.9,913.7 1484.6,912.4 1483.3,912.3 1482,912.7 1480.7,911.8 1479.4,912.3 1478.1,908.8 1476.8,907.6 1475.5,903.7 1474.2,902.8 1472.9,898 1471.6,897.2 1470.3,900.8 1469,895.7 1467.7,906.3 1466.4,905.4 1465.1,909.9 1463.8,901.9 1462.5,891.6 1461.2,898.1 1459.9,900.2 1458.6,902.9 1457.3,910.7 1456,907.2 1454.7,904.4 1453.4,902.6 1452.1,910 1450.8,910.4 1449.5,909.2 1448.2,910.4 1446.9,906.7 1445.6,904.6 1444.3,896.9 1443,904.8 1441.7,913.2 1440.4,913.4 1439.1,912.6 1437.8,901.3 1436.5,895.6 1435.2,904.4 1433.9,905.1 1432.6,898.5 1431.3,910.3 1430,905.8 1428.7,904 1427.4,906.8 1426.1,906 1424.8,912.2 1423.5,912.1 1422.2,913.7 1420.9,907.4 1419.6,912.5 1418.3,910 1417,911.3 1415.7,908.7 1414.4,911 1413.1,912.2 1411.8,911.8 1410.5,910.1 1409.2,907.6 1407.9,905.7 1406.6,907.1 1405.3,907.6 1404,900.8 1402.7,901.8 1401.4,903.6 1400.1,903.4 1398.8,907.9 1397.5,908.2 1396.2,905.1 1394.9,908.3 1393.6,908.8 1392.3,909.4 1391,909.7 1389.7,907 1388.4,910.4 1387.1,906.1 1385.8,908.2 1384.5,906.7 1383.2,904.9 1381.9,903.3 1380.6,902.3 1379.3,904.6 1378,906.3 1376.7,904.1 1375.4,903.1 1374.1,898.5 1372.8,898.9 1371.5,902.2 1370.2,900 1368.9,899.5 1367.6,905 1366.3,900.7 1365,903.3 1363.7,904.3 1362.4,904.7 1361.1,901.7 1359.8,903.4 1358.5,908.7 1357.2,907.8 1355.9,903.8 1354.6,906.4 1353.3,909.1 1352,907.3 1350.7,905.4 1349.4,906.1 1348.1,907.2 1346.8,907.7 1345.5,898.8 1344.2,903.6 1342.9,905.1 1341.6,904.3 1340.3,898.3 1339,900.5 1337.7,903.3 1336.4,909 1335.1,905.9 1333.8,910.5 1332.5,911.7 1331.2,911.3 1329.9,904 1328.6,905.8 1327.3,905.3 1326,910.7 1324.7,914.8 1323.4,913.7 1322.1,910.1 1320.8,907.7 1319.5,907.2 1318.2,907.5 1316.9,910.9 1315.6,911.5 1314.3,913 1313,911.1 1311.7,912.7 1310.4,910.9 1309.1,910.3 1307.8,911.6 1306.5,910.6 1305.2,911.4 1303.9,910.4 1302.6,911.7 1301.3,912.1 1300,910.8 1298.7,913 1297.4,912.9 1296.1,912 1294.8,910 1293.5,911.3 1292.2,912.7 1290.9,909.3 1289.6,907.8 1288.3,910 1287,907 1285.7,902.7 1284.4,901.9 1283.1,902 1281.8,907.9 1280.5,913.1 1279.2,909 1277.9,910.3 1276.6,910.8 1275.3,912.4 1274,911.7 1272.7,913.1 1271.4,910.5 1270.1,911.4 1268.8,913.5 1267.5,914 1266.2,910 1264.9,908.4 1263.6,911.6 1262.3,911.9 1261,912.8 1259.7,911.9 1258.4,912.8 1257.1,913.5 1255.8,910.1 1254.5,908.9 1253.2,908.3 1251.9,910.8 1250.6,906.6 1249.3,911.3 1248,908.7 1246.7,907.5 1245.4,908.4 1244.1,909 1242.8,907.7 1241.5,911.6 1240.2,912.4 1238.9,910.8 1237.6,911.9 1236.3,913.3 1235,912.7 1233.7,912 1232.4,912.4 1231.1,913.2 1229.8,912.4 1228.5,911.6 1227.2,910.2 1225.9,912.6 1224.6,913.7 1223.3,911.9 1222,910.9 1220.7,912.4 1219.4,910.4 1218.1,909.6 1216.8,906.3 1215.5,912.1 1214.2,911.2 1212.9,908.2 1211.6,910.1 1210.3,912.5 1209,911.8 1207.7,908.3 1206.4,903.3 1205.1,905.9 1203.8,906.9 1202.5,906.8 1201.2,905.6 1199.9,908.9 1198.6,909.7 1197.3,907.2 1196,907.8 1194.7,907.3 1193.4,907.5 1192.1,904.6 1190.8,904.4 1189.5,899.4 1188.2,900.5 1186.9,908.3 1185.6,905.6 1184.3,902.8 1183,907.2 1181.7,908.7 1180.4,903.9 1179.1,908 1177.8,909.2 1176.5,906.1 1175.2,907.5 1173.9,906.5 1172.6,908.1 1171.3,909.2 1170,909.8 1168.7,907.2 1167.4,906.8 1166.1,906.3 1164.8,906.6 1163.5,903.1 1162.2,902.9 1160.9,905 1159.6,905.3 1158.3,903.5 1157,906.7 1155.7,904.4 1154.4,900.7 1153.1,900.6 1151.8,900.9 1150.5,901.5 1149.2,906.3 1147.9,907.2 1146.6,908 1145.3,908 1144,901.9 1142.7,904.6 1141.4,902.6 1140.1,901.2 1138.8,896.7 1137.5,896.9 1136.2,899.1 1134.9,899.3 1133.6,894 1132.3,899.2 1131,903.7 1129.7,904.2 1128.4,912.7 1127.1,912 1125.8,912.3 1124.5,914.4 1123.2,914 1121.9,908.4 1120.6,908.5 1119.3,907.2 1118,910.4 1116.7,912.5 1115.4,910.6 1114.1,916 1112.8,913.9 1111.5,910.4 1110.2,910.4 1108.9,911.2 1107.6,909.2 1106.3,902.8 1105,898.6 1103.7,903.2 1102.4,902.1 1101.1,904.4 1099.8,905.7 1098.5,906.1 1097.2,910.6 1095.9,908.1 1094.6,908.2 1093.3,907.8 1092,908 1090.7,908.3 1089.4,905.6 1088.1,904.9 1086.8,903.5 1085.5,902.4 1084.2,906.8 1082.9,905.5 1081.6,905.4 1080.3,904.5 1079,904.8 1077.7,907.9 1076.4,908 1075.1,903.1 1073.8,902.7 1072.5,902.4 1071.2,904.6 1069.9,905.4 1068.6,909.4 1067.3,909.7 1066,907 1064.7,909.2 1063.4,908.7 1062.1,907.6 1060.8,910.6 1059.5,907.5 1058.2,910.2 1056.9,905.4 1055.6,906.2 1054.3,909.6 1053,908.1 1051.7,907 1050.4,909.2 1049.1,907.9 1047.8,909.5 1046.5,908.5 1045.2,906.6 1043.9,907.1 1042.6,908.2 1041.3,905.3 1040,903.1 1038.7,904.1 1037.4,902.3 1036.1,901.7 1034.8,905.1 1033.5,904.8 1032.2,906.4 1030.9,909.2 1029.6,908.4 1028.3,909.8 1027,902.9 1025.7,901.4 1024.4,900.6 1023.1,906.2 1021.8,906.7 1020.5,906.9 1019.2,906.1 1017.9,910.9 1016.6,911.4 1015.3,910.9 1014,909.9 1012.7,903.9 1011.4,906.2 1010.1,907.7 1008.8,908.4 1007.5,902.7 1006.2,908.9 1004.9,907.3 1003.6,906.9 1002.3,909.6 1001,911.3 999.7,908.4 998.4,907.9 997.1,908.7 995.8,911.3 994.5,909 993.2,910.8 991.9,907.5 990.6,910.3 989.3,910.1 988,908.1 986.7,902.4 985.4,902.2 984.1,905.2 982.8,904.8 981.5,907.2 980.2,911.5 978.9,913.9 977.6,909.2 976.3,905 975,907.8 973.7,903.9 972.4,907.9 971.1,909.3 969.8,911 968.5,907.6 967.2,908.7 965.9,907.4 964.6,909.1 963.3,911.7 962,913.1 960.7,913.6 959.4,913.5 958.1,914.8 956.8,915.3 955.5,914.2 954.2,914.6 952.9,914 951.6,912.6 950.3,907.6 949,909.8 947.7,910.7 946.4,912.3 945.1,914.6 943.8,913 942.5,909 941.2,908.6 939.9,903.5 938.6,903.6 937.3,900.9 936,902.8 934.7,902.4 933.4,902.2 932.1,904.6 930.8,901.6 929.5,901.8 928.2,904.7 926.9,903.9 925.6,907.9 924.3,907.2 923,906.8 921.7,907.4 920.4,907.9 919.1,906.6 917.8,906.5 916.5,906.5 915.2,907.1 913.9,908.2 912.6,905.9 911.3,905.7 910,906 908.7,905 907.4,903.6 906.1,903.3 904.8,903.1 903.5,903.3 902.2,903.2 900.9,902.6 899.6,904.9 898.3,900.6 897,902.3" fill="#000"/><path d="M897 885.3h0M897 902.3h0M897.4 883.1h0M898.3 883.9h0M898.3 900.6h0M898.3 903h0M898.4 869.6h0M899.6 883.6h0M899.6 904.9h0M899.9 867.8h0M899.1 870.9h0M900.9 887.1h0M900.9 902.6h0M900.9 884.7h0M901 879.9h0M901.5 863.5h0M902.2 883.9h0M902.2 903.2h0M902.2 883.1h0M903.5 881.6h0M903.5 903.3h0M903.6 876.8h0M903.7 874.4h0M903 876.4h0M904.8 878.3h0M904.8 903.1h0M905.4 876.3h0M906.1 874.9h0M906.1 903.3h0M906.6 871.2h0M907.4 881.4h0M907.4 903.6h0M907.5 879.9h0M908.7 887.7h0M908.7 905h0M909 885.3h0M908.9 882.9h0M908.5 884.3h0M910 887.4h0M910 906h0M909.7 885h0M909.6 887.2h0M911.3 890.2h0M911.3 905.7h0M911.4 878.6h0M912.6 888.4h0M912.6 905.9h0M912 888.4h0M913.9 890.9h0M913.9 908.2h0M913.9 886.1h0M913.8 884.8h0M915.2 890.4h0M915.2 907.1h0M915.2 888h0M915.2 881.3h0M916.5 892.9h0M916.5 906.5h0M916.8 891.9h0M917.8 891.9h0M917.8 906.5h0M917.6 889.5h0M917.4 884.7h0M918 882.3h0M917.8 875.5h0M919.1 887.8h0M919.1 906.6h0M919.2 885.4h0M919.2 884.8h0M920.4 887.6h0M920.4 907.9h0M920.9 887.6h0M921.7 886.2h0M921.7 907.4h0M922 884.7h0M923 882.1h0M923 906.8h0M923.3 877.3h0M923.2 874.9h0M922.6 874.5h0M924.3 880.6h0M924.3 907.2h0M924 878.2h0M924.9 879.7h0M925.6 879.1h0M925.6 907.9h0M926 874.3h0M925.9 871.9h0M925.8 867.9h0M926.9 879.6h0M926.9 903.9h0M927.1 877.2h0M928.2 876.1h0M928.2 904.7h0M928.6 873.7h0M927.8 870.8h0M929.5 874.1h0M929.5 901.8h0M929.8 866.9h0M929.5 864.1h0M930.8 878.7h0M930.8 901.6h0M930.9 876.3h0M930.6 871.4h0M932.1 873h0M932.1 904.6h0M931.6 873h0M933.4 871.8h0M933.4 902.2h0M933 869.4h0M932.9 867h0M933.5 860.9h0M934.7 873.3h0M934.7 902.4h0M934.7 857.6h0M936 873.7h0M936 902.8h0M936 858.9h0M937.3 870.8h0M937.3 900.9h0M937.1 868.4h0M937.6 866h0M937.5 857.8h0M938.6 877.9h0M938.6 903.6h0M938.2 875.5h0M938.3 873.1h0M938.9 870.7h0M938.4 858.7h0M938.2 877.4h0M939.9 886.1h0M939.9 903.5h0M940 878.9h0M940.1 874.1h0M939.8 871.7h0M940.1 862.1h0M940.1 868.7h0M941.2 879.8h0M941.2 908.6h0M941.4 877.4h0M941.4 867.7h0M942.5 882.3h0M942.5 909h0M942.8 879.9h0M942.5 877.5h0M942.1 878.6h0M943.8 879.8h0M943.8 913h0M943.6 872.2h0M945.1 885.3h0M945.1 914.6h0M944.9 882.9h0M945 880.5h0M945.1 878.1h0M944.5 877.1h0M946.4 889.3h0M946.4 912.3h0M946.7 886.9h0M946.1 884.5h0M946.6 882.1h0M946.5 879.7h0M946.4 889.3h0M947.7 889.9h0M947.7 910.7h0M947.3 887.5h0M948.1 882.7h0M947.4 880.3h0M947.9 873.9h0M949 885h0M949 909.8h0M948.6 882.6h0M949.4 879h0M950.3 887h0M950.3 907.6h0M950.5 882.2h0M950 868.6h0M951.6 888.1h0M951.6 912.6h0M951.5 885.7h0M951.9 880.9h0M952 887.7h0M952.9 890.2h0M952.9 914h0M953 885.4h0M953 883h0M952.7 880.6h0M953.3 875.8h0M953 873.4h0M953.4 875.9h0M954.2 887.8h0M954.2 914.6h0M953.8 885.4h0M954.3 878.2h0M953.9 881.8h0M955.5 882.4h0M955.5 914.2h0M955.5 880h0M955.8 877.6h0M955.1 875.2h0M955.4 872.8h0M955.5 864.3h0M956.8 876.6h0M956.8 915.3h0M957.1 873.5h0M958.1 878.7h0M958.1 914.8h0M958.5 873.9h0M958.1 872.1h0M958 871.5h0M959.4 884.3h0M959.4 913.5h0M959.4 880.1h0M960.7 881.9h0M960.7 913.6h0M961 879.5h0M960.9 874.7h0M960.6 875h0M962 879.7h0M962 913.1h0M962.3 877.3h0M961.5 865.9h0M963.3 883.5h0M963.3 911.7h0M963.4 877.7h0M964.6 877.8h0M964.6 909.1h0M964.3 875.4h0M964.4 873h0M964.2 872.5h0M965.9 887.3h0M965.9 907.4h0M965.7 884.9h0M965.5 882.5h0M966.2 885.6h0M967.2 886.2h0M967.2 908.7h0M967.5 872.2h0M968.5 887.3h0M968.5 907.6h0M968.2 876.5h0M968 883.5h0M969.8 889.9h0M969.8 911h0M969.8 885.1h0M970 880.3h0M969.9 881.4h0M971.1 888.9h0M971.1 909.3h0M971.4 875.5h0M972.4 884.2h0M972.4 907.9h0M972.6 882.7h0M973.7 885h0M973.7 903.9h0M974 906.3h0M974 908.7h0M973.7 883.2h0M973.3 883.8h0M975 883.6h0M975 907.8h0M975.2 910.2h0M974.5 870.6h0M976.3 874.3h0M976.3 905h0M976.5 871.9h0M976.1 869.5h0M975.9 907.4h0M976.4 909.8h0M976.2 871.4h0M977.6 876.9h0M977.6 909.2h0M977.8 864.9h0M977.9 911.6h0M978.1 875.8h0M978.9 876h0M978.9 913.9h0M979.1 873.6h0M979.1 871.2h0M978.6 868.8h0M978.7 866.4h0M978.8 864.8h0M980.2 868.5h0M980.2 911.5h0M979.8 866.1h0M979.7 866.5h0M981.5 875.5h0M981.5 907.2h0M981.8 850.7h0M982.8 876.5h0M982.8 904.8h0M982.9 853.2h0M984.1 875.4h0M984.1 905.2h0M984.7 858.1h0M985.4 874.9h0M985.4 902.2h0M985.6 904.6h0M985.8 907h0M985.4 909.4h0M985.3 867.3h0M986.7 877.1h0M986.7 902.4h0M986.2 853.3h0M988 873.9h0M988 908.1h0M987.6 853.1h0M989.3 876h0M989.3 910.1h0M989.1 873.6h0M989.3 871.2h0M989.2 864h0M989.7 861.6h0M988.9 854h0M990.6 880.7h0M990.6 910.3h0M990.9 878.3h0M990.6 875.9h0M990.8 873.5h0M990.6 868.7h0M990.3 866.3h0M990.9 863.9h0M991 861.5h0M990.2 868.9h0M991.9 885.3h0M991.9 907.5h0M992.2 880.5h0M992 875.7h0M992.2 870.9h0M991.6 862.4h0M993.2 880.8h0M993.2 910.8h0M993.5 876h0M993.3 873.6h0M992.8 875.8h0M994.5 876.7h0M994.5 909h0M994.8 874.3h0M994.7 866.4h0M994.3 864.3h0M995.8 881.7h0M995.8 911.3h0M995.4 879.3h0M995.9 876.9h0M996.3 878.4h0M997.1 876.1h0M997.1 908.7h0M996.9 869.8h0M998.4 878.7h0M998.4 907.9h0M998.3 874.9h0M999.7 875.5h0M999.7 908.4h0M999.1 866.1h0M1001 876.1h0M1001 911.3h0M1001.2 875.8h0M1002.3 869.6h0M1002.3 909.6h0M1001.8 861.9h0M1003.6 867.1h0M1003.6 906.9h0M1003.4 864.7h0M1003.8 862.3h0M1003.4 859.2h0M1004.9 869.8h0M1004.9 907.3h0M1005.4 868.8h0M1006.2 866.2h0M1006.2 908.9h0M1005.7 865.3h0M1007.5 863.9h0M1007.5 902.7h0M1007.5 855h0M1008.8 871.8h0M1008.8 908.4h0M1009.1 867h0M1009.1 869.7h0M1010.1 871.4h0M1010.1 907.7h0M1010.4 869h0M1010.5 864.2h0M1010.3 869.1h0M1011.4 861.2h0M1011.4 906.2h0M1010.9 860.5h0M1012.7 866.5h0M1012.7 903.9h0M1013.1 864.1h0M1012.9 861.7h0M1012.8 864.8h0M1014 875h0M1014 909.9h0M1014.4 864.6h0M1015.3 874.7h0M1015.3 910.9h0M1015.5 869.9h0M1015.7 867.5h0M1015.7 858.6h0M1016.6 874.3h0M1016.6 911.4h0M1016.4 868.7h0M1017.9 876.6h0M1017.9 910.9h0M1017.4 875.3h0M1019.2 879.3h0M1019.2 906.1h0M1019.1 876.9h0M1018.8 872.1h0M1019.3 869.7h0M1018.8 867.3h0M1018.7 870h0M1020.5 883.3h0M1020.5 906.9h0M1020.5 880.9h0M1020.3 878.5h0M1020.6 873.7h0M1020.4 909.3h0M1020.5 863h0M1021.8 881.5h0M1021.8 906.7h0M1021.7 879.1h0M1021.8 874.3h0M1021.6 871.9h0M1022.2 877.4h0M1023.1 883.9h0M1023.1 906.2h0M1023.4 908.6h0M1022.9 855.1h0M1024.4 881.9h0M1024.4 900.6h0M1024.2 879.5h0M1024.3 877.1h0M1024.5 874.7h0M1024.6 872.3h0M1024.6 869.9h0M1024.5 903h0M1024.7 880.7h0M1025.7 876.8h0M1025.7 901.4h0M1025.7 869.6h0M1025.6 867.2h0M1025.5 864.8h0M1025.6 903.8h0M1025.9 861.1h0M1027 881.7h0M1027 902.9h0M1026.9 876.9h0M1027.1 877.7h0M1028.3 878.1h0M1028.3 909.8h0M1028.4 870.9h0M1028.4 869.6h0M1029.6 879.6h0M1029.6 908.4h0M1029.8 877.2h0M1029.8 872.4h0M1029.8 870h0M1029.8 867.6h0M1029.3 865.2h0M1030 860.4h0M1029.3 855.6h0M1029.8 869.4h0M1030.9 884.7h0M1030.9 909.2h0M1030.8 882.3h0M1030.8 879.9h0M1030.7 854.3h0M1032.2 879.6h0M1032.2 906.4h0M1032.8 874.5h0M1033.5 880.6h0M1033.5 904.8h0M1033.4 875.8h0M1033.2 873.4h0M1033.4 871h0M1033.4 868.6h0M1033.7 857.1h0M1034.8 878.5h0M1034.8 905.1h0M1034.5 871.3h0M1034.6 868.9h0M1035 878h0M1036.1 883.6h0M1036.1 901.7h0M1035.9 881.2h0M1035.8 876.4h0M1036.3 874h0M1036 871.6h0M1036.4 904.1h0M1035.8 882.9h0M1037.4 875.9h0M1037.4 902.3h0M1037.1 860.5h0M1038.7 877.7h0M1038.7 904.1h0M1039 865.8h0M1040 883.4h0M1040 903.1h0M1040.3 871.4h0M1040.2 866.6h0M1040.4 853.3h0M1041.3 879.2h0M1041.3 905.3h0M1041.5 874.4h0M1041 867.2h0M1041.7 864.8h0M1041.4 860h0M1041 857.6h0M1040.9 852.8h0M1041.9 867.9h0M1042.6 874.4h0M1042.6 908.2h0M1042.6 872h0M1043 866.8h0M1043.9 871.3h0M1043.9 907.1h0M1043.8 868.6h0M1045.2 876.4h0M1045.2 906.6h0M1045 874h0M1045.1 871.6h0M1045 909h0M1045.6 869.8h0M1046.5 874.6h0M1046.5 908.5h0M1046.3 862.4h0M1047.8 874.8h0M1047.8 909.5h0M1048 868.2h0M1047.5 866.4h0M1049.1 876.3h0M1049.1 907.9h0M1048.5 868.7h0M1050.4 875.5h0M1050.4 909.2h0M1050.3 858.9h0M1051.7 874h0M1051.7 907h0M1051.4 871.6h0M1051.6 866.8h0M1052.1 869.3h0M1053 875.3h0M1053 908.1h0M1053 870.5h0M1053.2 865.7h0M1052.8 863.3h0M1053.5 867.1h0M1054.3 880h0M1054.3 909.6h0M1054.3 872.8h0M1054.2 870.4h0M1054.5 868h0M1053.9 879.8h0M1054.4 870h0M1055.6 880.7h0M1055.6 906.2h0M1055.3 878.3h0M1055.3 873.5h0M1055.4 880.3h0M1056.9 884.4h0M1056.9 905.4h0M1056.6 907.8h0M1056.7 880.7h0M1058.2 884.2h0M1058.2 910.2h0M1057.6 879.9h0M1059.5 878.9h0M1059.5 907.5h0M1059.8 871.7h0M1059.7 864.9h0M1060.8 874.9h0M1060.8 910.6h0M1060.8 872.5h0M1060.9 870.1h0M1060.9 871.5h0M1062.1 884h0M1062.1 907.6h0M1062.2 866.1h0M1063.4 880.6h0M1063.4 908.7h0M1063.3 878.2h0M1063.7 878.9h0M1063.7 857.3h0M1064.7 876.9h0M1064.7 909.2h0M1064.7 872.1h0M1065.1 860.4h0M1066 878.3h0M1066 907h0M1066.3 873.5h0M1066.1 871.1h0M1066.2 875.1h0M1065.6 863h0M1067.3 876.1h0M1067.3 909.7h0M1067.4 873.7h0M1067.1 866.4h0M1068.6 869.2h0M1068.6 909.4h0M1068.8 862h0M1068.6 859.6h0M1068.4 855.3h0M1069.9 873.7h0M1069.9 905.4h0M1069.4 858.1h0M1071.2 881.4h0M1071.2 904.6h0M1071.4 876.6h0M1071.4 855.1h0M1072.5 870.1h0M1072.5 902.4h0M1072.4 867.7h0M1072.3 866.5h0M1072.6 869.2h0M1073.8 876.7h0M1073.8 902.7h0M1074.2 864.3h0M1075.1 873.9h0M1075.1 903.1h0M1074.7 866.1h0M1076.4 874.3h0M1076.4 908h0M1075.8 867.3h0M1077.7 874.8h0M1077.7 907.9h0M1077.5 872.4h0M1077.4 870h0M1077.5 858.4h0M1079 869.5h0M1079 904.8h0M1079 867.1h0M1079 907.2h0M1079.5 856.6h0M1080.3 870.5h0M1080.3 904.5h0M1080.1 868.1h0M1080.3 865.7h0M1080.6 857.7h0M1081.6 875.8h0M1081.6 905.4h0M1081.6 861.1h0M1082.9 880h0M1082.9 905.5h0M1083 877.6h0M1083.3 866.3h0M1084.2 880.3h0M1084.2 906.8h0M1083.8 877.8h0M1085.5 879.6h0M1085.5 902.4h0M1085.2 904.8h0M1085.6 874.4h0M1086.8 884.8h0M1086.8 903.5h0M1086.9 878.4h0M1088.1 884.2h0M1088.1 904.9h0M1088.4 883.8h0M1089.4 888.5h0M1089.4 905.6h0M1089.4 887.7h0M1090.7 888.8h0M1090.7 908.3h0M1091 879.1h0M1092 884.6h0M1092 908h0M1092.2 879.7h0M1093.3 886h0M1093.3 907.8h0M1093 875.8h0M1093.6 872.2h0M1094.6 877.9h0M1094.6 908.2h0M1094.9 875.5h0M1094 865h0M1095.9 880.2h0M1095.9 908.1h0M1096.2 859.7h0M1096.1 877.5h0M1097.2 877.5h0M1097.2 910.6h0M1097.2 875.1h0M1097.1 872.7h0M1097.4 870.3h0M1097.5 865.5h0M1097.6 863.1h0M1097.2 873.2h0M1098.5 873.5h0M1098.5 906.1h0M1098.7 871.1h0M1098.6 863.9h0M1098.1 859.1h0M1098.4 870.7h0M1099.8 878.4h0M1099.8 905.7h0M1099.5 873.6h0M1099.9 876.9h0M1099.4 858.3h0M1101.1 875.2h0M1101.1 904.4h0M1101.2 872.8h0M1101.5 868h0M1101.1 860.8h0M1100.8 856h0M1101.1 909.2h0M1100.6 865.6h0M1102.4 868.4h0M1102.4 902.1h0M1102.5 866h0M1102.2 904.5h0M1102.7 906.9h0M1102.4 852h0M1103.7 860.7h0M1103.7 903.2h0M1103.6 858.3h0M1103.6 856.6h0M1105 866.9h0M1105 898.6h0M1105.5 866.5h0M1106.3 874.3h0M1106.3 902.8h0M1106.3 910h0M1106.6 912.4h0M1106.6 867.9h0M1107.6 878h0M1107.6 909.2h0M1107.7 863.5h0M1107.3 872.8h0M1108.9 881.8h0M1108.9 911.2h0M1109.4 876.5h0M1110.2 873.8h0M1110.2 910.4h0M1110.3 865.5h0M1111.5 882.8h0M1111.5 910.4h0M1111.7 880.4h0M1111.5 865.6h0M1112.8 880.6h0M1112.8 913.9h0M1113 916.3h0M1112.3 880.6h0M1112.9 879.3h0M1114.1 884.9h0M1114.1 916h0M1114.1 882.5h0M1114.2 880.1h0M1114.4 878.9h0M1114.6 882h0M1115.4 878.7h0M1115.4 910.6h0M1115.1 873.9h0M1115.3 869.1h0M1115.4 864.9h0M1115.9 865.8h0M1116.7 873.1h0M1116.7 912.5h0M1116.4 914.9h0M1116.4 868.7h0M1118 868.8h0M1118 910.4h0M1118 866.9h0M1119.3 869h0M1119.3 907.2h0M1118.9 864.4h0M1120.6 868.4h0M1120.6 908.5h0M1120.5 866h0M1120 867.1h0M1121.9 874.3h0M1121.9 908.4h0M1121.4 860h0M1123.2 865.7h0M1123.2 914h0M1122.9 863.2h0M1124.5 875.1h0M1124.5 914.4h0M1124.3 858.2h0M1125.8 871.2h0M1125.8 912.3h0M1125.9 843.9h0M1127.1 868.6h0M1127.1 912h0M1127.3 866.2h0M1127.1 849h0M1128.4 868h0M1128.4 912.7h0M1128 863.2h0M1128.5 858.4h0M1128.4 856h0M1128.5 853.6h0M1128.2 846.4h0M1128 844h0M1128.2 864h0M1129.7 866.9h0M1129.7 904.2h0M1129.6 906.6h0M1129.4 909h0M1129.3 863.2h0M1131 860.1h0M1131 903.7h0M1131.3 857.7h0M1130.7 848.1h0M1131.3 856.9h0M1132.3 867.8h0M1132.3 899.2h0M1132.1 865.4h0M1132.8 866.2h0M1133.6 861.8h0M1133.6 894h0M1134 896.4h0M1133.9 855.8h0M1134.9 869.4h0M1134.9 899.3h0M1134.7 854.8h0M1135 846.4h0M1136.2 870.2h0M1136.2 899.1h0M1135.8 901.5h0M1136.1 846.8h0M1135.7 864.4h0M1137.5 874.1h0M1137.5 896.9h0M1137.2 874h0M1138.8 870.9h0M1138.8 896.7h0M1139.1 866.1h0M1139 863.7h0M1138.8 861.3h0M1138.8 856.5h0M1139 851.7h0M1139 849.3h0M1138.6 854.3h0M1140.1 864.4h0M1140.1 901.2h0M1140.1 903.6h0M1139.8 906h0M1140.4 857.5h0M1141.4 871.3h0M1141.4 902.6h0M1141.6 868.9h0M1141.3 866.8h0M1142.7 869.8h0M1142.7 904.6h0M1142.5 852.5h0M1144 864.8h0M1144 901.9h0M1144.5 863.9h0M1145.3 871.8h0M1145.3 908h0M1145.2 870.4h0M1146.6 870.8h0M1146.6 908h0M1146.9 866h0M1146.7 863.6h0M1146.7 861.2h0M1146.8 858.8h0M1146.8 854h0M1146.9 851.6h0M1146.5 849.2h0M1146.5 859.3h0M1147.9 870.7h0M1147.9 907.2h0M1147.6 868.3h0M1147.9 865.9h0M1148 851.5h0M1147.5 851.3h0M1149.2 874.7h0M1149.2 906.3h0M1149 872.3h0M1148.9 867.5h0M1149.2 859.1h0M1150.5 873.3h0M1150.5 901.5h0M1150.5 870.9h0M1150.2 868.5h0M1150.2 863.7h0M1150.9 850.4h0M1151.8 866.7h0M1151.8 900.9h0M1152 857.1h0M1151.7 860.8h0M1153.1 873.5h0M1153.1 900.6h0M1153.5 871.1h0M1152.7 868.7h0M1153.2 863.9h0M1153.3 861.5h0M1153.3 859.1h0M1153.4 863.1h0M1154.4 875.3h0M1154.4 900.7h0M1154.1 862.4h0M1155.7 879.7h0M1155.7 904.4h0M1155.3 879h0M1157 875.2h0M1157 906.7h0M1156.9 875.2h0M1158.3 879.1h0M1158.3 903.5h0M1158.2 905.9h0M1158 879h0M1159.6 874.7h0M1159.6 905.3h0M1159.3 872.3h0M1159.5 867.5h0M1159.6 865.1h0M1159.7 862.7h0M1159 865h0M1160.9 874.7h0M1160.9 905h0M1160.6 870.3h0M1162.2 879.3h0M1162.2 902.9h0M1162.3 872.1h0M1161.9 869.7h0M1162.5 867.3h0M1161.9 861.3h0M1162.5 865.1h0M1163.5 881.7h0M1163.5 903.1h0M1163.4 869.3h0M1164.8 883.7h0M1164.8 906.6h0M1164.6 865.8h0M1166.1 880.4h0M1166.1 906.3h0M1166.2 878.9h0M1167.4 883.6h0M1167.4 906.8h0M1167.4 881.2h0M1167.6 876.4h0M1167.1 871.6h0M1167.2 869.2h0M1167.6 864.4h0M1167.9 876.9h0M1168 862.8h0M1168.7 879.6h0M1168.7 907.2h0M1168.8 874.8h0M1169 872.4h0M1168.4 870h0M1169 868.3h0M1170 877.9h0M1170 909.8h0M1170.3 875.5h0M1170.1 870.7h0M1169.6 865.9h0M1169.9 863.5h0M1169.9 873.4h0M1171.3 877.1h0M1171.3 909.2h0M1170.9 872.3h0M1170.9 875.7h0M1172.6 878.8h0M1172.6 908.1h0M1172.5 863h0M1173.9 881.5h0M1173.9 906.5h0M1174 876.7h0M1173.6 867.1h0M1173.6 908.9h0M1173.8 867.3h0M1173.5 872h0M1175.2 876.7h0M1175.2 907.5h0M1175.1 874.3h0M1175.8 857.3h0M1176.5 878.2h0M1176.5 906.1h0M1176.7 875.8h0M1176.9 873.4h0M1176.2 868.6h0M1176.4 862.6h0M1177 860.9h0M1177.8 871.6h0M1177.8 909.2h0M1178.1 869.2h0M1177.4 866.8h0M1177.4 857.9h0M1179.1 875.7h0M1179.1 908h0M1179.5 870.9h0M1178.9 861.3h0M1178.7 858.9h0M1178.8 870.5h0M1179.5 863h0M1180.4 880.7h0M1180.4 903.9h0M1180.6 878.3h0M1180.2 875.9h0M1180.1 871.1h0M1180.5 868.7h0M1180.7 863.9h0M1180.7 861.5h0M1180.2 906.3h0M1180.9 865h0M1181.7 882.6h0M1181.7 908.7h0M1181.5 880.2h0M1181.6 882.5h0M1183 877.8h0M1183 907.2h0M1182.6 877.7h0M1184.3 874.5h0M1184.3 902.8h0M1184.3 905.2h0M1184.5 907.6h0M1184.2 866.5h0M1185.6 873.1h0M1185.6 905.6h0M1185.9 866h0M1186.9 870.6h0M1186.9 908.3h0M1187.2 849.4h0M1188.2 871.7h0M1188.2 900.5h0M1187.9 902.9h0M1188.1 869.6h0M1189.5 877.6h0M1189.5 899.4h0M1189.3 875.2h0M1189.2 872.8h0M1189.3 868h0M1189.5 865.6h0M1189.6 863.2h0M1189.1 860.8h0M1189.8 858.4h0M1189.7 856h0M1189.5 853.6h0M1189.4 851.2h0M1189.5 901.8h0M1189.3 856.8h0M1189.8 877.6h0M1190.8 876.8h0M1190.8 904.4h0M1190.9 874.4h0M1190.7 872h0M1190.5 869.6h0M1190.8 867.2h0M1190.5 864.8h0M1190.3 862.5h0M1192.1 878.1h0M1192.1 904.6h0M1192.4 907h0M1192.1 858.3h0M1193.4 875.7h0M1193.4 907.5h0M1193.2 873.3h0M1193.7 909.9h0M1193.3 860.7h0M1194.7 880.6h0M1194.7 907.3h0M1194.4 875.8h0M1194.8 873.4h0M1195 868.6h0M1194.1 856.1h0M1196 871.9h0M1196 907.8h0M1196 853.8h0M1197.3 873.8h0M1197.3 907.2h0M1197 871.4h0M1198.6 881.9h0M1198.6 909.7h0M1198.6 879.5h0M1198.5 877.4h0M1198.6 863.7h0M1199.9 878.2h0M1199.9 908.9h0M1199.8 871h0M1199.6 868.6h0M1199.7 863.8h0M1200.5 862.7h0M1201.2 879.5h0M1201.2 905.6h0M1200.9 866.9h0M1202.5 871.1h0M1202.5 906.8h0M1202.6 868.7h0M1203.1 870h0M1203.8 877.7h0M1203.8 906.9h0M1204.1 875.3h0M1204.3 871.7h0M1205.1 884.5h0M1205.1 905.9h0M1205.3 879.7h0M1205.2 877.3h0M1205 870.1h0M1205 867.7h0M1204.9 908.3h0M1205.3 863.7h0M1206.4 878.4h0M1206.4 903.3h0M1206.3 876h0M1206 877.3h0M1207.7 880.5h0M1207.7 908.3h0M1207.5 878.1h0M1208 875.7h0M1207.9 873.3h0M1207.2 870.4h0M1209 882.1h0M1209 911.8h0M1208.6 855.4h0M1210.3 883.7h0M1210.3 912.5h0M1210.4 864.5h0M1210 862.1h0M1209.8 856.8h0M1211.6 882.7h0M1211.6 910.1h0M1211.4 880.3h0M1211.6 873.1h0M1212 865.9h0M1212 869.7h0M1212.9 885.9h0M1212.9 908.2h0M1212.7 878.7h0M1213.4 878.6h0M1214.2 885.1h0M1214.2 911.2h0M1214.7 859.3h0M1215.5 878.5h0M1215.5 912.1h0M1215.5 876.1h0M1215.5 877.5h0M1216.8 882.8h0M1216.8 906.3h0M1217 880.4h0M1216.6 882.5h0M1218.1 885.9h0M1218.1 909.6h0M1218.4 881.1h0M1218.6 885h0M1219.4 884.2h0M1219.4 910.4h0M1219.9 868.7h0M1220.7 886.6h0M1220.7 912.4h0M1221.2 869h0M1222 892.6h0M1222 910.9h0M1221.9 877.5h0M1221.8 871.1h0M1223.3 888.8h0M1223.3 911.9h0M1223.1 876.2h0M1224.6 887.4h0M1224.6 913.7h0M1224.6 880.1h0M1225.9 887.8h0M1225.9 912.6h0M1225.4 884.6h0M1227.2 886.4h0M1227.2 910.2h0M1227.4 884h0M1227.2 881.6h0M1226.9 879.5h0M1228.5 886.5h0M1228.5 911.6h0M1228.2 884.1h0M1228.8 881.7h0M1228.7 879.3h0M1228.4 885.2h0M1229.8 887.2h0M1229.8 912.4h0M1229.8 882.4h0M1229.7 880h0M1230.1 877.6h0M1229.8 876.3h0M1231.1 886.1h0M1231.1 913.2h0M1231.4 883.7h0M1230.7 881.3h0M1231.2 874.8h0M1232.4 884.6h0M1232.4 912.4h0M1232.1 882.2h0M1232.3 884h0M1233.7 888.1h0M1233.7 912h0M1233.7 885.7h0M1233.6 878.5h0M1234.1 873.7h0M1233.4 879.6h0M1235 890.4h0M1235 912.7h0M1234.8 888h0M1234.6 885.6h0M1234.7 883.2h0M1235.2 888.5h0M1236.3 892.1h0M1236.3 913.3h0M1235.8 879.6h0M1237.6 891.5h0M1237.6 911.9h0M1237.2 873.8h0M1238.9 893.5h0M1238.9 910.8h0M1238.5 888.7h0M1238.4 887.9h0M1240.2 887h0M1240.2 912.4h0M1240.2 884.6h0M1239.9 882.2h0M1240.1 880.5h0M1241.5 888.5h0M1241.5 911.6h0M1241.2 879.2h0M1241.8 881.9h0M1242.8 895h0M1242.8 907.7h0M1243.1 892.6h0M1242.7 890.2h0M1242.7 887.8h0M1243 885.4h0M1242.5 880.6h0M1242.7 878.2h0M1242.9 875.8h0M1242.8 873.4h0M1242.9 910.1h0M1243.3 893.5h0M1244.1 889.7h0M1244.1 909h0M1243.6 881.4h0M1245.4 888.6h0M1245.4 908.4h0M1245.9 879.5h0M1246.7 892h0M1246.7 907.5h0M1246.5 884.1h0M1246.7 890.7h0M1248 890.5h0M1248 908.7h0M1248.1 885.7h0M1247.7 883.3h0M1248.2 874.7h0M1249.3 890.4h0M1249.3 911.3h0M1249.6 886.8h0M1250.6 886.6h0M1250.6 906.6h0M1250.6 879.4h0M1250.8 877h0M1250.5 872.2h0M1250.9 872.8h0M1251.9 880.8h0M1251.9 910.8h0M1252.1 873.6h0M1251.5 876.9h0M1252.3 873.9h0M1253.2 885.6h0M1253.2 908.3h0M1253.7 869.8h0M1254.5 885.7h0M1254.5 908.9h0M1254.4 883.3h0M1254.5 880.9h0M1254.9 878.5h0M1254.9 876.1h0M1254.7 882.3h0M1255.8 888.8h0M1255.8 910.1h0M1255.8 884h0M1255.8 881.6h0M1256 879.2h0M1256.3 887.9h0M1257.1 885.9h0M1257.1 913.5h0M1256.9 881.1h0M1257.1 880.5h0M1258.4 889.8h0M1258.4 912.8h0M1258.3 885h0M1258.2 880.2h0M1258 882.6h0M1259.7 883.4h0M1259.7 911.9h0M1259.9 881h0M1259.8 878.6h0M1259.9 883h0M1261 884.9h0M1261 912.8h0M1260.8 882.5h0M1260.8 880.1h0M1261.3 883.9h0M1262.3 889.9h0M1262.3 911.9h0M1262.1 887.5h0M1262.8 870h0M1263.6 894.4h0M1263.6 911.6h0M1263.7 872h0M1264.9 894.7h0M1264.9 908.4h0M1264.8 876.9h0M1266.2 889.7h0M1266.2 910h0M1266.1 882.8h0M1267.5 897.9h0M1267.5 914h0M1267.6 888.8h0M1267.7 894.7h0M1268.8 900h0M1268.8 913.5h0M1268.7 895.2h0M1268.5 892.8h0M1268.2 890.9h0M1270.1 898.3h0M1270.1 911.4h0M1270.3 893.5h0M1270.6 895.2h0M1271.4 898.6h0M1271.4 910.5h0M1271.1 891.4h0M1271.6 884.2h0M1271.9 890.7h0M1272.7 895.5h0M1272.7 913.1h0M1272.9 893.1h0M1272.5 890.7h0M1273.1 895.5h0M1274 895h0M1274 911.7h0M1273.8 890.2h0M1274.3 893.5h0M1275.3 895.8h0M1275.3 912.4h0M1275.9 895.4h0M1276.6 896.7h0M1276.6 910.8h0M1276.9 894.3h0M1276.4 887.1h0M1277 896.7h0M1277.9 893.2h0M1277.9 910.3h0M1278.2 876.2h0M1278.3 887.3h0M1279.2 893.6h0M1279.2 909h0M1279.4 884.3h0M1280.5 890.8h0M1280.5 913.1h0M1280.9 888.4h0M1280.6 886h0M1280.5 871.3h0M1281.8 886.6h0M1281.8 907.9h0M1281.4 884.2h0M1282 869.5h0M1283.1 885.1h0M1283.1 902h0M1283.3 904.4h0M1283.2 906.8h0M1282.9 885h0M1284.4 890.1h0M1284.4 901.9h0M1284.5 881.4h0M1285.7 887h0M1285.7 902.7h0M1285.5 884.6h0M1286.1 877.4h0M1286 905.1h0M1285.9 876.9h0M1287 886.8h0M1287 907h0M1287.2 884.4h0M1286.6 882h0M1287.2 909.4h0M1287.4 882.7h0M1288.3 886.6h0M1288.3 910h0M1288.5 884.2h0M1288.6 879.4h0M1288.3 877h0M1288.5 873.7h0M1288.9 886.1h0M1289.6 880.7h0M1289.6 907.8h0M1289.7 878.3h0M1289.1 875.4h0M1290.9 887.6h0M1290.9 909.3h0M1291.2 885.2h0M1291.2 879.3h0M1292.2 894.5h0M1292.2 912.7h0M1292.3 892.1h0M1292.1 889.7h0M1292.6 875.9h0M1292 894.1h0M1293.5 894.1h0M1293.5 911.3h0M1293.3 878.8h0M1294.8 893.7h0M1294.8 910h0M1295 912.4h0M1294.6 893.3h0M1296.1 895.4h0M1296.1 912h0M1296.5 890.6h0M1296.2 885.8h0M1296.6 892.5h0M1297.4 892.9h0M1297.4 912.9h0M1297.3 885.7h0M1297.6 889.1h0M1298.7 890.8h0M1298.7 913h0M1298.9 888.4h0M1298.3 888.3h0M1300 894.9h0M1300 910.8h0M1299.7 892.5h0M1300.1 890.8h0M1301.3 895.5h0M1301.3 912.1h0M1301.2 893.1h0M1301.7 888.3h0M1300.9 895h0M1302.6 892.1h0M1302.6 911.7h0M1302.7 889.7h0M1303 890.5h0M1303.9 896.9h0M1303.9 910.4h0M1304.3 892.1h0M1303.6 889.7h0M1304.2 884.9h0M1303.9 884.2h0M1305.2 894.7h0M1305.2 911.4h0M1305.4 892.3h0M1304.9 889.9h0M1305.8 893.3h0M1305.7 883.8h0M1306.5 896.2h0M1306.5 910.6h0M1306.7 893.8h0M1306.9 889h0M1306.9 884.2h0M1306.8 895.9h0M1307.8 893.6h0M1307.8 911.6h0M1308.2 891.2h0M1307.9 888.8h0M1307.5 884h0M1307.9 890.5h0M1309.1 895.2h0M1309.1 910.3h0M1309.1 883.2h0M1309.5 880.8h0M1309.4 878.4h0M1308.6 895.1h0M1310.4 896h0M1310.4 910.9h0M1310.4 891.2h0M1310.7 888.8h0M1310.6 884h0M1310.7 879.2h0M1310.8 880.3h0M1311.7 891.8h0M1311.7 912.7h0M1311.4 887h0M1311.4 884.6h0M1311.6 879.8h0M1311.3 887.7h0M1313 889.3h0M1313 911.1h0M1312.9 886.9h0M1313.2 884.5h0M1313 882.1h0M1313.4 883.6h0M1314.3 892h0M1314.3 913h0M1314.3 889.6h0M1313.9 874.1h0M1315.6 893.3h0M1315.6 911.5h0M1315.4 890.9h0M1315.2 886.1h0M1315.3 882.7h0M1315.1 877.8h0M1316.9 886.4h0M1316.9 910.9h0M1317.2 884h0M1317.5 878.5h0M1318.2 884.2h0M1318.2 907.5h0M1317.7 882.9h0M1319.5 887.5h0M1319.5 907.2h0M1319.6 887h0M1320.8 881.3h0M1320.8 907.7h0M1320.7 878.9h0M1320.4 876.5h0M1320.6 871.7h0M1321 910.1h0M1320.3 874.6h0M1322.1 879.1h0M1322.1 910.1h0M1322.3 877.8h0M1323.4 879.9h0M1323.4 913.7h0M1323.5 877.5h0M1323.3 865.7h0M1324.7 880.4h0M1324.7 914.8h0M1324.6 859.6h0M1326 884.4h0M1326 910.7h0M1326.6 859.9h0M1327.3 888.3h0M1327.3 905.3h0M1327.4 907.7h0M1327.6 876.1h0M1328.6 883.8h0M1328.6 905.8h0M1328.4 881.4h0M1328.4 879h0M1328.9 876.6h0M1328.6 874.2h0M1328.8 908.2h0M1328 875.6h0M1329.9 883.4h0M1329.9 904h0M1329.7 881h0M1330.3 906.4h0M1329.9 863.4h0M1331.2 888.2h0M1331.2 911.3h0M1331.2 885.8h0M1331.4 852.9h0M1332.5 879h0M1332.5 911.7h0M1332.2 876.6h0M1332.2 878.4h0M1333.8 887.6h0M1333.8 910.5h0M1334 885.2h0M1333.5 874.9h0M1334.1 851.3h0M1335.1 879.5h0M1335.1 905.9h0M1335.1 877.1h0M1334.8 860.4h0M1336.4 872.6h0M1336.4 909h0M1336.5 870.2h0M1336.7 867.8h0M1336.9 847.3h0M1337.7 874.1h0M1337.7 903.3h0M1338.1 848h0M1339 871.1h0M1339 900.5h0M1339 902.9h0M1338.5 856.1h0M1340.3 865.9h0M1340.3 898.3h0M1340.7 863.5h0M1340.1 861.1h0M1340.5 851.5h0M1340.7 846.7h0M1340.7 903.1h0M1340.4 848.8h0M1341.6 863.4h0M1341.6 904.3h0M1341.8 853.8h0M1341.6 851.4h0M1341.3 849h0M1341.9 863.4h0M1342.9 868.7h0M1342.9 905.1h0M1342.8 868.1h0M1344.2 866.7h0M1344.2 903.6h0M1344 863.1h0M1345.5 873h0M1345.5 898.8h0M1346 853.7h0M1346.8 875.3h0M1346.8 907.7h0M1347 871.4h0M1348.1 878.8h0M1348.1 907.2h0M1348.2 876.4h0M1348.3 874h0M1348.4 854h0M1349.4 877.3h0M1349.4 906.1h0M1348.9 856.6h0M1350.7 881.7h0M1350.7 905.4h0M1350.3 879.3h0M1350.5 874.5h0M1350.4 872.1h0M1351.2 874.2h0M1352 879.5h0M1352 907.3h0M1352.5 859.9h0M1353.3 884.8h0M1353.3 909.1h0M1353.5 882.4h0M1353.7 880h0M1353.1 877.6h0M1353.7 875.2h0M1352.9 872.8h0M1353.1 878.4h0M1354.6 881.5h0M1354.6 906.4h0M1354.8 864.6h0M1355.9 883.4h0M1355.9 903.8h0M1356 881h0M1355.8 878.6h0M1356.1 876.2h0M1356.1 873.8h0M1355.8 869h0M1356.2 878.1h0M1357.2 882.5h0M1357.2 907.8h0M1357.4 875.3h0M1357.5 872.9h0M1357.5 882.2h0M1358.5 883h0M1358.5 908.7h0M1358.6 880.6h0M1358.3 871h0M1358.8 868.6h0M1358.4 866.2h0M1358.1 863.8h0M1357.9 882.4h0M1359.8 877h0M1359.8 903.4h0M1359.6 874.6h0M1359.4 872.2h0M1360 867.4h0M1359.6 865h0M1359.5 874.1h0M1361.1 873.8h0M1361.1 901.7h0M1361.7 867.4h0M1362.4 879.2h0M1362.4 904.7h0M1362.1 871h0M1363.7 884.8h0M1363.7 904.3h0M1363.7 880h0M1363.2 855.4h0M1363.7 864.8h0M1365 876h0M1365 903.3h0M1364.7 873.6h0M1365 866.4h0M1364.7 864h0M1365.4 868h0M1366.3 880.1h0M1366.3 900.7h0M1366.4 862.6h0M1367.6 881.2h0M1367.6 905h0M1367.3 878.8h0M1367.2 880.6h0M1368.9 879.4h0M1368.9 899.5h0M1368.9 877h0M1368.3 859.8h0M1370.2 874.4h0M1370.2 900h0M1369.9 872h0M1370.5 867.2h0M1370.4 862.4h0M1369.8 855.2h0M1370.4 859.9h0M1371.5 873.7h0M1371.5 902.2h0M1371.8 870h0M1372.8 866.1h0M1372.8 898.9h0M1372.5 901.3h0M1372.6 903.7h0M1372.4 906.1h0M1373 862h0M1374.1 866.6h0M1374.1 898.5h0M1374.6 855.1h0M1375.4 872.7h0M1375.4 903.1h0M1375.2 870.3h0M1375.7 860.4h0M1376.7 878.2h0M1376.7 904.1h0M1376.4 906.5h0M1376.2 863.3h0M1378 879h0M1378 906.3h0M1378 876.6h0M1377.7 871.8h0M1377.9 908.7h0M1378.5 862.3h0M1379.3 875.9h0M1379.3 904.6h0M1379.2 871.1h0M1379.2 907h0M1379.9 865.7h0M1379.7 858.3h0M1380.6 873.5h0M1380.6 902.3h0M1380.9 871.1h0M1380.3 868.7h0M1380.4 866.3h0M1380.9 863.9h0M1380.9 904.7h0M1380.2 873.3h0M1381.9 872.6h0M1381.9 903.3h0M1381.3 870.6h0M1383.2 869.9h0M1383.2 904.9h0M1383.3 868.9h0M1384.5 872.7h0M1384.5 906.7h0M1384.6 856.9h0M1385.8 875.8h0M1385.8 908.2h0M1385.7 856.1h0M1387.1 875.8h0M1387.1 906.1h0M1386.6 867.8h0M1388.4 885.8h0M1388.4 910.4h0M1388.9 849.8h0M1389.7 882.7h0M1389.7 907h0M1390 909.4h0M1389.4 879.4h0M1391 882.7h0M1391 909.7h0M1391.4 880.3h0M1390.9 877.9h0M1390.8 870.7h0M1391.1 868.3h0M1390.8 865.9h0M1391.1 858.7h0M1391.1 853.9h0M1390.4 881.9h0M1392.3 880.1h0M1392.3 909.4h0M1392.3 877.7h0M1392.4 872.1h0M1391.9 878.5h0M1393.6 873.4h0M1393.6 908.8h0M1393.9 871h0M1393.5 868.6h0M1393.3 866.2h0M1393.9 859h0M1393.9 856.6h0M1393.2 853.9h0M1394.9 871.8h0M1394.9 908.3h0M1395.4 871.8h0M1396.2 877h0M1396.2 905.1h0M1396 848.6h0M1397.5 878.1h0M1397.5 908.2h0M1397.4 866.8h0M1398.8 881.3h0M1398.8 907.9h0M1398.4 864.5h0M1400.1 874.9h0M1400.1 903.4h0M1400 859.8h0M1401.4 873.4h0M1401.4 903.6h0M1401.9 860h0M1402.7 873.3h0M1402.7 901.8h0M1402.4 906.6h0M1402.9 872.7h0M1404 868.8h0M1404 900.8h0M1403.7 903.2h0M1404.1 859.2h0M1405.3 872.1h0M1405.3 907.6h0M1405.1 858.9h0M1406.6 878.5h0M1406.6 907.1h0M1407.2 875.3h0M1407.9 877.6h0M1407.9 905.7h0M1407.9 874.7h0M1409.2 881.9h0M1409.2 907.6h0M1409.3 879.5h0M1408.9 910h0M1409.5 871.8h0M1410.5 880.2h0M1410.5 910.1h0M1410.8 865.8h0M1410.1 867.8h0M1411.8 882h0M1411.8 911.8h0M1411.9 877.2h0M1411.6 874.8h0M1412.2 872.4h0M1411.6 870h0M1412.1 867.6h0M1411.2 868.4h0M1413.1 880.9h0M1413.1 912.2h0M1413.1 868.1h0M1414.4 877.9h0M1414.4 911h0M1414.1 875.5h0M1414.2 870.7h0M1414.5 865.9h0M1414.7 863.5h0M1414.7 858.7h0M1414 853.9h0M1414.6 876h0M1415.7 873.7h0M1415.7 908.7h0M1415.4 871.3h0M1415.6 868.9h0M1416 866.5h0M1416.1 872.5h0M1417 882.5h0M1417 911.3h0M1417.4 872h0M1417.6 847.1h0M1418.3 877.1h0M1418.3 910h0M1418 874.7h0M1418.4 872.3h0M1418.2 865.1h0M1418.7 862.7h0M1418.6 853.4h0M1419.6 864.7h0M1419.6 912.5h0M1419.3 853.7h0M1420.9 859.1h0M1420.9 907.4h0M1421.2 856.7h0M1421 854.3h0M1420.9 844.7h0M1420.6 842.3h0M1420.5 858.5h0M1422.2 869h0M1422.2 913.7h0M1422 864.2h0M1422 857h0M1422.4 852.2h0M1422.5 849.8h0M1422.1 845h0M1422.3 840.5h0M1423.5 862.1h0M1423.5 912.1h0M1423.5 857.2h0M1424.8 862.6h0M1424.8 912.2h0M1424.4 861h0M1426.1 864.1h0M1426.1 906h0M1425.8 910.8h0M1426.6 855.1h0M1427.4 867.9h0M1427.4 906.8h0M1427.1 865.5h0M1427.3 863.1h0M1427.5 911.6h0M1427.9 847.1h0M1428.7 869.8h0M1428.7 904h0M1428.5 869.1h0M1430 876.1h0M1430 905.8h0M1429.5 849.1h0M1429.6 860h0M1431.3 868.2h0M1431.3 910.3h0M1431 864.7h0M1432.6 861.1h0M1432.6 898.5h0M1432.9 900.9h0M1432.2 903.3h0M1433.1 852.4h0M1432.2 852.8h0M1433.9 860.7h0M1433.9 905.1h0M1433.8 909.9h0M1433.8 856.7h0M1435.2 860.7h0M1435.2 904.4h0M1435.1 832.9h0M1436.5 855.6h0M1436.5 895.6h0M1436.3 850.8h0M1436.3 898h0M1436.3 902.8h0M1436.3 853.3h0M1437.8 857.6h0M1437.8 901.3h0M1438 852.8h0M1437.4 903.7h0M1437.5 906.1h0M1437.9 825.5h0M1439.1 867.2h0M1439.1 912.6h0M1439.7 847.5h0M1440.4 860.1h0M1440.4 913.4h0M1440.3 841.5h0M1441.7 852.1h0M1441.7 913.2h0M1441.7 827.7h0M1443 853h0M1443 904.8h0M1443.3 850.6h0M1443.1 848.2h0M1443.1 836.2h0M1443.3 907.2h0M1443 909.6h0M1443.3 849.2h0M1444.3 851.3h0M1444.3 896.9h0M1444.5 844.1h0M1444.3 899.3h0M1444.3 901.7h0M1444.1 848.4h0M1445.6 855.9h0M1445.6 904.6h0M1445.7 853.5h0M1446 851.1h0M1446 848.7h0M1445.3 846.3h0M1445.8 855.3h0M1446.9 853.7h0M1446.9 906.7h0M1446.6 844.2h0M1448.2 860.8h0M1448.2 910.4h0M1448.6 858.4h0M1448 853.6h0M1448.1 846.4h0M1448 858.2h0M1449.5 861.7h0M1449.5 909.2h0M1449.1 859.3h0M1449.4 856.9h0M1449.3 854.5h0M1449.3 852.1h0M1449.3 849.7h0M1448.9 851h0M1450.8 869.7h0M1450.8 910.4h0M1450.8 867.3h0M1450.7 864.9h0M1450.9 860.1h0M1450.5 857.7h0M1450.8 855.3h0M1450.5 852.9h0M1450.6 848.1h0M1450.5 850.7h0M1452.1 864h0M1452.1 910h0M1452.1 861.6h0M1451.8 847.4h0M1453.4 874.7h0M1453.4 902.6h0M1453.5 905h0M1453.6 907.4h0M1452.8 870h0M1453.8 858.5h0M1454.7 869.9h0M1454.7 904.4h0M1454.6 865.1h0M1454.5 857.9h0M1455.1 906.8h0M1454.4 851.9h0M1456 862.7h0M1456 907.2h0M1456.1 860.3h0M1455.9 857.9h0M1456.6 858.1h0M1457.3 857h0M1457.3 910.7h0M1457.4 854.6h0M1457.3 849.8h0M1457.3 831.2h0M1458.6 852.6h0M1458.6 902.9h0M1458.2 850.2h0M1458.4 847.8h0M1458.3 838.2h0M1459.9 859.3h0M1459.9 900.2h0M1459.7 856.9h0M1459.6 854.5h0M1460.3 852.1h0M1459.7 849.7h0M1460 847.3h0M1459.5 842.5h0M1459.5 840.1h0M1459.9 835.3h0M1459.7 828.1h0M1459.8 853.8h0M1461.2 873.4h0M1461.2 898.1h0M1461.1 868.6h0M1460.9 854.8h0M1462.5 861.2h0M1462.5 891.6h0M1462.6 858.8h0M1462.9 856.4h0M1463.1 851.4h0M1463.8 852.6h0M1463.8 901.9h0M1463.4 850.2h0M1463.5 906.7h0M1463.7 852.5h0M1463.9 846.8h0M1465.1 857.5h0M1465.1 909.9h0M1464.9 849h0M1466.4 855.3h0M1466.4 905.4h0M1466.5 850.5h0M1466.7 848.1h0M1466.1 845.7h0M1466.7 843.3h0M1466.7 838.5h0M1466.7 833.7h0M1466.6 831.3h0M1466.3 907.8h0M1466.1 834.6h0M1467.7 858.2h0M1467.7 906.3h0M1467.9 843.9h0M1468.1 839.1h0M1469 860.4h0M1469 895.7h0M1468.4 855.3h0M1470.3 867.9h0M1470.3 900.8h0M1470 865.5h0M1470.3 863.1h0M1470.5 858.3h0M1470.2 903.2h0M1470.5 863.9h0M1471.6 864.7h0M1471.6 897.2h0M1471.7 862.3h0M1471.7 857.5h0M1471.7 852.7h0M1472.1 845.2h0M1472.9 863.2h0M1472.9 898h0M1473.3 858.4h0M1472.7 900.4h0M1472.6 856.5h0M1474.2 865.8h0M1474.2 902.8h0M1473.6 851.1h0M1475.5 873h0M1475.5 903.7h0M1475.3 872.9h0M1476.8 874.7h0M1476.8 907.6h0M1476.8 872.3h0M1477 869.9h0M1476.4 872.1h0M1478.1 891.6h0M1478.1 908.8h0M1478.2 885.2h0M1479.4 901.1h0M1479.4 912.3h0M1478.8 891.6h0M1480.7 900.2h0M1480.7 911.8h0M1480.6 897.2h0M1482 899.6h0M1482 912.7h0M1481.8 898.8h0M1483.3 899.2h0M1483.3 912.3h0M1482.8 896.5h0M1484.6 900h0M1484.6 912.4h0M1484.9 893.9h0M1485.9 900.5h0M1485.9 913.7h0M1486.2 898.1h0M1486.2 899.7h0M1487.2 900.6h0M1487.2 912.9h0M1487.6 900h0M1488.5 898.9h0M1488.5 911.9h0M1488.8 896.9h0M1489.8 901h0M1489.8 910.4h0M1489.5 894.7h0M1491.1 899.7h0M1491.1 910.4h0M1491.1 897.3h0M1491.6 895.8h0M1492.4 899.5h0M1492.4 909.7h0M1491.9 898.5h0M1493.7 899.8h0M1493.7 912.1h0M1493.3 890.9h0M1495 900.8h0M1495 912.5h0M1494.9 898.4h0M1495.3 896h0M1495 891.2h0M1494.8 899.4h0M1496.3 901.4h0M1496.3 911.8h0M1495.9 897.8h0M1497.6 899.1h0M1497.6 914.3h0M1497.2 894.3h0M1497.9 889.7h0M1498.9 900.9h0M1498.9 912.7h0M1498.4 899.9h0M1500.2 900.6h0M1500.2 911h0M1499.9 898.2h0M1500.6 889.1h0M1501.5 900.1h0M1501.5 910.7h0M1501.7 894.4h0M1502.8 900.8h0M1502.8 913h0M1503.4 895.4h0M1504.1 899.5h0M1504.1 912.8h0M1504 890.7h0M1505.4 897.6h0M1505.4 911.3h0M1505.1 895.2h0M1505.7 894.6h0M1506.7 898.5h0M1506.7 914.8h0M1506.9 892.7h0M1508 900.2h0M1508 915.6h0M1508.2 897.8h0M1507.9 895.4h0M1507.9 890.3h0M1509.3 899.6h0M1509.3 913.6h0M1509.1 893.4h0M1510.6 896.7h0M1510.6 913.2h0M1510.3 894.3h0M1510.1 895.8h0M1511.9 898.1h0M1511.9 915.3h0M1511.5 897h0M1513.2 900.5h0M1513.2 912.1h0M1513.3 895.7h0M1512.8 893.3h0M1512.7 891.4h0M1514.5 894.9h0M1514.5 912.5h0M1514.8 892.5h0M1514.5 887.7h0M1514.4 885.3h0M1514.6 882.9h0M1514.5 880.5h0M1514 890.3h0M1515.8 892.9h0M1515.8 910.2h0M1515.6 885.7h0M1516.1 880.9h0M1516.2 889.8h0M1517.1 883.9h0M1517.1 913.5h0M1516.8 882.8h0M1518.4 874.4h0M1518.4 911.5h0M1518.7 916.3h0M1518.8 872.9h0M1519.7 875.3h0M1519.7 909.9h0M1519.8 872.9h0M1519.7 870.5h0M1519.5 868.1h0M1519.9 912.3h0M1519.5 852h0M1519.5 869.8h0M1521 873.2h0M1521 908.5h0M1521.3 870.8h0M1520.6 868.4h0M1521.3 866h0M1520.8 863.6h0M1520.8 861.2h0M1520.8 858.8h0M1521.2 856.4h0M1521.3 849.2h0M1520.5 854.1h0M1522.3 874h0M1522.3 915h0M1522.2 871.6h0M1522.1 869.2h0M1522.1 866.8h0M1522.3 864.4h0M1522.2 859.6h0M1522 857.2h0M1521.8 850.1h0M1523.6 873h0M1523.6 908.6h0M1523.3 868.2h0M1523.7 863.4h0M1523.2 861h0M1523 861.9h0M1524.9 873.9h0M1524.9 907.5h0M1524.5 909.9h0M1524.7 912.3h0M1525.5 870.8h0M1526.2 883.4h0M1526.2 904.3h0M1526.1 879.6h0M1527.5 885.4h0M1527.5 908.3h0M1527.8 876.7h0M1528.8 889.3h0M1528.8 910.4h0M1529 886.9h0M1528.5 884.5h0M1528.8 874.7h0M1530.1 896.4h0M1530.1 912.7h0M1530 891.6h0M1529.8 896.4h0M1531.4 900.8h0M1531.4 910.3h0M1531.3 898.4h0M1531.7 893.6h0M1531.3 899.8h0M1532.7 895.9h0M1532.7 912.5h0M1533 893.5h0M1532.7 891.1h0M1532.4 893.1h0M1534 895.9h0M1534 914.2h0M1534.1 891.1h0M1533.7 885.1h0M1534.2 882.6h0M1535.3 891.2h0M1535.3 913.2h0M1535.2 884h0M1535.2 881.6h0M1535.6 884.3h0M1536.6 888.5h0M1536.6 912.9h0M1536.3 882.4h0M1537.9 887h0M1537.9 912.6h0M1537.5 884.4h0M1539.2 885.2h0M1539.2 913.1h0M1539 882.8h0M1539.4 880.4h0M1539.4 873.2h0M1539.2 870.8h0M1539.4 866.8h0M1539.5 882.6h0M1540.5 890.6h0M1540.5 912h0M1540.3 888.2h0M1540.3 881h0M1540.8 886.4h0M1541.8 888.1h0M1541.8 912.2h0M1541.5 880.9h0M1541.5 885.2h0M1543.1 892.9h0M1543.1 913.1h0M1543 892.9h0M1544.4 898.6h0M1544.4 914h0M1544 897.6h0M1545.7 900.2h0M1545.7 915.2h0M1546.1 894.7h0M1547 904.7h0M1547 916.9h0M1547.1 902.3h0M1547.1 901h0" stroke="#000" stroke-width="3.8" stroke-linecap="round" fill="none"/><path d="M901.2 892.8h0M906 882.7h0M946.3 898.3h0M947.2 895.7h0M963.2 896.1h0M964.8 881.2h0M998.6 887.8h0M1041.4 886.9h0M1042.5 892.2h0M1115.4 895.2h0M1118.9 890.1h0M1150.4 888.2h0M1175.1 888.2h0M1188.5 888.1h0M1221.1 889.7h0M1259.2 891.1h0M1262.1 899.2h0M1292.1 899.2h0M1294.6 902.9h0M1301.7 902.2h0M1323.9 899.1h0M1344.3 877.9h0M1345.1 888.4h0M1359.5 885.6h0M1377.7 882.8h0M1406.4 889.9h0M1419.2 876.7h0M1428.8 882.4h0M1430.9 890h0M1435.5 883.1h0M1437.4 880.2h0M1450.5 888.3h0M1457.8 878.5h0M1460 869.7h0M1467.2 877.5h0M1469 865.6h0M1473 875.8h0M1496.5 905.3h0M1517.5 894.5h0M1529.1 901.1h0" stroke="#fff" stroke-width="1.8" stroke-linecap="round" fill="none"/>
<path d="M906.8 850h0M981 836.4h0M1006.6 840.2h0M1017.7 841h0M1040.9 834.6h0M1064.5 836.7h0M1072 832.6h0M1101.8 820.4h0M1101.8 825.7h0M1103 830.3h0M1106 829h0M1120.9 791h0M1120.9 806.7h0M1120.9 828h0M1121 833h0M1121 837.1h0M1159.5 835.7h0M1172.4 834h0M1172.4 839h0M1184.4 832.3h0M1184.4 835h0M1184.4 837.4h0M1198.2 797h0M1198.2 812.5h0M1198.2 823.7h0M1198.2 825.4h0M1198.2 839.5h0M1214.5 846.4h0M1238.9 812.5h0M1243.7 849.5h0M1243.7 858.9h0M1247 920.8h0M1260.9 849.5h0M1260.9 852h0M1285 821.1h0M1285 832.3h0M1285 834.9h0M1285 857.2h0M1340.4 828.5h0M1340.4 838.3h0M1340.4 842h0M1340.4 846h0M1380.4 826.2h0M1388.1 807.3h0M1388.1 828.5h0M1388.1 836.5h0M1420.7 822.3h0M1429.3 811.6h0M1429.3 816.8h0M1437.9 785h0M1438.5 788.4h0M1437.9 799.6h0M1438 803h0M1437.9 806.5h0M1453.3 817.6h0M1453.3 829.7h0M1456 918h0M1464 746.7h0M1464 773h0M1469 795.3h0M1467 812h0M1467 818h0M1473 833h0M1525.5 721.5h0M1525.5 751.5h0M1525.5 755h0M1525.5 772.5h0M1525.5 792.7h0M1525.5 796.2h0M1525.5 813.3h0M1525.5 817h0M1525.5 820.2h0M1521 832h0M1526 836h0M1539.2 856h0M1456 918h0M1456 918h0" stroke="#000" stroke-width="3.8" stroke-linecap="round" fill="none"/>
<path d="M874.9 1023.2V1263.8M874.9 1023.2H868.1M874.9 1063.3H868.1M874.9 1103.4H868.1M874.9 1143.5H868.1M874.9 1183.6H868.1M874.9 1223.7H868.1M874.9 1263.8H868.1" stroke="#808080" stroke-width="1.9" fill="none"/><text x="849.2" y="1028.1" font-size="10.8" fill="#333" text-anchor="middle" textLength="22" lengthAdjust="spacingAndGlyphs">0.30</text><text x="849.2" y="1068.2" font-size="10.8" fill="#333" text-anchor="middle" textLength="22" lengthAdjust="spacingAndGlyphs">0.25</text><text x="849.2" y="1108.3" font-size="10.8" fill="#333" text-anchor="middle" textLength="22" lengthAdjust="spacingAndGlyphs">0.20</text><text x="849.2" y="1148.4" font-size="10.8" fill="#333" text-anchor="middle" textLength="22" lengthAdjust="spacingAndGlyphs">0.15</text><text x="849.2" y="1188.5" font-size="10.8" fill="#333" text-anchor="middle" textLength="22" lengthAdjust="spacingAndGlyphs">0.10</text><text x="849.2" y="1228.6" font-size="10.8" fill="#333" text-anchor="middle" textLength="22" lengthAdjust="spacingAndGlyphs">0.05</text><text x="849.2" y="1268.7" font-size="10.8" fill="#333" text-anchor="middle" textLength="22" lengthAdjust="spacingAndGlyphs">0.00</text>
<path d="M957.5 1263.9H1501.3M957.5 1263.9V1270.4M1069.7 1263.9V1270.4M1155.3 1263.9V1270.4M1220.8 1263.9V1270.4M1270.6 1263.9V1270.4M1301.1 1263.9V1270.4M1325 1263.9V1270.4M1346 1263.9V1270.4M1364.1 1263.9V1270.4M1379.2 1263.9V1270.4M1392.4 1263.9V1270.4M1405 1263.9V1270.4M1417.6 1263.9V1270.4M1428.4 1263.9V1270.4M1437 1263.9V1270.4M1440.9 1263.9V1270.4M1445.3 1263.9V1270.4M1452.4 1263.9V1270.4M1459.6 1263.9V1270.4M1467.6 1263.9V1270.4M1472 1263.9V1270.4M1476 1263.9V1270.4M1480 1263.9V1270.4M1483.5 1263.9V1270.4M1487 1263.9V1270.4M1489.5 1263.9V1270.4M1491.6 1263.9V1270.4M1494 1263.9V1270.4M1496.5 1263.9V1270.4M1497.5 1263.9V1270.4M1498.5 1263.9V1270.4M1499.5 1263.9V1270.4M1500.5 1263.9V1270.4M1501.3 1263.9V1270.4" stroke="#808080" stroke-width="1.9" fill="none"/><text x="957.5" y="1290" font-size="12.8" fill="#2a2a2a" text-anchor="middle" stroke="#2a2a2a" stroke-width="0.3">1</text><text x="1069.7" y="1290" font-size="12.8" fill="#2a2a2a" text-anchor="middle" stroke="#2a2a2a" stroke-width="0.3">2</text><text x="1155.3" y="1290" font-size="12.8" fill="#2a2a2a" text-anchor="middle" stroke="#2a2a2a" stroke-width="0.3">3</text><text x="1220.8" y="1290" font-size="12.8" fill="#2a2a2a" text-anchor="middle" stroke="#2a2a2a" stroke-width="0.3">4</text><text x="1270.6" y="1290" font-size="12.8" fill="#2a2a2a" text-anchor="middle" stroke="#2a2a2a" stroke-width="0.3">5</text><text x="1301.1" y="1290" font-size="12.8" fill="#2a2a2a" text-anchor="middle" stroke="#2a2a2a" stroke-width="0.3">6</text><text x="1325" y="1290" font-size="12.8" fill="#2a2a2a" text-anchor="middle" stroke="#2a2a2a" stroke-width="0.3">7</text><text x="1346" y="1290" font-size="12.8" fill="#2a2a2a" text-anchor="middle" stroke="#2a2a2a" stroke-width="0.3">8</text><text x="1364.1" y="1290" font-size="12.8" fill="#2a2a2a" text-anchor="middle" stroke="#2a2a2a" stroke-width="0.3">9</text><text x="1392.4" y="1290" font-size="12.8" fill="#2a2a2a" text-anchor="middle" stroke="#2a2a2a" stroke-width="0.3">11</text><text x="1417.6" y="1290" font-size="12.8" fill="#2a2a2a" text-anchor="middle" stroke="#2a2a2a" stroke-width="0.3">13</text><text x="1440.9" y="1290" font-size="12.8" fill="#2a2a2a" text-anchor="middle" stroke="#2a2a2a" stroke-width="0.3">16</text><text x="1467.6" y="1290" font-size="12.8" fill="#2a2a2a" text-anchor="middle" stroke="#2a2a2a" stroke-width="0.3">20</text><text x="1491.6" y="1290" font-size="12.8" fill="#2a2a2a" text-anchor="middle" stroke="#2a2a2a" stroke-width="0.3">26</text>
<rect x="1497.6" y="1263.5" width="3.8" height="7" fill="#111"/>
<text x="1224" y="1318.5" font-size="12.5" fill="#333" text-anchor="middle" textLength="68" lengthAdjust="spacingAndGlyphs">Chromosome</text>
<text x="902.9" y="1039.7" font-size="19" fill="#000" textLength="367" lengthAdjust="spacingAndGlyphs" stroke="#000" stroke-width="0.45">Fst (Rumpless females vs. Normal males)</text>
<polygon points="893.7,1213.4 894.6,1213.4 895.8,1216.3 897,1208.4 898.2,1206.6 899.4,1209.8 900.6,1212.4 901.8,1217.5 903,1215.9 904.2,1216.4 905.4,1211.5 906.6,1212.7 907.8,1206.3 909,1212.6 910.2,1211.5 911.4,1210.4 912.6,1213.2 913.8,1215.3 915,1215.7 916.2,1213.6 917.4,1213.6 918.6,1212.9 919.8,1214.7 921,1215.6 922.2,1213.8 923.4,1215.9 924.6,1215.8 925.8,1209.7 927,1209.7 928.2,1208.4 929.4,1216.7 930.6,1208.4 931.8,1205.8 933,1209 934.2,1214.6 935.4,1212.8 936.6,1211.7 937.8,1210.4 939,1214.2 940.2,1216.5 941.4,1216.2 942.6,1212.6 943.8,1213.8 945,1211.9 946.2,1206.6 947.4,1214.2 948.6,1213.3 949.8,1217.2 951,1215.9 952.2,1210 953.4,1209.2 954.6,1209.1 955.8,1216.7 957,1213.1 958.2,1210 959.4,1210.6 960.6,1210.1 961.8,1215 963,1209.7 964.2,1215.4 965.4,1215.1 966.6,1213.2 967.8,1213.4 969,1220 970.2,1221.7 971.4,1215.6 972.6,1216.9 973.8,1224 975,1218.1 976.2,1210.9 977.4,1209.5 978.6,1209.6 979.8,1211.6 981,1217 982.2,1217.3 983.4,1216.5 984.6,1213 985.8,1208.1 987,1211.9 988.2,1213.2 989.4,1212.7 990.6,1215 991.8,1211.8 993,1208.1 994.2,1207.5 995.4,1212.3 996.6,1208.5 997.8,1216 999,1218.3 1000.2,1217 1001.4,1215.5 1002.6,1215.9 1003.8,1217.3 1005,1213.8 1006.2,1216.2 1007.4,1212.8 1008.6,1215.7 1009.8,1214.3 1011,1214.4 1012.2,1211.7 1013.4,1207.3 1014.6,1211.4 1015.8,1215.9 1017,1208.9 1018.2,1204.7 1019.4,1209.9 1021,1209.9 1021,1248.9 1019.4,1248.9 1018.2,1247.7 1017,1246.5 1015.8,1249.2 1014.6,1251.2 1013.4,1250.2 1012.2,1245.1 1011,1251.6 1009.8,1251.6 1008.6,1248.9 1007.4,1244.2 1006.2,1248.7 1005,1251 1003.8,1252.9 1002.6,1251 1001.4,1248.5 1000.2,1251.1 999,1254.7 997.8,1254.2 996.6,1251.7 995.4,1253.5 994.2,1249.4 993,1249.7 991.8,1248.2 990.6,1248.2 989.4,1250.7 988.2,1249.4 987,1248.8 985.8,1245.5 984.6,1245.9 983.4,1246.9 982.2,1248.1 981,1246.3 979.8,1254.1 978.6,1249.1 977.4,1248.3 976.2,1248.9 975,1249.3 973.8,1249.8 972.6,1246.3 971.4,1247.3 970.2,1248.2 969,1248.8 967.8,1248.9 966.6,1247.3 965.4,1244.2 964.2,1247.4 963,1249.9 961.8,1248.7 960.6,1251.1 959.4,1250.2 958.2,1249.8 957,1251.7 955.8,1249.3 954.6,1245.5 953.4,1247.2 952.2,1250.4 951,1249.7 949.8,1249.1 948.6,1247.1 947.4,1247 946.2,1250.4 945,1249.5 943.8,1247.5 942.6,1249.8 941.4,1253.9 940.2,1252.3 939,1251.1 937.8,1253.9 936.6,1253.1 935.4,1250.6 934.2,1249.9 933,1250.7 931.8,1250 930.6,1248 929.4,1247.1 928.2,1244.5 927,1246.3 925.8,1246 924.6,1246.9 923.4,1249.2 922.2,1244.7 921,1248.5 919.8,1250.8 918.6,1252.7 917.4,1252.3 916.2,1250.1 915,1249.1 913.8,1252.1 912.6,1250.2 911.4,1252.6 910.2,1254.4 909,1253.3 907.8,1249.2 906.6,1247.1 905.4,1245.9 904.2,1248.5 903,1247.7 901.8,1251.1 900.6,1249.5 899.4,1249.4 898.2,1248.2 897,1247 895.8,1250.3 894.6,1249.6 893.7,1249.6" fill="#156dcf"/><path d="M894.6 1213.4h0M894.6 1249.6h0M895.8 1216.3h0M895.8 1250.3h0M897 1208.4h0M897 1247h0M898.2 1206.6h0M898.2 1248.2h0M898.1 1204h0M898.5 1198.8h0M898.2 1196.2h0M898.5 1193.6h0M899.4 1209.8h0M899.4 1249.4h0M899.7 1207.2h0M899 1204.6h0M899.6 1199.4h0M899 1196.8h0M900.6 1212.4h0M900.6 1249.5h0M901.8 1217.5h0M901.8 1251.1h0M902 1214.9h0M902 1212.3h0M903 1215.9h0M903 1247.7h0M904.2 1216.4h0M904.2 1248.5h0M904.1 1213.8h0M905.4 1211.5h0M905.4 1245.9h0M905.6 1248.5h0M906.6 1212.7h0M906.6 1247.1h0M907.8 1206.3h0M907.8 1249.2h0M909 1212.6h0M909 1253.3h0M909.1 1204.8h0M909.1 1197h0M908.7 1194.4h0M908.7 1191.8h0M910.2 1211.5h0M910.2 1254.4h0M910.2 1208.9h0M909.9 1206.3h0M910.5 1201.1h0M909.9 1198.5h0M910.1 1188.1h0M911.4 1210.4h0M911.4 1252.6h0M911.4 1207.8h0M911.1 1205.2h0M911.7 1202.6h0M911.8 1200h0M911.6 1197.4h0M911.4 1192.2h0M911.3 1189.6h0M912.6 1213.2h0M912.6 1250.2h0M913 1210.6h0M912.5 1208h0M912.3 1205.4h0M912.2 1202.8h0M913.8 1215.3h0M913.8 1252.1h0M915 1215.7h0M915 1249.1h0M915.1 1213.1h0M915.4 1210.5h0M916.2 1213.6h0M916.2 1250.1h0M916 1211h0M917.4 1213.6h0M917.4 1252.3h0M917.6 1211h0M917.8 1208.4h0M917.2 1203.2h0M917.4 1200.6h0M918.6 1212.9h0M918.6 1252.7h0M919.8 1214.7h0M919.8 1250.8h0M919.7 1212.1h0M921 1215.6h0M921 1248.5h0M921 1213h0M922.2 1213.8h0M922.2 1244.7h0M923.4 1215.9h0M923.4 1249.2h0M923 1251.8h0M924.6 1215.8h0M924.6 1246.9h0M924.6 1213.2h0M924.8 1210.6h0M924.5 1208h0M924.9 1205.4h0M924.9 1202.8h0M924.5 1200.2h0M924.5 1197.6h0M924.9 1195h0M924.8 1192.4h0M925.8 1209.7h0M925.8 1246h0M927 1209.7h0M927 1246.3h0M926.6 1207.1h0M928.2 1208.4h0M928.2 1244.5h0M928.2 1205.8h0M929.4 1216.7h0M929.4 1247.1h0M929 1214.1h0M929.6 1211.5h0M929.4 1208.9h0M929.4 1206.3h0M929.3 1203.7h0M930.6 1208.4h0M930.6 1248h0M931.8 1205.8h0M931.8 1250h0M933 1209h0M933 1250.7h0M932.8 1206.4h0M932.6 1203.8h0M933.3 1196h0M933.2 1193.4h0M933.4 1190.8h0M934.2 1214.6h0M934.2 1249.9h0M934 1212h0M935.4 1212.8h0M935.4 1250.6h0M935.1 1210.2h0M935.7 1207.6h0M935 1205h0M935.2 1202.4h0M935.1 1199.8h0M935.8 1197.2h0M935.6 1194.6h0M935.3 1192h0M935.3 1189.4h0M936.6 1211.7h0M936.6 1253.1h0M937.8 1210.4h0M937.8 1253.9h0M939 1214.2h0M939 1251.1h0M939 1209h0M939 1203.8h0M938.7 1201.2h0M939 1198.6h0M939.1 1196h0M939 1193.4h0M940.2 1216.5h0M940.2 1252.3h0M941.4 1216.2h0M941.4 1253.9h0M941.1 1213.6h0M941.4 1208.4h0M941 1205.8h0M941.3 1203.2h0M941.6 1200.6h0M941.4 1198h0M941.3 1195.4h0M942.6 1212.6h0M942.6 1249.8h0M942.6 1252.4h0M943.8 1213.8h0M943.8 1247.5h0M945 1211.9h0M945 1249.5h0M945.3 1209.3h0M945 1206.7h0M946.2 1206.6h0M946.2 1250.4h0M947.4 1214.2h0M947.4 1247h0M947.3 1211.6h0M947 1209h0M947.6 1203.8h0M948.6 1213.3h0M948.6 1247.1h0M949.8 1217.2h0M949.8 1249.1h0M949.9 1214.6h0M949.9 1212h0M950.1 1209.4h0M949.6 1206.8h0M949.7 1201.6h0M949.8 1251.7h0M951 1215.9h0M951 1249.7h0M950.8 1213.3h0M950.8 1210.7h0M950.9 1252.3h0M952.2 1210h0M952.2 1250.4h0M951.9 1199.6h0M953.4 1209.2h0M953.4 1247.2h0M953.6 1206.6h0M953.2 1196.2h0M954.6 1209.1h0M954.6 1245.5h0M955.8 1216.7h0M955.8 1249.3h0M956.1 1214.1h0M956 1211.5h0M956 1208.9h0M956.2 1206.3h0M957 1213.1h0M957 1251.7h0M958.2 1210h0M958.2 1249.8h0M959.4 1210.6h0M959.4 1250.2h0M960.6 1210.1h0M960.6 1251.1h0M960.6 1207.5h0M961.8 1215h0M961.8 1248.7h0M963 1209.7h0M963 1249.9h0M963 1207.1h0M964.2 1215.4h0M964.2 1247.4h0M965.4 1215.1h0M965.4 1244.2h0M965.5 1212.5h0M965.5 1209.9h0M965.1 1207.3h0M965.4 1204.7h0M965.5 1202.1h0M965.6 1199.5h0M965.3 1196.9h0M965.6 1194.3h0M966.6 1213.2h0M966.6 1247.3h0M966.5 1210.6h0M966.4 1208h0M967.8 1213.4h0M967.8 1248.9h0M968.1 1208.2h0M967.6 1203h0M968.1 1200.4h0M969 1220h0M969 1248.8h0M968.8 1217.4h0M969 1214.8h0M969.3 1212.2h0M969.3 1209.6h0M968.9 1207h0M969.3 1204.4h0M970.2 1221.7h0M970.2 1248.2h0M969.8 1219.1h0M971.4 1215.6h0M971.4 1247.3h0M972.6 1216.9h0M972.6 1246.3h0M972.8 1214.3h0M972.3 1209.1h0M972.7 1206.5h0M972.8 1203.9h0M973.8 1224h0M973.8 1249.8h0M973.6 1221.4h0M973.8 1218.8h0M973.9 1216.2h0M973.9 1211h0M974 1208.4h0M974 1205.8h0M973.4 1203.2h0M975 1218.1h0M975 1249.3h0M974.6 1215.5h0M975 1210.3h0M975.1 1202.5h0M974.6 1199.9h0M976.2 1210.9h0M976.2 1248.9h0M975.9 1200.5h0M976.5 1197.9h0M975.9 1195.3h0M977.4 1209.5h0M977.4 1248.3h0M977.1 1204.3h0M977.6 1201.7h0M977.6 1199.1h0M977 1193.9h0M977.5 1191.3h0M977.3 1250.9h0M978.6 1209.6h0M978.6 1249.1h0M978.5 1207h0M978.6 1204.4h0M978.9 1201.8h0M978.9 1199.2h0M978.6 1196.6h0M979.8 1211.6h0M979.8 1254.1h0M979.4 1209h0M979.8 1206.4h0M979.8 1198.6h0M981 1217h0M981 1246.3h0M982.2 1217.3h0M982.2 1248.1h0M982.4 1214.7h0M983.4 1216.5h0M983.4 1246.9h0M984.6 1213h0M984.6 1245.9h0M984.4 1210.4h0M984.9 1207.8h0M985.8 1208.1h0M985.8 1245.5h0M987 1211.9h0M987 1248.8h0M988.2 1213.2h0M988.2 1249.4h0M988.5 1210.6h0M988 1208h0M987.9 1205.4h0M988.4 1200.2h0M988.1 1197.6h0M989.4 1212.7h0M989.4 1250.7h0M990.6 1215h0M990.6 1248.2h0M990.8 1212.4h0M991.8 1211.8h0M991.8 1248.2h0M991.4 1209.2h0M993 1208.1h0M993 1249.7h0M993 1205.5h0M993.1 1202.9h0M992.8 1200.3h0M993.3 1197.7h0M992.8 1195.1h0M994.2 1207.5h0M994.2 1249.4h0M993.9 1204.9h0M994 1202.3h0M995.4 1212.3h0M995.4 1253.5h0M995.5 1209.7h0M995.2 1207.1h0M996.6 1208.5h0M996.6 1251.7h0M996.7 1203.3h0M997.8 1216h0M997.8 1254.2h0M997.4 1213.4h0M997.7 1210.8h0M997.5 1205.6h0M998.1 1200.4h0M997.6 1197.8h0M999 1218.3h0M999 1254.7h0M998.8 1215.7h0M999.3 1213.1h0M999.3 1210.5h0M998.7 1207.9h0M999.1 1205.3h0M999 1197.5h0M1000.2 1217h0M1000.2 1251.1h0M999.8 1253.7h0M1001.4 1215.5h0M1001.4 1248.5h0M1001.3 1251.1h0M1002.6 1215.9h0M1002.6 1251h0M1002.6 1213.3h0M1002.3 1210.7h0M1003.8 1217.3h0M1003.8 1252.9h0M1005 1213.8h0M1005 1251h0M1005.2 1211.2h0M1006.2 1216.2h0M1006.2 1248.7h0M1006.3 1213.6h0M1006.2 1211h0M1006 1208.4h0M1007.4 1212.8h0M1007.4 1244.2h0M1007.2 1210.2h0M1007.5 1207.6h0M1008.6 1215.7h0M1008.6 1248.9h0M1008.4 1213.1h0M1009.8 1214.3h0M1009.8 1251.6h0M1011 1214.4h0M1011 1251.6h0M1010.9 1211.8h0M1010.7 1209.2h0M1012.2 1211.7h0M1012.2 1245.1h0M1012 1209.1h0M1013.4 1207.3h0M1013.4 1250.2h0M1013.6 1204.7h0M1013.6 1202.1h0M1013 1199.5h0M1014.6 1211.4h0M1014.6 1251.2h0M1014.3 1208.8h0M1014.5 1206.2h0M1014.4 1203.6h0M1014.5 1201h0M1015.8 1215.9h0M1015.8 1249.2h0M1015.5 1210.7h0M1015.4 1208.1h0M1015.7 1205.5h0M1016 1202.9h0M1016 1200.3h0M1016 1197.7h0M1015.6 1195.1h0M1015.9 1192.5h0M1016 1189.9h0M1016.1 1187.3h0M1017 1208.9h0M1017 1246.5h0M1017.3 1206.3h0M1016.9 1203.7h0M1016.8 1201.1h0M1016.8 1198.5h0M1017.2 1195.9h0M1016.7 1193.3h0M1016.8 1190.7h0M1017 1249.1h0M1018.2 1204.7h0M1018.2 1247.7h0M1018.2 1250.3h0M1019.4 1209.9h0M1019.4 1248.9h0" stroke="#156dcf" stroke-width="3.5" stroke-linecap="round" fill="none"/><polygon points="1021,1214.8 1021.9,1214.8 1023.1,1212.4 1024.3,1212.1 1025.5,1210.3 1026.7,1209.9 1027.9,1209.5 1029.1,1217.3 1030.3,1213.8 1031.5,1206.5 1032.7,1210.6 1033.9,1209.6 1035.1,1210.7 1036.3,1218 1037.5,1213.4 1038.7,1211.2 1039.9,1211.9 1041.1,1216.4 1042.3,1206.5 1043.5,1210.9 1044.7,1210.7 1045.9,1212.2 1047.1,1212.5 1048.3,1211.7 1049.5,1215.7 1050.7,1216.8 1051.9,1212 1053.1,1210.4 1054.3,1207.7 1055.5,1211.2 1056.7,1212.3 1057.9,1210 1059.1,1213.9 1060.3,1217 1061.5,1214.5 1062.7,1213.3 1063.9,1209.7 1065.1,1214.3 1066.3,1209.2 1067.5,1213.5 1068.7,1214.5 1069.9,1212.4 1071.1,1214.5 1072.3,1213.1 1073.5,1215.1 1074.7,1209.6 1075.9,1213.4 1077.1,1213.5 1078.3,1210.5 1079.5,1214.3 1080.7,1213.4 1081.9,1212 1083.1,1216.9 1084.3,1215 1085.5,1218.2 1086.7,1215.7 1087.9,1213 1089.1,1218.4 1090.3,1218.3 1091.5,1214.2 1092.7,1212.4 1093.9,1215.6 1095.1,1216.5 1096.3,1214.2 1097.5,1213.5 1098.7,1215.3 1099.9,1211.1 1101.1,1213.9 1102.3,1213.2 1103.5,1215.9 1104.7,1209.7 1105.9,1207.5 1107.1,1208.4 1108.3,1210.8 1109.5,1216.7 1110.7,1213.1 1111.9,1211.2 1113.1,1211.7 1114.3,1210 1115.5,1210.6 1116.7,1210.5 1118.4,1210.5 1118.4,1249.9 1116.7,1249.9 1115.5,1249.8 1114.3,1251.4 1113.1,1254.2 1111.9,1254.1 1110.7,1250.4 1109.5,1249.8 1108.3,1248.5 1107.1,1248.2 1105.9,1244.1 1104.7,1247.1 1103.5,1246.3 1102.3,1245.9 1101.1,1245.4 1099.9,1246.9 1098.7,1246.8 1097.5,1249.2 1096.3,1247.9 1095.1,1247.8 1093.9,1247.1 1092.7,1246 1091.5,1253.6 1090.3,1253.6 1089.1,1253.1 1087.9,1250.8 1086.7,1254.6 1085.5,1254.9 1084.3,1249.4 1083.1,1251.3 1081.9,1253.4 1080.7,1247.8 1079.5,1247.4 1078.3,1247.9 1077.1,1247.7 1075.9,1246.8 1074.7,1246.3 1073.5,1247.6 1072.3,1248.5 1071.1,1248.4 1069.9,1248.7 1068.7,1247.9 1067.5,1251.3 1066.3,1252 1065.1,1254.7 1063.9,1249.8 1062.7,1247.1 1061.5,1248.1 1060.3,1248 1059.1,1245.5 1057.9,1249.2 1056.7,1253.4 1055.5,1253.7 1054.3,1253.8 1053.1,1254 1051.9,1252 1050.7,1252.8 1049.5,1255 1048.3,1252.6 1047.1,1249.2 1045.9,1248.4 1044.7,1246.9 1043.5,1248.7 1042.3,1244.5 1041.1,1247.6 1039.9,1246.7 1038.7,1250.4 1037.5,1248 1036.3,1253.2 1035.1,1248.5 1033.9,1250 1032.7,1249.2 1031.5,1247.2 1030.3,1248.4 1029.1,1250.8 1027.9,1249.6 1026.7,1250.7 1025.5,1252.4 1024.3,1252.8 1023.1,1250 1021.9,1250.8 1021,1250.8" fill="#f20000"/><path d="M1021.9 1214.8h0M1021.9 1250.8h0M1022 1209.6h0M1022.3 1207h0M1021.7 1204.4h0M1023.1 1212.4h0M1023.1 1250h0M1024.3 1212.1h0M1024.3 1252.8h0M1024.5 1206.9h0M1025.5 1210.3h0M1025.5 1252.4h0M1026.7 1209.9h0M1026.7 1250.7h0M1026.6 1207.3h0M1026.8 1204.7h0M1026.3 1202.1h0M1026.8 1199.5h0M1026.8 1196.9h0M1026.9 1194.3h0M1027.9 1209.5h0M1027.9 1249.6h0M1029.1 1217.3h0M1029.1 1250.8h0M1029.4 1214.7h0M1028.9 1212.1h0M1030.3 1213.8h0M1030.3 1248.4h0M1030.2 1211.2h0M1030.4 1206h0M1031.5 1206.5h0M1031.5 1247.2h0M1032.7 1210.6h0M1032.7 1249.2h0M1033.9 1209.6h0M1033.9 1250h0M1033.8 1207h0M1034.3 1204.4h0M1033.7 1201.8h0M1033.6 1196.6h0M1033.9 1194h0M1033.7 1191.4h0M1033.6 1186.2h0M1035.1 1210.7h0M1035.1 1248.5h0M1034.8 1208.1h0M1034.8 1205.5h0M1035 1202.9h0M1035 1200.3h0M1035.3 1197.7h0M1034.8 1195.1h0M1036.3 1218h0M1036.3 1253.2h0M1036.2 1215.4h0M1036.2 1212.8h0M1036.4 1207.6h0M1036.6 1199.8h0M1036.4 1197.2h0M1037.5 1213.4h0M1037.5 1248h0M1037.5 1210.8h0M1037.2 1208.2h0M1037.6 1205.6h0M1037.3 1203h0M1037.5 1200.4h0M1037.7 1195.2h0M1037.2 1190h0M1037.2 1187.4h0M1037.3 1250.6h0M1038.7 1211.2h0M1038.7 1250.4h0M1038.6 1208.6h0M1038.7 1206h0M1038.7 1203.4h0M1038.5 1200.8h0M1038.6 1195.6h0M1038.4 1193h0M1039 1187.8h0M1039.9 1211.9h0M1039.9 1246.7h0M1039.7 1209.3h0M1040.1 1206.7h0M1039.9 1201.5h0M1039.6 1198.9h0M1039.8 1196.3h0M1039.9 1193.7h0M1039.9 1191.1h0M1039.9 1188.5h0M1039.6 1249.3h0M1039.8 1251.9h0M1041.1 1216.4h0M1041.1 1247.6h0M1041.1 1211.2h0M1041 1208.6h0M1041.1 1206h0M1041 1198.2h0M1042.3 1206.5h0M1042.3 1244.5h0M1042.5 1201.3h0M1041.9 1198.7h0M1043.5 1210.9h0M1043.5 1248.7h0M1044.7 1210.7h0M1044.7 1246.9h0M1045.9 1212.2h0M1045.9 1248.4h0M1045.9 1209.6h0M1046.1 1207h0M1046.1 1204.4h0M1047.1 1212.5h0M1047.1 1249.2h0M1047 1209.9h0M1047.5 1204.7h0M1047.3 1202.1h0M1047 1251.8h0M1048.3 1211.7h0M1048.3 1252.6h0M1049.5 1215.7h0M1049.5 1255h0M1049.8 1213.1h0M1049.3 1210.5h0M1049.2 1207.9h0M1049.6 1205.3h0M1050.7 1216.8h0M1050.7 1252.8h0M1050.7 1214.2h0M1051.9 1212h0M1051.9 1252h0M1053.1 1210.4h0M1053.1 1254h0M1052.8 1207.8h0M1054.3 1207.7h0M1054.3 1253.8h0M1053.9 1205.1h0M1054.1 1202.5h0M1053.9 1199.9h0M1054.2 1197.3h0M1054.1 1194.7h0M1055.5 1211.2h0M1055.5 1253.7h0M1055.5 1206h0M1055.5 1203.4h0M1056.7 1212.3h0M1056.7 1253.4h0M1056.5 1209.7h0M1056.3 1207.1h0M1057.9 1210h0M1057.9 1249.2h0M1057.8 1204.8h0M1058.2 1202.2h0M1059.1 1213.9h0M1059.1 1245.5h0M1059 1248.1h0M1059 1250.7h0M1059 1253.3h0M1060.3 1217h0M1060.3 1248h0M1060.6 1250.6h0M1061.5 1214.5h0M1061.5 1248.1h0M1061.5 1209.3h0M1061.6 1206.7h0M1061.6 1204.1h0M1061.1 1201.5h0M1061.1 1198.9h0M1061.3 1196.3h0M1061.2 1193.7h0M1061.5 1191.1h0M1061.8 1188.5h0M1062.7 1213.3h0M1062.7 1247.1h0M1062.6 1210.7h0M1062.4 1208.1h0M1062.7 1205.5h0M1063 1200.3h0M1062.3 1197.7h0M1063 1195.1h0M1063 1192.5h0M1062.6 1187.3h0M1063.9 1209.7h0M1063.9 1249.8h0M1065.1 1214.3h0M1065.1 1254.7h0M1065.2 1211.7h0M1066.3 1209.2h0M1066.3 1252h0M1067.5 1213.5h0M1067.5 1251.3h0M1067.6 1210.9h0M1067.4 1208.3h0M1067.6 1205.7h0M1067.2 1203.1h0M1067.2 1200.5h0M1067.3 1195.3h0M1068.7 1214.5h0M1068.7 1247.9h0M1068.7 1211.9h0M1068.3 1209.3h0M1068.7 1206.7h0M1068.8 1201.5h0M1068.5 1198.9h0M1068.7 1196.3h0M1069.9 1212.4h0M1069.9 1248.7h0M1070.2 1209.8h0M1070 1207.2h0M1069.8 1204.6h0M1069.5 1199.4h0M1069.5 1196.8h0M1069.9 1194.2h0M1071.1 1214.5h0M1071.1 1248.4h0M1071.1 1211.9h0M1072.3 1213.1h0M1072.3 1248.5h0M1073.5 1215.1h0M1073.5 1247.6h0M1073.5 1212.5h0M1073.4 1209.9h0M1073.3 1207.3h0M1073.2 1204.7h0M1073.1 1202.1h0M1073.2 1196.9h0M1074.7 1209.6h0M1074.7 1246.3h0M1074.3 1207h0M1074.4 1204.4h0M1074.6 1201.8h0M1074.6 1199.2h0M1074.3 1196.6h0M1074.8 1194h0M1075 1191.4h0M1074.4 1188.8h0M1074.6 1186.2h0M1075.9 1213.4h0M1075.9 1246.8h0M1076 1210.8h0M1076.2 1205.6h0M1076.1 1203h0M1075.6 1200.4h0M1075.9 1197.8h0M1076 1249.4h0M1077.1 1213.5h0M1077.1 1247.7h0M1076.7 1210.9h0M1077.2 1208.3h0M1076.9 1205.7h0M1077 1203.1h0M1076.7 1200.5h0M1077 1197.9h0M1076.7 1250.3h0M1078.3 1210.5h0M1078.3 1247.9h0M1078.2 1207.9h0M1079.5 1214.3h0M1079.5 1247.4h0M1079.4 1211.7h0M1080.7 1213.4h0M1080.7 1247.8h0M1081.9 1212h0M1081.9 1253.4h0M1082.1 1209.4h0M1081.6 1204.2h0M1083.1 1216.9h0M1083.1 1251.3h0M1084.3 1215h0M1084.3 1249.4h0M1085.5 1218.2h0M1085.5 1254.9h0M1086.7 1215.7h0M1086.7 1254.6h0M1087.9 1213h0M1087.9 1250.8h0M1087.8 1210.4h0M1087.6 1207.8h0M1087.8 1205.2h0M1089.1 1218.4h0M1089.1 1253.1h0M1089.3 1213.2h0M1088.9 1210.6h0M1089.4 1208h0M1088.8 1205.4h0M1089.5 1200.2h0M1090.3 1218.3h0M1090.3 1253.6h0M1090.6 1215.7h0M1090.3 1213.1h0M1090.4 1210.5h0M1090.1 1207.9h0M1090.7 1205.3h0M1090.1 1202.7h0M1091.5 1214.2h0M1091.5 1253.6h0M1091.1 1211.6h0M1091.3 1209h0M1091.7 1206.4h0M1091.3 1203.8h0M1091.8 1201.2h0M1092.7 1212.4h0M1092.7 1246h0M1093.9 1215.6h0M1093.9 1247.1h0M1094 1213h0M1094 1210.4h0M1094.1 1207.8h0M1095.1 1216.5h0M1095.1 1247.8h0M1095.5 1213.9h0M1096.3 1214.2h0M1096.3 1247.9h0M1097.5 1213.5h0M1097.5 1249.2h0M1098.7 1215.3h0M1098.7 1246.8h0M1098.6 1212.7h0M1098.4 1210.1h0M1098.7 1207.5h0M1099.9 1211.1h0M1099.9 1246.9h0M1100.1 1208.5h0M1100.2 1205.9h0M1099.5 1203.3h0M1100.1 1200.7h0M1099.7 1195.5h0M1100.2 1192.9h0M1099.6 1190.3h0M1100.1 1187.7h0M1101.1 1213.9h0M1101.1 1245.4h0M1100.9 1211.3h0M1101 1208.7h0M1101.2 1203.5h0M1100.7 1200.9h0M1101.1 1198.3h0M1100.8 1248h0M1102.3 1213.2h0M1102.3 1245.9h0M1102.3 1210.6h0M1103.5 1215.9h0M1103.5 1246.3h0M1103.8 1210.7h0M1103.4 1208.1h0M1103.2 1205.5h0M1103.5 1200.3h0M1104.7 1209.7h0M1104.7 1247.1h0M1105 1207.1h0M1104.6 1204.5h0M1104.5 1201.9h0M1104.6 1249.7h0M1105.9 1207.5h0M1105.9 1244.1h0M1107.1 1208.4h0M1107.1 1248.2h0M1106.8 1250.8h0M1108.3 1210.8h0M1108.3 1248.5h0M1108.5 1208.2h0M1108.5 1205.6h0M1108.1 1203h0M1108.4 1200.4h0M1108.1 1197.8h0M1108 1195.2h0M1108.4 1192.6h0M1108.3 1251.1h0M1109.5 1216.7h0M1109.5 1249.8h0M1109.2 1214.1h0M1109.8 1208.9h0M1109.3 1206.3h0M1109.8 1203.7h0M1109.5 1201.1h0M1110.7 1213.1h0M1110.7 1250.4h0M1111.9 1211.2h0M1111.9 1254.1h0M1113.1 1211.7h0M1113.1 1254.2h0M1114.3 1210h0M1114.3 1251.4h0M1114.3 1207.4h0M1114 1202.2h0M1114.5 1199.6h0M1113.9 1197h0M1114.3 1194.4h0M1114.6 1191.8h0M1114.2 1189.2h0M1114.2 1186.6h0M1115.5 1210.6h0M1115.5 1249.8h0M1116.7 1210.5h0M1116.7 1249.9h0M1116.9 1207.9h0M1116.9 1205.3h0M1116.3 1202.7h0M1116.4 1200.1h0M1116.3 1252.5h0" stroke="#f20000" stroke-width="3.5" stroke-linecap="round" fill="none"/><polygon points="1118.4,1209.8 1119.3,1209.8 1120.5,1211.2 1121.7,1208.7 1122.9,1213.2 1124.1,1217.6 1125.3,1217.8 1126.5,1212.5 1127.7,1211.8 1128.9,1218.6 1130.1,1215.7 1131.3,1211.8 1132.5,1205.1 1133.7,1206.5 1134.9,1207 1136.1,1203.6 1137.3,1206.1 1138.5,1208.6 1139.7,1207.8 1140.9,1211 1142.1,1211.1 1143.3,1213.1 1144.5,1212.2 1145.7,1208.7 1146.9,1209.7 1148.1,1214.6 1149.3,1214.2 1150.5,1214.9 1151.7,1212.4 1152.9,1211.6 1154.1,1210.7 1155.3,1212.2 1156.5,1212.5 1157.7,1211.3 1158.9,1211.6 1160.1,1213 1161.3,1210.6 1162.5,1213.2 1163.7,1216.2 1164.9,1211.2 1166.1,1210.5 1167.3,1214.1 1168.5,1213.1 1169.7,1211.4 1170.9,1210.4 1172.1,1207.7 1173.3,1212.3 1174.5,1214.8 1175.7,1212.3 1176.9,1215.3 1178.1,1212.4 1179.3,1211.9 1180.5,1216 1181.7,1213.2 1182.9,1217.1 1184.1,1216 1185.3,1216.8 1186.5,1212.9 1187.7,1210.3 1188.9,1208.7 1190,1208.7 1190,1249.5 1188.9,1249.5 1187.7,1249.2 1186.5,1249.3 1185.3,1248 1184.1,1248.1 1182.9,1246.6 1181.7,1245.9 1180.5,1247.9 1179.3,1250.4 1178.1,1252.6 1176.9,1253.7 1175.7,1248.7 1174.5,1249.2 1173.3,1251 1172.1,1252.6 1170.9,1253.8 1169.7,1251.2 1168.5,1250.9 1167.3,1251.1 1166.1,1252.1 1164.9,1249.4 1163.7,1249.7 1162.5,1248.6 1161.3,1251.2 1160.1,1253.6 1158.9,1253.6 1157.7,1253.1 1156.5,1248.3 1155.3,1249.7 1154.1,1246.1 1152.9,1249.9 1151.7,1249.3 1150.5,1254.8 1149.3,1252.3 1148.1,1254.9 1146.9,1251.9 1145.7,1249.4 1144.5,1247.3 1143.3,1248.5 1142.1,1246.1 1140.9,1246.2 1139.7,1247.5 1138.5,1247.9 1137.3,1248.5 1136.1,1252.8 1134.9,1255 1133.7,1254.1 1132.5,1250.9 1131.3,1248.8 1130.1,1252.5 1128.9,1251.5 1127.7,1251.2 1126.5,1249.8 1125.3,1251.2 1124.1,1252 1122.9,1249.3 1121.7,1249.7 1120.5,1249 1119.3,1247 1118.4,1247" fill="#156dcf"/><path d="M1119.3 1209.8h0M1119.3 1247h0M1119.5 1207.2h0M1119.1 1204.6h0M1120.5 1211.2h0M1120.5 1249h0M1121.7 1208.7h0M1121.7 1249.7h0M1122 1206.1h0M1121.5 1203.5h0M1121.6 1200.9h0M1122.9 1213.2h0M1122.9 1249.3h0M1123 1210.6h0M1122.8 1208h0M1122.5 1205.4h0M1124.1 1217.6h0M1124.1 1252h0M1124.3 1215h0M1124.4 1212.4h0M1123.7 1209.8h0M1124.2 1207.2h0M1124.3 1199.4h0M1124.2 1196.8h0M1123.7 1194.2h0M1124.1 1189h0M1123.7 1186.4h0M1125.3 1217.8h0M1125.3 1251.2h0M1125.1 1215.2h0M1125.3 1212.6h0M1125.2 1210h0M1125.2 1207.4h0M1125.4 1204.8h0M1124.9 1202.2h0M1125.5 1199.6h0M1125 1197h0M1125.7 1194.4h0M1125.5 1189.2h0M1126.5 1212.5h0M1126.5 1249.8h0M1126.6 1209.9h0M1126.8 1204.7h0M1126.3 1199.5h0M1126.8 1196.9h0M1126.3 1194.3h0M1127.7 1211.8h0M1127.7 1251.2h0M1128 1209.2h0M1127.7 1206.6h0M1127.4 1204h0M1128.9 1218.6h0M1128.9 1251.5h0M1129.2 1216h0M1130.1 1215.7h0M1130.1 1252.5h0M1130.3 1213.1h0M1129.9 1205.3h0M1130.5 1202.7h0M1130 1200.1h0M1130.2 1197.5h0M1131.3 1211.8h0M1131.3 1248.8h0M1131 1209.2h0M1131.5 1206.6h0M1131.2 1204h0M1131.5 1201.4h0M1132.5 1205.1h0M1132.5 1250.9h0M1132.5 1202.5h0M1132.3 1197.3h0M1133.7 1206.5h0M1133.7 1254.1h0M1134 1203.9h0M1133.8 1201.3h0M1133.6 1198.7h0M1134 1196.1h0M1134.9 1207h0M1134.9 1255h0M1135.1 1204.4h0M1136.1 1203.6h0M1136.1 1252.8h0M1137.3 1206.1h0M1137.3 1248.5h0M1137.1 1203.5h0M1137.2 1200.9h0M1138.5 1208.6h0M1138.5 1247.9h0M1138.8 1206h0M1138.6 1203.4h0M1138.1 1198.2h0M1138.2 1195.6h0M1139.7 1207.8h0M1139.7 1247.5h0M1139.3 1205.2h0M1139.8 1202.6h0M1139.9 1200h0M1139.9 1197.4h0M1140.9 1211h0M1140.9 1246.2h0M1140.8 1208.4h0M1140.9 1205.8h0M1141.1 1203.2h0M1142.1 1211.1h0M1142.1 1246.1h0M1143.3 1213.1h0M1143.3 1248.5h0M1143.3 1251.1h0M1144.5 1212.2h0M1144.5 1247.3h0M1145.7 1208.7h0M1145.7 1249.4h0M1145.9 1252h0M1146.9 1209.7h0M1146.9 1251.9h0M1148.1 1214.6h0M1148.1 1254.9h0M1148.4 1212h0M1147.8 1209.4h0M1148 1206.8h0M1147.9 1204.2h0M1148.3 1201.6h0M1149.3 1214.2h0M1149.3 1252.3h0M1149.6 1203.8h0M1149.1 1201.2h0M1149.5 1198.6h0M1149.1 1193.4h0M1149.3 1190.8h0M1148.9 1188.2h0M1150.5 1214.9h0M1150.5 1254.8h0M1150.7 1212.3h0M1150.6 1209.7h0M1151.7 1212.4h0M1151.7 1249.3h0M1152 1209.8h0M1151.5 1251.9h0M1152.9 1211.6h0M1152.9 1249.9h0M1152.7 1209h0M1153.1 1206.4h0M1153 1203.8h0M1152.6 1201.2h0M1154.1 1210.7h0M1154.1 1246.1h0M1155.3 1212.2h0M1155.3 1249.7h0M1156.5 1212.5h0M1156.5 1248.3h0M1156.2 1250.9h0M1157.7 1211.3h0M1157.7 1253.1h0M1157.5 1208.7h0M1157.4 1206.1h0M1158.9 1211.6h0M1158.9 1253.6h0M1159 1209h0M1159.1 1203.8h0M1158.9 1201.2h0M1158.7 1198.6h0M1158.7 1196h0M1160.1 1213h0M1160.1 1253.6h0M1160.4 1210.4h0M1159.9 1207.8h0M1161.3 1210.6h0M1161.3 1251.2h0M1161 1208h0M1161 1205.4h0M1160.9 1202.8h0M1162.5 1213.2h0M1162.5 1248.6h0M1162.3 1210.6h0M1162.3 1208h0M1162.2 1205.4h0M1162.8 1202.8h0M1162.9 1200.2h0M1162.7 1195h0M1163.7 1216.2h0M1163.7 1249.7h0M1164 1213.6h0M1163.5 1211h0M1163.9 1208.4h0M1163.4 1203.2h0M1163.5 1200.6h0M1163.3 1198h0M1163.7 1195.4h0M1163.7 1192.8h0M1164.1 1190.2h0M1163.3 1187.6h0M1163.5 1185h0M1164.9 1211.2h0M1164.9 1249.4h0M1165.2 1208.6h0M1164.7 1206h0M1164.6 1203.4h0M1164.8 1200.8h0M1165.2 1198.2h0M1164.9 1193h0M1165 1190.4h0M1166.1 1210.5h0M1166.1 1252.1h0M1166.2 1207.9h0M1166 1205.3h0M1166.5 1202.7h0M1166 1197.5h0M1167.3 1214.1h0M1167.3 1251.1h0M1167.4 1211.5h0M1168.5 1213.1h0M1168.5 1250.9h0M1168.9 1210.5h0M1168.8 1207.9h0M1168.8 1202.7h0M1168.5 1200.1h0M1169.7 1211.4h0M1169.7 1251.2h0M1169.3 1208.8h0M1170.9 1210.4h0M1170.9 1253.8h0M1171.1 1207.8h0M1170.8 1205.2h0M1170.5 1202.6h0M1170.6 1200h0M1172.1 1207.7h0M1172.1 1252.6h0M1172 1205.1h0M1172.4 1199.9h0M1171.9 1192.1h0M1172.4 1189.5h0M1173.3 1212.3h0M1173.3 1251h0M1173.7 1209.7h0M1173.4 1207.1h0M1174.5 1214.8h0M1174.5 1249.2h0M1174.3 1209.6h0M1175.7 1212.3h0M1175.7 1248.7h0M1176.9 1215.3h0M1176.9 1253.7h0M1176.9 1212.7h0M1176.8 1210.1h0M1176.6 1207.5h0M1177.1 1204.9h0M1177 1202.3h0M1176.9 1194.5h0M1176.8 1189.3h0M1178.1 1212.4h0M1178.1 1252.6h0M1178.5 1209.8h0M1178.4 1207.2h0M1179.3 1211.9h0M1179.3 1250.4h0M1180.5 1216h0M1180.5 1247.9h0M1180.2 1250.5h0M1181.7 1213.2h0M1181.7 1245.9h0M1181.6 1210.6h0M1181.7 1208h0M1181.3 1248.5h0M1182.9 1217.1h0M1182.9 1246.6h0M1182.8 1214.5h0M1183 1211.9h0M1182.8 1201.5h0M1182.5 1198.9h0M1184.1 1216h0M1184.1 1248.1h0M1183.8 1210.8h0M1184.1 1208.2h0M1183.9 1205.6h0M1184.1 1203h0M1185.3 1216.8h0M1185.3 1248h0M1185.6 1214.2h0M1185.2 1209h0M1185.6 1206.4h0M1185.6 1203.8h0M1185.6 1201.2h0M1185.3 1198.6h0M1185.3 1196h0M1186.5 1212.9h0M1186.5 1249.3h0M1186.3 1210.3h0M1186.7 1207.7h0M1186.8 1205.1h0M1186.2 1202.5h0M1186.5 1199.9h0M1186.8 1251.9h0M1187.7 1210.3h0M1187.7 1249.2h0M1188.9 1208.7h0M1188.9 1249.5h0M1189 1252.1h0" stroke="#156dcf" stroke-width="3.5" stroke-linecap="round" fill="none"/><polygon points="1190,1211.1 1190.9,1211.1 1192.1,1212.6 1193.3,1210.6 1194.5,1213.3 1195.7,1210.6 1196.9,1212.7 1198.1,1215.5 1199.3,1212.8 1200.5,1212.6 1201.7,1214.1 1202.9,1213.4 1204.1,1211.4 1205.3,1208.8 1206.5,1212.9 1207.7,1212.5 1208.9,1214.7 1210.1,1213.9 1211.3,1212 1212.5,1212.6 1213.7,1211.6 1214.9,1211.2 1216.1,1211.4 1217.3,1210.6 1218.5,1214.8 1219.7,1210.7 1220.9,1207.7 1222.1,1211.9 1223.3,1209.9 1224.5,1212 1225.7,1209 1226.9,1208.9 1228.1,1207.1 1229.3,1211.5 1230.5,1211 1231.7,1213.4 1232.9,1211.1 1234.1,1215.6 1235.3,1208.1 1236.5,1207.2 1237.7,1211.1 1238.9,1210.3 1240.1,1210.1 1241.3,1209.8 1242.5,1207.9 1243.7,1208 1244.9,1209 1246.1,1214.9 1247.3,1215.2 1248.5,1213.2 1250.2,1213.2 1250.2,1251.6 1248.5,1251.6 1247.3,1251.3 1246.1,1253.9 1244.9,1249.9 1243.7,1251.3 1242.5,1250.9 1241.3,1252.2 1240.1,1252.8 1238.9,1246.6 1237.7,1249.7 1236.5,1253.3 1235.3,1249.9 1234.1,1252.8 1232.9,1254.6 1231.7,1251.4 1230.5,1252.5 1229.3,1251.2 1228.1,1249.8 1226.9,1253 1225.7,1254.4 1224.5,1249.4 1223.3,1248.9 1222.1,1249.4 1220.9,1252.2 1219.7,1247 1218.5,1246.8 1217.3,1250.5 1216.1,1253.5 1214.9,1252.2 1213.7,1254.5 1212.5,1250 1211.3,1248 1210.1,1249.2 1208.9,1249.2 1207.7,1249.7 1206.5,1248.4 1205.3,1249.5 1204.1,1253.4 1202.9,1254.4 1201.7,1253.2 1200.5,1253.8 1199.3,1254.3 1198.1,1251.7 1196.9,1249.7 1195.7,1249.5 1194.5,1248.5 1193.3,1249.3 1192.1,1252.2 1190.9,1250.4 1190,1250.4" fill="#f20000"/><path d="M1190.9 1211.1h0M1190.9 1250.4h0M1192.1 1212.6h0M1192.1 1252.2h0M1193.3 1210.6h0M1193.3 1249.3h0M1194.5 1213.3h0M1194.5 1248.5h0M1195.7 1210.6h0M1195.7 1249.5h0M1196.9 1212.7h0M1196.9 1249.7h0M1196.8 1210.1h0M1196.7 1202.3h0M1197 1199.7h0M1196.6 1197.1h0M1196.8 1194.5h0M1198.1 1215.5h0M1198.1 1251.7h0M1198.3 1212.9h0M1197.8 1210.3h0M1197.8 1205.1h0M1198.3 1202.5h0M1199.3 1212.8h0M1199.3 1254.3h0M1199.3 1205h0M1199 1202.4h0M1198.9 1199.8h0M1198.9 1197.2h0M1200.5 1212.6h0M1200.5 1253.8h0M1200.3 1210h0M1200.6 1207.4h0M1200.7 1204.8h0M1200.3 1202.2h0M1200.2 1199.6h0M1200.5 1197h0M1200.6 1194.4h0M1200.7 1191.8h0M1201.7 1214.1h0M1201.7 1253.2h0M1201.9 1211.5h0M1202.9 1213.4h0M1202.9 1254.4h0M1204.1 1211.4h0M1204.1 1253.4h0M1204 1208.8h0M1204.5 1201h0M1204.1 1198.4h0M1204.4 1195.8h0M1204 1193.2h0M1205.3 1208.8h0M1205.3 1249.5h0M1205.2 1206.2h0M1205.3 1203.6h0M1205.2 1201h0M1205 1198.4h0M1205 1195.8h0M1206.5 1212.9h0M1206.5 1248.4h0M1207.7 1212.5h0M1207.7 1249.7h0M1208.9 1214.7h0M1208.9 1249.2h0M1208.9 1209.5h0M1208.9 1206.9h0M1208.6 1204.3h0M1209.2 1201.7h0M1208.5 1199.1h0M1208.7 1196.5h0M1209.1 1193.9h0M1209.1 1191.3h0M1208.9 1186.1h0M1210.1 1213.9h0M1210.1 1249.2h0M1210.4 1251.8h0M1211.3 1212h0M1211.3 1248h0M1212.5 1212.6h0M1212.5 1250h0M1212.3 1210h0M1213.7 1211.6h0M1213.7 1254.5h0M1213.8 1209h0M1213.7 1206.4h0M1214.9 1211.2h0M1214.9 1252.2h0M1216.1 1211.4h0M1216.1 1253.5h0M1216.1 1208.8h0M1217.3 1210.6h0M1217.3 1250.5h0M1217 1208h0M1217.3 1205.4h0M1217.5 1200.2h0M1217.3 1197.6h0M1217.1 1195h0M1218.5 1214.8h0M1218.5 1246.8h0M1219.7 1210.7h0M1219.7 1247h0M1220.9 1207.7h0M1220.9 1252.2h0M1222.1 1211.9h0M1222.1 1249.4h0M1221.9 1209.3h0M1222.1 1206.7h0M1223.3 1209.9h0M1223.3 1248.9h0M1223 1207.3h0M1222.9 1251.5h0M1224.5 1212h0M1224.5 1249.4h0M1225.7 1209h0M1225.7 1254.4h0M1225.6 1206.4h0M1225.5 1203.8h0M1225.4 1201.2h0M1225.4 1198.6h0M1226 1196h0M1225.8 1193.4h0M1225.9 1190.8h0M1226.9 1208.9h0M1226.9 1253h0M1226.5 1206.3h0M1227.1 1203.7h0M1228.1 1207.1h0M1228.1 1249.8h0M1229.3 1211.5h0M1229.3 1251.2h0M1229.3 1208.9h0M1229.6 1206.3h0M1229 1203.7h0M1228.9 1201.1h0M1229 1188.1h0M1230.5 1211h0M1230.5 1252.5h0M1230.1 1208.4h0M1230.3 1205.8h0M1230.4 1203.2h0M1230.4 1200.6h0M1230.1 1198h0M1230.7 1195.4h0M1230.7 1192.8h0M1231.7 1213.4h0M1231.7 1251.4h0M1231.3 1210.8h0M1231.7 1208.2h0M1231.8 1205.6h0M1231.7 1203h0M1231.7 1200.4h0M1232 1195.2h0M1232.1 1192.6h0M1232.9 1211.1h0M1232.9 1254.6h0M1232.9 1208.5h0M1233 1205.9h0M1232.8 1203.3h0M1233.1 1198.1h0M1233.1 1195.5h0M1232.5 1192.9h0M1232.5 1190.3h0M1232.6 1187.7h0M1234.1 1215.6h0M1234.1 1252.8h0M1234 1213h0M1233.9 1210.4h0M1233.8 1205.2h0M1234.2 1202.6h0M1234.3 1200h0M1234 1197.4h0M1233.9 1194.8h0M1233.7 1192.2h0M1234 1189.6h0M1235.3 1208.1h0M1235.3 1249.9h0M1235.2 1205.5h0M1236.5 1207.2h0M1236.5 1253.3h0M1237.7 1211.1h0M1237.7 1249.7h0M1237.4 1208.5h0M1237.9 1205.9h0M1238.9 1210.3h0M1238.9 1246.6h0M1239 1205.1h0M1240.1 1210.1h0M1240.1 1252.8h0M1239.9 1207.5h0M1241.3 1209.8h0M1241.3 1252.2h0M1242.5 1207.9h0M1242.5 1250.9h0M1243.7 1208h0M1243.7 1251.3h0M1244.9 1209h0M1244.9 1249.9h0M1244.8 1206.4h0M1246.1 1214.9h0M1246.1 1253.9h0M1247.3 1215.2h0M1247.3 1251.3h0M1248.5 1213.2h0M1248.5 1251.6h0" stroke="#f20000" stroke-width="3.5" stroke-linecap="round" fill="none"/><polygon points="1250.2,1214.3 1251.1,1214.3 1252.3,1205.8 1253.5,1215.5 1254.7,1213.8 1255.9,1217.7 1257.1,1212.3 1258.3,1212.4 1259.5,1209.4 1260.7,1211.3 1261.9,1207 1263.1,1210.5 1264.3,1209.3 1265.5,1210.3 1266.7,1208 1267.9,1210.8 1269.1,1205.6 1270.3,1206.6 1271.5,1212.2 1272.7,1207.3 1273.9,1209 1275.1,1208 1276.3,1205 1277.5,1208.5 1278.7,1209.8 1279.9,1210.7 1281.1,1211.1 1282.3,1212.4 1283.5,1205.6 1284.7,1208.5 1285.9,1206.2 1287.1,1206.1 1288.3,1206.1 1288.3,1252.3 1287.1,1252.3 1285.9,1251.9 1284.7,1249.5 1283.5,1252.7 1282.3,1250.3 1281.1,1247.7 1279.9,1244.8 1278.7,1247.6 1277.5,1250.5 1276.3,1246.3 1275.1,1247.2 1273.9,1249.8 1272.7,1252.5 1271.5,1252.4 1270.3,1253.3 1269.1,1247.4 1267.9,1250.5 1266.7,1249.8 1265.5,1250.6 1264.3,1249.7 1263.1,1248.1 1261.9,1247.4 1260.7,1247.2 1259.5,1249.3 1258.3,1249.5 1257.1,1250.4 1255.9,1252.3 1254.7,1250.6 1253.5,1250.7 1252.3,1251.6 1251.1,1249.3 1250.2,1249.3" fill="#156dcf"/><path d="M1251.1 1214.3h0M1251.1 1249.3h0M1252.3 1205.8h0M1252.3 1251.6h0M1253.5 1215.5h0M1253.5 1250.7h0M1254.7 1213.8h0M1254.7 1250.6h0M1254.6 1211.2h0M1254.8 1208.6h0M1254.3 1203.4h0M1254.3 1200.8h0M1254.6 1198.2h0M1254.9 1195.6h0M1255.1 1193h0M1255.9 1217.7h0M1255.9 1252.3h0M1255.5 1215.1h0M1255.5 1212.5h0M1255.6 1209.9h0M1255.9 1207.3h0M1255.5 1204.7h0M1257.1 1212.3h0M1257.1 1250.4h0M1258.3 1212.4h0M1258.3 1249.5h0M1259.5 1209.4h0M1259.5 1249.3h0M1259.4 1206.8h0M1259.7 1251.9h0M1260.7 1211.3h0M1260.7 1247.2h0M1260.9 1206.1h0M1261.9 1207h0M1261.9 1247.4h0M1262 1204.4h0M1261.9 1201.8h0M1261.9 1199.2h0M1262.1 1196.6h0M1261.8 1250h0M1261.8 1252.6h0M1263.1 1210.5h0M1263.1 1248.1h0M1263.4 1207.9h0M1262.9 1205.3h0M1263.4 1202.7h0M1263.1 1200.1h0M1264.3 1209.3h0M1264.3 1249.7h0M1265.5 1210.3h0M1265.5 1250.6h0M1265.1 1207.7h0M1265.1 1205.1h0M1266.7 1208h0M1266.7 1249.8h0M1267.9 1210.8h0M1267.9 1250.5h0M1269.1 1205.6h0M1269.1 1247.4h0M1270.3 1206.6h0M1270.3 1253.3h0M1271.5 1212.2h0M1271.5 1252.4h0M1271.4 1209.6h0M1271.2 1207h0M1271.4 1204.4h0M1271.2 1201.8h0M1271.8 1199.2h0M1271.4 1196.6h0M1271.8 1194h0M1272.7 1207.3h0M1272.7 1252.5h0M1272.4 1204.7h0M1272.6 1202.1h0M1272.4 1196.9h0M1272.8 1194.3h0M1273.9 1209h0M1273.9 1249.8h0M1273.9 1206.4h0M1273.5 1203.8h0M1273.5 1201.2h0M1273.9 1198.6h0M1275.1 1208h0M1275.1 1247.2h0M1275.4 1205.4h0M1274.7 1202.8h0M1274.7 1200.2h0M1275.4 1197.6h0M1275.3 1192.4h0M1275.4 1187.2h0M1275.1 1249.8h0M1276.3 1205h0M1276.3 1246.3h0M1276.2 1199.8h0M1276.4 1197.2h0M1277.5 1208.5h0M1277.5 1250.5h0M1277.4 1205.9h0M1277.4 1203.3h0M1277.5 1200.7h0M1278.7 1209.8h0M1278.7 1247.6h0M1279.9 1210.7h0M1279.9 1244.8h0M1281.1 1211.1h0M1281.1 1247.7h0M1280.7 1208.5h0M1280.9 1205.9h0M1281.4 1250.3h0M1282.3 1212.4h0M1282.3 1250.3h0M1283.5 1205.6h0M1283.5 1252.7h0M1283.6 1203h0M1283.7 1200.4h0M1283.3 1197.8h0M1283.8 1195.2h0M1283.2 1192.6h0M1284.7 1208.5h0M1284.7 1249.5h0M1285 1205.9h0M1285 1203.3h0M1284.3 1200.7h0M1284.5 1198.1h0M1285 1195.5h0M1284.9 1192.9h0M1285.9 1206.2h0M1285.9 1251.9h0M1285.7 1203.6h0M1287.1 1206.1h0M1287.1 1252.3h0M1287.1 1203.5h0" stroke="#156dcf" stroke-width="3.5" stroke-linecap="round" fill="none"/><polygon points="1288.3,1214.8 1289.2,1214.8 1290.4,1213.3 1291.6,1212.1 1292.8,1208.6 1294,1210.5 1295.2,1213.3 1296.4,1209.7 1297.6,1208.9 1298.8,1209.2 1300,1211 1301.2,1208.1 1302.4,1213.3 1303.6,1216.8 1304.8,1218.3 1306,1220.5 1307.2,1214.2 1308.4,1208.1 1309.6,1212.6 1310.8,1212.5 1311.9,1212.5 1311.9,1251.8 1310.8,1251.8 1309.6,1250.8 1308.4,1250.6 1307.2,1250.2 1306,1249.5 1304.8,1251.2 1303.6,1249.1 1302.4,1249.3 1301.2,1247.7 1300,1249 1298.8,1245.1 1297.6,1243.3 1296.4,1243.8 1295.2,1247.4 1294,1254.2 1292.8,1254.6 1291.6,1253.3 1290.4,1245.7 1289.2,1251.7 1288.3,1251.7" fill="#f20000"/><path d="M1289.2 1214.8h0M1289.2 1251.7h0M1289.4 1212.2h0M1290.4 1213.3h0M1290.4 1245.7h0M1291.6 1212.1h0M1291.6 1253.3h0M1291.3 1206.9h0M1291.8 1204.3h0M1291.3 1201.7h0M1292.8 1208.6h0M1292.8 1254.6h0M1293.1 1206h0M1292.5 1203.4h0M1292.4 1200.8h0M1292.7 1195.6h0M1293 1193h0M1294 1210.5h0M1294 1254.2h0M1295.2 1213.3h0M1295.2 1247.4h0M1295.4 1210.7h0M1294.9 1205.5h0M1294.9 1202.9h0M1296.4 1209.7h0M1296.4 1243.8h0M1296.6 1207.1h0M1297.6 1208.9h0M1297.6 1243.3h0M1297.5 1206.3h0M1297.7 1245.9h0M1297.3 1248.5h0M1298.8 1209.2h0M1298.8 1245.1h0M1299.2 1204h0M1299.1 1201.4h0M1299 1198.8h0M1298.8 1196.2h0M1298.5 1193.6h0M1299 1191h0M1299.1 1247.7h0M1300 1211h0M1300 1249h0M1301.2 1208.1h0M1301.2 1247.7h0M1301.3 1205.5h0M1301.3 1202.9h0M1301.1 1250.3h0M1302.4 1213.3h0M1302.4 1249.3h0M1302.5 1210.7h0M1302.1 1208.1h0M1302.7 1205.5h0M1302.6 1202.9h0M1303.6 1216.8h0M1303.6 1249.1h0M1303.8 1211.6h0M1303.7 1209h0M1303.5 1206.4h0M1303.2 1203.8h0M1303.9 1201.2h0M1303.3 1198.6h0M1304.8 1218.3h0M1304.8 1251.2h0M1304.6 1215.7h0M1305.1 1213.1h0M1305 1210.5h0M1304.6 1207.9h0M1304.4 1205.3h0M1304.8 1202.7h0M1306 1220.5h0M1306 1249.5h0M1305.7 1217.9h0M1305.7 1215.3h0M1306.1 1212.7h0M1306 1210.1h0M1305.9 1252.1h0M1307.2 1214.2h0M1307.2 1250.2h0M1307.3 1252.8h0M1308.4 1208.1h0M1308.4 1250.6h0M1309.6 1212.6h0M1309.6 1250.8h0M1309.9 1210h0M1309.4 1207.4h0M1309.8 1204.8h0M1309.5 1202.2h0M1309.7 1199.6h0M1309.6 1197h0M1310.8 1212.5h0M1310.8 1251.8h0" stroke="#f20000" stroke-width="3.5" stroke-linecap="round" fill="none"/><polygon points="1311.9,1212 1312.8,1212 1314,1212.5 1315.2,1214.6 1316.4,1212.2 1317.6,1211.6 1318.8,1215.1 1320,1211 1321.2,1208.1 1322.4,1208.5 1323.6,1209.7 1324.8,1209.9 1326,1210.9 1327.2,1211.5 1328.4,1213.9 1329.6,1212.8 1330.8,1213.3 1332,1215.3 1333.2,1213 1334.4,1205.5 1335.5,1205.5 1335.5,1252.6 1334.4,1252.6 1333.2,1251 1332,1250.5 1330.8,1249.1 1329.6,1254.1 1328.4,1254 1327.2,1250.2 1326,1249.4 1324.8,1249.8 1323.6,1252.2 1322.4,1248.1 1321.2,1250.2 1320,1253.8 1318.8,1250.8 1317.6,1252.5 1316.4,1249.5 1315.2,1254.1 1314,1254.1 1312.8,1250.2 1311.9,1250.2" fill="#156dcf"/><path d="M1312.8 1212h0M1312.8 1250.2h0M1312.8 1209.4h0M1314 1212.5h0M1314 1254.1h0M1313.6 1209.9h0M1315.2 1214.6h0M1315.2 1254.1h0M1315.3 1212h0M1315.3 1209.4h0M1316.4 1212.2h0M1316.4 1249.5h0M1316.4 1252.1h0M1317.6 1211.6h0M1317.6 1252.5h0M1318.8 1215.1h0M1318.8 1250.8h0M1318.8 1212.5h0M1319 1209.9h0M1318.9 1207.3h0M1320 1211h0M1320 1253.8h0M1320.3 1208.4h0M1319.8 1203.2h0M1319.7 1200.6h0M1321.2 1208.1h0M1321.2 1250.2h0M1321.3 1205.5h0M1321.5 1202.9h0M1321.4 1197.7h0M1322.4 1208.5h0M1322.4 1248.1h0M1322.5 1205.9h0M1322.4 1203.3h0M1322.6 1200.7h0M1322.3 1198.1h0M1322 1195.5h0M1322.3 1192.9h0M1322.6 1253.3h0M1323.6 1209.7h0M1323.6 1252.2h0M1323.9 1207.1h0M1323.2 1204.5h0M1323.9 1201.9h0M1323.7 1196.7h0M1323.4 1194.1h0M1324.8 1209.9h0M1324.8 1249.8h0M1324.7 1252.4h0M1326 1210.9h0M1326 1249.4h0M1325.6 1252h0M1327.2 1211.5h0M1327.2 1250.2h0M1327.3 1208.9h0M1328.4 1213.9h0M1328.4 1254h0M1328.3 1211.3h0M1328.2 1208.7h0M1329.6 1212.8h0M1329.6 1254.1h0M1329.6 1210.2h0M1329.4 1207.6h0M1329.9 1205h0M1329.5 1202.4h0M1329.3 1199.8h0M1329.7 1197.2h0M1330.8 1213.3h0M1330.8 1249.1h0M1330.9 1208.1h0M1330.4 1205.5h0M1330.7 1202.9h0M1332 1215.3h0M1332 1250.5h0M1332 1210.1h0M1331.7 1207.5h0M1333.2 1213h0M1333.2 1251h0M1333.5 1205.2h0M1333.2 1202.6h0M1333.5 1200h0M1333.4 1197.4h0M1334.4 1205.5h0M1334.4 1252.6h0" stroke="#156dcf" stroke-width="3.5" stroke-linecap="round" fill="none"/><polygon points="1335.5,1211.5 1336.4,1211.5 1337.6,1213.2 1338.8,1210.6 1340,1216.9 1341.2,1213.9 1342.4,1210.4 1343.6,1210.8 1344.8,1214.1 1346,1213.8 1347.2,1210.3 1348.4,1212.4 1349.6,1211.1 1350.8,1214.6 1352,1208.7 1353.2,1209.1 1354.4,1215.9 1355.9,1215.9 1355.9,1246.7 1354.4,1246.7 1353.2,1247.6 1352,1246 1350.8,1247.8 1349.6,1248.1 1348.4,1249.1 1347.2,1248.9 1346,1247.4 1344.8,1247.6 1343.6,1249.5 1342.4,1250.1 1341.2,1250.8 1340,1252.3 1338.8,1249.4 1337.6,1248.4 1336.4,1251.8 1335.5,1251.8" fill="#f20000"/><path d="M1336.4 1211.5h0M1336.4 1251.8h0M1336.2 1208.9h0M1337.6 1213.2h0M1337.6 1248.4h0M1338.8 1210.6h0M1338.8 1249.4h0M1340 1216.9h0M1340 1252.3h0M1339.8 1211.7h0M1340.4 1209.1h0M1340.1 1206.5h0M1339.8 1203.9h0M1339.6 1201.3h0M1340 1198.7h0M1339.7 1196.1h0M1340.2 1190.9h0M1339.6 1185.7h0M1341.2 1213.9h0M1341.2 1250.8h0M1340.9 1208.7h0M1342.4 1210.4h0M1342.4 1250.1h0M1342.2 1207.8h0M1343.6 1210.8h0M1343.6 1249.5h0M1343.7 1208.2h0M1343.3 1205.6h0M1343.5 1200.4h0M1344.8 1214.1h0M1344.8 1247.6h0M1346 1213.8h0M1346 1247.4h0M1345.7 1211.2h0M1345.8 1208.6h0M1345.8 1203.4h0M1345.9 1200.8h0M1347.2 1210.3h0M1347.2 1248.9h0M1348.4 1212.4h0M1348.4 1249.1h0M1348 1209.8h0M1348.7 1207.2h0M1348.1 1204.6h0M1348.5 1202h0M1348.3 1199.4h0M1348.3 1196.8h0M1348.4 1194.2h0M1348 1191.6h0M1348.2 1189h0M1349.6 1211.1h0M1349.6 1248.1h0M1350.8 1214.6h0M1350.8 1247.8h0M1350.6 1212h0M1352 1208.7h0M1352 1246h0M1352.4 1206.1h0M1352.3 1203.5h0M1351.8 1200.9h0M1351.9 1248.6h0M1351.9 1251.2h0M1353.2 1209.1h0M1353.2 1247.6h0M1353 1206.5h0M1353.2 1203.9h0M1354.4 1215.9h0M1354.4 1246.7h0M1354.4 1213.3h0" stroke="#f20000" stroke-width="3.5" stroke-linecap="round" fill="none"/><polygon points="1355.9,1213.9 1356.8,1213.9 1358,1209.7 1359.2,1209.3 1360.4,1218 1361.6,1217.5 1362.8,1212.5 1364,1213.3 1365.2,1213.3 1366.4,1211.5 1367.6,1213.9 1368.8,1211.5 1370,1214.9 1371.6,1214.9 1371.6,1249 1370,1249 1368.8,1250.6 1367.6,1251.8 1366.4,1248.2 1365.2,1246.7 1364,1248.5 1362.8,1251.9 1361.6,1250.9 1360.4,1251 1359.2,1249.5 1358,1250.3 1356.8,1247.6 1355.9,1247.6" fill="#156dcf"/><path d="M1356.8 1213.9h0M1356.8 1247.6h0M1356.7 1211.3h0M1358 1209.7h0M1358 1250.3h0M1357.7 1207.1h0M1359.2 1209.3h0M1359.2 1249.5h0M1358.8 1206.7h0M1359.2 1204.1h0M1359.1 1201.5h0M1360.4 1218h0M1360.4 1251h0M1360.6 1215.4h0M1360 1212.8h0M1360.7 1210.2h0M1360.5 1207.6h0M1361.6 1217.5h0M1361.6 1250.9h0M1362.8 1212.5h0M1362.8 1251.9h0M1362.7 1209.9h0M1364 1213.3h0M1364 1248.5h0M1364 1208.1h0M1364.2 1205.5h0M1363.6 1202.9h0M1363.6 1200.3h0M1364.3 1197.7h0M1363.6 1195.1h0M1363.7 1192.5h0M1365.2 1213.3h0M1365.2 1246.7h0M1365.2 1249.3h0M1366.4 1211.5h0M1366.4 1248.2h0M1367.6 1213.9h0M1367.6 1251.8h0M1367.7 1211.3h0M1368.8 1211.5h0M1368.8 1250.6h0M1368.6 1208.9h0M1370 1214.9h0M1370 1249h0" stroke="#156dcf" stroke-width="3.5" stroke-linecap="round" fill="none"/><polygon points="1371.6,1210.8 1372.5,1210.8 1373.7,1212.4 1374.9,1214.3 1376.1,1217.4 1377.3,1215.7 1378.5,1221.7 1379.7,1218.3 1380.9,1215.2 1382.1,1214.3 1383.3,1212.9 1384.9,1212.9 1384.9,1251.7 1383.3,1251.7 1382.1,1254.2 1380.9,1254.8 1379.7,1253.9 1378.5,1251.4 1377.3,1247.3 1376.1,1250.6 1374.9,1247.1 1373.7,1247.5 1372.5,1251.2 1371.6,1251.2" fill="#f20000"/><path d="M1372.5 1210.8h0M1372.5 1251.2h0M1373.7 1212.4h0M1373.7 1247.5h0M1374.9 1214.3h0M1374.9 1247.1h0M1374.9 1249.7h0M1376.1 1217.4h0M1376.1 1250.6h0M1376 1253.2h0M1377.3 1215.7h0M1377.3 1247.3h0M1377.2 1213.1h0M1376.9 1210.5h0M1378.5 1221.7h0M1378.5 1251.4h0M1378.2 1219.1h0M1378.2 1216.5h0M1378.4 1213.9h0M1378.8 1211.3h0M1378.2 1208.7h0M1378.4 1206.1h0M1378.3 1203.5h0M1378.2 1200.9h0M1378.7 1198.3h0M1378.8 1190.5h0M1378.6 1187.9h0M1379.7 1218.3h0M1379.7 1253.9h0M1379.8 1215.7h0M1379.8 1213.1h0M1380.9 1215.2h0M1380.9 1254.8h0M1382.1 1214.3h0M1382.1 1254.2h0M1383.3 1212.9h0M1383.3 1251.7h0" stroke="#f20000" stroke-width="3.5" stroke-linecap="round" fill="none"/><polygon points="1384.9,1214.4 1385.8,1214.4 1387,1212.9 1388.2,1214.7 1389.4,1215.2 1390.6,1211.1 1391.8,1213 1393,1207.1 1394.2,1210.9 1395.4,1208.7 1396.6,1214.3 1397.5,1214.3 1397.5,1249.4 1396.6,1249.4 1395.4,1248.6 1394.2,1251.2 1393,1251.9 1391.8,1250.5 1390.6,1250.9 1389.4,1249 1388.2,1251.6 1387,1248 1385.8,1246.5 1384.9,1246.5" fill="#156dcf"/><path d="M1385.8 1214.4h0M1385.8 1246.5h0M1387 1212.9h0M1387 1248h0M1386.7 1210.3h0M1387.2 1205.1h0M1386.9 1202.5h0M1388.2 1214.7h0M1388.2 1251.6h0M1389.4 1215.2h0M1389.4 1249h0M1389.5 1212.6h0M1390.6 1211.1h0M1390.6 1250.9h0M1391.8 1213h0M1391.8 1250.5h0M1391.5 1210.4h0M1393 1207.1h0M1393 1251.9h0M1393 1201.9h0M1392.8 1199.3h0M1393.3 1196.7h0M1393.2 1191.5h0M1392.9 1188.9h0M1394.2 1210.9h0M1394.2 1251.2h0M1393.9 1208.3h0M1394.5 1205.7h0M1395.4 1208.7h0M1395.4 1248.6h0M1395.2 1203.5h0M1396.6 1214.3h0M1396.6 1249.4h0" stroke="#156dcf" stroke-width="3.5" stroke-linecap="round" fill="none"/><polygon points="1397.5,1207.5 1398.4,1207.5 1399.6,1207 1400.8,1210.2 1402,1212.3 1403.2,1211.7 1404.4,1207.3 1405.6,1210.4 1406.8,1208.1 1408,1210.9 1409.2,1209.5 1410.8,1209.5 1410.8,1248.8 1409.2,1248.8 1408,1250.3 1406.8,1249.5 1405.6,1251 1404.4,1254.4 1403.2,1250.9 1402,1248.9 1400.8,1249.8 1399.6,1250.7 1398.4,1251.6 1397.5,1251.6" fill="#f20000"/><path d="M1398.4 1207.5h0M1398.4 1251.6h0M1399.6 1207h0M1399.6 1250.7h0M1400.8 1210.2h0M1400.8 1249.8h0M1400.8 1207.6h0M1402 1212.3h0M1402 1248.9h0M1402.2 1209.7h0M1403.2 1211.7h0M1403.2 1250.9h0M1403.5 1209.1h0M1403.5 1253.5h0M1404.4 1207.3h0M1404.4 1254.4h0M1405.6 1210.4h0M1405.6 1251h0M1405.2 1207.8h0M1405.7 1205.2h0M1405.6 1202.6h0M1406.8 1208.1h0M1406.8 1249.5h0M1406.5 1252.1h0M1408 1210.9h0M1408 1250.3h0M1409.2 1209.5h0M1409.2 1248.8h0" stroke="#f20000" stroke-width="3.5" stroke-linecap="round" fill="none"/><polygon points="1410.8,1208.5 1411.7,1208.5 1412.9,1210.1 1414.1,1208.1 1415.3,1208.6 1416.5,1207.9 1417.7,1205.2 1418.9,1210.2 1420.1,1214.8 1421.3,1220 1422.5,1220 1422.5,1249.1 1421.3,1249.1 1420.1,1250.2 1418.9,1249.4 1417.7,1252.6 1416.5,1248.7 1415.3,1247.9 1414.1,1248.2 1412.9,1249.9 1411.7,1249.8 1410.8,1249.8" fill="#156dcf"/><path d="M1411.7 1208.5h0M1411.7 1249.8h0M1411.3 1205.9h0M1411.4 1200.7h0M1412 1198.1h0M1411.6 1195.5h0M1411.5 1190.3h0M1412.9 1210.1h0M1412.9 1249.9h0M1414.1 1208.1h0M1414.1 1248.2h0M1414 1205.5h0M1413.8 1200.3h0M1414.4 1197.7h0M1413.9 1195.1h0M1414.5 1192.5h0M1414.3 1189.9h0M1415.3 1208.6h0M1415.3 1247.9h0M1416.5 1207.9h0M1416.5 1248.7h0M1417.7 1205.2h0M1417.7 1252.6h0M1418.9 1210.2h0M1418.9 1249.4h0M1418.6 1207.6h0M1419.1 1199.8h0M1419.3 1197.2h0M1420.1 1214.8h0M1420.1 1250.2h0M1420.2 1212.2h0M1420.3 1209.6h0M1420.1 1207h0M1420.4 1204.4h0M1420.5 1201.8h0M1419.8 1199.2h0M1420.2 1196.6h0M1420.1 1194h0M1421.3 1220h0M1421.3 1249.1h0M1420.9 1217.4h0M1421.6 1214.8h0M1421.2 1212.2h0M1421.3 1209.6h0" stroke="#156dcf" stroke-width="3.5" stroke-linecap="round" fill="none"/><polygon points="1422.5,1211.7 1423.4,1211.7 1424.6,1217.1 1425.8,1219.4 1427,1217 1428.2,1209 1429.4,1212.5 1430.6,1212 1431.8,1211.7 1432.7,1211.7 1432.7,1253 1431.8,1253 1430.6,1249 1429.4,1248.4 1428.2,1245.2 1427,1247.6 1425.8,1254.5 1424.6,1253.8 1423.4,1250.4 1422.5,1250.4" fill="#f20000"/><path d="M1423.4 1211.7h0M1423.4 1250.4h0M1423.7 1209.1h0M1423.3 1206.5h0M1424.6 1217.1h0M1424.6 1253.8h0M1424.5 1214.5h0M1424.3 1209.3h0M1425.8 1219.4h0M1425.8 1254.5h0M1427 1217h0M1427 1247.6h0M1427.1 1214.4h0M1426.7 1211.8h0M1427 1209.2h0M1428.2 1209h0M1428.2 1245.2h0M1429.4 1212.5h0M1429.4 1248.4h0M1429.4 1209.9h0M1429.3 1207.3h0M1429.3 1204.7h0M1429.3 1202.1h0M1430.6 1212h0M1430.6 1249h0M1431.8 1211.7h0M1431.8 1253h0M1431.7 1209.1h0M1431.9 1206.5h0M1431.7 1203.9h0M1431.5 1196.1h0M1431.6 1193.5h0M1431.8 1188.3h0M1431.9 1185.7h0" stroke="#f20000" stroke-width="3.5" stroke-linecap="round" fill="none"/><polygon points="1432.7,1214.8 1433.6,1214.8 1434.8,1211.1 1436,1211.2 1437.2,1219.2 1438.4,1209.8 1439.8,1209.8 1439.8,1249.9 1438.4,1249.9 1437.2,1249.4 1436,1250.7 1434.8,1244.1 1433.6,1250.2 1432.7,1250.2" fill="#156dcf"/><path d="M1433.6 1214.8h0M1433.6 1250.2h0M1433.6 1212.2h0M1434.8 1211.1h0M1434.8 1244.1h0M1434.6 1208.5h0M1434.9 1205.9h0M1434.8 1203.3h0M1436 1211.2h0M1436 1250.7h0M1436.1 1208.6h0M1436.3 1206h0M1437.2 1219.2h0M1437.2 1249.4h0M1436.9 1214h0M1437.3 1211.4h0M1438.4 1209.8h0M1438.4 1249.9h0" stroke="#156dcf" stroke-width="3.5" stroke-linecap="round" fill="none"/><polygon points="1439.8,1212.8 1440.7,1212.8 1441.9,1216.7 1442.9,1216.7 1442.9,1250.3 1441.9,1250.3 1440.7,1248.9 1439.8,1248.9" fill="#f20000"/><path d="M1440.7 1212.8h0M1440.7 1248.9h0M1441.9 1216.7h0M1441.9 1250.3h0" stroke="#f20000" stroke-width="3.5" stroke-linecap="round" fill="none"/><polygon points="1442.9,1213.5 1443.8,1213.5 1445,1215.3 1446.2,1216.1 1447.6,1216.1 1447.6,1246.5 1446.2,1246.5 1445,1247.9 1443.8,1248.5 1442.9,1248.5" fill="#156dcf"/><path d="M1443.8 1213.5h0M1443.8 1248.5h0M1444.1 1210.9h0M1443.5 1208.3h0M1444.1 1205.7h0M1445 1215.3h0M1445 1247.9h0M1445.3 1210.1h0M1445.3 1250.5h0M1446.2 1216.1h0M1446.2 1246.5h0M1446.1 1213.5h0" stroke="#156dcf" stroke-width="3.5" stroke-linecap="round" fill="none"/><polygon points="1447.6,1211 1448.5,1211 1449.7,1204.4 1450.9,1207.4 1452.1,1212.4 1453.3,1210.8 1454.5,1208.5 1455.5,1208.5 1455.5,1251 1454.5,1251 1453.3,1252.2 1452.1,1246.9 1450.9,1248.4 1449.7,1252.3 1448.5,1252.8 1447.6,1252.8" fill="#f20000"/><path d="M1448.5 1211h0M1448.5 1252.8h0M1449.7 1204.4h0M1449.7 1252.3h0M1450.9 1207.4h0M1450.9 1248.4h0M1451.2 1204.8h0M1452.1 1212.4h0M1452.1 1246.9h0M1452 1209.8h0M1453.3 1210.8h0M1453.3 1252.2h0M1454.5 1208.5h0M1454.5 1251h0M1454.8 1203.3h0M1454.2 1195.5h0" stroke="#f20000" stroke-width="3.5" stroke-linecap="round" fill="none"/><polygon points="1455.5,1207.5 1456.4,1207.5 1457.6,1210.1 1458.8,1211.7 1460,1211 1461.2,1210.1 1462.5,1210.1 1462.5,1251 1461.2,1251 1460,1251.1 1458.8,1249.5 1457.6,1248.6 1456.4,1251.6 1455.5,1251.6" fill="#156dcf"/><path d="M1456.4 1207.5h0M1456.4 1251.6h0M1457.6 1210.1h0M1457.6 1248.6h0M1458.8 1211.7h0M1458.8 1249.5h0M1460 1211h0M1460 1251.1h0M1459.8 1208.4h0M1460.4 1205.8h0M1460 1203.2h0M1460 1198h0M1459.6 1195.4h0M1459.7 1192.8h0M1459.8 1187.6h0M1461.2 1210.1h0M1461.2 1251h0" stroke="#156dcf" stroke-width="3.5" stroke-linecap="round" fill="none"/><polygon points="1462.5,1212 1463.4,1212 1464.6,1206.8 1465.8,1207.4 1467,1204.7 1468.2,1207.9 1469.4,1213.3 1471.2,1213.3 1471.2,1252.8 1469.4,1252.8 1468.2,1250.3 1467,1250.9 1465.8,1253.9 1464.6,1254.7 1463.4,1249.8 1462.5,1249.8" fill="#f20000"/><path d="M1463.4 1212h0M1463.4 1249.8h0M1464.6 1206.8h0M1464.6 1254.7h0M1465.8 1207.4h0M1465.8 1253.9h0M1465.9 1204.8h0M1466.1 1202.2h0M1466 1199.6h0M1466 1197h0M1465.5 1194.4h0M1465.9 1191.8h0M1465.8 1189.2h0M1466 1186.6h0M1467 1204.7h0M1467 1250.9h0M1466.9 1202.1h0M1467.2 1199.5h0M1467.3 1196.9h0M1467 1194.3h0M1467 1191.7h0M1466.7 1189.1h0M1468.2 1207.9h0M1468.2 1250.3h0M1469.4 1213.3h0M1469.4 1252.8h0" stroke="#f20000" stroke-width="3.5" stroke-linecap="round" fill="none"/><polygon points="1471.2,1212.3 1472.1,1212.3 1473.3,1212.2 1474.5,1213.8 1475.9,1213.8 1475.9,1250.6 1474.5,1250.6 1473.3,1253.4 1472.1,1250 1471.2,1250" fill="#156dcf"/><path d="M1472.1 1212.3h0M1472.1 1250h0M1473.3 1212.2h0M1473.3 1253.4h0M1474.5 1213.8h0M1474.5 1250.6h0M1474.6 1208.6h0M1474.3 1206h0M1474.7 1203.4h0M1474.2 1200.8h0M1474.1 1198.2h0M1474.3 1195.6h0M1474.5 1193h0" stroke="#156dcf" stroke-width="3.5" stroke-linecap="round" fill="none"/><polygon points="1475.9,1214.8 1476.8,1214.8 1478,1211.1 1479.2,1210.1 1480.6,1210.1 1480.6,1244.6 1479.2,1244.6 1478,1244.1 1476.8,1245.1 1475.9,1245.1" fill="#f20000"/><path d="M1476.8 1214.8h0M1476.8 1245.1h0M1478 1211.1h0M1478 1244.1h0M1478 1246.7h0M1479.2 1210.1h0M1479.2 1244.6h0M1479.1 1247.2h0M1479.5 1249.8h0" stroke="#f20000" stroke-width="3.5" stroke-linecap="round" fill="none"/><polygon points="1480.6,1211.7 1481.8,1211.7 1483,1211.7 1483,1249.4 1481.8,1249.4 1480.6,1249.4" fill="#156dcf"/><path d="M1481.8 1211.7h0M1481.8 1249.4h0" stroke="#156dcf" stroke-width="3.5" stroke-linecap="round" fill="none"/><polygon points="1483,1211 1483.9,1211 1485.1,1207.6 1487,1207.6 1487,1254.4 1485.1,1254.4 1483.9,1252.5 1483,1252.5" fill="#f20000"/><path d="M1483.9 1211h0M1483.9 1252.5h0M1485.1 1207.6h0M1485.1 1254.4h0" stroke="#f20000" stroke-width="3.5" stroke-linecap="round" fill="none"/><polygon points="1487,1212.5 1487.9,1212.5 1489.1,1204.8 1490,1204.8 1490,1252.4 1489.1,1252.4 1487.9,1249 1487,1249" fill="#156dcf"/><path d="M1487.9 1212.5h0M1487.9 1249h0M1488.1 1209.9h0M1488 1207.3h0M1489.1 1204.8h0M1489.1 1252.4h0M1489.2 1199.6h0M1489.1 1197h0" stroke="#156dcf" stroke-width="3.5" stroke-linecap="round" fill="none"/><polygon points="1490,1207.8 1490.9,1207.8 1492.1,1207.8 1493.1,1207.8 1493.1,1252.5 1492.1,1252.5 1490.9,1252.9 1490,1252.9" fill="#f20000"/><path d="M1490.9 1207.8h0M1490.9 1252.9h0M1492.1 1207.8h0M1492.1 1252.5h0M1492.4 1205.2h0" stroke="#f20000" stroke-width="3.5" stroke-linecap="round" fill="none"/><polygon points="1493.1,1209.1 1494,1209.1 1495.2,1206.7 1496.2,1206.7 1496.2,1252.2 1495.2,1252.2 1494,1248.6 1493.1,1248.6" fill="#156dcf"/><path d="M1494 1209.1h0M1494 1248.6h0M1495.2 1206.7h0M1495.2 1252.2h0" stroke="#156dcf" stroke-width="3.5" stroke-linecap="round" fill="none"/><polygon points="1496.2,1210.5 1497.1,1210.5 1498.3,1213.4 1500.2,1213.4 1500.2,1250.7 1498.3,1250.7 1497.1,1248.2 1496.2,1248.2" fill="#f20000"/><path d="M1497.1 1210.5h0M1497.1 1248.2h0M1498.3 1213.4h0M1498.3 1250.7h0M1498.1 1210.8h0" stroke="#f20000" stroke-width="3.5" stroke-linecap="round" fill="none"/><polygon points="1500.2,1211.5 1501.1,1211.5 1502.3,1208.1 1503.5,1212.2 1504.7,1214.1 1505.9,1212.8 1507.1,1205.1 1508.3,1211.3 1509.5,1206.1 1510.7,1207.1 1511.9,1207.5 1513.1,1206.8 1514.3,1212.8 1515.5,1214.4 1516.7,1204.1 1517.9,1203.4 1519.1,1204.3 1520.3,1200.9 1521.5,1202.7 1522.7,1192 1523.9,1194.1 1525.1,1197.2 1526.3,1199 1527.5,1197.3 1528.7,1191.6 1529.9,1188.5 1531.1,1194.9 1532.3,1193 1533.5,1196.9 1534.7,1198.2 1535.9,1192.7 1537.1,1194.2 1538.3,1189.4 1539.5,1191.9 1540.7,1194.1 1541.9,1189.3 1543.1,1189.8 1544.3,1181.8 1545.5,1182.8 1546.7,1188.8 1547.9,1191.2 1549.1,1194 1550.3,1189.5 1551.5,1195.1 1552.7,1193.2 1553.9,1190.4 1555.9,1190.4 1555.9,1252.3 1553.9,1252.3 1552.7,1246.3 1551.5,1252.8 1550.3,1252.1 1549.1,1255.2 1547.9,1251.3 1546.7,1252.1 1545.5,1244.2 1544.3,1251.3 1543.1,1250.5 1541.9,1246.8 1540.7,1247.3 1539.5,1251.5 1538.3,1253.2 1537.1,1252.7 1535.9,1248.3 1534.7,1246.9 1533.5,1252.3 1532.3,1254.4 1531.1,1249.6 1529.9,1255.7 1528.7,1253.3 1527.5,1255.9 1526.3,1252 1525.1,1255.9 1523.9,1256.1 1522.7,1255 1521.5,1256.3 1520.3,1249.9 1519.1,1251.3 1517.9,1249.9 1516.7,1253 1515.5,1255.4 1514.3,1255.2 1513.1,1255.3 1511.9,1253.2 1510.7,1252.7 1509.5,1253.6 1508.3,1252 1507.1,1253.4 1505.9,1254.2 1504.7,1249.8 1503.5,1251.9 1502.3,1253.5 1501.1,1255.1 1500.2,1255.1" fill="#156dcf"/><path d="M1501.1 1211.5h0M1501.1 1255.1h0M1501.1 1208.9h0M1502.3 1208.1h0M1502.3 1253.5h0M1502.4 1205.5h0M1502.5 1202.9h0M1501.9 1200.3h0M1502.2 1195.1h0M1502.7 1192.5h0M1503.5 1212.2h0M1503.5 1251.9h0M1503.5 1209.6h0M1503.1 1207h0M1503.3 1201.8h0M1503.3 1199.2h0M1503.6 1196.6h0M1503.1 1194h0M1503.2 1254.5h0M1504.7 1214.1h0M1504.7 1249.8h0M1504.9 1211.5h0M1505.9 1212.8h0M1505.9 1254.2h0M1505.6 1210.2h0M1506.2 1207.6h0M1507.1 1205.1h0M1507.1 1253.4h0M1506.8 1202.5h0M1507.2 1194.7h0M1506.9 1192.1h0M1508.3 1211.3h0M1508.3 1252h0M1508.1 1208.7h0M1508.6 1206.1h0M1509.5 1206.1h0M1509.5 1253.6h0M1510.7 1207.1h0M1510.7 1252.7h0M1511.9 1207.5h0M1511.9 1253.2h0M1512.1 1204.9h0M1512 1202.3h0M1512.2 1199.7h0M1511.6 1197.1h0M1511.6 1194.5h0M1511.9 1191.9h0M1511.6 1189.3h0M1513.1 1206.8h0M1513.1 1255.3h0M1513.4 1204.2h0M1512.7 1199h0M1512.9 1196.4h0M1514.3 1212.8h0M1514.3 1255.2h0M1514.7 1205h0M1514.1 1202.4h0M1514.2 1199.8h0M1514.5 1197.2h0M1514.4 1194.6h0M1513.9 1192h0M1514.6 1189.4h0M1515.5 1214.4h0M1515.5 1255.4h0M1516.7 1204.1h0M1516.7 1253h0M1517.9 1203.4h0M1517.9 1249.9h0M1517.9 1252.5h0M1519.1 1204.3h0M1519.1 1251.3h0M1520.3 1200.9h0M1520.3 1249.9h0M1521.5 1202.7h0M1521.5 1256.3h0M1522.7 1192h0M1522.7 1255h0M1522.7 1189.4h0M1523.9 1194.1h0M1523.9 1256.1h0M1523.8 1191.5h0M1524.2 1188.9h0M1524.2 1186.3h0M1525.1 1197.2h0M1525.1 1255.9h0M1526.3 1199h0M1526.3 1252h0M1526 1196.4h0M1526.5 1193.8h0M1527.5 1197.3h0M1527.5 1255.9h0M1528.7 1191.6h0M1528.7 1253.3h0M1529.9 1188.5h0M1529.9 1255.7h0M1530.1 1183.3h0M1530.3 1180.7h0M1529.9 1178.1h0M1531.1 1194.9h0M1531.1 1249.6h0M1531.4 1192.3h0M1532.3 1193h0M1532.3 1254.4h0M1533.5 1196.9h0M1533.5 1252.3h0M1533.5 1191.7h0M1533.6 1189.1h0M1533.8 1186.5h0M1533.7 1183.9h0M1533.2 1181.3h0M1533.1 1254.9h0M1534.7 1198.2h0M1534.7 1246.9h0M1534.3 1195.6h0M1535 1193h0M1534.4 1190.4h0M1535 1185.2h0M1534.6 1182.6h0M1534.4 1180h0M1534.9 1177.4h0M1534.4 1252.1h0M1535.9 1192.7h0M1535.9 1248.3h0M1535.8 1250.9h0M1537.1 1194.2h0M1537.1 1252.7h0M1536.9 1186.4h0M1536.8 1183.8h0M1537.5 1181.2h0M1537.4 1178.6h0M1537.5 1176h0M1537.1 1173.4h0M1536.8 1170.8h0M1538.3 1189.4h0M1538.3 1253.2h0M1538 1186.8h0M1539.5 1191.9h0M1539.5 1251.5h0M1539.5 1189.3h0M1539.5 1186.7h0M1539.7 1184.1h0M1540.7 1194.1h0M1540.7 1247.3h0M1541.9 1189.3h0M1541.9 1246.8h0M1541.7 1186.7h0M1543.1 1189.8h0M1543.1 1250.5h0M1543.2 1187.2h0M1543.4 1184.6h0M1544.3 1181.8h0M1544.3 1251.3h0M1544.4 1176.6h0M1543.9 1174h0M1544.6 1168.8h0M1544 1166.2h0M1544.7 1163.6h0M1544.3 1161h0M1545.5 1182.8h0M1545.5 1244.2h0M1545.3 1180.2h0M1545.3 1177.6h0M1545.7 1172.4h0M1545.2 1169.8h0M1545.8 1162h0M1546.7 1188.8h0M1546.7 1252.1h0M1547.9 1191.2h0M1547.9 1251.3h0M1547.6 1188.6h0M1547.5 1186h0M1547.5 1183.4h0M1547.8 1180.8h0M1547.8 1178.2h0M1548 1175.6h0M1548 1173h0M1547.7 1253.9h0M1549.1 1194h0M1549.1 1255.2h0M1549 1186.2h0M1548.9 1183.6h0M1549.3 1181h0M1549.4 1175.8h0M1548.7 1173.2h0M1550.3 1189.5h0M1550.3 1252.1h0M1550.3 1186.9h0M1550 1181.7h0M1550.6 1179.1h0M1551.5 1195.1h0M1551.5 1252.8h0M1551.3 1189.9h0M1551.8 1187.3h0M1551.6 1184.7h0M1551.6 1182.1h0M1552.7 1193.2h0M1552.7 1246.3h0M1552.4 1190.6h0M1552.4 1188h0M1552.5 1185.4h0M1553.9 1190.4h0M1553.9 1252.3h0M1554.1 1187.8h0M1553.5 1185.2h0M1554.1 1180h0M1554 1177.4h0M1553.8 1174.8h0M1553.5 1172.2h0M1553.9 1169.6h0M1554 1167h0" stroke="#156dcf" stroke-width="3.5" stroke-linecap="round" fill="none"/><path d="M897.5 1137.5h0M897.5 1140h0M913.5 1145h0M897.5 1163h0M897.5 1170h0M906 1163h0M906 1170h0M960 1165h0M987 1162.7h0M1012 1170.3h0M900 1178h0M905 1183h0M912 1180h0M918 1176h0M925 1185h0M935 1184h0M948 1186h0M955 1182h0M966 1188h0M975 1180h0M990 1176h0M995 1184h0M1001 1178h0M1008 1182h0M1015 1186h0M1123.4 1158.9h0M1150.8 1151.2h0M1150.8 1177.1h0M1166.7 1158.9h0M1166.7 1184.8h0M1129 1185h0M1155 1182h0M1160 1188h0M1140 1190h0M1175 1190h0M1258.6 1179.4h0M1273 1183.2h0M1281 1183.2h0M1265 1194h0M1255 1190h0M1318 1185h0M1322 1192h0M1330 1195h0M1357 1196h0M1361 1198h0M1366 1195h0M1392.7 1175.3h0M1392.7 1179h0M1392.7 1184h0M1387 1194h0M1412.4 1149.7h0M1412.4 1167.1h0M1413 1172h0M1413 1176h0M1420 1193h0M1495 1188h0M1519.8 1140h0M1519.8 1154.1h0M1519.8 1166.7h0M1526 1145.5h0M1526 1159.6h0M1529 1159h0M1534 1168h0M1534 1180h0M1542.5 1154.9h0M1546.5 1135.3h0M1546.5 1138.4h0M1548.8 1100.8h0M1548.8 1123.5h0M1553.5 1077.6h0M1553.5 1104.7h0M1553.5 1109.4h0M1553.5 1123.5h0M1553.5 1141.6h0M1553.5 1144.7h0M1553.5 1160h0M1553.5 1166h0M1553.5 1177h0M1514 1178h0M1510 1185h0M1505 1190h0M1517 1172h0" stroke="#156dcf" stroke-width="3.5" stroke-linecap="round" fill="none"/><path d="M1083 1160.4h0M1083 1168.8h0M1083 1175h0M1070 1173.3h0M1056 1182h0M1042 1188h0M1030 1193h0M1095 1178h0M1104 1182h0M1110 1186h0M1065 1183h0M1073 1180h0M1192.3 1144.7h0M1198 1168h0M1238.8 1162.4h0M1240 1170h0M1242 1174h0M1221.2 1180.2h0M1245 1180h0M1246 1186h0M1200 1182h0M1205 1186h0M1211 1190h0M1228 1188h0M1301.2 1182h0M1308.1 1171.8h0M1308.1 1176h0M1308.1 1179.4h0M1295 1195h0M1291 1190h0M1343.3 1103.9h0M1343.3 1123.5h0M1343.3 1144.7h0M1343.3 1164.3h0M1343.3 1177.6h0M1343.3 1182h0M1343 1186h0M1344 1190h0M1342 1194h0M1345 1198h0M1354 1191.8h0M1380 1198h0M1425 1188h0M1439.8 1177h0M1439.8 1183h0M1450 1175.3h0M1450 1180h0M1450 1185h0M1450 1190.2h0M1468 1175.3h0M1468 1187h0M1468 1190h0M1478.2 1169.8h0M1485 1190h0M1490 1181h0M1497 1184h0" stroke="#f20000" stroke-width="3.5" stroke-linecap="round" fill="none"/>
<path d="M1541.3 49.5L1489.8 77.5" stroke="#f00" stroke-width="2.1" stroke-linecap="round"/><path d="M1473 86.3L1489.5 69.5L1489.8 77.5L1496.5 81.3Z" fill="#f00"/>
<path d="M769.7 664.9L717.9 691.9" stroke="#f00" stroke-width="2.1" stroke-linecap="round"/><path d="M702.1 701.7L717.9 685.2L717.9 691.9L724.6 696.7Z" fill="#f00"/>
</svg></body></html>
